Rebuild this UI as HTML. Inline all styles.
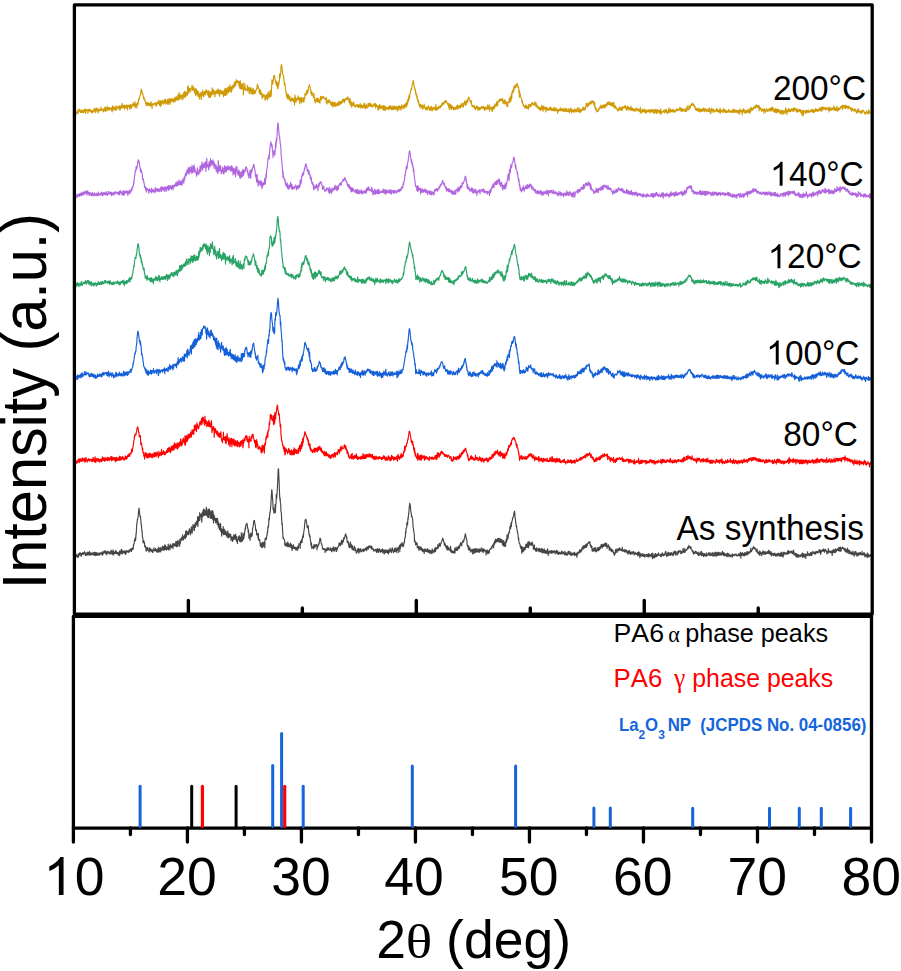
<!DOCTYPE html>
<html><head><meta charset="utf-8">
<style>
html,body{margin:0;padding:0;background:#fff;width:901px;height:971px;overflow:hidden;}
svg{display:block;}
text{font-family:"Liberation Sans",sans-serif;font-kerning:none;}
.serif{font-family:"Liberation Serif",serif;}
</style></head><body>
<svg width="901" height="971" viewBox="0 0 901 971">

<path d="M75.5 554.5 75.7 556.0 76.0 556.5 76.2 556.2 76.4 554.5 76.7 556.7 76.9 556.2 77.1 556.1 77.3 556.1 77.6 556.4 77.8 557.6 78.0 554.4 78.3 555.1 78.5 556.9 78.7 553.5 79.0 555.2 79.2 554.0 79.4 554.7 79.6 555.2 79.9 552.5 80.1 553.5 80.3 552.9 80.6 554.2 80.8 553.6 81.0 556.0 81.3 553.6 81.5 556.1 81.7 553.7 81.9 554.4 82.2 554.0 82.4 553.9 82.6 552.6 82.9 554.2 83.1 554.2 83.3 553.9 83.6 554.3 83.8 552.7 84.0 553.2 84.2 552.7 84.5 551.6 84.7 553.7 84.9 552.6 85.2 553.1 85.4 555.5 85.6 553.5 85.9 553.4 86.1 554.4 86.3 554.6 86.5 555.2 86.8 552.8 87.0 555.3 87.2 553.3 87.5 552.2 87.7 552.5 87.9 554.7 88.2 554.3 88.4 554.9 88.6 552.5 88.8 553.2 89.1 552.3 89.3 551.4 89.5 553.6 89.8 555.4 90.0 554.9 90.2 552.9 90.5 555.0 90.7 553.1 90.9 554.1 91.1 554.7 91.4 553.4 91.6 552.9 91.8 554.6 92.1 553.7 92.3 553.3 92.5 554.6 92.8 553.7 93.0 554.4 93.2 552.9 93.4 554.8 93.7 553.0 93.9 553.6 94.1 552.0 94.4 555.4 94.6 554.2 94.8 554.7 95.1 552.3 95.3 554.4 95.5 553.8 95.7 555.6 96.0 552.5 96.2 554.7 96.4 555.4 96.7 552.9 96.9 554.3 97.1 552.9 97.4 554.1 97.6 554.4 97.8 555.4 98.0 554.1 98.3 553.1 98.5 554.5 98.7 553.8 99.0 554.9 99.2 553.0 99.4 555.1 99.7 553.8 99.9 553.8 100.1 554.6 100.3 552.9 100.6 552.9 100.8 553.9 101.0 553.3 101.3 553.3 101.5 552.8 101.7 552.9 102.0 554.1 102.2 555.3 102.4 551.6 102.6 554.7 102.9 553.8 103.1 554.3 103.3 553.1 103.6 552.0 103.8 552.6 104.0 551.7 104.3 550.9 104.5 552.6 104.7 552.9 104.9 552.3 105.2 552.7 105.4 550.8 105.6 553.6 105.9 552.2 106.1 552.4 106.3 553.1 106.6 551.6 106.8 555.0 107.0 553.5 107.2 553.4 107.5 552.3 107.7 551.4 107.9 552.7 108.2 551.4 108.4 552.4 108.6 552.4 108.9 553.6 109.1 552.7 109.3 552.4 109.5 553.8 109.8 552.1 110.0 551.7 110.2 551.7 110.5 554.0 110.7 552.4 110.9 551.7 111.2 550.1 111.4 551.2 111.6 552.7 111.8 553.1 112.1 554.3 112.3 551.6 112.5 553.0 112.8 553.9 113.0 549.8 113.2 555.1 113.5 551.2 113.7 551.2 113.9 553.6 114.1 553.0 114.4 553.9 114.6 553.3 114.8 552.9 115.1 552.4 115.3 551.7 115.5 553.3 115.8 550.4 116.0 552.4 116.2 553.6 116.4 551.3 116.7 553.7 116.9 553.8 117.1 552.8 117.4 552.6 117.6 553.4 117.8 553.5 118.1 552.5 118.3 555.2 118.5 554.5 118.7 553.9 119.0 554.3 119.2 554.2 119.4 551.1 119.7 555.6 119.9 551.0 120.1 552.8 120.4 551.3 120.6 553.3 120.8 553.0 121.0 552.8 121.3 549.2 121.5 553.4 121.7 552.7 122.0 550.0 122.2 554.1 122.4 552.2 122.7 551.4 122.9 552.8 123.1 551.6 123.3 552.7 123.6 551.8 123.8 551.1 124.0 550.8 124.3 553.1 124.5 552.2 124.7 551.2 125.0 551.4 125.2 551.0 125.4 554.5 125.6 552.4 125.9 552.1 126.1 553.7 126.3 551.1 126.6 550.6 126.8 551.2 127.0 552.0 127.3 551.5 127.5 551.3 127.7 551.9 127.9 551.2 128.2 550.3 128.4 552.5 128.6 551.3 128.9 551.2 129.1 552.1 129.3 552.0 129.6 550.1 129.8 550.4 130.0 549.4 130.2 549.4 130.5 551.0 130.7 549.9 130.9 549.1 131.2 548.5 131.4 551.5 131.6 549.2 131.9 549.8 132.1 549.2 132.3 548.0 132.5 549.5 132.8 548.9 133.0 549.6 133.2 547.9 133.5 544.6 133.7 545.2 133.9 544.3 134.2 543.5 134.4 541.1 134.6 539.6 134.8 540.7 135.1 540.5 135.3 537.6 135.5 540.8 135.8 537.8 136.0 533.7 136.2 534.6 136.5 527.2 136.7 525.3 136.9 522.8 137.1 522.6 137.4 519.2 137.6 519.5 137.8 518.2 138.1 516.4 138.3 514.8 138.5 511.9 138.8 510.0 139.0 508.1 139.2 509.0 139.4 511.7 139.7 513.4 139.9 516.0 140.1 517.0 140.4 516.3 140.6 517.7 140.8 519.8 141.1 524.2 141.3 523.7 141.5 526.0 141.7 528.9 142.0 531.2 142.2 532.5 142.4 536.5 142.7 537.7 142.9 538.9 143.1 542.8 143.4 541.6 143.6 540.5 143.8 540.7 144.0 542.7 144.3 542.1 144.5 542.7 144.7 546.6 145.0 545.5 145.2 545.5 145.4 547.2 145.7 546.8 145.9 548.3 146.1 551.2 146.3 548.8 146.6 548.2 146.8 547.6 147.0 550.1 147.3 549.2 147.5 550.0 147.7 547.5 148.0 549.2 148.2 550.0 148.4 550.7 148.6 550.5 148.9 549.9 149.1 552.1 149.3 550.4 149.6 547.8 149.8 548.8 150.0 550.5 150.3 550.8 150.5 548.7 150.7 548.8 150.9 550.9 151.2 550.8 151.4 550.9 151.6 551.4 151.9 550.5 152.1 549.3 152.3 552.1 152.6 551.7 152.8 552.6 153.0 551.0 153.2 550.5 153.5 550.6 153.7 550.7 153.9 547.9 154.2 550.1 154.4 549.8 154.6 550.8 154.9 550.7 155.1 549.8 155.3 549.6 155.5 548.4 155.8 550.6 156.0 549.5 156.2 549.7 156.5 551.6 156.7 551.5 156.9 549.7 157.2 552.4 157.4 551.0 157.6 550.1 157.8 548.8 158.1 548.8 158.3 551.2 158.5 547.2 158.8 552.1 159.0 550.7 159.2 549.2 159.5 551.8 159.7 549.9 159.9 547.8 160.1 548.5 160.4 547.9 160.6 547.7 160.8 551.9 161.1 549.3 161.3 548.9 161.5 550.1 161.8 549.8 162.0 548.0 162.2 547.5 162.4 546.1 162.7 550.0 162.9 548.3 163.1 549.9 163.4 548.6 163.6 546.6 163.8 547.6 164.1 550.5 164.3 547.5 164.5 549.0 164.7 544.9 165.0 547.0 165.2 549.5 165.4 545.4 165.7 549.5 165.9 547.3 166.1 547.0 166.4 549.9 166.6 547.1 166.8 549.4 167.0 547.2 167.3 548.2 167.5 549.1 167.7 549.1 168.0 547.1 168.2 544.0 168.4 549.9 168.7 546.4 168.9 549.0 169.1 545.9 169.3 546.3 169.6 547.1 169.8 546.8 170.0 549.7 170.3 544.0 170.5 545.7 170.7 546.9 171.0 547.1 171.2 546.4 171.4 546.5 171.6 547.7 171.9 545.2 172.1 545.1 172.3 545.7 172.6 546.9 172.8 543.5 173.0 548.6 173.3 545.0 173.5 544.4 173.7 544.8 173.9 543.5 174.2 543.7 174.4 544.6 174.6 545.8 174.9 546.1 175.1 544.2 175.3 544.3 175.6 545.4 175.8 541.5 176.0 544.2 176.2 546.0 176.5 546.8 176.7 543.6 176.9 541.4 177.2 542.5 177.4 545.4 177.6 546.5 177.9 542.6 178.1 540.2 178.3 542.8 178.5 543.6 178.8 543.6 179.0 542.5 179.2 545.9 179.5 541.5 179.7 546.2 179.9 539.2 180.2 543.5 180.4 542.7 180.6 541.9 180.8 538.9 181.1 539.8 181.3 537.8 181.5 539.8 181.8 540.0 182.0 540.3 182.2 536.9 182.5 537.5 182.7 534.7 182.9 538.6 183.1 536.3 183.4 540.0 183.6 536.8 183.8 538.6 184.1 536.7 184.3 537.2 184.5 536.6 184.8 534.5 185.0 538.3 185.2 534.6 185.4 538.6 185.7 531.0 185.9 534.6 186.1 537.0 186.4 536.8 186.6 530.9 186.8 534.9 187.1 534.6 187.3 534.5 187.5 533.0 187.7 531.8 188.0 533.6 188.2 534.1 188.4 534.8 188.7 532.2 188.9 530.4 189.1 533.5 189.4 528.7 189.6 529.9 189.8 529.7 190.0 530.8 190.3 531.0 190.5 534.7 190.7 531.5 191.0 532.0 191.2 528.7 191.4 526.9 191.7 528.3 191.9 527.7 192.1 533.3 192.3 531.7 192.6 530.1 192.8 527.7 193.0 524.6 193.3 526.6 193.5 525.6 193.7 525.0 194.0 527.6 194.2 530.3 194.4 530.7 194.6 525.0 194.9 525.3 195.1 525.4 195.3 522.7 195.6 527.1 195.8 524.8 196.0 523.4 196.3 524.1 196.5 521.2 196.7 521.4 196.9 524.8 197.2 523.8 197.4 521.3 197.6 516.8 197.9 526.5 198.1 520.9 198.3 521.9 198.6 516.5 198.8 520.2 199.0 519.8 199.2 518.8 199.5 520.7 199.7 512.5 199.9 520.0 200.2 515.4 200.4 514.7 200.6 515.6 200.9 516.6 201.1 515.7 201.3 513.8 201.5 516.3 201.8 522.3 202.0 516.0 202.2 512.8 202.5 517.0 202.7 515.7 202.9 511.0 203.2 515.7 203.4 509.2 203.6 513.2 203.8 515.7 204.1 509.3 204.3 510.9 204.5 510.3 204.8 515.2 205.0 510.6 205.2 512.2 205.5 513.5 205.7 515.0 205.9 514.5 206.1 510.3 206.4 507.4 206.6 515.6 206.8 513.2 207.1 515.0 207.3 511.4 207.5 513.3 207.8 517.5 208.0 509.2 208.2 513.1 208.4 509.2 208.7 517.6 208.9 514.3 209.1 511.0 209.4 509.1 209.6 514.2 209.8 514.4 210.1 513.5 210.3 517.8 210.5 511.2 210.7 516.3 211.0 518.4 211.2 512.5 211.4 516.6 211.7 518.5 211.9 510.5 212.1 512.6 212.4 510.9 212.6 515.8 212.8 519.7 213.0 511.2 213.3 515.5 213.5 522.9 213.7 514.6 214.0 518.3 214.2 518.6 214.4 516.1 214.7 520.2 214.9 519.2 215.1 518.3 215.3 518.3 215.6 522.7 215.8 520.2 216.0 518.3 216.3 519.3 216.5 521.7 216.7 522.5 217.0 518.4 217.2 524.4 217.4 519.7 217.6 518.7 217.9 522.8 218.1 524.8 218.3 526.8 218.6 522.2 218.8 524.5 219.0 528.3 219.3 526.2 219.5 529.4 219.7 528.8 219.9 524.2 220.2 526.3 220.4 530.7 220.6 523.5 220.9 531.5 221.1 529.6 221.3 528.5 221.6 536.1 221.8 529.1 222.0 529.8 222.2 530.7 222.5 530.8 222.7 532.9 222.9 532.7 223.2 526.6 223.4 534.7 223.6 534.6 223.9 534.4 224.1 533.6 224.3 529.2 224.5 534.4 224.8 531.9 225.0 530.6 225.2 533.2 225.5 534.7 225.7 531.2 225.9 531.2 226.2 534.9 226.4 536.0 226.6 532.7 226.8 534.5 227.1 534.2 227.3 537.2 227.5 535.0 227.8 530.7 228.0 532.9 228.2 537.4 228.5 537.8 228.7 537.9 228.9 534.8 229.1 533.5 229.4 537.0 229.6 535.3 229.8 535.2 230.1 534.4 230.3 536.7 230.5 534.2 230.8 535.3 231.0 540.3 231.2 536.2 231.4 539.1 231.7 537.1 231.9 537.6 232.1 537.2 232.4 541.5 232.6 537.8 232.8 537.8 233.1 537.7 233.3 536.4 233.5 540.0 233.7 536.0 234.0 534.7 234.2 538.4 234.4 538.9 234.7 535.7 234.9 538.8 235.1 538.3 235.4 535.2 235.6 534.2 235.8 539.4 236.0 538.8 236.3 540.6 236.5 536.3 236.7 541.5 237.0 539.5 237.2 540.3 237.4 543.4 237.7 539.5 237.9 539.3 238.1 538.9 238.3 536.9 238.6 539.6 238.8 536.7 239.0 537.3 239.3 535.7 239.5 540.9 239.7 539.0 240.0 541.6 240.2 537.8 240.4 538.1 240.6 537.3 240.9 536.7 241.1 542.0 241.3 532.7 241.6 540.9 241.8 540.6 242.0 537.1 242.3 538.2 242.5 541.0 242.7 537.7 242.9 533.2 243.2 535.6 243.4 539.3 243.6 534.2 243.9 538.2 244.1 534.1 244.3 535.8 244.6 532.4 244.8 531.4 245.0 531.0 245.2 527.8 245.5 529.4 245.7 525.6 245.9 525.9 246.2 524.0 246.4 524.0 246.6 524.1 246.9 523.4 247.1 523.9 247.3 525.3 247.5 526.8 247.8 528.6 248.0 528.6 248.2 532.1 248.5 529.7 248.7 532.2 248.9 538.1 249.2 534.5 249.4 536.3 249.6 536.1 249.8 536.3 250.1 540.3 250.3 536.5 250.5 533.3 250.8 535.8 251.0 536.2 251.2 534.1 251.5 533.4 251.7 536.7 251.9 534.4 252.1 535.6 252.4 531.6 252.6 528.2 252.8 528.0 253.1 526.4 253.3 524.6 253.5 523.7 253.8 520.7 254.0 520.7 254.2 521.2 254.4 520.3 254.7 522.6 254.9 523.9 255.1 524.4 255.4 526.4 255.6 530.1 255.8 529.0 256.1 530.9 256.3 531.4 256.5 530.0 256.7 534.9 257.0 534.9 257.2 534.4 257.4 534.1 257.7 533.6 257.9 534.2 258.1 538.4 258.4 533.6 258.6 540.0 258.8 539.5 259.0 540.5 259.3 540.4 259.5 539.3 259.7 540.3 260.0 542.4 260.2 544.2 260.4 546.4 260.7 544.9 260.9 545.4 261.1 543.0 261.3 546.0 261.6 545.4 261.8 547.7 262.0 546.2 262.3 544.5 262.5 542.4 262.7 547.3 263.0 542.8 263.2 545.0 263.4 546.3 263.6 545.9 263.9 542.3 264.1 542.0 264.3 545.3 264.6 544.0 264.8 547.8 265.0 540.2 265.3 538.1 265.5 538.4 265.7 538.4 265.9 538.8 266.2 539.5 266.4 539.0 266.6 537.4 266.9 535.1 267.1 535.2 267.3 531.9 267.6 532.7 267.8 528.5 268.0 526.2 268.2 527.8 268.5 526.0 268.7 525.0 268.9 518.3 269.2 520.2 269.4 519.2 269.6 515.5 269.9 512.1 270.1 512.3 270.3 511.4 270.5 508.5 270.8 505.4 271.0 502.1 271.2 498.1 271.5 493.6 271.7 490.0 271.9 489.7 272.2 493.2 272.4 496.6 272.6 499.5 272.8 500.9 273.1 509.6 273.3 507.1 273.5 508.2 273.8 511.1 274.0 513.1 274.2 509.7 274.5 510.7 274.7 512.1 274.9 510.5 275.1 504.5 275.4 512.7 275.6 507.8 275.8 504.4 276.1 502.8 276.3 494.3 276.5 498.3 276.8 496.9 277.0 494.1 277.2 491.1 277.4 487.1 277.7 482.4 277.9 476.5 278.1 470.9 278.4 468.7 278.6 469.8 278.8 475.1 279.1 481.6 279.3 487.5 279.5 492.4 279.7 496.6 280.0 499.7 280.2 498.0 280.4 503.2 280.7 503.7 280.9 511.2 281.1 511.7 281.4 513.2 281.6 518.5 281.8 521.0 282.0 524.8 282.3 523.4 282.5 529.5 282.7 531.5 283.0 538.2 283.2 538.0 283.4 537.2 283.7 538.4 283.9 539.3 284.1 539.5 284.3 539.7 284.6 540.1 284.8 545.1 285.0 542.4 285.3 545.1 285.5 545.9 285.7 545.4 286.0 544.5 286.2 545.6 286.4 543.7 286.6 543.1 286.9 546.2 287.1 545.8 287.3 546.7 287.6 544.9 287.8 541.8 288.0 544.2 288.3 543.9 288.5 546.7 288.7 543.8 288.9 546.7 289.2 545.6 289.4 545.7 289.6 545.7 289.9 546.3 290.1 543.7 290.3 547.3 290.6 543.0 290.8 544.5 291.0 544.6 291.2 547.0 291.5 544.6 291.7 548.8 291.9 544.7 292.2 550.4 292.4 547.4 292.6 547.9 292.9 547.2 293.1 548.2 293.3 545.7 293.5 544.8 293.8 548.5 294.0 548.3 294.2 547.1 294.5 547.0 294.7 547.3 294.9 547.9 295.2 549.2 295.4 547.4 295.6 548.5 295.8 550.0 296.1 548.0 296.3 549.3 296.5 547.5 296.8 548.7 297.0 548.3 297.2 550.7 297.5 548.0 297.7 546.3 297.9 548.0 298.1 546.3 298.4 548.8 298.6 546.9 298.8 545.1 299.1 543.6 299.3 544.9 299.5 544.0 299.8 543.7 300.0 543.6 300.2 548.3 300.4 541.3 300.7 542.4 300.9 542.9 301.1 543.0 301.4 540.4 301.6 540.6 301.8 539.3 302.1 542.5 302.3 537.8 302.5 538.6 302.7 536.2 303.0 537.7 303.2 534.5 303.4 536.9 303.7 532.2 303.9 531.4 304.1 529.8 304.4 528.3 304.6 525.4 304.8 522.7 305.0 520.8 305.3 520.1 305.5 519.6 305.7 519.3 306.0 519.5 306.2 521.0 306.4 521.9 306.7 523.3 306.9 525.0 307.1 526.8 307.3 527.8 307.6 527.7 307.8 526.4 308.0 527.6 308.3 525.7 308.5 530.8 308.7 530.5 309.0 533.9 309.2 535.2 309.4 534.0 309.6 536.6 309.9 536.7 310.1 535.7 310.3 540.0 310.6 540.8 310.8 542.1 311.0 545.6 311.3 542.7 311.5 543.0 311.7 548.1 311.9 548.6 312.2 547.7 312.4 546.8 312.6 547.1 312.9 547.1 313.1 546.9 313.3 546.2 313.6 548.6 313.8 545.8 314.0 544.6 314.2 546.7 314.5 545.5 314.7 545.2 314.9 547.6 315.2 544.8 315.4 545.1 315.6 545.7 315.9 545.2 316.1 546.0 316.3 546.1 316.5 544.7 316.8 544.5 317.0 549.8 317.2 546.9 317.5 545.8 317.7 547.0 317.9 546.2 318.2 545.7 318.4 544.6 318.6 544.1 318.8 543.3 319.1 544.2 319.3 541.6 319.5 541.0 319.8 540.0 320.0 538.1 320.2 539.4 320.5 539.3 320.7 539.0 320.9 542.0 321.1 542.9 321.4 543.7 321.6 543.8 321.8 544.3 322.1 545.9 322.3 546.2 322.5 548.7 322.8 548.7 323.0 549.7 323.2 548.8 323.4 548.5 323.7 548.5 323.9 548.5 324.1 548.7 324.4 549.5 324.6 549.3 324.8 549.1 325.1 552.5 325.3 549.4 325.5 549.7 325.7 549.0 326.0 550.7 326.2 550.6 326.4 549.6 326.7 551.0 326.9 550.4 327.1 547.8 327.4 547.9 327.6 548.4 327.8 549.9 328.0 548.8 328.3 547.6 328.5 549.0 328.7 549.8 329.0 549.7 329.2 550.0 329.4 549.5 329.7 550.0 329.9 549.4 330.1 548.5 330.3 547.8 330.6 549.5 330.8 550.3 331.0 548.7 331.3 548.7 331.5 550.6 331.7 551.8 332.0 551.4 332.2 548.6 332.4 548.3 332.6 548.9 332.9 549.5 333.1 549.7 333.3 546.7 333.6 550.9 333.8 550.4 334.0 548.5 334.3 549.8 334.5 548.2 334.7 549.0 334.9 551.1 335.2 547.2 335.4 548.2 335.6 548.3 335.9 548.5 336.1 549.3 336.3 548.7 336.6 551.4 336.8 547.6 337.0 549.9 337.2 548.2 337.5 549.0 337.7 547.9 337.9 547.4 338.2 546.6 338.4 546.7 338.6 545.3 338.9 545.5 339.1 542.8 339.3 545.3 339.5 544.1 339.8 544.6 340.0 543.4 340.2 545.8 340.5 543.7 340.7 543.4 340.9 545.0 341.2 541.4 341.4 542.8 341.6 540.2 341.8 540.7 342.1 540.6 342.3 544.2 342.5 540.3 342.8 542.2 343.0 541.5 343.2 542.1 343.5 539.6 343.7 538.0 343.9 537.6 344.1 539.3 344.4 537.7 344.6 537.5 344.8 536.7 345.1 535.2 345.3 534.6 345.5 534.8 345.8 533.9 346.0 535.1 346.2 536.2 346.4 537.9 346.7 536.8 346.9 537.5 347.1 542.0 347.4 542.2 347.6 541.5 347.8 542.0 348.1 543.3 348.3 541.5 348.5 543.0 348.7 546.1 349.0 546.4 349.2 547.6 349.4 546.1 349.7 547.4 349.9 543.7 350.1 544.0 350.4 542.0 350.6 544.2 350.8 543.8 351.0 547.5 351.3 547.8 351.5 545.0 351.7 544.8 352.0 548.6 352.2 549.2 352.4 545.9 352.7 548.1 352.9 549.8 353.1 548.5 353.3 550.3 353.6 548.5 353.8 548.9 354.0 548.2 354.3 546.0 354.5 548.3 354.7 547.9 355.0 550.8 355.2 547.7 355.4 549.5 355.6 549.9 355.9 550.8 356.1 550.3 356.3 553.2 356.6 551.2 356.8 551.0 357.0 551.2 357.3 552.3 357.5 548.9 357.7 549.9 357.9 550.9 358.2 549.8 358.4 551.0 358.6 548.3 358.9 553.3 359.1 551.1 359.3 550.8 359.6 549.3 359.8 551.7 360.0 551.8 360.2 549.8 360.5 550.4 360.7 548.5 360.9 550.7 361.2 550.5 361.4 551.7 361.6 551.0 361.9 551.9 362.1 550.0 362.3 550.5 362.5 549.9 362.8 550.1 363.0 549.2 363.2 549.9 363.5 549.2 363.7 551.4 363.9 550.4 364.2 550.0 364.4 549.1 364.6 550.9 364.8 549.5 365.1 549.9 365.3 548.4 365.5 549.3 365.8 547.9 366.0 547.8 366.2 547.8 366.5 550.6 366.7 548.4 366.9 550.0 367.1 546.8 367.4 548.3 367.6 547.0 367.8 547.9 368.1 549.2 368.3 548.9 368.5 546.2 368.8 547.8 369.0 547.7 369.2 546.6 369.4 546.2 369.7 545.9 369.9 547.1 370.1 545.7 370.4 547.0 370.6 547.6 370.8 546.7 371.1 546.3 371.3 548.9 371.5 547.9 371.7 546.2 372.0 548.1 372.2 549.0 372.4 548.0 372.7 549.5 372.9 549.4 373.1 549.8 373.4 549.0 373.6 548.9 373.8 551.1 374.0 550.2 374.3 550.5 374.5 550.7 374.7 550.4 375.0 550.5 375.2 550.4 375.4 550.1 375.7 549.3 375.9 551.1 376.1 550.5 376.3 549.7 376.6 551.2 376.8 552.6 377.0 549.0 377.3 550.5 377.5 551.9 377.7 548.5 378.0 550.3 378.2 550.2 378.4 549.6 378.6 552.4 378.9 551.4 379.1 550.3 379.3 548.7 379.6 550.6 379.8 549.4 380.0 551.1 380.3 550.1 380.5 550.9 380.7 552.4 380.9 551.6 381.2 550.3 381.4 550.5 381.6 549.6 381.9 551.6 382.1 549.6 382.3 550.0 382.6 548.9 382.8 550.9 383.0 553.2 383.2 550.2 383.5 550.3 383.7 550.2 383.9 551.0 384.2 551.4 384.4 554.0 384.6 552.5 384.9 551.2 385.1 549.7 385.3 552.7 385.5 551.6 385.8 550.1 386.0 551.5 386.2 551.2 386.5 552.5 386.7 551.6 386.9 550.1 387.2 551.4 387.4 553.0 387.6 551.5 387.8 550.4 388.1 550.2 388.3 553.9 388.5 552.5 388.8 549.7 389.0 551.5 389.2 552.4 389.5 551.8 389.7 550.1 389.9 550.6 390.1 548.2 390.4 550.3 390.6 550.4 390.8 551.7 391.1 550.2 391.3 549.8 391.5 552.5 391.8 551.7 392.0 549.7 392.2 547.7 392.4 548.1 392.7 550.1 392.9 550.3 393.1 550.1 393.4 551.4 393.6 552.6 393.8 551.2 394.1 550.6 394.3 550.5 394.5 548.3 394.7 551.4 395.0 549.8 395.2 551.4 395.4 548.5 395.7 549.7 395.9 547.9 396.1 549.6 396.4 552.3 396.6 549.0 396.8 549.3 397.0 549.3 397.3 550.3 397.5 548.3 397.7 548.8 398.0 547.4 398.2 552.7 398.4 548.0 398.7 548.4 398.9 546.8 399.1 548.3 399.3 547.7 399.6 545.2 399.8 551.6 400.0 546.9 400.3 546.7 400.5 548.2 400.7 544.0 401.0 546.5 401.2 544.7 401.4 545.3 401.6 545.5 401.9 542.5 402.1 545.0 402.3 545.9 402.6 543.9 402.8 545.4 403.0 544.6 403.3 546.8 403.5 544.4 403.7 544.9 403.9 543.6 404.2 541.5 404.4 542.9 404.6 539.6 404.9 538.0 405.1 537.1 405.3 537.8 405.6 531.6 405.8 533.7 406.0 528.3 406.2 528.3 406.5 528.2 406.7 527.5 406.9 522.6 407.2 524.4 407.4 522.8 407.6 524.8 407.9 517.9 408.1 519.7 408.3 516.9 408.5 515.2 408.8 513.2 409.0 510.3 409.2 507.9 409.5 505.1 409.7 503.2 409.9 504.3 410.2 504.9 410.4 506.2 410.6 509.1 410.8 511.3 411.1 512.8 411.3 514.2 411.5 516.6 411.8 515.8 412.0 516.5 412.2 516.9 412.5 518.5 412.7 520.2 412.9 523.6 413.1 527.4 413.4 528.0 413.6 530.2 413.8 531.3 414.1 533.4 414.3 534.1 414.5 541.4 414.8 540.3 415.0 540.8 415.2 542.6 415.4 542.6 415.7 545.0 415.9 544.2 416.1 542.4 416.4 543.5 416.6 543.3 416.8 544.7 417.1 543.1 417.3 548.0 417.5 546.5 417.7 546.6 418.0 547.1 418.2 547.9 418.4 546.2 418.7 547.9 418.9 550.3 419.1 550.4 419.4 547.2 419.6 548.2 419.8 548.5 420.0 546.5 420.3 548.2 420.5 549.0 420.7 549.8 421.0 549.0 421.2 547.3 421.4 549.0 421.7 548.3 421.9 550.7 422.1 550.6 422.3 548.9 422.6 551.3 422.8 549.2 423.0 550.1 423.3 551.7 423.5 550.7 423.7 549.6 424.0 550.2 424.2 553.5 424.4 549.8 424.6 550.7 424.9 548.9 425.1 551.0 425.3 549.8 425.6 551.5 425.8 549.4 426.0 551.4 426.3 550.7 426.5 551.1 426.7 551.4 426.9 551.8 427.2 549.7 427.4 548.5 427.6 550.8 427.9 551.9 428.1 549.6 428.3 552.4 428.6 550.0 428.8 551.4 429.0 551.3 429.2 551.4 429.5 553.1 429.7 550.0 429.9 550.3 430.2 550.9 430.4 551.9 430.6 550.6 430.9 553.4 431.1 551.8 431.3 551.8 431.5 551.3 431.8 553.1 432.0 553.7 432.2 548.9 432.5 552.8 432.7 550.8 432.9 552.4 433.2 551.9 433.4 551.9 433.6 551.1 433.8 550.4 434.1 551.8 434.3 549.4 434.5 552.2 434.8 551.0 435.0 548.3 435.2 547.6 435.5 551.5 435.7 549.1 435.9 547.6 436.1 549.9 436.4 548.7 436.6 548.9 436.8 548.1 437.1 548.0 437.3 548.4 437.5 548.5 437.8 544.7 438.0 546.8 438.2 547.6 438.4 547.8 438.7 545.8 438.9 545.9 439.1 544.7 439.4 543.2 439.6 544.6 439.8 545.9 440.1 544.8 440.3 546.2 440.5 543.6 440.7 544.4 441.0 543.2 441.2 543.3 441.4 541.6 441.7 541.3 441.9 540.6 442.1 540.0 442.4 540.4 442.6 538.1 442.8 539.3 443.0 538.7 443.3 539.7 443.5 540.1 443.7 541.1 444.0 543.1 444.2 542.4 444.4 545.3 444.7 542.8 444.9 544.8 445.1 544.6 445.3 544.1 445.6 546.5 445.8 545.5 446.0 547.8 446.3 545.9 446.5 547.5 446.7 547.8 447.0 550.0 447.2 548.3 447.4 547.1 447.6 545.9 447.9 548.0 448.1 550.0 448.3 549.2 448.6 547.6 448.8 549.0 449.0 549.7 449.3 548.8 449.5 549.3 449.7 549.3 449.9 549.7 450.2 551.0 450.4 546.6 450.6 546.4 450.9 551.6 451.1 549.7 451.3 552.0 451.6 552.6 451.8 550.2 452.0 550.7 452.2 552.5 452.5 552.7 452.7 551.9 452.9 552.6 453.2 551.3 453.4 552.4 453.6 551.4 453.9 553.1 454.1 550.9 454.3 551.6 454.5 551.7 454.8 548.1 455.0 553.0 455.2 548.6 455.5 550.1 455.7 549.7 455.9 549.8 456.2 547.1 456.4 550.5 456.6 549.9 456.8 549.5 457.1 549.5 457.3 550.5 457.5 548.1 457.8 547.4 458.0 549.3 458.2 546.3 458.5 547.1 458.7 546.2 458.9 548.7 459.1 546.9 459.4 548.1 459.6 547.3 459.8 544.8 460.1 545.8 460.3 544.2 460.5 542.8 460.8 545.0 461.0 543.2 461.2 544.1 461.4 543.7 461.7 545.8 461.9 542.9 462.1 542.3 462.4 542.6 462.6 541.1 462.8 542.3 463.1 542.5 463.3 541.0 463.5 540.0 463.7 540.1 464.0 540.9 464.2 538.9 464.4 538.6 464.7 537.1 464.9 535.9 465.1 535.6 465.4 533.7 465.6 535.0 465.8 535.3 466.0 537.1 466.3 538.1 466.5 539.3 466.7 539.1 467.0 542.4 467.2 545.2 467.4 545.6 467.7 546.5 467.9 545.3 468.1 546.3 468.3 548.9 468.6 546.0 468.8 546.5 469.0 550.4 469.3 549.3 469.5 549.9 469.7 548.5 470.0 547.8 470.2 549.2 470.4 550.0 470.6 551.5 470.9 552.3 471.1 549.8 471.3 551.3 471.6 549.9 471.8 550.3 472.0 550.5 472.3 549.3 472.5 549.5 472.7 554.0 472.9 549.6 473.2 553.0 473.4 550.1 473.6 551.4 473.9 548.8 474.1 553.4 474.3 551.5 474.6 548.9 474.8 550.7 475.0 551.7 475.2 548.9 475.5 552.5 475.7 550.3 475.9 550.5 476.2 548.6 476.4 550.1 476.6 552.1 476.9 550.5 477.1 549.7 477.3 549.1 477.5 549.5 477.8 551.8 478.0 550.1 478.2 549.0 478.5 551.8 478.7 550.3 478.9 552.4 479.2 552.5 479.4 550.6 479.6 548.9 479.8 549.4 480.1 551.3 480.3 551.1 480.5 550.0 480.8 551.1 481.0 550.1 481.2 547.9 481.5 550.7 481.7 549.8 481.9 550.0 482.1 549.4 482.4 552.0 482.6 550.1 482.8 548.5 483.1 549.7 483.3 552.3 483.5 549.6 483.8 549.0 484.0 550.4 484.2 550.8 484.4 550.9 484.7 549.7 484.9 550.2 485.1 550.2 485.4 551.6 485.6 550.5 485.8 551.5 486.1 555.0 486.3 551.3 486.5 551.3 486.7 551.2 487.0 549.8 487.2 552.5 487.4 550.4 487.7 553.7 487.9 550.7 488.1 553.7 488.4 551.0 488.6 552.5 488.8 550.8 489.0 552.7 489.3 553.0 489.5 550.1 489.7 549.7 490.0 549.1 490.2 549.1 490.4 549.0 490.7 549.1 490.9 549.1 491.1 547.5 491.3 547.7 491.6 547.0 491.8 546.3 492.0 548.3 492.3 545.7 492.5 545.8 492.7 545.5 493.0 545.1 493.2 544.2 493.4 544.7 493.6 547.6 493.9 543.1 494.1 542.7 494.3 544.6 494.6 541.0 494.8 543.4 495.0 541.3 495.3 540.6 495.5 539.4 495.7 542.6 495.9 539.4 496.2 541.1 496.4 540.1 496.6 541.4 496.9 539.5 497.1 541.8 497.3 540.4 497.6 541.3 497.8 538.3 498.0 540.4 498.2 541.6 498.5 541.1 498.7 538.5 498.9 538.4 499.2 539.4 499.4 539.5 499.6 542.1 499.9 541.5 500.1 538.3 500.3 541.8 500.5 542.1 500.8 542.5 501.0 540.9 501.2 540.0 501.5 539.7 501.7 542.5 501.9 539.3 502.2 540.6 502.4 544.5 502.6 544.8 502.8 544.3 503.1 542.3 503.3 546.0 503.5 540.5 503.8 542.0 504.0 543.8 504.2 545.5 504.5 542.0 504.7 546.4 504.9 544.7 505.1 544.8 505.4 543.5 505.6 546.1 505.8 541.6 506.1 539.5 506.3 542.3 506.5 542.1 506.8 540.6 507.0 534.9 507.2 539.7 507.4 537.2 507.7 535.4 507.9 537.9 508.1 538.4 508.4 533.2 508.6 534.4 508.8 532.2 509.1 533.2 509.3 531.8 509.5 532.3 509.7 529.3 510.0 526.4 510.2 529.0 510.4 527.7 510.7 528.5 510.9 523.2 511.1 524.4 511.4 526.5 511.6 522.2 511.8 522.5 512.0 521.0 512.3 520.3 512.5 518.8 512.7 518.0 513.0 517.2 513.2 517.0 513.4 516.8 513.7 515.9 513.9 513.4 514.1 512.4 514.3 511.9 514.6 511.2 514.8 513.5 515.0 516.8 515.3 518.8 515.5 520.7 515.7 522.7 516.0 523.5 516.2 526.7 516.4 526.3 516.6 525.9 516.9 528.8 517.1 530.6 517.3 530.9 517.6 532.8 517.8 533.0 518.0 534.5 518.3 537.7 518.5 539.8 518.7 538.0 518.9 541.9 519.2 542.5 519.4 543.7 519.6 543.9 519.9 544.0 520.1 544.6 520.3 546.8 520.6 547.4 520.8 548.4 521.0 546.5 521.2 546.0 521.5 547.7 521.7 553.2 521.9 548.1 522.2 547.3 522.4 547.0 522.6 549.9 522.9 551.9 523.1 549.0 523.3 551.8 523.5 548.1 523.8 547.5 524.0 548.2 524.2 550.3 524.5 547.6 524.7 547.2 524.9 547.7 525.2 549.6 525.4 548.0 525.6 547.6 525.8 544.2 526.1 546.3 526.3 547.0 526.5 547.3 526.8 547.2 527.0 543.8 527.2 547.3 527.5 544.2 527.7 547.2 527.9 542.0 528.1 545.9 528.4 544.9 528.6 547.6 528.8 544.3 529.1 541.4 529.3 544.7 529.5 543.4 529.8 542.9 530.0 545.1 530.2 544.2 530.4 543.5 530.7 543.2 530.9 543.3 531.1 544.5 531.4 545.4 531.6 542.9 531.8 542.5 532.1 542.0 532.3 543.1 532.5 545.0 532.7 543.5 533.0 545.4 533.2 545.5 533.4 549.1 533.7 546.6 533.9 547.7 534.1 548.8 534.4 545.1 534.6 549.5 534.8 548.8 535.0 549.7 535.3 548.6 535.5 550.7 535.7 548.7 536.0 549.5 536.2 551.5 536.4 551.2 536.7 547.7 536.9 548.6 537.1 549.4 537.3 549.1 537.6 549.6 537.8 550.9 538.0 550.6 538.3 550.6 538.5 551.1 538.7 548.4 539.0 549.3 539.2 551.7 539.4 548.8 539.6 548.5 539.9 549.6 540.1 548.8 540.3 549.8 540.6 551.9 540.8 550.6 541.0 550.5 541.3 549.3 541.5 548.9 541.7 552.2 541.9 548.3 542.2 549.4 542.4 553.0 542.6 550.9 542.9 549.5 543.1 552.7 543.3 550.6 543.6 551.2 543.8 552.5 544.0 550.4 544.2 548.8 544.5 551.2 544.7 553.0 544.9 551.7 545.2 551.8 545.4 550.3 545.6 551.7 545.9 553.4 546.1 553.0 546.3 551.2 546.5 552.8 546.8 551.1 547.0 553.3 547.2 549.9 547.5 551.7 547.7 548.7 547.9 551.2 548.2 555.4 548.4 551.3 548.6 553.5 548.8 552.3 549.1 553.5 549.3 551.1 549.5 551.1 549.8 551.6 550.0 551.8 550.2 551.8 550.5 552.4 550.7 550.8 550.9 552.6 551.1 553.4 551.4 550.9 551.6 550.7 551.8 552.9 552.1 552.2 552.3 553.0 552.5 550.8 552.8 551.5 553.0 552.6 553.2 551.3 553.4 552.4 553.7 552.2 553.9 551.2 554.1 551.8 554.4 551.1 554.6 550.8 554.8 551.4 555.1 554.0 555.3 552.2 555.5 552.7 555.7 551.6 556.0 551.8 556.2 552.4 556.4 550.3 556.7 550.7 556.9 551.1 557.1 553.9 557.4 553.2 557.6 551.0 557.8 551.7 558.0 553.2 558.3 552.2 558.5 554.5 558.7 553.1 559.0 552.3 559.2 553.0 559.4 553.7 559.7 553.1 559.9 552.2 560.1 553.9 560.3 554.0 560.6 553.1 560.8 554.0 561.0 554.0 561.3 553.7 561.5 551.4 561.7 551.1 562.0 553.1 562.2 553.8 562.4 552.9 562.6 552.0 562.9 553.4 563.1 552.0 563.3 552.2 563.6 553.1 563.8 553.9 564.0 553.9 564.3 552.9 564.5 553.1 564.7 554.9 564.9 551.2 565.2 553.5 565.4 554.0 565.6 554.4 565.9 553.4 566.1 552.9 566.3 555.0 566.6 553.1 566.8 553.4 567.0 555.4 567.2 553.8 567.5 553.2 567.7 552.9 567.9 554.4 568.2 551.2 568.4 553.0 568.6 553.6 568.9 553.8 569.1 551.3 569.3 553.1 569.5 554.1 569.8 552.5 570.0 552.7 570.2 551.9 570.5 555.1 570.7 555.2 570.9 555.2 571.2 553.0 571.4 553.9 571.6 554.4 571.8 555.3 572.1 552.9 572.3 554.9 572.5 554.4 572.8 555.0 573.0 554.9 573.2 553.5 573.5 554.4 573.7 553.5 573.9 552.5 574.1 554.3 574.4 552.2 574.6 555.7 574.8 554.9 575.1 553.7 575.3 554.8 575.5 553.8 575.8 554.4 576.0 553.1 576.2 555.4 576.4 553.0 576.7 553.4 576.9 557.3 577.1 555.2 577.4 553.3 577.6 554.7 577.8 552.2 578.1 553.2 578.3 552.1 578.5 552.0 578.7 552.5 579.0 552.8 579.2 553.1 579.4 551.4 579.7 549.5 579.9 551.4 580.1 551.0 580.4 552.0 580.6 550.7 580.8 552.2 581.0 550.9 581.3 549.3 581.5 549.7 581.7 548.9 582.0 550.8 582.2 547.3 582.4 547.9 582.7 548.6 582.9 546.5 583.1 548.7 583.3 545.7 583.6 548.9 583.8 547.8 584.0 547.0 584.3 547.1 584.5 545.5 584.7 548.0 585.0 547.7 585.2 545.1 585.4 546.8 585.6 546.0 585.9 545.9 586.1 544.0 586.3 547.5 586.6 546.3 586.8 544.1 587.0 544.4 587.3 545.8 587.5 543.7 587.7 543.2 587.9 543.4 588.2 543.2 588.4 542.4 588.6 542.3 588.9 542.9 589.1 541.8 589.3 541.9 589.6 542.8 589.8 541.6 590.0 543.0 590.2 545.2 590.5 544.3 590.7 546.6 590.9 546.4 591.2 547.4 591.4 545.8 591.6 546.2 591.9 546.5 592.1 550.9 592.3 549.0 592.5 550.1 592.8 551.1 593.0 551.5 593.2 549.7 593.5 548.4 593.7 549.8 593.9 550.5 594.2 550.2 594.4 550.5 594.6 547.9 594.8 549.5 595.1 548.7 595.3 551.7 595.5 548.8 595.8 547.5 596.0 550.5 596.2 551.8 596.5 551.1 596.7 550.9 596.9 550.5 597.1 549.7 597.4 549.3 597.6 547.9 597.8 549.8 598.1 550.8 598.3 550.5 598.5 547.3 598.8 550.5 599.0 548.6 599.2 549.4 599.4 549.7 599.7 547.2 599.9 548.0 600.1 548.9 600.4 546.5 600.6 546.9 600.8 547.9 601.1 544.5 601.3 544.8 601.5 546.0 601.7 544.6 602.0 545.4 602.2 547.9 602.4 546.5 602.7 547.0 602.9 544.2 603.1 546.4 603.4 545.0 603.6 546.4 603.8 544.2 604.0 544.9 604.3 544.9 604.5 546.0 604.7 544.5 605.0 543.1 605.2 544.3 605.4 546.2 605.7 543.8 605.9 543.1 606.1 544.2 606.3 546.0 606.6 543.3 606.8 544.1 607.0 548.5 607.3 545.4 607.5 545.7 607.7 546.5 608.0 546.6 608.2 545.7 608.4 546.4 608.6 544.8 608.9 547.8 609.1 547.6 609.3 550.3 609.6 546.9 609.8 547.4 610.0 547.5 610.3 548.3 610.5 549.8 610.7 550.6 610.9 549.0 611.2 549.7 611.4 549.2 611.6 551.6 611.9 549.3 612.1 550.0 612.3 551.1 612.6 551.6 612.8 550.1 613.0 551.4 613.2 552.0 613.5 553.4 613.7 552.1 613.9 552.2 614.2 555.2 614.4 553.9 614.6 555.1 614.9 554.5 615.1 552.9 615.3 553.2 615.5 549.5 615.8 550.0 616.0 551.0 616.2 552.3 616.5 551.2 616.7 550.0 616.9 549.1 617.2 552.1 617.4 548.9 617.6 550.3 617.8 550.0 618.1 549.3 618.3 549.7 618.5 549.6 618.8 550.9 619.0 548.1 619.2 548.6 619.5 547.8 619.7 550.1 619.9 549.7 620.1 549.3 620.4 549.2 620.6 549.0 620.8 549.7 621.1 550.4 621.3 550.3 621.5 549.6 621.8 550.7 622.0 549.7 622.2 547.2 622.4 551.3 622.7 549.5 622.9 549.5 623.1 550.9 623.4 550.3 623.6 550.0 623.8 550.4 624.1 551.4 624.3 550.8 624.5 550.7 624.7 549.6 625.0 552.1 625.2 549.7 625.4 550.3 625.7 551.7 625.9 550.8 626.1 551.7 626.4 550.0 626.6 551.2 626.8 552.3 627.0 552.9 627.3 551.3 627.5 551.9 627.7 552.2 628.0 554.2 628.2 550.8 628.4 553.7 628.7 551.0 628.9 552.4 629.1 553.3 629.3 550.8 629.6 552.9 629.8 550.5 630.0 553.1 630.3 552.6 630.5 554.5 630.7 552.9 631.0 553.2 631.2 552.4 631.4 554.0 631.6 552.2 631.9 551.8 632.1 552.9 632.3 553.6 632.6 553.6 632.8 553.0 633.0 552.6 633.3 551.5 633.5 551.6 633.7 553.1 633.9 554.0 634.2 555.0 634.4 554.5 634.6 554.2 634.9 553.1 635.1 552.1 635.3 553.3 635.6 552.9 635.8 553.1 636.0 554.4 636.2 553.2 636.5 553.4 636.7 554.0 636.9 554.2 637.2 554.2 637.4 555.2 637.6 552.4 637.9 555.9 638.1 553.7 638.3 553.0 638.5 555.4 638.8 551.9 639.0 554.5 639.2 552.0 639.5 555.6 639.7 553.7 639.9 557.8 640.2 553.2 640.4 556.3 640.6 554.4 640.8 554.5 641.1 554.0 641.3 554.0 641.5 554.4 641.8 556.4 642.0 555.7 642.2 555.6 642.5 553.8 642.7 555.1 642.9 555.8 643.1 553.8 643.4 555.9 643.6 556.5 643.8 555.4 644.1 555.2 644.3 555.7 644.5 554.3 644.8 556.3 645.0 557.3 645.2 555.1 645.4 555.5 645.7 554.8 645.9 554.8 646.1 554.7 646.4 554.4 646.6 556.5 646.8 555.0 647.1 555.2 647.3 555.5 647.5 554.3 647.7 556.5 648.0 556.4 648.2 557.0 648.4 553.9 648.7 555.7 648.9 557.0 649.1 553.7 649.4 555.0 649.6 554.2 649.8 555.7 650.0 556.0 650.3 555.8 650.5 555.2 650.7 556.2 651.0 554.6 651.2 556.9 651.4 555.7 651.7 553.6 651.9 555.6 652.1 556.2 652.3 553.0 652.6 558.6 652.8 555.1 653.0 553.8 653.3 557.1 653.5 557.6 653.7 557.1 654.0 556.2 654.2 555.6 654.4 557.8 654.6 556.6 654.9 553.8 655.1 556.9 655.3 557.0 655.6 553.6 655.8 553.7 656.0 556.9 656.3 555.4 656.5 554.8 656.7 554.8 656.9 556.5 657.2 555.0 657.4 554.0 657.6 555.8 657.9 555.0 658.1 555.2 658.3 555.2 658.6 552.8 658.8 555.0 659.0 554.9 659.2 555.2 659.5 555.2 659.7 555.1 659.9 554.9 660.2 555.7 660.4 554.9 660.6 556.5 660.9 554.3 661.1 554.2 661.3 556.6 661.5 555.1 661.8 554.5 662.0 553.1 662.2 555.1 662.5 553.0 662.7 553.8 662.9 554.3 663.2 555.9 663.4 555.6 663.6 554.8 663.8 555.2 664.1 554.3 664.3 555.3 664.5 554.4 664.8 555.0 665.0 555.0 665.2 552.0 665.5 552.5 665.7 551.4 665.9 551.6 666.1 553.8 666.4 554.1 666.6 555.5 666.8 556.7 667.1 553.7 667.3 555.6 667.5 555.7 667.8 554.9 668.0 552.1 668.2 552.8 668.4 553.0 668.7 554.5 668.9 555.6 669.1 552.7 669.4 553.3 669.6 553.9 669.8 554.4 670.1 553.1 670.3 555.3 670.5 554.4 670.7 555.3 671.0 552.8 671.2 554.8 671.4 552.6 671.7 554.7 671.9 554.4 672.1 554.7 672.4 554.7 672.6 554.5 672.8 553.3 673.0 555.8 673.3 551.9 673.5 555.2 673.7 553.9 674.0 553.3 674.2 552.4 674.4 553.0 674.7 553.0 674.9 550.8 675.1 553.9 675.3 551.6 675.6 552.4 675.8 551.5 676.0 555.5 676.3 553.2 676.5 553.7 676.7 553.2 677.0 553.2 677.2 552.9 677.4 551.9 677.6 554.7 677.9 553.5 678.1 551.4 678.3 553.1 678.6 551.8 678.8 551.1 679.0 550.8 679.3 552.0 679.5 550.7 679.7 551.3 679.9 552.1 680.2 550.7 680.4 551.7 680.6 551.1 680.9 553.8 681.1 551.8 681.3 553.5 681.6 553.1 681.8 552.9 682.0 551.1 682.2 551.4 682.5 553.0 682.7 552.7 682.9 550.5 683.2 548.3 683.4 551.5 683.6 550.6 683.9 551.7 684.1 552.4 684.3 552.0 684.5 550.7 684.8 548.6 685.0 552.3 685.2 551.6 685.5 550.2 685.7 550.8 685.9 550.6 686.2 550.2 686.4 550.0 686.6 550.3 686.8 549.1 687.1 549.3 687.3 549.3 687.5 547.9 687.8 547.8 688.0 546.8 688.2 548.6 688.5 546.8 688.7 547.8 688.9 545.3 689.1 546.7 689.4 546.7 689.6 546.5 689.8 546.8 690.1 547.9 690.3 548.6 690.5 547.0 690.8 546.8 691.0 547.1 691.2 548.9 691.4 549.2 691.7 549.7 691.9 550.0 692.1 551.0 692.4 551.2 692.6 552.0 692.8 550.3 693.1 551.6 693.3 552.5 693.5 554.1 693.7 552.9 694.0 552.0 694.2 552.9 694.4 553.4 694.7 552.7 694.9 552.4 695.1 552.0 695.4 551.2 695.6 553.1 695.8 551.3 696.0 553.0 696.3 551.8 696.5 552.1 696.7 553.3 697.0 553.8 697.2 553.2 697.4 552.9 697.7 553.3 697.9 554.7 698.1 552.0 698.3 555.4 698.6 554.7 698.8 553.3 699.0 554.8 699.3 553.7 699.5 553.7 699.7 555.2 700.0 554.7 700.2 552.2 700.4 553.7 700.6 554.8 700.9 551.9 701.1 553.7 701.3 551.2 701.6 555.6 701.8 554.3 702.0 554.7 702.3 554.8 702.5 555.1 702.7 552.9 702.9 555.5 703.2 553.5 703.4 554.2 703.6 556.7 703.9 553.6 704.1 555.2 704.3 555.8 704.6 553.7 704.8 554.9 705.0 554.8 705.2 555.3 705.5 556.1 705.7 555.6 705.9 555.5 706.2 552.8 706.4 554.7 706.6 556.1 706.9 554.5 707.1 554.6 707.3 555.5 707.5 554.6 707.8 554.6 708.0 554.9 708.2 553.2 708.5 554.9 708.7 552.8 708.9 554.0 709.2 552.7 709.4 553.4 709.6 553.6 709.8 555.7 710.1 555.6 710.3 554.2 710.5 554.1 710.8 555.2 711.0 552.7 711.2 555.0 711.5 553.7 711.7 555.5 711.9 555.2 712.1 554.0 712.4 554.6 712.6 553.7 712.8 552.3 713.1 556.5 713.3 555.1 713.5 554.9 713.8 553.7 714.0 553.8 714.2 553.1 714.4 555.6 714.7 553.0 714.9 553.7 715.1 553.4 715.4 552.1 715.6 552.6 715.8 556.4 716.1 554.8 716.3 553.0 716.5 553.3 716.7 555.8 717.0 554.0 717.2 552.4 717.4 552.4 717.7 555.3 717.9 554.4 718.1 555.5 718.4 553.6 718.6 552.2 718.8 553.4 719.0 554.6 719.3 555.1 719.5 555.0 719.7 554.8 720.0 552.6 720.2 554.8 720.4 553.7 720.7 553.4 720.9 553.4 721.1 555.1 721.3 555.2 721.6 553.7 721.8 554.7 722.0 552.0 722.3 553.6 722.5 551.4 722.7 554.2 723.0 555.0 723.2 555.1 723.4 554.9 723.6 555.1 723.9 552.4 724.1 553.6 724.3 555.9 724.6 553.8 724.8 553.7 725.0 555.4 725.3 555.5 725.5 554.3 725.7 554.1 725.9 554.9 726.2 555.6 726.4 553.8 726.6 556.5 726.9 554.5 727.1 554.2 727.3 555.5 727.6 553.1 727.8 556.0 728.0 556.8 728.2 555.8 728.5 554.8 728.7 555.1 728.9 553.7 729.2 554.9 729.4 555.9 729.6 556.5 729.9 555.3 730.1 556.3 730.3 556.6 730.5 556.6 730.8 554.9 731.0 555.8 731.2 555.0 731.5 555.4 731.7 555.4 731.9 555.8 732.2 557.5 732.4 553.8 732.6 555.6 732.8 555.6 733.1 554.7 733.3 554.9 733.5 555.1 733.8 555.7 734.0 555.0 734.2 554.9 734.5 555.7 734.7 554.5 734.9 554.0 735.1 555.0 735.4 554.4 735.6 554.7 735.8 554.9 736.1 554.1 736.3 555.5 736.5 554.6 736.8 555.6 737.0 556.1 737.2 555.5 737.4 555.1 737.7 555.2 737.9 555.3 738.1 555.2 738.4 554.4 738.6 553.8 738.8 554.7 739.1 556.0 739.3 556.2 739.5 555.5 739.7 555.5 740.0 553.4 740.2 554.6 740.4 552.2 740.7 552.7 740.9 558.2 741.1 554.9 741.4 554.5 741.6 553.4 741.8 555.4 742.0 554.8 742.3 554.6 742.5 552.5 742.7 553.5 743.0 555.4 743.2 553.8 743.4 555.7 743.7 553.7 743.9 554.1 744.1 553.7 744.3 555.9 744.6 552.5 744.8 555.2 745.0 555.2 745.3 553.7 745.5 555.2 745.7 554.2 746.0 552.6 746.2 552.6 746.4 552.3 746.6 552.7 746.9 555.1 747.1 551.5 747.3 551.9 747.6 552.0 747.8 553.2 748.0 554.2 748.3 553.4 748.5 553.9 748.7 551.8 748.9 552.4 749.2 552.9 749.4 551.9 749.6 551.8 749.9 553.0 750.1 551.0 750.3 551.6 750.6 549.8 750.8 548.1 751.0 551.7 751.2 550.2 751.5 551.6 751.7 550.5 751.9 550.3 752.2 550.0 752.4 548.7 752.6 549.5 752.9 547.6 753.1 548.6 753.3 547.0 753.5 546.7 753.8 547.8 754.0 548.1 754.2 547.3 754.5 547.6 754.7 548.9 754.9 548.0 755.2 548.9 755.4 549.2 755.6 548.6 755.8 548.9 756.1 551.2 756.3 550.1 756.5 550.8 756.8 551.7 757.0 551.5 757.2 549.2 757.5 552.9 757.7 552.7 757.9 552.1 758.1 552.9 758.4 553.5 758.6 554.2 758.8 552.8 759.1 551.8 759.3 553.8 759.5 551.1 759.8 555.4 760.0 553.1 760.2 551.9 760.4 553.2 760.7 552.0 760.9 553.8 761.1 552.6 761.4 553.3 761.6 555.1 761.8 555.7 762.1 553.6 762.3 552.5 762.5 553.5 762.7 553.6 763.0 550.7 763.2 551.8 763.4 552.6 763.7 554.4 763.9 553.6 764.1 554.2 764.4 551.5 764.6 552.7 764.8 552.3 765.0 552.9 765.3 554.3 765.5 553.4 765.7 551.9 766.0 552.8 766.2 553.8 766.4 553.1 766.7 552.3 766.9 553.5 767.1 551.6 767.3 551.8 767.6 553.4 767.8 552.9 768.0 551.6 768.3 552.9 768.5 553.1 768.7 550.4 769.0 553.7 769.2 552.2 769.4 550.8 769.6 552.4 769.9 553.0 770.1 554.4 770.3 552.0 770.6 552.0 770.8 553.8 771.0 551.6 771.3 555.9 771.5 552.9 771.7 554.3 771.9 553.5 772.2 554.5 772.4 553.5 772.6 553.3 772.9 553.4 773.1 555.7 773.3 554.6 773.6 553.8 773.8 554.2 774.0 555.3 774.2 555.4 774.5 553.7 774.7 553.0 774.9 555.2 775.2 555.2 775.4 555.2 775.6 556.1 775.9 553.8 776.1 554.8 776.3 555.1 776.5 555.0 776.8 553.8 777.0 556.2 777.2 556.0 777.5 555.4 777.7 555.3 777.9 554.9 778.2 553.2 778.4 554.2 778.6 553.4 778.8 555.6 779.1 553.6 779.3 553.6 779.5 556.0 779.8 553.9 780.0 555.6 780.2 553.5 780.5 556.4 780.7 555.6 780.9 553.6 781.1 552.0 781.4 555.6 781.6 554.6 781.8 552.9 782.1 556.1 782.3 554.2 782.5 554.8 782.8 555.9 783.0 557.2 783.2 552.2 783.4 555.9 783.7 553.5 783.9 555.1 784.1 552.4 784.4 552.4 784.6 553.3 784.8 553.2 785.1 552.7 785.3 553.8 785.5 553.5 785.7 553.5 786.0 554.3 786.2 554.0 786.4 552.8 786.7 552.9 786.9 553.6 787.1 554.0 787.4 551.8 787.6 551.1 787.8 554.2 788.0 551.6 788.3 550.6 788.5 553.3 788.7 552.8 789.0 551.2 789.2 552.1 789.4 553.3 789.7 552.0 789.9 552.5 790.1 551.6 790.3 552.3 790.6 551.6 790.8 552.1 791.0 551.3 791.3 553.1 791.5 552.0 791.7 552.2 792.0 550.9 792.2 552.1 792.4 551.9 792.6 553.6 792.9 552.7 793.1 553.3 793.3 553.0 793.6 550.1 793.8 553.4 794.0 555.0 794.3 552.7 794.5 553.8 794.7 554.1 794.9 553.6 795.2 555.3 795.4 554.8 795.6 555.9 795.9 553.4 796.1 554.9 796.3 557.1 796.6 553.8 796.8 555.4 797.0 555.7 797.2 555.6 797.5 556.9 797.7 554.8 797.9 554.4 798.2 557.4 798.4 556.0 798.6 554.6 798.9 555.6 799.1 555.0 799.3 555.5 799.5 555.4 799.8 556.9 800.0 556.2 800.2 556.8 800.5 555.9 800.7 554.9 800.9 555.9 801.2 555.2 801.4 556.2 801.6 555.4 801.8 554.0 802.1 554.9 802.3 552.9 802.5 557.3 802.8 556.7 803.0 554.3 803.2 553.7 803.5 556.6 803.7 553.8 803.9 555.5 804.1 557.5 804.4 555.0 804.6 555.5 804.8 556.1 805.1 555.2 805.3 553.8 805.5 554.8 805.8 558.5 806.0 555.1 806.2 555.0 806.4 554.7 806.7 554.8 806.9 553.9 807.1 554.7 807.4 555.7 807.6 551.7 807.8 554.5 808.1 554.5 808.3 554.1 808.5 553.9 808.7 554.0 809.0 556.0 809.2 553.9 809.4 554.5 809.7 554.2 809.9 553.3 810.1 555.4 810.4 552.8 810.6 555.1 810.8 555.1 811.0 554.1 811.3 552.2 811.5 555.4 811.7 554.2 812.0 554.6 812.2 554.6 812.4 553.0 812.7 553.1 812.9 551.3 813.1 552.5 813.3 553.3 813.6 552.9 813.8 552.2 814.0 552.2 814.3 553.3 814.5 553.5 814.7 553.3 815.0 554.2 815.2 551.5 815.4 554.1 815.6 552.2 815.9 553.1 816.1 553.1 816.3 552.9 816.6 551.4 816.8 551.6 817.0 552.0 817.3 552.7 817.5 551.6 817.7 551.7 817.9 553.0 818.2 551.8 818.4 551.9 818.6 551.2 818.9 552.0 819.1 549.6 819.3 552.4 819.6 551.1 819.8 551.0 820.0 551.9 820.2 550.0 820.5 552.8 820.7 554.3 820.9 550.2 821.2 552.4 821.4 551.0 821.6 551.7 821.9 550.8 822.1 550.9 822.3 550.2 822.5 549.6 822.8 550.4 823.0 550.5 823.2 551.4 823.5 549.7 823.7 548.9 823.9 550.0 824.2 549.6 824.4 551.1 824.6 552.3 824.8 549.8 825.1 550.4 825.3 550.6 825.5 549.4 825.8 550.3 826.0 550.8 826.2 551.1 826.5 552.1 826.7 550.9 826.9 554.0 827.1 552.7 827.4 551.7 827.6 552.7 827.8 552.8 828.1 553.1 828.3 548.6 828.5 552.2 828.8 551.0 829.0 551.2 829.2 551.9 829.4 551.8 829.7 552.1 829.9 550.9 830.1 552.3 830.4 552.8 830.6 552.8 830.8 551.4 831.1 552.0 831.3 552.4 831.5 551.3 831.7 551.0 832.0 553.1 832.2 555.4 832.4 550.5 832.7 552.9 832.9 552.5 833.1 552.7 833.4 549.4 833.6 551.8 833.8 552.1 834.0 551.9 834.3 550.2 834.5 552.2 834.7 552.4 835.0 550.0 835.2 552.6 835.4 548.9 835.7 551.3 835.9 550.9 836.1 552.0 836.3 550.8 836.6 549.7 836.8 550.8 837.0 549.5 837.3 548.6 837.5 549.3 837.7 549.5 838.0 550.0 838.2 550.7 838.4 550.7 838.6 548.8 838.9 547.0 839.1 549.7 839.3 549.9 839.6 551.1 839.8 549.3 840.0 547.7 840.3 548.1 840.5 547.1 840.7 548.1 840.9 551.5 841.2 550.1 841.4 548.6 841.6 549.0 841.9 548.5 842.1 547.5 842.3 547.3 842.6 547.9 842.8 547.0 843.0 548.4 843.2 548.1 843.5 548.4 843.7 548.2 843.9 549.6 844.2 549.4 844.4 549.4 844.6 548.3 844.9 550.9 845.1 548.5 845.3 550.4 845.5 551.8 845.8 550.0 846.0 549.8 846.2 549.4 846.5 551.9 846.7 550.9 846.9 550.3 847.2 553.0 847.4 549.9 847.6 548.0 847.8 551.2 848.1 550.1 848.3 550.7 848.5 551.2 848.8 553.3 849.0 552.6 849.2 550.1 849.5 550.5 849.7 553.8 849.9 551.0 850.1 552.4 850.4 553.6 850.6 552.2 850.8 552.0 851.1 552.8 851.3 552.3 851.5 553.4 851.8 554.6 852.0 553.5 852.2 552.7 852.4 551.9 852.7 552.3 852.9 551.1 853.1 554.8 853.4 553.7 853.6 554.7 853.8 553.1 854.1 556.1 854.3 554.8 854.5 553.1 854.7 552.6 855.0 551.7 855.2 552.4 855.4 553.8 855.7 551.4 855.9 554.5 856.1 554.9 856.4 554.0 856.6 553.6 856.8 552.8 857.0 556.2 857.3 553.4 857.5 555.4 857.7 554.4 858.0 555.5 858.2 555.1 858.4 552.9 858.7 554.4 858.9 553.7 859.1 555.0 859.3 552.8 859.6 553.8 859.8 553.4 860.0 554.3 860.3 552.4 860.5 554.3 860.7 553.4 861.0 554.7 861.2 553.6 861.4 553.7 861.6 554.1 861.9 554.1 862.1 551.4 862.3 555.1 862.6 554.4 862.8 554.1 863.0 554.6 863.3 553.7 863.5 554.8 863.7 552.8 863.9 553.5 864.2 554.8 864.4 552.9 864.6 554.9 864.9 556.9 865.1 556.4 865.3 556.0 865.6 554.3 865.8 554.1 866.0 555.2 866.2 556.2 866.5 555.6 866.7 555.1 866.9 555.2 867.2 557.6 867.4 552.9 867.6 553.9 867.9 556.5 868.1 556.0 868.3 554.2 868.5 557.0 868.8 554.5 869.0 555.7 869.2 555.7 869.5 556.1 869.7 555.7 869.9 556.9 870.2 555.7 870.4 555.3 870.6 555.3 870.8 554.2" fill="none" stroke="#454545" stroke-width="1.15" stroke-linejoin="round"/>
<path d="M75.5 461.1 75.7 459.7 76.0 462.5 76.2 462.6 76.4 461.3 76.7 462.0 76.9 463.4 77.1 462.6 77.3 462.1 77.6 462.0 77.8 460.3 78.0 462.2 78.3 459.2 78.5 460.6 78.7 460.4 79.0 458.9 79.2 460.6 79.4 462.5 79.6 460.2 79.9 459.2 80.1 460.3 80.3 461.3 80.6 460.5 80.8 460.2 81.0 458.6 81.3 460.6 81.5 460.5 81.7 461.4 81.9 461.5 82.2 460.5 82.4 457.9 82.6 458.1 82.9 458.4 83.1 459.8 83.3 458.7 83.6 460.9 83.8 459.8 84.0 460.0 84.2 460.4 84.5 460.0 84.7 458.1 84.9 462.3 85.2 461.2 85.4 461.3 85.6 458.9 85.9 457.7 86.1 458.1 86.3 458.6 86.5 460.7 86.8 460.8 87.0 461.4 87.2 462.2 87.5 460.4 87.7 460.2 87.9 459.4 88.2 459.5 88.4 458.6 88.6 460.5 88.8 460.3 89.1 459.5 89.3 459.0 89.5 460.5 89.8 461.4 90.0 460.1 90.2 460.3 90.5 459.4 90.7 459.7 90.9 459.7 91.1 459.7 91.4 459.4 91.6 460.5 91.8 461.6 92.1 459.1 92.3 461.7 92.5 459.7 92.8 459.8 93.0 457.8 93.2 457.5 93.4 461.0 93.7 459.0 93.9 461.1 94.1 460.3 94.4 460.6 94.6 461.8 94.8 460.2 95.1 456.7 95.3 458.4 95.5 461.4 95.7 462.6 96.0 460.3 96.2 459.6 96.4 458.8 96.7 461.0 96.9 458.3 97.1 458.9 97.4 460.4 97.6 460.3 97.8 459.9 98.0 461.4 98.3 458.7 98.5 458.8 98.7 459.6 99.0 460.1 99.2 459.6 99.4 462.2 99.7 459.3 99.9 460.6 100.1 459.3 100.3 460.2 100.6 459.4 100.8 459.4 101.0 461.6 101.3 459.4 101.5 461.7 101.7 458.9 102.0 459.1 102.2 460.9 102.4 456.8 102.6 457.7 102.9 459.6 103.1 460.1 103.3 460.1 103.6 459.1 103.8 457.8 104.0 460.4 104.3 459.9 104.5 458.1 104.7 459.4 104.9 461.4 105.2 459.4 105.4 457.9 105.6 458.7 105.9 458.7 106.1 459.6 106.3 460.2 106.6 458.0 106.8 458.3 107.0 460.2 107.2 459.9 107.5 460.6 107.7 457.3 107.9 457.9 108.2 460.2 108.4 457.9 108.6 459.4 108.9 458.9 109.1 458.1 109.3 460.8 109.5 459.0 109.8 458.4 110.0 458.8 110.2 459.3 110.5 457.1 110.7 457.9 110.9 457.4 111.2 456.4 111.4 460.2 111.6 460.8 111.8 460.5 112.1 456.8 112.3 459.5 112.5 459.8 112.8 458.3 113.0 460.0 113.2 457.6 113.5 457.7 113.7 458.0 113.9 458.1 114.1 457.7 114.4 460.2 114.6 457.7 114.8 458.4 115.1 458.2 115.3 461.7 115.5 457.9 115.8 459.6 116.0 461.2 116.2 457.5 116.4 458.0 116.7 458.6 116.9 457.4 117.1 460.5 117.4 458.4 117.6 460.3 117.8 459.7 118.1 459.0 118.3 460.2 118.5 458.6 118.7 460.2 119.0 457.3 119.2 458.0 119.4 460.3 119.7 456.2 119.9 459.4 120.1 458.2 120.4 458.0 120.6 457.8 120.8 460.2 121.0 456.7 121.3 459.6 121.5 459.1 121.7 458.0 122.0 458.4 122.2 459.3 122.4 457.7 122.7 456.5 122.9 458.7 123.1 457.3 123.3 457.8 123.6 458.3 123.8 459.1 124.0 460.4 124.3 458.6 124.5 458.3 124.7 459.1 125.0 458.4 125.2 455.9 125.4 457.2 125.6 456.4 125.9 458.8 126.1 459.5 126.3 458.3 126.6 456.5 126.8 458.8 127.0 456.5 127.3 458.0 127.5 455.9 127.7 455.4 127.9 455.0 128.2 456.5 128.4 455.3 128.6 456.4 128.9 453.9 129.1 455.9 129.3 454.1 129.6 456.3 129.8 455.6 130.0 453.7 130.2 453.8 130.5 453.7 130.7 453.7 130.9 452.4 131.2 453.9 131.4 451.4 131.6 449.1 131.9 451.8 132.1 451.0 132.3 451.6 132.5 450.0 132.8 448.0 133.0 446.7 133.2 445.5 133.5 443.1 133.7 441.0 133.9 440.3 134.2 440.1 134.4 435.5 134.6 437.0 134.8 434.9 135.1 435.3 135.3 434.1 135.5 434.8 135.8 434.0 136.0 435.0 136.2 432.7 136.5 431.9 136.7 431.0 136.9 428.7 137.1 427.9 137.4 428.0 137.6 426.9 137.8 426.8 138.1 428.5 138.3 429.6 138.5 431.3 138.8 432.8 139.0 432.5 139.2 436.6 139.4 435.9 139.7 436.7 139.9 436.8 140.1 436.9 140.4 435.5 140.6 440.2 140.8 444.4 141.1 443.6 141.3 442.8 141.5 442.9 141.7 445.4 142.0 447.0 142.2 447.4 142.4 449.9 142.7 448.3 142.9 452.4 143.1 452.1 143.4 452.1 143.6 453.6 143.8 455.6 144.0 456.6 144.3 455.6 144.5 456.4 144.7 459.1 145.0 453.1 145.2 452.5 145.4 455.6 145.7 454.1 145.9 455.7 146.1 453.1 146.3 455.7 146.6 457.4 146.8 457.1 147.0 453.9 147.3 455.0 147.5 456.8 147.7 458.2 148.0 454.1 148.2 454.2 148.4 457.2 148.6 455.0 148.9 454.0 149.1 457.1 149.3 453.0 149.6 454.5 149.8 456.9 150.0 454.5 150.3 456.5 150.5 453.5 150.7 456.4 150.9 456.0 151.2 457.6 151.4 454.8 151.6 454.6 151.9 455.0 152.1 456.6 152.3 453.9 152.6 454.8 152.8 457.9 153.0 456.1 153.2 456.0 153.5 454.1 153.7 456.1 153.9 453.0 154.2 452.5 154.4 453.3 154.6 456.8 154.9 454.9 155.1 453.2 155.3 454.0 155.5 455.2 155.8 456.2 156.0 452.0 156.2 456.4 156.5 455.8 156.7 453.3 156.9 453.7 157.2 455.0 157.4 453.8 157.6 454.4 157.8 452.5 158.1 451.3 158.3 457.8 158.5 454.3 158.8 454.3 159.0 454.7 159.2 455.9 159.5 455.3 159.7 452.2 159.9 453.6 160.1 453.8 160.4 454.9 160.6 452.7 160.8 454.2 161.1 453.9 161.3 455.7 161.5 449.4 161.8 453.6 162.0 454.0 162.2 454.5 162.4 453.3 162.7 452.0 162.9 454.3 163.1 453.7 163.4 451.7 163.6 450.7 163.8 453.7 164.1 451.3 164.3 453.6 164.5 454.9 164.7 452.7 165.0 452.6 165.2 452.3 165.4 454.2 165.7 454.1 165.9 451.9 166.1 452.8 166.4 451.6 166.6 450.6 166.8 452.5 167.0 451.0 167.3 449.7 167.5 448.5 167.7 452.4 168.0 449.1 168.2 448.7 168.4 450.0 168.7 451.6 168.9 447.3 169.1 451.2 169.3 450.7 169.6 447.8 169.8 447.8 170.0 449.4 170.3 452.8 170.5 449.0 170.7 451.2 171.0 450.8 171.2 446.3 171.4 449.0 171.6 450.6 171.9 447.8 172.1 450.8 172.3 446.6 172.6 445.8 172.8 447.5 173.0 449.3 173.3 447.3 173.5 449.6 173.7 445.0 173.9 446.6 174.2 450.0 174.4 442.9 174.6 447.8 174.9 445.4 175.1 445.5 175.3 446.1 175.6 443.8 175.8 448.1 176.0 447.3 176.2 448.4 176.5 446.2 176.7 444.0 176.9 446.8 177.2 442.9 177.4 443.5 177.6 449.1 177.9 447.0 178.1 445.6 178.3 447.5 178.5 443.9 178.8 445.4 179.0 442.5 179.2 443.3 179.5 444.0 179.7 446.6 179.9 442.1 180.2 445.4 180.4 443.1 180.6 439.4 180.8 438.9 181.1 441.3 181.3 444.7 181.5 442.9 181.8 446.0 182.0 442.4 182.2 444.8 182.5 442.2 182.7 439.6 182.9 442.9 183.1 439.7 183.4 438.1 183.6 439.3 183.8 439.9 184.1 441.1 184.3 442.3 184.5 441.6 184.8 444.6 185.0 435.7 185.2 439.3 185.4 445.2 185.7 438.6 185.9 436.3 186.1 437.2 186.4 436.4 186.6 437.3 186.8 442.0 187.1 434.8 187.3 436.1 187.5 440.7 187.7 437.9 188.0 437.8 188.2 435.9 188.4 438.7 188.7 434.0 188.9 438.3 189.1 436.2 189.4 435.2 189.6 434.2 189.8 437.4 190.0 435.8 190.3 433.8 190.5 434.8 190.7 431.8 191.0 437.1 191.2 437.1 191.4 436.3 191.7 434.1 191.9 434.4 192.1 429.6 192.3 431.8 192.6 431.9 192.8 431.9 193.0 433.6 193.3 430.7 193.5 429.8 193.7 434.4 194.0 430.3 194.2 429.2 194.4 425.4 194.6 426.8 194.9 429.3 195.1 430.3 195.3 424.8 195.6 429.0 195.8 429.6 196.0 427.1 196.3 428.3 196.5 431.5 196.7 425.6 196.9 422.8 197.2 425.9 197.4 424.3 197.6 426.2 197.9 427.9 198.1 428.1 198.3 426.3 198.6 428.9 198.8 425.8 199.0 427.3 199.2 425.2 199.5 424.7 199.7 422.2 199.9 423.3 200.2 421.4 200.4 421.9 200.6 422.6 200.9 425.1 201.1 421.2 201.3 422.9 201.5 418.6 201.8 420.6 202.0 424.1 202.2 422.1 202.5 417.4 202.7 421.5 202.9 421.1 203.2 418.9 203.4 417.5 203.6 419.5 203.8 419.3 204.1 424.0 204.3 423.7 204.5 424.0 204.8 425.4 205.0 416.2 205.2 421.8 205.5 423.6 205.7 420.8 205.9 421.0 206.1 420.6 206.4 423.5 206.6 422.9 206.8 426.7 207.1 424.4 207.3 424.0 207.5 423.5 207.8 421.5 208.0 424.2 208.2 426.2 208.4 425.4 208.7 421.3 208.9 420.2 209.1 426.4 209.4 425.2 209.6 425.6 209.8 422.6 210.1 427.1 210.3 427.2 210.5 424.7 210.7 427.0 211.0 423.2 211.2 425.5 211.4 420.6 211.7 425.3 211.9 432.6 212.1 428.2 212.4 430.9 212.6 428.1 212.8 427.5 213.0 427.8 213.3 426.6 213.5 429.8 213.7 426.5 214.0 428.9 214.2 437.3 214.4 430.7 214.7 428.7 214.9 432.9 215.1 431.7 215.3 430.3 215.6 428.6 215.8 431.3 216.0 431.0 216.3 432.5 216.5 433.7 216.7 433.8 217.0 431.2 217.2 435.1 217.4 435.2 217.6 431.0 217.9 435.7 218.1 435.1 218.3 436.5 218.6 433.1 218.8 435.1 219.0 435.4 219.3 433.1 219.5 437.4 219.7 435.6 219.9 437.3 220.2 434.1 220.4 433.3 220.6 434.0 220.9 431.7 221.1 435.1 221.3 438.0 221.6 440.6 221.8 440.0 222.0 440.5 222.2 440.6 222.5 442.7 222.7 438.2 222.9 440.1 223.2 439.5 223.4 432.2 223.6 438.6 223.9 438.5 224.1 439.4 224.3 437.4 224.5 437.0 224.8 437.6 225.0 440.6 225.2 440.1 225.5 442.6 225.7 436.4 225.9 442.0 226.2 443.8 226.4 437.5 226.6 439.9 226.8 436.2 227.1 433.6 227.3 436.9 227.5 440.2 227.8 440.7 228.0 439.4 228.2 441.9 228.5 441.3 228.7 444.9 228.9 437.6 229.1 438.9 229.4 439.6 229.6 439.6 229.8 440.1 230.1 446.6 230.3 440.5 230.5 442.9 230.8 438.3 231.0 440.0 231.2 443.6 231.4 444.0 231.7 438.3 231.9 446.6 232.1 443.0 232.4 440.4 232.6 443.3 232.8 440.9 233.1 439.1 233.3 442.9 233.5 444.4 233.7 445.0 234.0 439.0 234.2 440.7 234.4 442.5 234.7 445.4 234.9 446.0 235.1 442.3 235.4 440.6 235.6 444.6 235.8 442.4 236.0 444.5 236.3 446.0 236.5 445.1 236.7 441.5 237.0 441.1 237.2 440.6 237.4 445.7 237.7 446.7 237.9 441.9 238.1 443.1 238.3 442.2 238.6 444.0 238.8 442.3 239.0 442.2 239.3 446.9 239.5 446.1 239.7 444.0 240.0 446.5 240.2 442.5 240.4 444.8 240.6 441.6 240.9 442.0 241.1 445.8 241.3 440.8 241.6 442.5 241.8 440.8 242.0 440.5 242.3 443.3 242.5 443.3 242.7 439.7 242.9 447.8 243.2 446.1 243.4 440.4 243.6 443.1 243.9 442.2 244.1 440.0 244.3 438.3 244.6 440.4 244.8 439.4 245.0 440.6 245.2 438.3 245.5 436.3 245.7 436.1 245.9 436.5 246.2 437.6 246.4 435.6 246.6 437.7 246.9 439.8 247.1 436.4 247.3 441.6 247.5 438.6 247.8 440.0 248.0 439.3 248.2 441.6 248.5 442.2 248.7 442.5 248.9 447.8 249.2 436.1 249.4 440.7 249.6 438.7 249.8 441.0 250.1 439.6 250.3 440.3 250.5 440.5 250.8 438.9 251.0 441.5 251.2 436.6 251.5 437.7 251.7 437.7 251.9 438.3 252.1 434.7 252.4 434.3 252.6 435.4 252.8 435.1 253.1 434.4 253.3 437.6 253.5 437.9 253.8 438.3 254.0 439.3 254.2 440.8 254.4 440.7 254.7 442.8 254.9 443.4 255.1 440.9 255.4 440.4 255.6 447.1 255.8 443.1 256.1 447.8 256.3 445.0 256.5 439.6 256.7 445.8 257.0 443.8 257.2 441.3 257.4 446.0 257.7 444.1 257.9 446.1 258.1 449.1 258.4 448.6 258.6 447.5 258.8 447.8 259.0 448.1 259.3 446.8 259.5 446.4 259.7 447.8 260.0 449.2 260.2 447.6 260.4 449.0 260.7 449.7 260.9 448.1 261.1 452.3 261.3 453.0 261.6 451.1 261.8 448.7 262.0 446.4 262.3 445.0 262.5 451.9 262.7 449.7 263.0 447.8 263.2 445.8 263.4 448.0 263.6 449.9 263.9 448.4 264.1 445.4 264.3 453.1 264.6 447.9 264.8 443.4 265.0 445.4 265.3 444.3 265.5 443.8 265.7 441.9 265.9 437.6 266.2 439.6 266.4 436.1 266.6 436.8 266.9 435.3 267.1 435.5 267.3 433.6 267.6 432.0 267.8 437.6 268.0 430.8 268.2 430.0 268.5 430.9 268.7 429.9 268.9 429.7 269.2 423.0 269.4 423.2 269.6 425.0 269.9 420.9 270.1 418.8 270.3 415.3 270.5 414.3 270.8 414.7 271.0 416.2 271.2 417.7 271.5 419.1 271.7 415.4 271.9 419.4 272.2 420.4 272.4 419.7 272.6 420.1 272.8 418.7 273.1 420.8 273.3 415.8 273.5 424.7 273.8 421.3 274.0 424.1 274.2 417.5 274.5 414.6 274.7 423.2 274.9 412.4 275.1 414.2 275.4 418.8 275.6 419.2 275.8 414.2 276.1 413.9 276.3 412.4 276.5 411.2 276.8 407.8 277.0 406.7 277.2 405.5 277.4 405.0 277.7 406.5 277.9 409.8 278.1 410.3 278.4 411.3 278.6 413.9 278.8 415.1 279.1 413.6 279.3 413.8 279.5 417.5 279.7 420.6 280.0 423.4 280.2 426.7 280.4 424.0 280.7 425.8 280.9 433.4 281.1 436.0 281.4 437.2 281.6 440.9 281.8 440.8 282.0 440.9 282.3 443.2 282.5 444.7 282.7 445.7 283.0 445.0 283.2 446.9 283.4 448.6 283.7 447.9 283.9 446.8 284.1 451.2 284.3 446.9 284.6 449.9 284.8 453.4 285.0 455.0 285.3 453.8 285.5 450.3 285.7 448.0 286.0 450.3 286.2 451.1 286.4 451.4 286.6 449.5 286.9 450.4 287.1 451.7 287.3 451.5 287.6 453.7 287.8 452.5 288.0 452.6 288.3 450.7 288.5 451.8 288.7 448.4 288.9 451.1 289.2 449.1 289.4 452.1 289.6 452.8 289.9 452.2 290.1 454.6 290.3 450.9 290.6 451.9 290.8 451.1 291.0 451.5 291.2 454.3 291.5 449.7 291.7 454.9 291.9 454.4 292.2 453.1 292.4 451.5 292.6 452.5 292.9 451.4 293.1 454.6 293.3 450.2 293.5 450.4 293.8 452.2 294.0 447.8 294.2 454.6 294.5 451.5 294.7 453.4 294.9 452.4 295.2 449.1 295.4 452.2 295.6 452.8 295.8 450.1 296.1 450.4 296.3 450.3 296.5 453.4 296.8 449.9 297.0 450.5 297.2 451.9 297.5 452.0 297.7 450.4 297.9 453.7 298.1 453.4 298.4 448.0 298.6 452.9 298.8 450.2 299.1 450.1 299.3 449.9 299.5 445.8 299.8 445.6 300.0 448.2 300.2 445.7 300.4 451.3 300.7 445.4 300.9 447.4 301.1 443.7 301.4 448.7 301.6 447.8 301.8 441.6 302.1 444.5 302.3 443.7 302.5 445.8 302.7 438.3 303.0 441.3 303.2 442.6 303.4 439.5 303.7 438.1 303.9 436.1 304.1 436.7 304.4 434.8 304.6 432.7 304.8 432.7 305.0 431.7 305.3 432.5 305.5 433.5 305.7 434.8 306.0 435.3 306.2 434.9 306.4 436.1 306.7 436.4 306.9 438.2 307.1 436.7 307.3 439.5 307.6 438.4 307.8 440.2 308.0 439.1 308.3 442.9 308.5 440.4 308.7 445.1 309.0 443.7 309.2 445.1 309.4 445.5 309.6 443.8 309.9 448.5 310.1 444.0 310.3 447.7 310.6 449.6 310.8 450.8 311.0 448.6 311.3 449.6 311.5 450.8 311.7 450.1 311.9 451.4 312.2 450.2 312.4 452.6 312.6 451.4 312.9 450.2 313.1 450.3 313.3 451.8 313.6 450.0 313.8 449.0 314.0 449.4 314.2 451.7 314.5 448.1 314.7 451.3 314.9 452.6 315.2 450.0 315.4 450.5 315.6 448.4 315.9 449.2 316.1 449.8 316.3 451.2 316.5 449.7 316.8 448.2 317.0 449.0 317.2 447.8 317.5 451.8 317.7 448.3 317.9 450.8 318.2 446.8 318.4 447.3 318.6 449.7 318.8 447.6 319.1 449.8 319.3 448.2 319.5 448.5 319.8 446.1 320.0 448.3 320.2 448.1 320.5 450.8 320.7 448.7 320.9 449.7 321.1 448.9 321.4 447.9 321.6 451.9 321.8 450.8 322.1 452.3 322.3 450.7 322.5 452.5 322.8 451.7 323.0 452.4 323.2 453.5 323.4 452.5 323.7 454.3 323.9 451.8 324.1 453.0 324.4 455.7 324.6 452.7 324.8 451.2 325.1 455.9 325.3 453.9 325.5 452.7 325.7 452.6 326.0 455.2 326.2 452.8 326.4 452.0 326.7 455.6 326.9 455.1 327.1 455.8 327.4 454.1 327.6 455.6 327.8 453.7 328.0 454.7 328.3 455.6 328.5 455.8 328.7 457.2 329.0 456.9 329.2 454.5 329.4 455.1 329.7 457.1 329.9 458.1 330.1 457.1 330.3 455.9 330.6 456.9 330.8 458.2 331.0 458.4 331.3 455.4 331.5 454.7 331.7 456.1 332.0 455.0 332.2 455.8 332.4 454.4 332.6 456.1 332.9 456.3 333.1 457.6 333.3 457.1 333.6 455.5 333.8 453.7 334.0 456.2 334.3 453.9 334.5 452.6 334.7 454.1 334.9 452.5 335.2 457.1 335.4 455.8 335.6 456.0 335.9 453.3 336.1 453.6 336.3 453.9 336.6 452.9 336.8 453.5 337.0 453.9 337.2 452.1 337.5 452.9 337.7 454.6 337.9 452.7 338.2 449.6 338.4 450.6 338.6 450.8 338.9 450.9 339.1 451.6 339.3 449.7 339.5 453.3 339.8 450.3 340.0 451.2 340.2 448.8 340.5 446.8 340.7 450.4 340.9 450.7 341.2 450.8 341.4 448.8 341.6 449.1 341.8 447.4 342.1 446.2 342.3 448.3 342.5 448.7 342.8 448.4 343.0 448.7 343.2 448.6 343.5 448.2 343.7 447.9 343.9 447.2 344.1 446.2 344.4 444.7 344.6 446.6 344.8 447.4 345.1 446.6 345.3 448.6 345.5 448.0 345.8 445.6 346.0 449.8 346.2 447.8 346.4 449.5 346.7 449.6 346.9 450.6 347.1 453.5 347.4 453.5 347.6 450.5 347.8 453.5 348.1 452.5 348.3 455.8 348.5 456.7 348.7 454.6 349.0 457.0 349.2 457.7 349.4 457.9 349.7 458.6 349.9 456.9 350.1 457.6 350.4 457.1 350.6 457.4 350.8 457.3 351.0 454.5 351.3 457.1 351.5 458.8 351.7 455.6 352.0 456.7 352.2 453.4 352.4 457.8 352.7 457.5 352.9 458.5 353.1 459.4 353.3 456.3 353.6 456.5 353.8 458.2 354.0 456.8 354.3 458.4 354.5 455.3 354.7 457.2 355.0 456.1 355.2 455.5 355.4 457.8 355.6 456.1 355.9 456.8 356.1 456.9 356.3 453.8 356.6 458.5 356.8 458.1 357.0 457.9 357.3 457.3 357.5 459.5 357.7 458.1 357.9 456.2 358.2 458.2 358.4 459.2 358.6 457.5 358.9 457.5 359.1 458.2 359.3 458.6 359.6 458.2 359.8 457.1 360.0 458.4 360.2 457.2 360.5 457.1 360.7 459.1 360.9 457.0 361.2 456.3 361.4 458.1 361.6 456.1 361.9 458.9 362.1 457.5 362.3 458.7 362.5 457.3 362.8 455.9 363.0 453.5 363.2 456.0 363.5 458.7 363.7 456.6 363.9 458.4 364.2 458.5 364.4 454.7 364.6 456.3 364.8 456.5 365.1 458.5 365.3 458.6 365.5 455.4 365.8 457.1 366.0 456.6 366.2 454.6 366.5 457.3 366.7 457.8 366.9 454.4 367.1 456.3 367.4 454.7 367.6 456.5 367.8 456.4 368.1 454.7 368.3 454.8 368.5 456.8 368.8 455.0 369.0 456.6 369.2 453.5 369.4 453.9 369.7 457.1 369.9 456.2 370.1 455.6 370.4 454.7 370.6 456.6 370.8 454.6 371.1 456.3 371.3 457.5 371.5 456.4 371.7 454.9 372.0 454.9 372.2 456.6 372.4 454.4 372.7 458.5 372.9 456.6 373.1 456.7 373.4 457.1 373.6 456.5 373.8 459.3 374.0 456.7 374.3 456.0 374.5 459.0 374.7 456.7 375.0 459.6 375.2 458.6 375.4 457.0 375.7 457.8 375.9 456.3 376.1 456.2 376.3 459.1 376.6 457.2 376.8 457.5 377.0 457.1 377.3 457.9 377.5 457.3 377.7 457.8 378.0 457.8 378.2 459.5 378.4 457.2 378.6 457.7 378.9 458.0 379.1 456.6 379.3 458.5 379.6 457.7 379.8 457.1 380.0 456.9 380.3 457.8 380.5 458.2 380.7 458.4 380.9 458.8 381.2 457.5 381.4 459.6 381.6 458.1 381.9 459.4 382.1 457.5 382.3 459.4 382.6 458.1 382.8 457.1 383.0 457.5 383.2 458.3 383.5 455.9 383.7 458.3 383.9 455.5 384.2 458.3 384.4 457.0 384.6 456.5 384.9 457.3 385.1 459.7 385.3 460.3 385.5 457.6 385.8 459.9 386.0 458.5 386.2 460.3 386.5 458.2 386.7 459.1 386.9 456.8 387.2 459.7 387.4 459.3 387.6 459.7 387.8 460.2 388.1 457.8 388.3 458.8 388.5 455.8 388.8 457.0 389.0 456.6 389.2 459.2 389.5 459.0 389.7 458.7 389.9 458.4 390.1 460.9 390.4 459.4 390.6 457.6 390.8 460.5 391.1 460.5 391.3 459.4 391.5 455.4 391.8 457.1 392.0 458.9 392.2 457.8 392.4 456.2 392.7 458.4 392.9 457.3 393.1 458.6 393.4 458.6 393.6 460.2 393.8 457.1 394.1 459.7 394.3 457.0 394.5 459.6 394.7 458.9 395.0 458.8 395.2 458.4 395.4 457.4 395.7 458.8 395.9 459.0 396.1 459.8 396.4 458.7 396.6 458.8 396.8 456.8 397.0 455.9 397.3 458.4 397.5 461.1 397.7 457.7 398.0 456.6 398.2 454.3 398.4 458.3 398.7 456.2 398.9 456.5 399.1 457.6 399.3 458.0 399.6 459.5 399.8 458.5 400.0 457.7 400.3 456.6 400.5 455.0 400.7 456.1 401.0 457.6 401.2 453.3 401.4 456.0 401.6 458.0 401.9 457.1 402.1 455.4 402.3 455.2 402.6 456.4 402.8 454.9 403.0 455.2 403.3 456.1 403.5 452.6 403.7 451.4 403.9 452.9 404.2 451.2 404.4 448.8 404.6 446.4 404.9 450.9 405.1 450.4 405.3 446.8 405.6 447.0 405.8 445.8 406.0 445.4 406.2 446.7 406.5 444.6 406.7 443.3 406.9 443.5 407.2 442.6 407.4 442.6 407.6 440.3 407.9 438.9 408.1 439.8 408.3 437.3 408.5 435.7 408.8 434.7 409.0 432.2 409.2 431.3 409.5 431.3 409.7 431.3 409.9 432.5 410.2 433.9 410.4 436.3 410.6 436.2 410.8 438.5 411.1 439.3 411.3 441.9 411.5 440.4 411.8 442.7 412.0 443.0 412.2 443.3 412.5 445.0 412.7 441.2 412.9 445.2 413.1 445.0 413.4 445.9 413.6 449.1 413.8 447.3 414.1 448.1 414.3 451.6 414.5 448.0 414.8 453.5 415.0 451.0 415.2 455.9 415.4 453.2 415.7 455.9 415.9 456.4 416.1 456.9 416.4 457.5 416.6 456.8 416.8 458.4 417.1 457.8 417.3 454.5 417.5 453.3 417.7 460.1 418.0 453.9 418.2 457.1 418.4 456.2 418.7 456.2 418.9 455.9 419.1 460.0 419.4 458.5 419.6 455.7 419.8 458.2 420.0 457.5 420.3 460.0 420.5 457.5 420.7 455.1 421.0 459.7 421.2 459.8 421.4 460.0 421.7 458.5 421.9 455.0 422.1 456.0 422.3 457.1 422.6 457.7 422.8 456.9 423.0 458.3 423.3 456.0 423.5 456.8 423.7 456.5 424.0 457.3 424.2 455.5 424.4 460.3 424.6 456.3 424.9 456.8 425.1 458.3 425.3 456.7 425.6 459.0 425.8 459.0 426.0 459.2 426.3 456.8 426.5 456.7 426.7 457.4 426.9 457.3 427.2 457.9 427.4 458.3 427.6 458.0 427.9 457.4 428.1 459.6 428.3 459.7 428.6 459.3 428.8 459.0 429.0 458.8 429.2 460.4 429.5 457.6 429.7 456.7 429.9 458.1 430.2 458.3 430.4 458.0 430.6 458.1 430.9 458.2 431.1 458.9 431.3 457.6 431.5 457.2 431.8 458.5 432.0 459.3 432.2 458.4 432.5 457.0 432.7 458.7 432.9 457.9 433.2 459.1 433.4 457.7 433.6 458.2 433.8 459.3 434.1 458.1 434.3 457.7 434.5 457.4 434.8 456.5 435.0 458.2 435.2 455.5 435.5 456.3 435.7 455.7 435.9 457.5 436.1 459.7 436.4 455.0 436.6 457.4 436.8 456.3 437.1 458.9 437.3 452.8 437.5 454.8 437.8 456.6 438.0 455.7 438.2 456.1 438.4 452.9 438.7 454.7 438.9 454.0 439.1 457.5 439.4 455.0 439.6 454.8 439.8 453.6 440.1 455.6 440.3 453.7 440.5 453.7 440.7 452.0 441.0 453.8 441.2 453.5 441.4 451.3 441.7 451.4 441.9 452.7 442.1 452.3 442.4 451.8 442.6 453.1 442.8 453.8 443.0 453.2 443.3 452.9 443.5 454.1 443.7 453.5 444.0 453.5 444.2 454.7 444.4 456.2 444.7 456.3 444.9 455.0 445.1 454.5 445.3 455.1 445.6 455.6 445.8 456.3 446.0 455.3 446.3 455.7 446.5 456.3 446.7 454.7 447.0 456.1 447.2 456.6 447.4 457.4 447.6 456.9 447.9 455.9 448.1 455.2 448.3 455.9 448.6 455.2 448.8 455.7 449.0 456.3 449.3 456.7 449.5 458.2 449.7 457.3 449.9 457.5 450.2 458.1 450.4 457.0 450.6 456.5 450.9 457.5 451.1 457.1 451.3 460.5 451.6 460.7 451.8 458.8 452.0 459.5 452.2 461.1 452.5 461.2 452.7 460.8 452.9 460.4 453.2 460.8 453.4 457.8 453.6 456.5 453.9 457.9 454.1 459.5 454.3 457.6 454.5 458.1 454.8 458.6 455.0 458.4 455.2 457.0 455.5 458.0 455.7 459.4 455.9 458.9 456.2 458.0 456.4 457.6 456.6 459.7 456.8 459.8 457.1 456.3 457.3 456.7 457.5 456.7 457.8 458.1 458.0 457.2 458.2 456.7 458.5 459.1 458.7 457.5 458.9 455.7 459.1 456.7 459.4 456.4 459.6 458.3 459.8 453.8 460.1 455.9 460.3 456.0 460.5 457.1 460.8 455.3 461.0 456.1 461.2 455.9 461.4 452.5 461.7 453.7 461.9 453.4 462.1 454.1 462.4 452.1 462.6 454.0 462.8 452.9 463.1 453.2 463.3 450.3 463.5 452.4 463.7 451.9 464.0 450.1 464.2 450.6 464.4 450.7 464.7 451.3 464.9 449.1 465.1 449.1 465.4 448.2 465.6 448.9 465.8 448.6 466.0 449.8 466.3 451.1 466.5 451.9 466.7 452.3 467.0 453.0 467.2 453.4 467.4 456.2 467.7 455.9 467.9 455.1 468.1 458.2 468.3 459.1 468.6 460.3 468.8 460.8 469.0 458.7 469.3 460.4 469.5 459.1 469.7 459.5 470.0 458.2 470.2 458.7 470.4 458.3 470.6 456.2 470.9 458.4 471.1 456.8 471.3 459.1 471.6 455.7 471.8 458.9 472.0 456.6 472.3 457.6 472.5 458.4 472.7 459.2 472.9 457.4 473.2 458.6 473.4 459.9 473.6 458.6 473.9 459.3 474.1 458.7 474.3 460.1 474.6 459.7 474.8 460.2 475.0 458.6 475.2 458.5 475.5 455.2 475.7 457.4 475.9 457.4 476.2 459.8 476.4 458.2 476.6 457.5 476.9 458.5 477.1 458.0 477.3 457.5 477.5 457.4 477.8 460.0 478.0 460.7 478.2 458.8 478.5 459.4 478.7 460.1 478.9 458.6 479.2 459.5 479.4 457.7 479.6 456.9 479.8 458.3 480.1 460.5 480.3 459.1 480.5 457.8 480.8 459.8 481.0 460.8 481.2 458.3 481.5 460.1 481.7 462.0 481.9 459.1 482.1 459.7 482.4 458.8 482.6 458.0 482.8 458.1 483.1 460.8 483.3 460.3 483.5 459.5 483.8 462.1 484.0 459.5 484.2 460.1 484.4 460.8 484.7 459.2 484.9 458.9 485.1 459.4 485.4 458.8 485.6 460.3 485.8 460.4 486.1 459.5 486.3 457.8 486.5 459.6 486.7 458.7 487.0 459.7 487.2 460.7 487.4 461.9 487.7 461.6 487.9 458.3 488.1 459.8 488.4 458.7 488.6 459.4 488.8 461.1 489.0 459.6 489.3 459.1 489.5 457.9 489.7 457.4 490.0 457.7 490.2 458.5 490.4 459.5 490.7 458.1 490.9 457.0 491.1 457.0 491.3 457.7 491.6 458.7 491.8 458.9 492.0 455.1 492.3 454.3 492.5 457.0 492.7 456.7 493.0 456.7 493.2 457.3 493.4 454.7 493.6 455.7 493.9 453.1 494.1 455.8 494.3 453.8 494.6 453.5 494.8 452.0 495.0 454.9 495.3 454.1 495.5 453.4 495.7 451.0 495.9 451.4 496.2 453.1 496.4 451.6 496.6 451.7 496.9 452.0 497.1 451.4 497.3 453.2 497.6 450.0 497.8 454.2 498.0 454.4 498.2 453.3 498.5 453.8 498.7 452.9 498.9 455.8 499.2 452.5 499.4 452.1 499.6 454.3 499.9 453.1 500.1 453.5 500.3 456.6 500.5 451.3 500.8 455.5 501.0 453.0 501.2 454.9 501.5 455.5 501.7 455.4 501.9 452.7 502.2 455.2 502.4 456.1 502.6 458.3 502.8 456.0 503.1 453.7 503.3 454.5 503.5 454.4 503.8 457.9 504.0 457.3 504.2 453.6 504.5 455.4 504.7 458.5 504.9 455.1 505.1 457.3 505.4 455.5 505.6 455.8 505.8 454.2 506.1 452.3 506.3 452.4 506.5 454.0 506.8 455.0 507.0 452.0 507.2 452.5 507.4 452.1 507.7 449.0 507.9 448.7 508.1 450.7 508.4 449.9 508.6 447.4 508.8 445.3 509.1 446.6 509.3 446.1 509.5 447.2 509.7 445.3 510.0 445.2 510.2 446.2 510.4 445.0 510.7 442.9 510.9 444.7 511.1 443.2 511.4 444.5 511.6 440.6 511.8 441.0 512.0 439.8 512.3 438.7 512.5 438.5 512.7 439.2 513.0 439.2 513.2 438.0 513.4 437.9 513.7 438.5 513.9 437.2 514.1 437.5 514.3 439.1 514.6 438.6 514.8 440.1 515.0 439.8 515.3 440.9 515.5 441.1 515.7 441.3 516.0 442.8 516.2 445.7 516.4 444.8 516.6 444.5 516.9 447.4 517.1 444.2 517.3 447.9 517.6 447.8 517.8 448.3 518.0 450.2 518.3 451.7 518.5 451.6 518.7 454.2 518.9 453.0 519.2 456.9 519.4 457.9 519.6 460.4 519.9 458.6 520.1 457.2 520.3 456.9 520.6 458.2 520.8 458.2 521.0 455.8 521.2 455.4 521.5 458.7 521.7 458.2 521.9 456.1 522.2 459.5 522.4 458.0 522.6 457.2 522.9 457.4 523.1 458.4 523.3 457.5 523.5 457.4 523.8 458.8 524.0 456.3 524.2 458.0 524.5 458.0 524.7 459.2 524.9 458.2 525.2 458.8 525.4 458.8 525.6 459.0 525.8 456.3 526.1 456.8 526.3 456.8 526.5 459.4 526.8 458.2 527.0 457.3 527.2 457.3 527.5 456.4 527.7 458.0 527.9 455.9 528.1 456.9 528.4 456.2 528.6 454.7 528.8 456.9 529.1 456.1 529.3 455.3 529.5 454.2 529.8 455.7 530.0 454.2 530.2 453.6 530.4 455.6 530.7 454.5 530.9 455.1 531.1 455.7 531.4 456.6 531.6 454.3 531.8 453.8 532.1 457.2 532.3 455.7 532.5 456.7 532.7 457.6 533.0 458.6 533.2 456.2 533.4 456.7 533.7 455.1 533.9 458.1 534.1 458.0 534.4 458.3 534.6 460.6 534.8 457.3 535.0 457.0 535.3 457.7 535.5 459.7 535.7 457.1 536.0 457.7 536.2 459.5 536.4 457.7 536.7 458.2 536.9 457.7 537.1 459.7 537.3 458.2 537.6 460.0 537.8 458.4 538.0 459.4 538.3 458.2 538.5 460.1 538.7 456.4 539.0 461.8 539.2 459.7 539.4 457.9 539.6 458.5 539.9 459.3 540.1 459.6 540.3 458.7 540.6 460.9 540.8 459.4 541.0 458.8 541.3 459.7 541.5 460.8 541.7 458.1 541.9 458.8 542.2 461.1 542.4 460.3 542.6 460.0 542.9 462.2 543.1 461.8 543.3 458.5 543.6 458.3 543.8 460.4 544.0 461.0 544.2 459.6 544.5 460.5 544.7 459.1 544.9 460.9 545.2 458.5 545.4 460.2 545.6 460.7 545.9 459.7 546.1 460.0 546.3 460.0 546.5 461.0 546.8 459.1 547.0 461.3 547.2 458.1 547.5 461.4 547.7 460.3 547.9 460.9 548.2 461.3 548.4 460.5 548.6 461.5 548.8 460.7 549.1 460.0 549.3 461.1 549.5 461.5 549.8 458.0 550.0 460.2 550.2 457.6 550.5 460.1 550.7 460.0 550.9 459.9 551.1 461.3 551.4 461.2 551.6 460.9 551.8 456.9 552.1 461.6 552.3 459.3 552.5 456.9 552.8 460.1 553.0 459.7 553.2 459.6 553.4 461.6 553.7 459.7 553.9 458.9 554.1 461.0 554.4 458.9 554.6 461.2 554.8 459.0 555.1 460.9 555.3 462.3 555.5 461.3 555.7 459.5 556.0 458.5 556.2 459.8 556.4 458.6 556.7 462.0 556.9 461.6 557.1 458.0 557.4 460.0 557.6 461.1 557.8 461.7 558.0 459.3 558.3 460.7 558.5 459.4 558.7 460.3 559.0 461.7 559.2 458.6 559.4 460.9 559.7 461.8 559.9 459.1 560.1 460.0 560.3 462.7 560.6 461.0 560.8 462.1 561.0 461.8 561.3 462.6 561.5 462.3 561.7 461.3 562.0 460.5 562.2 462.1 562.4 460.3 562.6 460.7 562.9 460.9 563.1 461.1 563.3 460.2 563.6 461.4 563.8 462.4 564.0 459.7 564.3 459.3 564.5 461.0 564.7 461.8 564.9 462.2 565.2 462.1 565.4 461.6 565.6 463.9 565.9 462.5 566.1 461.8 566.3 462.4 566.6 462.0 566.8 461.4 567.0 462.0 567.2 461.2 567.5 461.1 567.7 463.0 567.9 459.7 568.2 460.9 568.4 460.8 568.6 462.2 568.9 460.3 569.1 461.7 569.3 461.8 569.5 462.2 569.8 462.4 570.0 461.5 570.2 460.7 570.5 461.4 570.7 459.6 570.9 462.5 571.2 460.3 571.4 461.0 571.6 460.9 571.8 463.4 572.1 460.7 572.3 461.0 572.5 462.7 572.8 461.7 573.0 460.5 573.2 462.3 573.5 460.9 573.7 462.0 573.9 462.6 574.1 460.4 574.4 460.0 574.6 460.5 574.8 461.7 575.1 463.3 575.3 461.7 575.5 461.9 575.8 460.6 576.0 461.1 576.2 461.3 576.4 458.9 576.7 460.3 576.9 460.1 577.1 460.6 577.4 461.5 577.6 460.5 577.8 461.2 578.1 460.7 578.3 460.6 578.5 459.4 578.7 459.6 579.0 459.7 579.2 459.1 579.4 459.8 579.7 458.4 579.9 460.1 580.1 459.1 580.4 457.5 580.6 460.1 580.8 460.2 581.0 459.9 581.3 457.7 581.5 457.5 581.7 458.1 582.0 457.4 582.2 458.9 582.4 457.2 582.7 457.4 582.9 458.2 583.1 457.5 583.3 456.3 583.6 457.7 583.8 456.7 584.0 457.5 584.3 457.3 584.5 457.1 584.7 455.7 585.0 456.0 585.2 456.9 585.4 454.9 585.6 457.9 585.9 456.3 586.1 456.2 586.3 454.7 586.6 455.2 586.8 455.0 587.0 453.6 587.3 454.1 587.5 456.3 587.7 453.9 587.9 454.9 588.2 455.5 588.4 454.1 588.6 454.6 588.9 454.0 589.1 453.7 589.3 454.7 589.6 453.8 589.8 452.6 590.0 453.7 590.2 454.9 590.5 456.2 590.7 454.9 590.9 457.5 591.2 454.3 591.4 456.0 591.6 457.0 591.9 456.9 592.1 456.9 592.3 458.9 592.5 456.9 592.8 457.9 593.0 458.7 593.2 457.4 593.5 459.6 593.7 460.2 593.9 460.6 594.2 461.9 594.4 460.1 594.6 461.7 594.8 460.9 595.1 459.9 595.3 459.1 595.5 461.4 595.8 458.0 596.0 460.8 596.2 460.0 596.5 461.0 596.7 458.6 596.9 457.6 597.1 459.7 597.4 459.9 597.6 460.0 597.8 459.1 598.1 458.6 598.3 458.4 598.5 459.1 598.8 457.1 599.0 458.3 599.2 458.6 599.4 460.0 599.7 457.6 599.9 456.7 600.1 459.7 600.4 458.0 600.6 458.6 600.8 456.5 601.1 455.4 601.3 456.7 601.5 457.5 601.7 457.6 602.0 457.7 602.2 455.6 602.4 456.4 602.7 454.3 602.9 454.8 603.1 455.4 603.4 455.6 603.6 456.8 603.8 456.1 604.0 456.6 604.3 453.6 604.5 455.3 604.7 453.9 605.0 455.6 605.2 454.7 605.4 455.4 605.7 456.0 605.9 455.5 606.1 454.6 606.3 455.0 606.6 454.8 606.8 455.2 607.0 455.6 607.3 457.1 607.5 454.1 607.7 459.6 608.0 456.7 608.2 457.1 608.4 456.4 608.6 456.9 608.9 457.1 609.1 456.7 609.3 459.1 609.6 457.7 609.8 458.2 610.0 457.8 610.3 461.8 610.5 458.0 610.7 459.4 610.9 460.3 611.2 457.8 611.4 458.2 611.6 458.1 611.9 459.8 612.1 460.1 612.3 460.8 612.6 458.8 612.8 460.0 613.0 459.5 613.2 460.7 613.5 457.2 613.7 462.5 613.9 459.7 614.2 461.5 614.4 459.7 614.6 461.1 614.9 460.3 615.1 460.2 615.3 462.4 615.5 462.5 615.8 459.2 616.0 459.8 616.2 458.4 616.5 461.3 616.7 460.6 616.9 460.3 617.2 458.1 617.4 459.4 617.6 458.6 617.8 458.3 618.1 458.7 618.3 459.3 618.5 459.4 618.8 458.6 619.0 459.0 619.2 458.0 619.5 457.7 619.7 458.2 619.9 458.1 620.1 458.2 620.4 459.5 620.6 459.3 620.8 458.6 621.1 458.4 621.3 459.2 621.5 459.6 621.8 458.7 622.0 458.1 622.2 457.1 622.4 461.2 622.7 459.5 622.9 459.4 623.1 460.6 623.4 461.5 623.6 458.8 623.8 461.7 624.1 461.4 624.3 461.3 624.5 459.9 624.7 460.3 625.0 461.1 625.2 460.8 625.4 460.6 625.7 461.5 625.9 461.2 626.1 459.9 626.4 459.0 626.6 460.6 626.8 460.6 627.0 459.5 627.3 459.7 627.5 459.3 627.7 460.5 628.0 459.0 628.2 461.7 628.4 460.5 628.7 461.0 628.9 463.1 629.1 461.1 629.3 459.4 629.6 462.2 629.8 460.9 630.0 459.5 630.3 459.6 630.5 460.9 630.7 460.7 631.0 462.6 631.2 460.3 631.4 461.7 631.6 461.6 631.9 460.2 632.1 461.7 632.3 461.1 632.6 461.1 632.8 461.3 633.0 462.4 633.3 461.9 633.5 463.6 633.7 461.3 633.9 460.7 634.2 462.3 634.4 459.4 634.6 463.5 634.9 464.1 635.1 463.3 635.3 462.4 635.6 461.6 635.8 462.5 636.0 461.0 636.2 462.3 636.5 462.0 636.7 462.5 636.9 460.7 637.2 462.3 637.4 461.5 637.6 460.9 637.9 461.1 638.1 462.0 638.3 462.2 638.5 458.4 638.8 461.1 639.0 463.4 639.2 463.8 639.5 462.3 639.7 461.6 639.9 461.1 640.2 463.7 640.4 461.7 640.6 462.6 640.8 460.2 641.1 461.0 641.3 463.5 641.5 462.6 641.8 462.0 642.0 460.1 642.2 462.3 642.5 462.4 642.7 463.0 642.9 460.4 643.1 460.6 643.4 461.9 643.6 461.8 643.8 461.5 644.1 461.2 644.3 460.7 644.5 461.8 644.8 460.6 645.0 461.4 645.2 462.4 645.4 460.9 645.7 461.5 645.9 464.0 646.1 460.4 646.4 461.2 646.6 461.9 646.8 463.2 647.1 462.6 647.3 463.1 647.5 462.6 647.7 461.0 648.0 461.1 648.2 461.7 648.4 462.0 648.7 462.9 648.9 461.3 649.1 462.1 649.4 462.6 649.6 460.0 649.8 462.0 650.0 461.8 650.3 461.3 650.5 461.1 650.7 459.3 651.0 460.0 651.2 461.6 651.4 460.9 651.7 462.8 651.9 460.6 652.1 460.7 652.3 462.6 652.6 461.5 652.8 462.6 653.0 460.8 653.3 460.5 653.5 462.9 653.7 462.4 654.0 460.3 654.2 460.7 654.4 464.0 654.6 461.8 654.9 464.2 655.1 461.8 655.3 461.6 655.6 462.1 655.8 463.1 656.0 461.6 656.3 461.4 656.5 461.3 656.7 461.2 656.9 462.0 657.2 463.2 657.4 462.2 657.6 460.9 657.9 461.3 658.1 460.8 658.3 461.5 658.6 460.0 658.8 462.4 659.0 461.7 659.2 461.0 659.5 461.4 659.7 461.5 659.9 461.7 660.2 461.6 660.4 462.5 660.6 462.3 660.9 459.3 661.1 461.8 661.3 463.8 661.5 460.8 661.8 461.9 662.0 461.0 662.2 459.7 662.5 462.7 662.7 462.2 662.9 459.1 663.2 461.1 663.4 462.0 663.6 462.1 663.8 459.8 664.1 462.1 664.3 461.6 664.5 459.9 664.8 461.1 665.0 462.1 665.2 462.4 665.5 461.1 665.7 462.8 665.9 461.3 666.1 461.7 666.4 462.2 666.6 460.3 666.8 461.3 667.1 460.0 667.3 459.6 667.5 460.5 667.8 460.4 668.0 461.1 668.2 461.7 668.4 461.1 668.7 460.4 668.9 461.4 669.1 460.1 669.4 461.1 669.6 462.4 669.8 460.9 670.1 458.8 670.3 458.4 670.5 462.0 670.7 461.8 671.0 461.0 671.2 462.2 671.4 461.4 671.7 461.6 671.9 460.0 672.1 462.2 672.4 463.0 672.6 462.6 672.8 461.1 673.0 461.3 673.3 462.2 673.5 460.6 673.7 461.9 674.0 460.1 674.2 462.4 674.4 462.3 674.7 462.4 674.9 461.4 675.1 459.6 675.3 461.1 675.6 461.1 675.8 460.6 676.0 460.7 676.3 463.0 676.5 461.2 676.7 461.9 677.0 461.4 677.2 460.1 677.4 461.1 677.6 460.4 677.9 461.7 678.1 459.8 678.3 459.4 678.6 460.6 678.8 460.8 679.0 460.1 679.3 460.1 679.5 460.7 679.7 460.5 679.9 460.2 680.2 461.5 680.4 460.7 680.6 461.5 680.9 461.0 681.1 459.6 681.3 460.3 681.6 461.5 681.8 460.7 682.0 462.3 682.2 460.4 682.5 460.0 682.7 459.1 682.9 458.0 683.2 458.9 683.4 461.6 683.6 457.9 683.9 461.3 684.1 460.4 684.3 457.1 684.5 458.5 684.8 460.5 685.0 460.4 685.2 459.8 685.5 459.3 685.7 460.0 685.9 459.2 686.2 456.5 686.4 457.6 686.6 456.6 686.8 457.9 687.1 459.9 687.3 456.9 687.5 456.0 687.8 458.2 688.0 455.3 688.2 457.3 688.5 457.6 688.7 458.7 688.9 457.6 689.1 458.8 689.4 456.6 689.6 457.7 689.8 456.4 690.1 457.9 690.3 458.5 690.5 457.0 690.8 457.8 691.0 458.0 691.2 459.8 691.4 458.3 691.7 458.0 691.9 458.2 692.1 455.7 692.4 458.3 692.6 459.4 692.8 458.5 693.1 458.8 693.3 459.4 693.5 460.4 693.7 459.8 694.0 459.8 694.2 460.1 694.4 458.8 694.7 458.8 694.9 458.9 695.1 460.6 695.4 459.1 695.6 460.9 695.8 459.3 696.0 460.1 696.3 461.4 696.5 462.9 696.7 460.8 697.0 458.0 697.2 460.0 697.4 460.9 697.7 461.1 697.9 459.5 698.1 458.1 698.3 460.3 698.6 459.6 698.8 459.5 699.0 458.5 699.3 460.4 699.5 458.2 699.7 459.7 700.0 460.1 700.2 459.9 700.4 460.3 700.6 461.9 700.9 462.1 701.1 460.2 701.3 459.5 701.6 459.1 701.8 459.2 702.0 459.4 702.3 461.2 702.5 460.9 702.7 459.3 702.9 459.7 703.2 461.8 703.4 458.5 703.6 461.0 703.9 461.7 704.1 459.9 704.3 461.2 704.6 461.1 704.8 460.7 705.0 459.3 705.2 460.5 705.5 459.2 705.7 459.5 705.9 462.0 706.2 460.1 706.4 458.8 706.6 461.5 706.9 462.0 707.1 462.1 707.3 461.4 707.5 461.1 707.8 458.1 708.0 461.6 708.2 459.9 708.5 460.6 708.7 461.6 708.9 461.4 709.2 461.0 709.4 462.2 709.6 462.7 709.8 460.4 710.1 460.2 710.3 463.4 710.5 462.1 710.8 461.0 711.0 460.2 711.2 461.6 711.5 463.2 711.7 460.5 711.9 461.9 712.1 460.0 712.4 462.3 712.6 461.4 712.8 463.1 713.1 461.9 713.3 461.5 713.5 460.5 713.8 460.4 714.0 460.9 714.2 462.0 714.4 461.5 714.7 461.7 714.9 461.6 715.1 462.4 715.4 463.3 715.6 461.7 715.8 462.3 716.1 459.8 716.3 459.3 716.5 460.4 716.7 462.0 717.0 460.2 717.2 460.1 717.4 462.2 717.7 461.4 717.9 461.3 718.1 460.7 718.4 462.2 718.6 461.7 718.8 461.4 719.0 460.3 719.3 460.1 719.5 463.2 719.7 460.8 720.0 461.0 720.2 460.8 720.4 460.1 720.7 460.2 720.9 461.8 721.1 459.3 721.3 462.6 721.6 459.9 721.8 459.4 722.0 459.1 722.3 461.4 722.5 463.8 722.7 462.5 723.0 462.1 723.2 461.2 723.4 462.3 723.6 461.8 723.9 461.7 724.1 461.9 724.3 463.4 724.6 462.8 724.8 463.4 725.0 461.6 725.3 462.9 725.5 462.4 725.7 460.2 725.9 460.7 726.2 462.5 726.4 461.7 726.6 462.7 726.9 461.8 727.1 461.6 727.3 460.8 727.6 459.5 727.8 462.6 728.0 461.0 728.2 461.4 728.5 460.9 728.7 462.2 728.9 461.2 729.2 460.9 729.4 460.9 729.6 461.0 729.9 461.5 730.1 462.0 730.3 458.6 730.5 460.6 730.8 461.3 731.0 462.7 731.2 462.4 731.5 460.9 731.7 460.5 731.9 461.5 732.2 460.5 732.4 462.2 732.6 463.4 732.8 462.8 733.1 462.6 733.3 460.8 733.5 459.4 733.8 460.4 734.0 462.1 734.2 463.7 734.5 462.9 734.7 462.1 734.9 460.8 735.1 462.2 735.4 460.9 735.6 460.2 735.8 460.8 736.1 460.6 736.3 463.4 736.5 460.9 736.8 462.8 737.0 461.9 737.2 461.7 737.4 462.1 737.7 462.1 737.9 464.0 738.1 460.6 738.4 461.3 738.6 462.2 738.8 462.6 739.1 460.4 739.3 461.4 739.5 463.2 739.7 461.6 740.0 461.5 740.2 461.4 740.4 461.0 740.7 462.7 740.9 460.6 741.1 462.3 741.4 462.1 741.6 460.1 741.8 462.1 742.0 462.4 742.3 463.4 742.5 462.0 742.7 461.4 743.0 461.7 743.2 459.9 743.4 462.1 743.7 462.1 743.9 459.9 744.1 459.0 744.3 459.5 744.6 460.6 744.8 460.3 745.0 462.2 745.3 461.1 745.5 460.3 745.7 461.4 746.0 460.8 746.2 459.8 746.4 459.6 746.6 460.1 746.9 461.9 747.1 461.3 747.3 462.6 747.6 459.9 747.8 460.8 748.0 459.5 748.3 459.5 748.5 459.1 748.7 458.5 748.9 461.2 749.2 459.7 749.4 458.4 749.6 458.3 749.9 459.6 750.1 459.9 750.3 459.9 750.6 458.3 750.8 458.1 751.0 457.5 751.2 459.9 751.5 459.3 751.7 460.9 751.9 458.9 752.2 459.5 752.4 458.6 752.6 457.5 752.9 460.2 753.1 457.4 753.3 459.8 753.5 460.1 753.8 457.9 754.0 458.4 754.2 458.7 754.5 458.3 754.7 459.7 754.9 457.3 755.2 457.6 755.4 459.2 755.6 458.2 755.8 459.9 756.1 458.2 756.3 458.5 756.5 460.9 756.8 458.7 757.0 458.4 757.2 459.4 757.5 459.7 757.7 459.7 757.9 459.6 758.1 461.7 758.4 458.9 758.6 459.9 758.8 460.7 759.1 458.8 759.3 461.1 759.5 460.8 759.8 459.1 760.0 461.7 760.2 461.8 760.4 459.2 760.7 461.4 760.9 459.9 761.1 460.6 761.4 461.3 761.6 461.3 761.8 460.5 762.1 459.9 762.3 462.0 762.5 460.1 762.7 460.7 763.0 460.2 763.2 460.9 763.4 459.9 763.7 461.0 763.9 461.0 764.1 461.4 764.4 461.6 764.6 463.1 764.8 460.9 765.0 461.0 765.3 460.5 765.5 460.1 765.7 462.6 766.0 460.5 766.2 459.4 766.4 460.3 766.7 462.0 766.9 459.8 767.1 462.7 767.3 462.0 767.6 461.3 767.8 460.4 768.0 460.4 768.3 462.0 768.5 461.5 768.7 460.7 769.0 459.4 769.2 461.7 769.4 459.7 769.6 461.7 769.9 460.9 770.1 460.9 770.3 461.0 770.6 460.4 770.8 461.1 771.0 461.9 771.3 461.5 771.5 461.9 771.7 461.2 771.9 461.3 772.2 460.4 772.4 460.0 772.6 463.5 772.9 461.8 773.1 462.7 773.3 461.0 773.6 463.4 773.8 463.6 774.0 460.9 774.2 462.5 774.5 459.5 774.7 461.1 774.9 461.5 775.2 462.1 775.4 462.5 775.6 461.3 775.9 462.2 776.1 461.6 776.3 464.0 776.5 459.9 776.8 461.2 777.0 461.8 777.2 461.9 777.5 459.1 777.7 460.7 777.9 462.4 778.2 462.1 778.4 459.2 778.6 461.3 778.8 462.1 779.1 461.7 779.3 461.4 779.5 459.3 779.8 460.4 780.0 461.3 780.2 463.2 780.5 461.1 780.7 461.9 780.9 460.8 781.1 461.9 781.4 463.3 781.6 461.7 781.8 461.7 782.1 463.2 782.3 460.9 782.5 462.0 782.8 461.1 783.0 463.0 783.2 461.7 783.4 463.2 783.7 464.0 783.9 461.2 784.1 463.5 784.4 463.6 784.6 461.8 784.8 461.1 785.1 463.2 785.3 461.9 785.5 461.4 785.7 462.1 786.0 461.5 786.2 462.0 786.4 462.7 786.7 462.1 786.9 460.8 787.1 461.7 787.4 460.4 787.6 459.9 787.8 461.5 788.0 462.2 788.3 459.1 788.5 462.5 788.7 463.7 789.0 463.0 789.2 457.4 789.4 461.7 789.7 461.1 789.9 461.8 790.1 462.3 790.3 461.0 790.6 459.0 790.8 459.9 791.0 460.7 791.3 460.7 791.5 461.2 791.7 460.5 792.0 461.9 792.2 459.4 792.4 459.8 792.6 461.4 792.9 460.9 793.1 462.7 793.3 459.6 793.6 458.6 793.8 460.4 794.0 462.1 794.3 460.0 794.5 459.8 794.7 461.7 794.9 461.1 795.2 461.3 795.4 460.9 795.6 459.6 795.9 463.9 796.1 460.5 796.3 462.6 796.6 459.5 796.8 460.7 797.0 459.6 797.2 460.0 797.5 459.8 797.7 462.3 797.9 461.5 798.2 462.2 798.4 462.2 798.6 460.2 798.9 461.5 799.1 460.1 799.3 463.8 799.5 462.8 799.8 461.9 800.0 460.0 800.2 463.3 800.5 461.2 800.7 460.5 800.9 459.9 801.2 463.8 801.4 463.1 801.6 461.4 801.8 462.9 802.1 459.8 802.3 463.4 802.5 462.1 802.8 463.8 803.0 462.5 803.2 461.0 803.5 460.0 803.7 463.1 803.9 460.4 804.1 462.7 804.4 463.0 804.6 460.6 804.8 462.4 805.1 463.0 805.3 461.9 805.5 460.9 805.8 459.5 806.0 462.2 806.2 461.2 806.4 460.5 806.7 460.8 806.9 461.2 807.1 464.1 807.4 461.4 807.6 462.7 807.8 460.5 808.1 463.2 808.3 461.4 808.5 461.9 808.7 460.7 809.0 460.8 809.2 460.1 809.4 462.3 809.7 462.6 809.9 462.2 810.1 461.3 810.4 461.5 810.6 462.7 810.8 461.2 811.0 460.8 811.3 461.5 811.5 460.8 811.7 462.1 812.0 461.0 812.2 459.8 812.4 459.5 812.7 459.4 812.9 462.8 813.1 461.1 813.3 462.5 813.6 462.7 813.8 460.7 814.0 463.7 814.3 460.8 814.5 461.5 814.7 460.1 815.0 461.4 815.2 460.4 815.4 461.6 815.6 462.9 815.9 461.6 816.1 459.4 816.3 459.2 816.6 459.6 816.8 462.9 817.0 460.2 817.3 458.2 817.5 459.9 817.7 461.1 817.9 459.9 818.2 461.8 818.4 462.1 818.6 459.9 818.9 462.1 819.1 459.7 819.3 462.6 819.6 460.0 819.8 462.2 820.0 460.5 820.2 459.6 820.5 460.4 820.7 460.7 820.9 459.3 821.2 461.0 821.4 459.1 821.6 459.1 821.9 460.4 822.1 461.1 822.3 459.2 822.5 460.7 822.8 461.8 823.0 460.4 823.2 459.7 823.5 461.6 823.7 462.2 823.9 460.1 824.2 460.7 824.4 460.0 824.6 461.0 824.8 461.7 825.1 459.6 825.3 462.5 825.5 460.5 825.8 460.2 826.0 461.0 826.2 460.6 826.5 460.7 826.7 457.8 826.9 462.8 827.1 461.1 827.4 460.6 827.6 461.8 827.8 460.3 828.1 460.3 828.3 462.1 828.5 459.7 828.8 460.5 829.0 461.7 829.2 460.8 829.4 461.2 829.7 459.3 829.9 458.5 830.1 461.5 830.4 461.5 830.6 462.2 830.8 462.7 831.1 460.8 831.3 461.2 831.5 462.0 831.7 459.0 832.0 460.7 832.2 460.3 832.4 461.1 832.7 462.5 832.9 460.7 833.1 460.0 833.4 459.8 833.6 459.6 833.8 460.8 834.0 458.1 834.3 461.9 834.5 460.8 834.7 460.4 835.0 460.6 835.2 460.2 835.4 462.0 835.7 458.8 835.9 458.3 836.1 460.8 836.3 458.7 836.6 460.5 836.8 460.7 837.0 458.0 837.3 460.0 837.5 460.8 837.7 459.3 838.0 458.7 838.2 461.3 838.4 458.5 838.6 459.8 838.9 460.5 839.1 458.4 839.3 460.2 839.6 458.5 839.8 459.9 840.0 459.3 840.3 460.7 840.5 460.4 840.7 460.4 840.9 458.1 841.2 459.3 841.4 458.3 841.6 461.6 841.9 458.7 842.1 458.7 842.3 457.9 842.6 458.6 842.8 457.6 843.0 459.0 843.2 459.2 843.5 457.4 843.7 457.6 843.9 459.1 844.2 457.8 844.4 458.7 844.6 457.3 844.9 461.2 845.1 455.9 845.3 458.8 845.5 459.0 845.8 459.7 846.0 457.7 846.2 458.7 846.5 459.1 846.7 458.7 846.9 460.0 847.2 459.1 847.4 460.9 847.6 459.0 847.8 458.1 848.1 460.8 848.3 459.7 848.5 459.2 848.8 460.8 849.0 460.3 849.2 461.0 849.5 458.8 849.7 460.9 849.9 461.6 850.1 461.0 850.4 459.7 850.6 462.0 850.8 462.1 851.1 459.7 851.3 459.7 851.5 460.5 851.8 461.7 852.0 460.9 852.2 460.9 852.4 460.0 852.7 462.1 852.9 463.4 853.1 461.8 853.4 463.7 853.6 461.6 853.8 464.9 854.1 460.4 854.3 462.8 854.5 461.6 854.7 462.9 855.0 459.9 855.2 461.9 855.4 463.5 855.7 463.2 855.9 463.2 856.1 463.3 856.4 461.5 856.6 462.4 856.8 463.8 857.0 460.2 857.3 464.0 857.5 463.9 857.7 462.1 858.0 462.6 858.2 462.9 858.4 461.8 858.7 461.5 858.9 462.4 859.1 464.4 859.3 460.4 859.6 463.4 859.8 465.3 860.0 462.9 860.3 462.7 860.5 461.7 860.7 461.4 861.0 462.0 861.2 463.4 861.4 461.7 861.6 463.7 861.9 462.0 862.1 463.1 862.3 463.9 862.6 462.4 862.8 463.6 863.0 462.0 863.3 462.3 863.5 463.5 863.7 464.8 863.9 461.3 864.2 463.8 864.4 460.4 864.6 462.5 864.9 461.8 865.1 462.5 865.3 462.6 865.6 461.3 865.8 464.6 866.0 463.8 866.2 462.7 866.5 465.2 866.7 464.4 866.9 463.8 867.2 463.9 867.4 462.8 867.6 463.8 867.9 461.5 868.1 463.7 868.3 463.7 868.5 464.0 868.8 463.2 869.0 463.0 869.2 463.0 869.5 466.9 869.7 465.1 869.9 464.7 870.2 463.0 870.4 464.5 870.6 463.6 870.8 462.1" fill="none" stroke="#ff0000" stroke-width="1.15" stroke-linejoin="round"/>
<path d="M75.5 378.8 75.7 380.4 76.0 378.9 76.2 376.6 76.4 377.0 76.7 378.5 76.9 377.4 77.1 378.6 77.3 375.0 77.6 379.4 77.8 379.0 78.0 375.2 78.3 376.4 78.5 375.9 78.7 376.1 79.0 377.5 79.2 375.7 79.4 375.2 79.6 376.9 79.9 377.5 80.1 375.4 80.3 376.1 80.6 374.0 80.8 376.7 81.0 378.0 81.3 376.1 81.5 375.3 81.7 373.0 81.9 374.9 82.2 372.8 82.4 376.0 82.6 377.0 82.9 376.5 83.1 375.1 83.3 375.4 83.6 374.0 83.8 374.9 84.0 374.9 84.2 374.5 84.5 371.6 84.7 374.7 84.9 374.8 85.2 373.5 85.4 374.6 85.6 374.9 85.9 371.9 86.1 374.8 86.3 373.4 86.5 372.8 86.8 374.2 87.0 373.3 87.2 373.7 87.5 373.2 87.7 373.6 87.9 373.0 88.2 373.8 88.4 373.3 88.6 373.0 88.8 375.9 89.1 374.8 89.3 375.3 89.5 376.9 89.8 375.7 90.0 375.1 90.2 373.9 90.5 376.1 90.7 375.8 90.9 376.5 91.1 375.3 91.4 375.1 91.6 373.2 91.8 376.2 92.1 373.9 92.3 375.2 92.5 376.4 92.8 376.0 93.0 375.8 93.2 376.5 93.4 374.1 93.7 376.2 93.9 377.7 94.1 377.6 94.4 374.7 94.6 377.5 94.8 377.0 95.1 375.5 95.3 375.1 95.5 376.5 95.7 378.4 96.0 377.4 96.2 375.9 96.4 377.0 96.7 377.9 96.9 376.5 97.1 376.0 97.4 377.0 97.6 374.0 97.8 376.7 98.0 374.6 98.3 375.9 98.5 376.4 98.7 375.7 99.0 374.9 99.2 375.2 99.4 376.5 99.7 373.9 99.9 374.3 100.1 375.6 100.3 376.1 100.6 375.0 100.8 374.4 101.0 375.7 101.3 374.3 101.5 377.0 101.7 376.1 102.0 376.6 102.2 373.3 102.4 373.7 102.6 373.9 102.9 372.7 103.1 373.4 103.3 375.0 103.6 372.6 103.8 373.4 104.0 375.2 104.3 373.8 104.5 373.9 104.7 373.3 104.9 372.6 105.2 372.8 105.4 373.5 105.6 372.7 105.9 373.4 106.1 372.9 106.3 373.4 106.6 375.2 106.8 374.3 107.0 372.2 107.2 373.5 107.5 375.9 107.7 376.0 107.9 372.5 108.2 374.5 108.4 374.0 108.6 371.0 108.9 374.5 109.1 376.6 109.3 373.4 109.5 373.9 109.8 375.5 110.0 373.9 110.2 373.9 110.5 374.9 110.7 372.8 110.9 375.3 111.2 373.1 111.4 374.8 111.6 375.8 111.8 376.9 112.1 374.0 112.3 375.3 112.5 375.4 112.8 372.9 113.0 375.1 113.2 375.5 113.5 376.0 113.7 377.8 113.9 375.6 114.1 375.4 114.4 375.3 114.6 375.4 114.8 376.0 115.1 377.3 115.3 374.0 115.5 375.3 115.8 372.4 116.0 373.2 116.2 375.4 116.4 372.6 116.7 375.5 116.9 376.7 117.1 374.0 117.4 374.2 117.6 375.0 117.8 374.4 118.1 374.9 118.3 374.1 118.5 375.9 118.7 375.2 119.0 374.8 119.2 372.1 119.4 373.9 119.7 374.8 119.9 375.6 120.1 373.9 120.4 375.4 120.6 375.7 120.8 373.9 121.0 375.5 121.3 374.3 121.5 373.2 121.7 374.5 122.0 376.1 122.2 374.9 122.4 374.5 122.7 375.4 122.9 375.2 123.1 374.6 123.3 372.1 123.6 371.2 123.8 372.3 124.0 376.2 124.3 375.0 124.5 372.2 124.7 375.1 125.0 372.3 125.2 374.3 125.4 375.1 125.6 373.8 125.9 374.9 126.1 375.0 126.3 371.8 126.6 373.7 126.8 374.4 127.0 373.1 127.3 372.0 127.5 375.4 127.7 373.7 127.9 372.4 128.2 371.8 128.4 372.7 128.6 374.1 128.9 371.8 129.1 372.9 129.3 372.4 129.6 371.6 129.8 371.7 130.0 371.6 130.2 370.1 130.5 369.3 130.7 371.8 130.9 372.6 131.2 371.3 131.4 369.3 131.6 370.2 131.9 369.3 132.1 368.0 132.3 367.7 132.5 366.8 132.8 366.9 133.0 363.1 133.2 364.8 133.5 361.8 133.7 362.0 133.9 360.3 134.2 357.7 134.4 356.2 134.6 355.0 134.8 353.5 135.1 352.9 135.3 353.9 135.5 351.4 135.8 351.8 136.0 349.7 136.2 346.3 136.5 345.8 136.7 343.5 136.9 340.9 137.1 337.3 137.4 335.1 137.6 332.1 137.8 331.1 138.1 331.6 138.3 332.5 138.5 333.8 138.8 335.3 139.0 337.3 139.2 338.5 139.4 341.5 139.7 340.2 139.9 340.6 140.1 344.3 140.4 341.2 140.6 342.6 140.8 345.5 141.1 346.5 141.3 348.7 141.5 352.2 141.7 355.0 142.0 353.6 142.2 355.6 142.4 356.3 142.7 357.6 142.9 359.5 143.1 362.1 143.4 362.8 143.6 365.6 143.8 366.2 144.0 366.2 144.3 367.6 144.5 368.1 144.7 368.1 145.0 368.6 145.2 370.3 145.4 368.1 145.7 371.6 145.9 369.8 146.1 370.9 146.3 373.2 146.6 373.1 146.8 369.6 147.0 373.0 147.3 374.8 147.5 371.6 147.7 372.3 148.0 374.7 148.2 371.0 148.4 375.2 148.6 370.9 148.9 371.7 149.1 371.9 149.3 372.0 149.6 373.6 149.8 373.1 150.0 372.7 150.3 372.7 150.5 370.1 150.7 371.4 150.9 373.8 151.2 370.5 151.4 374.1 151.6 371.9 151.9 370.6 152.1 373.1 152.3 373.0 152.6 371.0 152.8 371.1 153.0 370.6 153.2 370.9 153.5 368.5 153.7 370.7 153.9 373.4 154.2 370.9 154.4 372.1 154.6 372.7 154.9 371.7 155.1 370.8 155.3 370.6 155.5 370.6 155.8 371.8 156.0 370.7 156.2 372.3 156.5 373.7 156.7 371.9 156.9 369.1 157.2 371.5 157.4 370.7 157.6 370.4 157.8 369.9 158.1 370.5 158.3 375.4 158.5 375.3 158.8 373.3 159.0 369.4 159.2 370.9 159.5 372.2 159.7 370.1 159.9 371.5 160.1 372.2 160.4 372.8 160.6 371.1 160.8 370.9 161.1 370.0 161.3 369.9 161.5 370.5 161.8 370.1 162.0 371.4 162.2 370.7 162.4 369.8 162.7 372.3 162.9 369.6 163.1 370.9 163.4 370.7 163.6 369.1 163.8 369.9 164.1 370.2 164.3 369.0 164.5 367.8 164.7 373.7 165.0 368.7 165.2 369.2 165.4 369.2 165.7 369.5 165.9 370.8 166.1 370.7 166.4 368.5 166.6 370.0 166.8 370.4 167.0 369.0 167.3 371.0 167.5 369.5 167.7 370.4 168.0 367.3 168.2 371.5 168.4 368.4 168.7 367.0 168.9 367.1 169.1 367.1 169.3 368.7 169.6 364.6 169.8 366.4 170.0 369.6 170.3 369.7 170.5 365.9 170.7 367.7 171.0 367.7 171.2 366.9 171.4 366.2 171.6 368.3 171.9 366.5 172.1 367.1 172.3 367.9 172.6 365.0 172.8 364.9 173.0 369.9 173.3 364.5 173.5 367.9 173.7 367.9 173.9 365.9 174.2 365.1 174.4 365.4 174.6 364.1 174.9 365.3 175.1 364.8 175.3 364.1 175.6 364.2 175.8 366.2 176.0 364.6 176.2 364.0 176.5 367.6 176.7 364.0 176.9 364.9 177.2 362.1 177.4 361.6 177.6 364.1 177.9 364.7 178.1 357.5 178.3 363.8 178.5 363.8 178.8 362.2 179.0 363.1 179.2 359.8 179.5 362.3 179.7 359.3 179.9 360.7 180.2 360.2 180.4 361.0 180.6 358.0 180.8 360.8 181.1 360.8 181.3 362.1 181.5 358.5 181.8 360.4 182.0 358.0 182.2 360.0 182.5 357.6 182.7 356.5 182.9 357.3 183.1 361.3 183.4 360.9 183.6 358.0 183.8 357.9 184.1 358.2 184.3 354.2 184.5 361.1 184.8 354.9 185.0 354.2 185.2 356.0 185.4 354.1 185.7 356.4 185.9 356.8 186.1 354.5 186.4 355.2 186.6 353.3 186.8 350.7 187.1 351.3 187.3 358.0 187.5 353.2 187.7 349.1 188.0 350.4 188.2 350.7 188.4 353.9 188.7 352.2 188.9 354.8 189.1 355.6 189.4 352.4 189.6 352.0 189.8 353.3 190.0 349.3 190.3 349.3 190.5 345.8 190.7 351.1 191.0 347.0 191.2 349.4 191.4 354.1 191.7 345.0 191.9 346.6 192.1 345.1 192.3 344.4 192.6 348.5 192.8 342.6 193.0 346.9 193.3 346.0 193.5 348.1 193.7 340.8 194.0 341.7 194.2 347.0 194.4 339.6 194.6 344.3 194.9 346.4 195.1 339.3 195.3 340.1 195.6 344.8 195.8 338.9 196.0 344.0 196.3 344.6 196.5 341.3 196.7 340.6 196.9 340.4 197.2 338.4 197.4 342.0 197.6 341.5 197.9 339.2 198.1 339.7 198.3 334.8 198.6 335.8 198.8 332.3 199.0 336.3 199.2 340.1 199.5 338.2 199.7 335.7 199.9 335.7 200.2 335.3 200.4 339.0 200.6 332.3 200.9 338.5 201.1 336.0 201.3 329.7 201.5 335.0 201.8 334.6 202.0 330.7 202.2 334.9 202.5 328.6 202.7 328.6 202.9 328.8 203.2 328.4 203.4 326.9 203.6 327.9 203.8 325.8 204.1 327.2 204.3 326.7 204.5 327.4 204.8 326.6 205.0 328.5 205.2 326.7 205.5 327.2 205.7 330.3 205.9 333.2 206.1 328.9 206.4 333.5 206.6 339.1 206.8 334.5 207.1 334.9 207.3 332.9 207.5 327.9 207.8 332.5 208.0 334.2 208.2 330.8 208.4 334.7 208.7 331.9 208.9 336.5 209.1 334.2 209.4 334.6 209.6 334.9 209.8 333.3 210.1 338.0 210.3 330.6 210.5 331.3 210.7 333.3 211.0 333.7 211.2 330.1 211.4 335.5 211.7 332.8 211.9 335.4 212.1 332.7 212.4 333.4 212.6 336.1 212.8 334.6 213.0 334.5 213.3 337.7 213.5 339.5 213.7 337.3 214.0 339.6 214.2 336.8 214.4 340.5 214.7 337.7 214.9 341.3 215.1 338.3 215.3 342.1 215.6 344.5 215.8 342.7 216.0 338.7 216.3 347.1 216.5 341.9 216.7 338.1 217.0 348.7 217.2 342.6 217.4 346.1 217.6 345.2 217.9 349.7 218.1 349.1 218.3 340.9 218.6 346.7 218.8 343.1 219.0 345.8 219.3 345.7 219.5 346.0 219.7 343.6 219.9 348.5 220.2 349.1 220.4 349.3 220.6 352.2 220.9 347.4 221.1 345.8 221.3 348.5 221.6 342.3 221.8 348.1 222.0 346.0 222.2 346.4 222.5 346.2 222.7 346.6 222.9 350.3 223.2 345.8 223.4 347.6 223.6 350.2 223.9 349.6 224.1 353.5 224.3 350.7 224.5 355.4 224.8 352.8 225.0 348.5 225.2 350.8 225.5 354.9 225.7 348.4 225.9 349.4 226.2 347.5 226.4 351.7 226.6 354.3 226.8 354.8 227.1 352.0 227.3 349.5 227.5 353.3 227.8 352.5 228.0 354.9 228.2 353.7 228.5 356.1 228.7 352.3 228.9 353.8 229.1 353.7 229.4 353.1 229.6 355.2 229.8 350.6 230.1 351.2 230.3 349.2 230.5 354.9 230.8 356.7 231.0 356.0 231.2 358.7 231.4 355.7 231.7 353.6 231.9 356.5 232.1 356.3 232.4 356.4 232.6 358.6 232.8 354.5 233.1 354.8 233.3 356.5 233.5 359.4 233.7 355.3 234.0 360.0 234.2 360.2 234.4 356.6 234.7 356.2 234.9 357.5 235.1 354.5 235.4 361.3 235.6 358.5 235.8 360.7 236.0 357.1 236.3 359.0 236.5 358.4 236.7 362.4 237.0 356.7 237.2 361.7 237.4 359.4 237.7 359.4 237.9 355.8 238.1 359.4 238.3 358.9 238.6 360.9 238.8 358.5 239.0 358.1 239.3 361.3 239.5 359.7 239.7 358.1 240.0 359.4 240.2 360.0 240.4 358.4 240.6 358.4 240.9 361.8 241.1 358.3 241.3 353.6 241.6 360.0 241.8 360.9 242.0 360.2 242.3 359.9 242.5 353.3 242.7 355.6 242.9 357.5 243.2 357.3 243.4 356.5 243.6 353.3 243.9 354.1 244.1 354.1 244.3 355.8 244.6 356.5 244.8 350.2 245.0 351.1 245.2 348.9 245.5 349.4 245.7 347.9 245.9 347.6 246.2 347.4 246.4 347.2 246.6 347.9 246.9 349.1 247.1 351.4 247.3 353.8 247.5 353.8 247.8 352.5 248.0 357.0 248.2 354.9 248.5 354.7 248.7 355.2 248.9 353.4 249.2 352.5 249.4 354.4 249.6 355.7 249.8 356.7 250.1 353.3 250.3 355.2 250.5 351.4 250.8 357.5 251.0 352.9 251.2 351.2 251.5 353.9 251.7 351.7 251.9 349.3 252.1 351.0 252.4 347.2 252.6 346.7 252.8 344.7 253.1 344.4 253.3 343.8 253.5 343.0 253.8 343.7 254.0 346.0 254.2 347.0 254.4 349.2 254.7 350.5 254.9 352.9 255.1 353.8 255.4 353.2 255.6 358.1 255.8 355.9 256.1 356.9 256.3 357.8 256.5 360.1 256.7 356.8 257.0 358.7 257.2 358.8 257.4 359.0 257.7 358.0 257.9 355.4 258.1 359.5 258.4 363.1 258.6 361.6 258.8 361.5 259.0 362.4 259.3 364.8 259.5 363.5 259.7 363.6 260.0 365.6 260.2 367.1 260.4 366.3 260.7 366.4 260.9 363.5 261.1 364.0 261.3 367.5 261.6 366.9 261.8 366.9 262.0 368.2 262.3 368.9 262.5 372.6 262.7 365.7 263.0 367.6 263.2 371.4 263.4 365.6 263.6 367.9 263.9 364.8 264.1 368.9 264.3 365.0 264.6 365.8 264.8 364.6 265.0 360.6 265.3 357.2 265.5 356.7 265.7 356.9 265.9 356.0 266.2 354.8 266.4 350.1 266.6 352.6 266.9 349.4 267.1 346.9 267.3 344.2 267.6 342.8 267.8 339.6 268.0 341.7 268.2 341.4 268.5 343.3 268.7 340.2 268.9 334.4 269.2 336.0 269.4 329.8 269.6 332.0 269.9 328.6 270.1 323.0 270.3 318.9 270.5 316.8 270.8 313.9 271.0 312.6 271.2 312.6 271.5 313.5 271.7 316.8 271.9 320.2 272.2 322.0 272.4 323.3 272.6 325.1 272.8 329.6 273.1 331.7 273.3 329.3 273.5 327.6 273.8 332.8 274.0 331.4 274.2 330.9 274.5 333.7 274.7 330.1 274.9 318.8 275.1 319.6 275.4 320.2 275.6 314.1 275.8 312.6 276.1 316.0 276.3 314.9 276.5 313.7 276.8 312.4 277.0 309.1 277.2 306.7 277.4 303.5 277.7 301.2 277.9 298.2 278.1 299.5 278.4 300.9 278.6 304.4 278.8 308.7 279.1 311.3 279.3 313.3 279.5 314.4 279.7 315.6 280.0 315.3 280.2 319.4 280.4 324.9 280.7 321.5 280.9 328.1 281.1 330.4 281.4 332.2 281.6 337.6 281.8 341.1 282.0 339.7 282.3 343.8 282.5 350.8 282.7 353.7 283.0 359.0 283.2 357.2 283.4 361.0 283.7 359.5 283.9 359.5 284.1 363.0 284.3 363.2 284.6 364.7 284.8 362.0 285.0 367.9 285.3 367.4 285.5 368.1 285.7 368.4 286.0 370.5 286.2 367.7 286.4 367.7 286.6 369.5 286.9 369.8 287.1 368.6 287.3 367.6 287.6 367.4 287.8 367.2 288.0 367.1 288.3 369.6 288.5 367.5 288.7 369.3 288.9 367.1 289.2 370.0 289.4 368.4 289.6 370.7 289.9 369.5 290.1 369.2 290.3 367.7 290.6 368.0 290.8 368.3 291.0 368.6 291.2 367.8 291.5 369.9 291.7 370.1 291.9 368.8 292.2 371.8 292.4 369.4 292.6 367.2 292.9 369.2 293.1 369.7 293.3 369.1 293.5 370.1 293.8 368.4 294.0 369.6 294.2 369.8 294.5 370.5 294.7 369.3 294.9 369.1 295.2 370.1 295.4 370.7 295.6 369.9 295.8 370.1 296.1 368.6 296.3 372.8 296.5 369.0 296.8 374.8 297.0 370.5 297.2 373.0 297.5 369.8 297.7 370.6 297.9 369.5 298.1 368.1 298.4 366.1 298.6 366.6 298.8 364.5 299.1 368.4 299.3 364.0 299.5 367.6 299.8 363.9 300.0 360.8 300.2 365.9 300.4 364.0 300.7 361.1 300.9 360.1 301.1 359.4 301.4 361.4 301.6 356.9 301.8 357.8 302.1 359.8 302.3 360.7 302.5 356.0 302.7 355.4 303.0 354.1 303.2 355.8 303.4 351.7 303.7 351.2 303.9 350.4 304.1 348.6 304.4 346.6 304.6 343.8 304.8 343.0 305.0 342.4 305.3 342.8 305.5 343.8 305.7 344.5 306.0 344.5 306.2 346.2 306.4 346.0 306.7 348.9 306.9 348.1 307.1 348.6 307.3 349.5 307.6 348.9 307.8 350.6 308.0 351.0 308.3 351.6 308.5 352.4 308.7 348.0 309.0 353.8 309.2 356.4 309.4 357.1 309.6 352.0 309.9 359.9 310.1 361.5 310.3 359.9 310.6 360.6 310.8 363.3 311.0 362.6 311.3 363.6 311.5 364.2 311.7 369.5 311.9 368.7 312.2 368.6 312.4 368.9 312.6 371.6 312.9 369.8 313.1 369.8 313.3 370.0 313.6 369.5 313.8 370.6 314.0 371.5 314.2 367.6 314.5 368.0 314.7 370.1 314.9 367.9 315.2 369.1 315.4 371.4 315.6 369.8 315.9 370.6 316.1 370.6 316.3 370.3 316.5 368.9 316.8 370.6 317.0 367.1 317.2 366.9 317.5 368.1 317.7 365.9 317.9 366.5 318.2 365.3 318.4 365.9 318.6 364.7 318.8 364.2 319.1 362.4 319.3 361.2 319.5 362.8 319.8 363.4 320.0 362.5 320.2 363.1 320.5 363.4 320.7 366.8 320.9 365.2 321.1 367.5 321.4 368.1 321.6 367.5 321.8 368.4 322.1 368.4 322.3 370.4 322.5 371.5 322.8 371.6 323.0 367.9 323.2 368.4 323.4 369.6 323.7 371.0 323.9 371.6 324.1 367.9 324.4 371.1 324.6 372.3 324.8 371.3 325.1 371.3 325.3 369.1 325.5 373.8 325.7 372.6 326.0 371.6 326.2 371.6 326.4 373.6 326.7 374.3 326.9 372.5 327.1 371.2 327.4 373.8 327.6 372.1 327.8 372.9 328.0 372.6 328.3 371.5 328.5 374.7 328.7 371.3 329.0 374.8 329.2 371.7 329.4 372.6 329.7 372.9 329.9 373.4 330.1 371.5 330.3 375.3 330.6 372.6 330.8 375.1 331.0 374.0 331.3 372.8 331.5 371.8 331.7 373.4 332.0 373.4 332.2 371.7 332.4 372.6 332.6 373.6 332.9 374.2 333.1 372.5 333.3 372.4 333.6 371.5 333.8 370.9 334.0 373.8 334.3 372.8 334.5 372.1 334.7 374.1 334.9 373.6 335.2 370.1 335.4 369.2 335.6 372.4 335.9 371.5 336.1 373.5 336.3 370.6 336.6 373.0 336.8 372.9 337.0 370.6 337.2 375.0 337.5 370.7 337.7 371.5 337.9 370.4 338.2 370.0 338.4 368.9 338.6 368.8 338.9 370.0 339.1 366.7 339.3 368.4 339.5 368.2 339.8 367.8 340.0 367.4 340.2 369.7 340.5 366.6 340.7 366.0 340.9 364.7 341.2 367.3 341.4 366.8 341.6 363.2 341.8 362.8 342.1 362.6 342.3 365.3 342.5 363.9 342.8 364.2 343.0 361.8 343.2 362.4 343.5 361.9 343.7 362.2 343.9 359.9 344.1 357.8 344.4 358.7 344.6 358.9 344.8 358.8 345.1 356.5 345.3 358.3 345.5 359.1 345.8 359.6 346.0 360.1 346.2 362.0 346.4 362.6 346.7 365.8 346.9 363.7 347.1 368.1 347.4 366.2 347.6 366.0 347.8 368.9 348.1 368.0 348.3 369.6 348.5 369.5 348.7 368.5 349.0 369.0 349.2 372.4 349.4 368.4 349.7 370.6 349.9 371.8 350.1 371.2 350.4 372.1 350.6 369.4 350.8 371.8 351.0 372.3 351.3 368.8 351.5 371.7 351.7 370.7 352.0 370.5 352.2 372.6 352.4 372.1 352.7 373.5 352.9 372.5 353.1 369.7 353.3 371.4 353.6 372.8 353.8 373.4 354.0 371.8 354.3 373.4 354.5 372.0 354.7 374.6 355.0 373.4 355.2 373.7 355.4 370.0 355.6 373.6 355.9 373.8 356.1 372.8 356.3 373.1 356.6 374.9 356.8 373.3 357.0 374.5 357.3 371.7 357.5 375.1 357.7 371.8 357.9 371.7 358.2 374.2 358.4 373.1 358.6 372.4 358.9 374.5 359.1 373.5 359.3 375.7 359.6 374.0 359.8 375.3 360.0 372.7 360.2 374.1 360.5 377.5 360.7 374.3 360.9 372.6 361.2 373.0 361.4 373.1 361.6 374.2 361.9 370.9 362.1 374.6 362.3 373.9 362.5 373.0 362.8 374.4 363.0 370.3 363.2 375.5 363.5 373.4 363.7 374.5 363.9 372.0 364.2 373.5 364.4 372.8 364.6 373.9 364.8 370.8 365.1 375.1 365.3 372.5 365.5 374.0 365.8 371.9 366.0 371.6 366.2 371.4 366.5 372.3 366.7 371.7 366.9 369.8 367.1 369.9 367.4 370.9 367.6 369.0 367.8 370.4 368.1 369.1 368.3 370.4 368.5 370.2 368.8 370.4 369.0 369.9 369.2 371.4 369.4 370.2 369.7 372.3 369.9 369.6 370.1 371.5 370.4 370.7 370.6 373.4 370.8 372.7 371.1 372.9 371.3 371.2 371.5 372.2 371.7 371.1 372.0 371.6 372.2 374.6 372.4 371.5 372.7 373.6 372.9 374.5 373.1 374.2 373.4 375.5 373.6 371.2 373.8 374.7 374.0 375.6 374.3 372.0 374.5 373.3 374.7 373.0 375.0 372.4 375.2 374.3 375.4 372.4 375.7 373.8 375.9 374.0 376.1 371.4 376.3 372.3 376.6 373.1 376.8 375.2 377.0 373.4 377.3 373.8 377.5 371.2 377.7 376.4 378.0 373.8 378.2 374.5 378.4 375.3 378.6 374.3 378.9 372.8 379.1 372.5 379.3 375.6 379.6 371.7 379.8 375.1 380.0 376.2 380.3 373.1 380.5 373.2 380.7 374.7 380.9 374.6 381.2 374.2 381.4 377.6 381.6 373.4 381.9 375.7 382.1 377.4 382.3 374.3 382.6 373.1 382.8 377.1 383.0 373.6 383.2 375.7 383.5 372.2 383.7 374.4 383.9 371.2 384.2 372.0 384.4 372.2 384.6 373.7 384.9 374.9 385.1 375.4 385.3 373.3 385.5 371.6 385.8 369.4 386.0 374.2 386.2 373.5 386.5 373.2 386.7 375.1 386.9 375.0 387.2 376.1 387.4 375.9 387.6 376.0 387.8 374.1 388.1 373.0 388.3 372.8 388.5 373.7 388.8 374.4 389.0 371.7 389.2 373.6 389.5 374.4 389.7 375.9 389.9 373.5 390.1 373.5 390.4 373.4 390.6 375.6 390.8 371.6 391.1 374.9 391.3 372.2 391.5 373.6 391.8 375.3 392.0 373.5 392.2 374.0 392.4 372.7 392.7 371.9 392.9 375.9 393.1 373.7 393.4 374.3 393.6 373.4 393.8 373.9 394.1 374.1 394.3 374.6 394.5 372.7 394.7 373.4 395.0 374.4 395.2 373.7 395.4 374.1 395.7 373.4 395.9 374.4 396.1 373.6 396.4 371.3 396.6 372.8 396.8 374.7 397.0 377.6 397.3 373.1 397.5 371.4 397.7 374.7 398.0 376.8 398.2 372.6 398.4 373.2 398.7 373.0 398.9 375.0 399.1 370.5 399.3 374.1 399.6 372.9 399.8 372.7 400.0 372.4 400.3 373.4 400.5 373.7 400.7 370.4 401.0 371.8 401.2 373.1 401.4 370.1 401.6 373.0 401.9 372.8 402.1 371.5 402.3 369.3 402.6 369.9 402.8 370.0 403.0 370.0 403.3 368.1 403.5 366.8 403.7 366.6 403.9 364.2 404.2 362.7 404.4 361.7 404.6 360.7 404.9 358.5 405.1 356.6 405.3 356.1 405.6 355.5 405.8 351.7 406.0 352.2 406.2 351.0 406.5 349.1 406.7 351.9 406.9 348.8 407.2 344.8 407.4 348.8 407.6 346.0 407.9 340.6 408.1 341.6 408.3 338.9 408.5 335.8 408.8 333.4 409.0 330.5 409.2 329.5 409.5 328.6 409.7 329.8 409.9 331.4 410.2 333.8 410.4 335.9 410.6 337.5 410.8 339.9 411.1 340.9 411.3 342.6 411.5 341.9 411.8 344.9 412.0 342.9 412.2 343.2 412.5 345.4 412.7 349.5 412.9 349.7 413.1 351.0 413.4 353.3 413.6 353.5 413.8 356.1 414.1 358.6 414.3 359.2 414.5 359.1 414.8 364.9 415.0 364.3 415.2 363.5 415.4 366.3 415.7 373.8 415.9 371.0 416.1 370.6 416.4 369.7 416.6 370.2 416.8 372.1 417.1 373.5 417.3 373.3 417.5 372.6 417.7 372.9 418.0 372.7 418.2 372.4 418.4 373.6 418.7 372.1 418.9 373.4 419.1 369.2 419.4 370.2 419.6 373.3 419.8 372.4 420.0 370.6 420.3 375.0 420.5 375.5 420.7 372.7 421.0 373.0 421.2 371.6 421.4 370.3 421.7 372.4 421.9 371.6 422.1 372.7 422.3 372.4 422.6 372.2 422.8 372.9 423.0 374.9 423.3 371.5 423.5 373.0 423.7 374.7 424.0 373.7 424.2 373.2 424.4 372.8 424.6 371.9 424.9 372.2 425.1 374.4 425.3 372.8 425.6 375.3 425.8 374.8 426.0 374.2 426.3 374.9 426.5 373.4 426.7 376.1 426.9 373.1 427.2 374.7 427.4 374.0 427.6 373.9 427.9 373.0 428.1 374.2 428.3 372.9 428.6 375.4 428.8 374.1 429.0 374.9 429.2 373.6 429.5 374.0 429.7 374.1 429.9 373.3 430.2 374.0 430.4 372.5 430.6 373.1 430.9 374.9 431.1 372.2 431.3 370.8 431.5 374.3 431.8 376.2 432.0 373.5 432.2 374.0 432.5 374.0 432.7 375.5 432.9 372.5 433.2 373.7 433.4 373.5 433.6 375.6 433.8 373.3 434.1 372.3 434.3 371.4 434.5 371.0 434.8 369.7 435.0 370.2 435.2 370.9 435.5 371.4 435.7 370.0 435.9 371.7 436.1 370.5 436.4 370.7 436.6 373.1 436.8 369.4 437.1 370.3 437.3 371.1 437.5 368.2 437.8 368.4 438.0 368.9 438.2 368.6 438.4 368.8 438.7 368.5 438.9 368.9 439.1 367.1 439.4 366.1 439.6 367.0 439.8 367.2 440.1 364.9 440.3 365.5 440.5 364.4 440.7 363.4 441.0 362.6 441.2 362.3 441.4 361.8 441.7 361.8 441.9 361.5 442.1 362.2 442.4 362.9 442.6 363.5 442.8 363.4 443.0 365.9 443.3 366.6 443.5 366.2 443.7 368.4 444.0 366.0 444.2 367.8 444.4 366.8 444.7 365.8 444.9 368.8 445.1 368.3 445.3 369.1 445.6 370.8 445.8 371.5 446.0 370.1 446.3 370.5 446.5 371.2 446.7 370.6 447.0 369.4 447.2 371.3 447.4 370.9 447.6 374.0 447.9 370.3 448.1 372.7 448.3 372.9 448.6 371.2 448.8 374.1 449.0 373.8 449.3 374.2 449.5 374.2 449.7 372.7 449.9 370.9 450.2 374.2 450.4 373.7 450.6 370.9 450.9 371.1 451.1 372.1 451.3 372.7 451.6 372.4 451.8 372.2 452.0 372.6 452.2 374.2 452.5 374.8 452.7 373.3 452.9 374.8 453.2 372.5 453.4 371.2 453.6 373.9 453.9 373.0 454.1 372.5 454.3 373.1 454.5 374.5 454.8 374.7 455.0 373.1 455.2 372.9 455.5 374.5 455.7 373.2 455.9 372.1 456.2 371.6 456.4 371.7 456.6 371.7 456.8 371.7 457.1 370.6 457.3 373.7 457.5 374.8 457.8 371.6 458.0 370.4 458.2 372.2 458.5 368.2 458.7 369.7 458.9 370.6 459.1 371.9 459.4 372.3 459.6 370.7 459.8 371.4 460.1 368.9 460.3 368.7 460.5 368.8 460.8 369.8 461.0 368.4 461.2 369.6 461.4 366.5 461.7 368.0 461.9 368.3 462.1 365.8 462.4 367.7 462.6 365.9 462.8 365.0 463.1 366.0 463.3 364.7 463.5 365.2 463.7 362.5 464.0 363.2 464.2 362.8 464.4 360.2 464.7 360.7 464.9 358.6 465.1 359.0 465.4 358.7 465.6 360.5 465.8 362.2 466.0 363.9 466.3 363.8 466.5 367.6 466.7 366.0 467.0 369.7 467.2 370.5 467.4 370.7 467.7 371.7 467.9 371.1 468.1 374.3 468.3 373.0 468.6 374.8 468.8 376.0 469.0 374.6 469.3 375.1 469.5 372.3 469.7 372.0 470.0 374.4 470.2 372.1 470.4 375.1 470.6 373.3 470.9 376.1 471.1 374.0 471.3 374.1 471.6 376.6 471.8 375.2 472.0 374.9 472.3 375.3 472.5 373.1 472.7 372.3 472.9 376.3 473.2 373.2 473.4 374.0 473.6 372.5 473.9 375.0 474.1 371.8 474.3 374.1 474.6 375.2 474.8 375.5 475.0 375.6 475.2 373.9 475.5 374.9 475.7 373.4 475.9 375.3 476.2 376.2 476.4 374.4 476.6 375.8 476.9 374.7 477.1 373.9 477.3 374.5 477.5 373.9 477.8 373.8 478.0 373.6 478.2 376.9 478.5 373.1 478.7 373.7 478.9 375.1 479.2 372.7 479.4 373.2 479.6 374.2 479.8 372.7 480.1 373.1 480.3 372.4 480.5 372.4 480.8 372.1 481.0 370.9 481.2 373.5 481.5 372.5 481.7 372.0 481.9 371.4 482.1 372.1 482.4 372.4 482.6 370.3 482.8 374.0 483.1 372.9 483.3 372.0 483.5 373.0 483.8 373.3 484.0 374.2 484.2 373.4 484.4 375.2 484.7 373.2 484.9 375.0 485.1 373.7 485.4 374.0 485.6 375.4 485.8 375.1 486.1 374.6 486.3 375.5 486.5 374.5 486.7 373.9 487.0 376.6 487.2 375.4 487.4 372.6 487.7 375.1 487.9 374.2 488.1 375.3 488.4 374.0 488.6 375.2 488.8 374.3 489.0 370.5 489.3 375.1 489.5 372.9 489.7 372.7 490.0 373.8 490.2 370.6 490.4 371.0 490.7 369.4 490.9 372.1 491.1 371.3 491.3 371.2 491.6 367.1 491.8 366.4 492.0 369.3 492.3 371.2 492.5 369.1 492.7 367.8 493.0 367.6 493.2 365.3 493.4 368.6 493.6 366.4 493.9 365.8 494.1 366.0 494.3 364.9 494.6 363.6 494.8 364.5 495.0 365.5 495.3 363.9 495.5 363.8 495.7 365.9 495.9 365.3 496.2 363.8 496.4 363.8 496.6 366.3 496.9 360.7 497.1 367.3 497.3 364.6 497.6 363.3 497.8 363.1 498.0 362.7 498.2 363.1 498.5 363.9 498.7 366.5 498.9 365.9 499.2 364.7 499.4 367.3 499.6 363.8 499.9 366.6 500.1 365.0 500.3 367.4 500.5 363.4 500.8 364.4 501.0 368.6 501.2 365.7 501.5 367.6 501.7 367.2 501.9 368.0 502.2 363.8 502.4 364.6 502.6 363.3 502.8 367.4 503.1 363.7 503.3 369.2 503.5 365.9 503.8 366.4 504.0 369.3 504.2 371.1 504.5 368.1 504.7 365.9 504.9 368.9 505.1 364.9 505.4 363.8 505.6 362.3 505.8 362.5 506.1 364.3 506.3 360.4 506.5 362.0 506.8 358.9 507.0 361.3 507.2 356.6 507.4 359.4 507.7 359.9 507.9 354.7 508.1 356.2 508.4 354.9 508.6 355.5 508.8 356.4 509.1 352.7 509.3 350.3 509.5 357.4 509.7 350.6 510.0 349.9 510.2 349.7 510.4 350.4 510.7 345.9 510.9 347.0 511.1 345.6 511.4 345.9 511.6 342.6 511.8 342.3 512.0 341.5 512.3 343.5 512.5 342.1 512.7 343.3 513.0 340.3 513.2 342.2 513.4 339.0 513.7 338.8 513.9 338.6 514.1 336.6 514.3 337.0 514.6 337.8 514.8 336.8 515.0 339.4 515.3 342.2 515.5 343.5 515.7 345.6 516.0 347.1 516.2 343.7 516.4 348.5 516.6 348.6 516.9 348.2 517.1 351.9 517.3 354.0 517.6 353.5 517.8 355.0 518.0 358.0 518.3 359.6 518.5 363.3 518.7 360.9 518.9 362.4 519.2 364.7 519.4 369.3 519.6 370.0 519.9 373.4 520.1 370.1 520.3 370.9 520.6 371.8 520.8 373.5 521.0 370.3 521.2 372.0 521.5 371.8 521.7 371.4 521.9 371.4 522.2 372.5 522.4 372.9 522.6 370.5 522.9 372.9 523.1 372.5 523.3 371.9 523.5 369.9 523.8 372.4 524.0 370.1 524.2 370.5 524.5 373.0 524.7 372.7 524.9 372.1 525.2 371.5 525.4 372.5 525.6 371.1 525.8 371.6 526.1 368.3 526.3 367.0 526.5 369.7 526.8 369.2 527.0 368.0 527.2 370.4 527.5 368.0 527.7 370.0 527.9 371.3 528.1 367.9 528.4 368.1 528.6 367.5 528.8 365.3 529.1 367.3 529.3 366.8 529.5 366.8 529.8 366.5 530.0 366.4 530.2 367.8 530.4 366.4 530.7 364.8 530.9 367.8 531.1 368.0 531.4 368.8 531.6 367.9 531.8 368.0 532.1 369.3 532.3 369.5 532.5 368.7 532.7 369.9 533.0 370.6 533.2 372.7 533.4 370.5 533.7 371.1 533.9 368.5 534.1 370.2 534.4 370.1 534.6 369.9 534.8 369.1 535.0 373.7 535.3 374.0 535.5 372.9 535.7 372.0 536.0 372.7 536.2 374.2 536.4 373.2 536.7 371.8 536.9 373.1 537.1 372.4 537.3 373.6 537.6 373.5 537.8 374.6 538.0 374.6 538.3 373.3 538.5 374.2 538.7 373.7 539.0 375.9 539.2 375.2 539.4 374.7 539.6 374.5 539.9 373.4 540.1 373.8 540.3 373.2 540.6 376.4 540.8 376.5 541.0 376.3 541.3 374.4 541.5 372.6 541.7 376.8 541.9 375.7 542.2 375.0 542.4 374.8 542.6 376.6 542.9 375.4 543.1 376.2 543.3 372.8 543.6 375.7 543.8 374.4 544.0 375.7 544.2 376.2 544.5 377.0 544.7 374.7 544.9 375.3 545.2 376.2 545.4 374.4 545.6 375.3 545.9 374.2 546.1 373.6 546.3 376.3 546.5 374.2 546.8 374.3 547.0 375.2 547.2 374.5 547.5 373.7 547.7 377.8 547.9 375.8 548.2 374.0 548.4 375.0 548.6 372.5 548.8 372.7 549.1 375.4 549.3 375.1 549.5 374.5 549.8 374.1 550.0 374.5 550.2 373.7 550.5 374.7 550.7 375.0 550.9 373.5 551.1 375.0 551.4 374.2 551.6 374.2 551.8 374.0 552.1 375.2 552.3 374.4 552.5 375.0 552.8 374.8 553.0 373.5 553.2 373.4 553.4 376.4 553.7 374.7 553.9 376.0 554.1 375.1 554.4 376.2 554.6 375.5 554.8 376.1 555.1 376.2 555.3 377.0 555.5 377.3 555.7 378.0 556.0 374.6 556.2 377.3 556.4 374.9 556.7 375.9 556.9 376.0 557.1 377.4 557.4 378.1 557.6 376.8 557.8 378.2 558.0 377.1 558.3 377.8 558.5 376.4 558.7 377.4 559.0 376.8 559.2 374.8 559.4 377.8 559.7 378.2 559.9 374.7 560.1 377.3 560.3 377.7 560.6 378.7 560.8 376.6 561.0 378.5 561.3 377.8 561.5 379.0 561.7 377.0 562.0 375.9 562.2 377.4 562.4 377.1 562.6 375.7 562.9 376.1 563.1 377.6 563.3 377.2 563.6 377.8 563.8 378.5 564.0 376.6 564.3 375.8 564.5 375.6 564.7 377.2 564.9 377.8 565.2 376.8 565.4 377.0 565.6 376.0 565.9 374.3 566.1 375.8 566.3 377.8 566.6 377.8 566.8 376.6 567.0 377.9 567.2 379.3 567.5 378.4 567.7 377.9 567.9 380.2 568.2 376.5 568.4 377.3 568.6 378.2 568.9 374.7 569.1 375.7 569.3 377.2 569.5 379.4 569.8 377.9 570.0 377.2 570.2 377.7 570.5 376.7 570.7 376.5 570.9 376.3 571.2 378.9 571.4 377.1 571.6 377.5 571.8 375.5 572.1 376.5 572.3 376.2 572.5 377.4 572.8 377.6 573.0 376.4 573.2 377.2 573.5 377.1 573.7 375.6 573.9 376.3 574.1 377.2 574.4 378.2 574.6 375.9 574.8 375.2 575.1 377.1 575.3 376.0 575.5 377.4 575.8 375.1 576.0 377.0 576.2 376.1 576.4 374.2 576.7 375.6 576.9 374.8 577.1 374.7 577.4 375.8 577.6 371.7 577.8 372.5 578.1 373.7 578.3 372.2 578.5 373.2 578.7 372.1 579.0 374.0 579.2 371.2 579.4 373.1 579.7 373.2 579.9 372.4 580.1 373.6 580.4 371.0 580.6 370.7 580.8 371.4 581.0 369.5 581.3 373.8 581.5 370.3 581.7 370.6 582.0 369.2 582.2 368.3 582.4 371.3 582.7 369.7 582.9 369.0 583.1 372.2 583.3 370.2 583.6 370.9 583.8 368.0 584.0 371.9 584.3 368.9 584.5 369.4 584.7 369.5 585.0 367.6 585.2 368.4 585.4 369.0 585.6 367.1 585.9 368.6 586.1 368.9 586.3 365.5 586.6 367.0 586.8 365.0 587.0 366.0 587.3 365.5 587.5 366.2 587.7 365.2 587.9 365.2 588.2 365.4 588.4 364.8 588.6 364.5 588.9 366.1 589.1 363.9 589.3 365.6 589.6 367.0 589.8 370.9 590.0 371.7 590.2 369.4 590.5 370.1 590.7 370.2 590.9 372.8 591.2 371.6 591.4 372.9 591.6 372.6 591.9 373.3 592.1 372.0 592.3 375.2 592.5 373.7 592.8 376.6 593.0 376.0 593.2 377.6 593.5 376.5 593.7 375.2 593.9 374.5 594.2 373.3 594.4 374.6 594.6 375.7 594.8 376.1 595.1 375.3 595.3 375.4 595.5 372.6 595.8 373.0 596.0 373.9 596.2 374.0 596.5 374.4 596.7 374.4 596.9 374.1 597.1 373.6 597.4 375.0 597.6 374.4 597.8 371.7 598.1 370.1 598.3 373.8 598.5 369.8 598.8 373.3 599.0 374.3 599.2 373.0 599.4 371.6 599.7 372.1 599.9 372.8 600.1 371.0 600.4 372.7 600.6 370.7 600.8 369.8 601.1 369.0 601.3 369.8 601.5 372.2 601.7 369.9 602.0 371.0 602.2 372.4 602.4 367.8 602.7 368.8 602.9 369.1 603.1 369.6 603.4 369.9 603.6 367.4 603.8 369.0 604.0 367.4 604.3 368.6 604.5 366.6 604.7 367.4 605.0 369.3 605.2 368.5 605.4 369.0 605.7 368.2 605.9 371.0 606.1 368.8 606.3 368.4 606.6 370.1 606.8 372.4 607.0 369.5 607.3 370.0 607.5 368.5 607.7 370.1 608.0 371.9 608.2 369.0 608.4 374.3 608.6 373.1 608.9 370.4 609.1 371.5 609.3 372.9 609.6 372.4 609.8 373.5 610.0 372.6 610.3 371.2 610.5 373.4 610.7 374.1 610.9 373.7 611.2 374.1 611.4 375.7 611.6 374.7 611.9 373.8 612.1 376.1 612.3 376.6 612.6 376.3 612.8 373.1 613.0 373.5 613.2 376.7 613.5 374.7 613.7 377.4 613.9 375.5 614.2 378.3 614.4 375.2 614.6 375.0 614.9 374.4 615.1 374.6 615.3 374.2 615.5 374.9 615.8 374.6 616.0 374.0 616.2 374.8 616.5 374.6 616.7 374.9 616.9 374.5 617.2 374.2 617.4 372.2 617.6 372.6 617.8 370.6 618.1 372.1 618.3 372.0 618.5 372.9 618.8 371.5 619.0 371.4 619.2 371.8 619.5 371.6 619.7 371.4 619.9 370.4 620.1 372.0 620.4 374.1 620.6 373.1 620.8 371.4 621.1 375.0 621.3 372.5 621.5 372.6 621.8 373.1 622.0 374.5 622.2 372.3 622.4 375.6 622.7 375.1 622.9 371.4 623.1 373.6 623.4 374.8 623.6 376.6 623.8 374.8 624.1 373.2 624.3 372.2 624.5 372.0 624.7 376.7 625.0 372.5 625.2 374.8 625.4 374.8 625.7 375.6 625.9 374.1 626.1 374.6 626.4 373.6 626.6 372.9 626.8 373.9 627.0 373.2 627.3 376.0 627.5 375.5 627.7 373.0 628.0 374.5 628.2 376.0 628.4 374.2 628.7 372.7 628.9 374.8 629.1 374.9 629.3 374.7 629.6 375.7 629.8 375.1 630.0 375.1 630.3 374.3 630.5 375.6 630.7 376.4 631.0 376.0 631.2 376.7 631.4 375.4 631.6 375.3 631.9 374.3 632.1 376.6 632.3 375.2 632.6 376.5 632.8 375.1 633.0 376.4 633.3 375.1 633.5 375.6 633.7 375.4 633.9 375.0 634.2 375.4 634.4 375.4 634.6 377.4 634.9 375.7 635.1 375.7 635.3 376.0 635.6 376.8 635.8 375.0 636.0 376.8 636.2 376.1 636.5 378.5 636.7 376.2 636.9 376.2 637.2 374.9 637.4 377.3 637.6 375.8 637.9 375.4 638.1 374.8 638.3 375.5 638.5 377.0 638.8 376.0 639.0 378.0 639.2 378.3 639.5 376.2 639.7 376.3 639.9 378.0 640.2 379.6 640.4 378.1 640.6 378.5 640.8 374.8 641.1 375.8 641.3 377.2 641.5 376.7 641.8 377.1 642.0 378.0 642.2 377.1 642.5 378.2 642.7 379.1 642.9 377.8 643.1 377.0 643.4 376.4 643.6 377.2 643.8 378.1 644.1 377.6 644.3 379.3 644.5 375.2 644.8 376.6 645.0 379.0 645.2 376.5 645.4 376.2 645.7 377.2 645.9 377.8 646.1 377.6 646.4 377.3 646.6 375.8 646.8 379.7 647.1 379.4 647.3 376.5 647.5 378.4 647.7 377.7 648.0 377.2 648.2 378.8 648.4 376.8 648.7 377.4 648.9 379.1 649.1 378.6 649.4 377.2 649.6 378.6 649.8 380.6 650.0 377.4 650.3 377.6 650.5 378.7 650.7 377.9 651.0 378.6 651.2 376.6 651.4 378.5 651.7 377.5 651.9 377.0 652.1 379.1 652.3 377.3 652.6 380.0 652.8 378.3 653.0 377.0 653.3 377.5 653.5 377.3 653.7 377.8 654.0 378.5 654.2 378.2 654.4 378.9 654.6 377.0 654.9 378.7 655.1 378.2 655.3 379.2 655.6 378.7 655.8 380.1 656.0 377.5 656.3 379.6 656.5 377.7 656.7 379.2 656.9 378.7 657.2 376.3 657.4 380.0 657.6 379.0 657.9 376.9 658.1 376.8 658.3 375.3 658.6 379.6 658.8 377.3 659.0 378.2 659.2 376.3 659.5 378.4 659.7 379.1 659.9 379.2 660.2 378.1 660.4 377.3 660.6 377.9 660.9 377.0 661.1 375.9 661.3 375.7 661.5 378.1 661.8 379.4 662.0 378.0 662.2 378.3 662.5 377.9 662.7 376.4 662.9 379.3 663.2 376.8 663.4 379.5 663.6 377.1 663.8 375.8 664.1 378.1 664.3 376.6 664.5 379.6 664.8 377.6 665.0 377.0 665.2 378.3 665.5 379.0 665.7 376.6 665.9 378.2 666.1 376.9 666.4 377.8 666.6 376.9 666.8 376.6 667.1 377.4 667.3 377.8 667.5 376.6 667.8 377.1 668.0 376.5 668.2 376.2 668.4 374.7 668.7 375.9 668.9 378.6 669.1 378.0 669.4 379.3 669.6 376.3 669.8 377.8 670.1 376.9 670.3 377.8 670.5 376.6 670.7 378.6 671.0 378.6 671.2 374.3 671.4 379.2 671.7 379.1 671.9 375.4 672.1 377.3 672.4 375.8 672.6 376.8 672.8 377.7 673.0 377.0 673.3 376.5 673.5 376.9 673.7 378.8 674.0 375.6 674.2 375.6 674.4 377.5 674.7 377.3 674.9 376.9 675.1 378.0 675.3 376.6 675.6 375.2 675.8 375.0 676.0 377.2 676.3 376.7 676.5 375.6 676.7 376.4 677.0 377.1 677.2 377.1 677.4 375.1 677.6 375.3 677.9 376.4 678.1 376.5 678.3 377.7 678.6 376.3 678.8 375.7 679.0 376.4 679.3 375.9 679.5 377.4 679.7 375.8 679.9 377.1 680.2 377.2 680.4 374.9 680.6 377.1 680.9 376.3 681.1 376.0 681.3 378.1 681.6 375.7 681.8 376.2 682.0 374.4 682.2 376.9 682.5 375.7 682.7 375.3 682.9 376.7 683.2 377.7 683.4 375.7 683.6 378.1 683.9 376.1 684.1 375.0 684.3 376.5 684.5 374.7 684.8 376.6 685.0 375.3 685.2 374.1 685.5 374.2 685.7 374.1 685.9 375.0 686.2 373.2 686.4 374.4 686.6 373.7 686.8 372.9 687.1 373.9 687.3 372.2 687.5 372.7 687.8 371.5 688.0 371.7 688.2 370.3 688.5 370.6 688.7 370.7 688.9 370.4 689.1 369.4 689.4 369.8 689.6 370.3 689.8 370.0 690.1 370.9 690.3 369.7 690.5 371.2 690.8 372.6 691.0 372.5 691.2 373.7 691.4 371.9 691.7 373.1 691.9 373.3 692.1 374.2 692.4 373.1 692.6 374.9 692.8 376.1 693.1 376.9 693.3 377.6 693.5 374.3 693.7 375.1 694.0 374.7 694.2 374.9 694.4 376.4 694.7 378.2 694.9 376.7 695.1 376.9 695.4 377.0 695.6 376.8 695.8 376.4 696.0 375.8 696.3 376.2 696.5 375.3 696.7 375.7 697.0 377.3 697.2 375.4 697.4 374.9 697.7 377.0 697.9 375.5 698.1 376.6 698.3 375.8 698.6 376.3 698.8 375.4 699.0 375.2 699.3 375.8 699.5 377.7 699.7 376.8 700.0 375.6 700.2 376.4 700.4 376.2 700.6 375.2 700.9 376.1 701.1 377.0 701.3 375.3 701.6 375.3 701.8 374.6 702.0 374.1 702.3 375.0 702.5 375.0 702.7 375.1 702.9 374.9 703.2 377.2 703.4 376.0 703.6 375.9 703.9 376.1 704.1 377.4 704.3 377.0 704.6 375.4 704.8 377.5 705.0 375.6 705.2 377.3 705.5 377.2 705.7 374.8 705.9 375.5 706.2 378.4 706.4 377.2 706.6 376.9 706.9 378.2 707.1 378.2 707.3 376.9 707.5 378.6 707.8 377.7 708.0 375.7 708.2 378.6 708.5 376.2 708.7 376.6 708.9 378.5 709.2 376.1 709.4 377.8 709.6 378.5 709.8 377.4 710.1 378.5 710.3 377.3 710.5 378.7 710.8 379.1 711.0 378.7 711.2 377.9 711.5 376.6 711.7 377.3 711.9 376.4 712.1 376.5 712.4 376.8 712.6 378.1 712.8 378.1 713.1 375.2 713.3 378.2 713.5 377.4 713.8 377.2 714.0 377.1 714.2 377.9 714.4 376.1 714.7 378.1 714.9 378.6 715.1 376.3 715.4 377.0 715.6 376.4 715.8 376.6 716.1 375.3 716.3 377.9 716.5 378.5 716.7 375.8 717.0 378.3 717.2 375.3 717.4 375.0 717.7 378.2 717.9 377.9 718.1 375.8 718.4 377.2 718.6 375.6 718.8 377.1 719.0 378.5 719.3 376.2 719.5 376.6 719.7 377.5 720.0 375.6 720.2 376.5 720.4 375.6 720.7 377.3 720.9 376.9 721.1 376.6 721.3 377.6 721.6 376.1 721.8 377.4 722.0 375.9 722.3 376.5 722.5 377.7 722.7 378.2 723.0 377.3 723.2 378.1 723.4 376.4 723.6 375.9 723.9 376.6 724.1 377.3 724.3 377.6 724.6 378.4 724.8 375.3 725.0 376.8 725.3 375.6 725.5 376.4 725.7 378.2 725.9 377.6 726.2 377.3 726.4 377.3 726.6 376.2 726.9 378.8 727.1 377.5 727.3 378.3 727.6 375.7 727.8 378.3 728.0 378.1 728.2 377.3 728.5 378.4 728.7 376.7 728.9 378.2 729.2 378.7 729.4 377.7 729.6 377.2 729.9 378.8 730.1 377.9 730.3 378.1 730.5 379.0 730.8 379.0 731.0 376.3 731.2 377.9 731.5 377.9 731.7 377.4 731.9 380.7 732.2 379.4 732.4 378.6 732.6 378.6 732.8 377.4 733.1 375.4 733.3 378.8 733.5 377.9 733.8 377.4 734.0 378.9 734.2 375.6 734.5 378.8 734.7 378.0 734.9 377.4 735.1 378.9 735.4 378.1 735.6 378.1 735.8 378.6 736.1 376.7 736.3 378.8 736.5 379.4 736.8 379.4 737.0 379.9 737.2 379.3 737.4 379.1 737.7 377.8 737.9 378.6 738.1 376.9 738.4 379.7 738.6 378.6 738.8 378.6 739.1 378.1 739.3 378.2 739.5 377.9 739.7 378.0 740.0 378.8 740.2 378.9 740.4 379.0 740.7 380.0 740.9 378.4 741.1 377.2 741.4 378.6 741.6 378.8 741.8 377.5 742.0 378.1 742.3 378.0 742.5 377.6 742.7 376.5 743.0 378.5 743.2 376.6 743.4 378.9 743.7 377.4 743.9 376.2 744.1 377.5 744.3 376.9 744.6 377.4 744.8 377.5 745.0 377.2 745.3 375.6 745.5 375.8 745.7 376.8 746.0 378.4 746.2 374.0 746.4 376.4 746.6 375.4 746.9 377.3 747.1 376.7 747.3 375.7 747.6 373.9 747.8 377.6 748.0 376.4 748.3 375.7 748.5 375.3 748.7 374.0 748.9 374.5 749.2 375.7 749.4 372.8 749.6 374.5 749.9 373.5 750.1 373.9 750.3 374.0 750.6 374.6 750.8 375.9 751.0 371.6 751.2 372.0 751.5 374.3 751.7 372.5 751.9 373.2 752.2 374.0 752.4 371.5 752.6 372.5 752.9 375.3 753.1 372.7 753.3 373.6 753.5 372.5 753.8 371.4 754.0 371.8 754.2 370.7 754.5 370.3 754.7 370.9 754.9 372.3 755.2 371.9 755.4 373.0 755.6 373.0 755.8 372.1 756.1 374.5 756.3 373.8 756.5 373.6 756.8 374.8 757.0 373.5 757.2 374.1 757.5 375.8 757.7 374.9 757.9 372.3 758.1 374.5 758.4 373.5 758.6 373.5 758.8 376.2 759.1 376.7 759.3 376.3 759.5 373.6 759.8 376.5 760.0 374.4 760.2 375.9 760.4 379.0 760.7 375.6 760.9 375.1 761.1 376.9 761.4 378.0 761.6 375.7 761.8 374.6 762.1 376.9 762.3 375.9 762.5 376.9 762.7 376.6 763.0 377.1 763.2 377.9 763.4 376.3 763.7 377.8 763.9 377.8 764.1 375.8 764.4 375.6 764.6 376.9 764.8 375.1 765.0 376.1 765.3 375.6 765.5 376.5 765.7 375.7 766.0 373.7 766.2 377.9 766.4 374.2 766.7 377.5 766.9 377.2 767.1 378.8 767.3 376.0 767.6 375.8 767.8 377.8 768.0 374.9 768.3 376.5 768.5 374.7 768.7 376.0 769.0 375.0 769.2 377.5 769.4 376.2 769.6 376.9 769.9 375.9 770.1 376.6 770.3 375.5 770.6 375.3 770.8 376.5 771.0 374.7 771.3 376.7 771.5 378.2 771.7 376.0 771.9 377.6 772.2 374.7 772.4 377.9 772.6 378.1 772.9 376.8 773.1 377.2 773.3 376.3 773.6 376.8 773.8 377.3 774.0 377.1 774.2 377.7 774.5 376.0 774.7 379.7 774.9 376.9 775.2 374.8 775.4 378.0 775.6 377.8 775.9 375.1 776.1 376.7 776.3 378.0 776.5 377.7 776.8 378.4 777.0 378.7 777.2 380.2 777.5 377.2 777.7 375.0 777.9 377.7 778.2 379.4 778.4 379.7 778.6 377.2 778.8 378.0 779.1 377.1 779.3 376.9 779.5 378.7 779.8 376.6 780.0 377.9 780.2 376.0 780.5 377.5 780.7 377.1 780.9 376.2 781.1 377.4 781.4 377.2 781.6 377.1 781.8 375.9 782.1 376.3 782.3 375.7 782.5 375.9 782.8 374.9 783.0 377.4 783.2 375.8 783.4 377.8 783.7 377.3 783.9 377.2 784.1 374.4 784.4 375.8 784.6 374.6 784.8 375.4 785.1 378.6 785.3 375.6 785.5 377.1 785.7 377.5 786.0 375.9 786.2 375.6 786.4 375.1 786.7 377.0 786.9 376.3 787.1 376.3 787.4 373.8 787.6 375.0 787.8 374.5 788.0 374.5 788.3 374.1 788.5 375.4 788.7 376.1 789.0 376.3 789.2 373.9 789.4 375.0 789.7 374.3 789.9 374.2 790.1 374.6 790.3 374.6 790.6 375.7 790.8 375.0 791.0 374.5 791.3 375.4 791.5 376.6 791.7 372.8 792.0 373.0 792.2 373.5 792.4 375.2 792.6 375.2 792.9 376.2 793.1 376.8 793.3 376.7 793.6 377.4 793.8 377.7 794.0 375.9 794.3 376.8 794.5 374.7 794.7 379.6 794.9 375.3 795.2 378.8 795.4 377.5 795.6 376.2 795.9 377.6 796.1 378.3 796.3 376.6 796.6 377.7 796.8 377.3 797.0 377.9 797.2 377.2 797.5 377.2 797.7 377.6 797.9 378.3 798.2 378.7 798.4 378.3 798.6 379.9 798.9 377.4 799.1 381.4 799.3 376.2 799.5 380.4 799.8 380.5 800.0 378.7 800.2 378.4 800.5 379.0 800.7 375.3 800.9 378.6 801.2 378.0 801.4 380.6 801.6 379.2 801.8 377.2 802.1 379.3 802.3 378.7 802.5 379.4 802.8 378.5 803.0 379.9 803.2 379.4 803.5 378.3 803.7 378.4 803.9 378.1 804.1 378.0 804.4 379.0 804.6 378.1 804.8 376.8 805.1 377.4 805.3 378.0 805.5 379.1 805.8 378.1 806.0 378.7 806.2 377.4 806.4 377.3 806.7 378.8 806.9 376.9 807.1 377.7 807.4 377.9 807.6 377.4 807.8 379.3 808.1 378.5 808.3 376.5 808.5 378.3 808.7 377.5 809.0 378.3 809.2 378.0 809.4 378.3 809.7 378.6 809.9 376.3 810.1 378.0 810.4 377.2 810.6 377.0 810.8 376.3 811.0 376.7 811.3 379.4 811.5 375.3 811.7 377.9 812.0 376.7 812.2 377.1 812.4 374.6 812.7 378.0 812.9 376.1 813.1 375.9 813.3 375.2 813.6 379.0 813.8 374.9 814.0 377.4 814.3 375.7 814.5 375.3 814.7 376.0 815.0 376.0 815.2 378.3 815.4 376.0 815.6 374.4 815.9 376.6 816.1 375.3 816.3 376.1 816.6 374.5 816.8 377.3 817.0 373.5 817.3 375.3 817.5 375.6 817.7 375.0 817.9 374.6 818.2 373.2 818.4 373.5 818.6 372.8 818.9 374.6 819.1 374.9 819.3 374.7 819.6 374.1 819.8 372.2 820.0 372.5 820.2 375.7 820.5 371.8 820.7 374.3 820.9 374.9 821.2 374.8 821.4 375.6 821.6 375.6 821.9 373.8 822.1 373.2 822.3 374.9 822.5 372.1 822.8 374.1 823.0 373.1 823.2 375.1 823.5 373.9 823.7 373.3 823.9 373.0 824.2 374.7 824.4 373.5 824.6 372.0 824.8 372.3 825.1 374.8 825.3 373.3 825.5 372.9 825.8 374.5 826.0 374.2 826.2 374.1 826.5 377.2 826.7 373.7 826.9 373.1 827.1 372.8 827.4 374.3 827.6 374.8 827.8 373.2 828.1 376.8 828.3 373.0 828.5 374.8 828.8 375.4 829.0 374.9 829.2 374.3 829.4 375.7 829.7 375.2 829.9 372.2 830.1 377.2 830.4 374.0 830.6 374.5 830.8 376.3 831.1 377.1 831.3 375.2 831.5 373.3 831.7 376.7 832.0 375.1 832.2 374.4 832.4 375.9 832.7 377.5 832.9 375.0 833.1 375.6 833.4 375.0 833.6 376.8 833.8 378.1 834.0 374.9 834.3 375.5 834.5 376.2 834.7 374.0 835.0 375.4 835.2 376.9 835.4 374.3 835.7 376.4 835.9 375.4 836.1 377.1 836.3 375.7 836.6 375.7 836.8 374.5 837.0 375.4 837.3 375.3 837.5 376.6 837.7 374.9 838.0 373.8 838.2 375.1 838.4 374.8 838.6 373.9 838.9 372.7 839.1 374.4 839.3 373.6 839.6 372.4 839.8 372.9 840.0 373.9 840.3 373.1 840.5 371.2 840.7 373.0 840.9 373.3 841.2 371.5 841.4 369.8 841.6 371.2 841.9 371.0 842.1 369.5 842.3 370.6 842.6 370.2 842.8 370.7 843.0 369.9 843.2 370.7 843.5 370.1 843.7 371.9 843.9 369.8 844.2 369.9 844.4 372.2 844.6 369.3 844.9 372.9 845.1 374.1 845.3 373.9 845.5 371.6 845.8 372.7 846.0 373.0 846.2 373.7 846.5 373.0 846.7 373.5 846.9 375.7 847.2 373.7 847.4 374.6 847.6 374.0 847.8 372.9 848.1 375.6 848.3 376.3 848.5 376.0 848.8 377.1 849.0 375.7 849.2 375.5 849.5 376.3 849.7 374.5 849.9 374.6 850.1 375.8 850.4 375.2 850.6 375.8 850.8 374.3 851.1 373.9 851.3 377.5 851.5 376.4 851.8 376.3 852.0 377.0 852.2 375.4 852.4 377.2 852.7 376.4 852.9 378.7 853.1 378.6 853.4 377.8 853.6 376.5 853.8 376.3 854.1 378.1 854.3 376.5 854.5 376.9 854.7 378.8 855.0 376.0 855.2 376.0 855.4 376.4 855.7 374.7 855.9 375.3 856.1 377.9 856.4 377.5 856.6 376.4 856.8 377.2 857.0 376.3 857.3 378.7 857.5 377.7 857.7 378.1 858.0 377.1 858.2 376.7 858.4 375.9 858.7 377.1 858.9 378.4 859.1 377.1 859.3 377.4 859.6 376.4 859.8 376.4 860.0 377.4 860.3 376.3 860.5 378.7 860.7 376.0 861.0 378.8 861.2 377.9 861.4 378.6 861.6 377.5 861.9 380.4 862.1 378.0 862.3 378.8 862.6 377.8 862.8 379.2 863.0 378.4 863.3 378.4 863.5 378.0 863.7 376.2 863.9 378.4 864.2 377.4 864.4 379.8 864.6 377.5 864.9 378.3 865.1 378.9 865.3 377.5 865.6 381.4 865.8 378.0 866.0 379.2 866.2 378.2 866.5 378.0 866.7 377.2 866.9 378.8 867.2 378.3 867.4 379.2 867.6 379.5 867.9 379.9 868.1 378.1 868.3 377.7 868.5 376.4 868.8 380.5 869.0 377.9 869.2 379.3 869.5 377.5 869.7 379.1 869.9 380.0 870.2 379.9 870.4 378.8 870.6 378.0 870.8 379.9" fill="none" stroke="#1560d8" stroke-width="1.15" stroke-linejoin="round"/>
<path d="M75.5 286.6 75.7 283.9 76.0 286.0 76.2 283.9 76.4 286.3 76.7 283.3 76.9 284.2 77.1 284.3 77.3 282.5 77.6 285.7 77.8 283.0 78.0 283.2 78.3 284.0 78.5 285.4 78.7 283.6 79.0 286.6 79.2 284.3 79.4 284.0 79.6 284.7 79.9 284.0 80.1 282.9 80.3 283.4 80.6 284.1 80.8 285.6 81.0 284.1 81.3 284.3 81.5 281.2 81.7 283.3 81.9 283.5 82.2 285.4 82.4 285.2 82.6 283.5 82.9 283.9 83.1 283.2 83.3 282.4 83.6 283.1 83.8 282.6 84.0 283.4 84.2 283.7 84.5 282.7 84.7 284.0 84.9 281.5 85.2 282.7 85.4 282.8 85.6 280.6 85.9 283.1 86.1 283.2 86.3 284.1 86.5 282.3 86.8 282.8 87.0 282.8 87.2 280.5 87.5 282.4 87.7 280.8 87.9 282.5 88.2 283.1 88.4 282.7 88.6 280.3 88.8 284.0 89.1 282.9 89.3 283.7 89.5 281.9 89.8 282.3 90.0 285.1 90.2 282.6 90.5 282.4 90.7 282.6 90.9 284.1 91.1 281.4 91.4 282.8 91.6 282.2 91.8 286.0 92.1 284.5 92.3 283.5 92.5 283.7 92.8 283.3 93.0 283.1 93.2 283.4 93.4 285.6 93.7 283.4 93.9 283.5 94.1 284.2 94.4 285.6 94.6 284.5 94.8 282.9 95.1 284.2 95.3 284.2 95.5 282.8 95.7 283.5 96.0 284.7 96.2 283.9 96.4 286.2 96.7 284.7 96.9 283.7 97.1 284.0 97.4 283.1 97.6 283.3 97.8 284.8 98.0 283.8 98.3 281.7 98.5 282.2 98.7 284.3 99.0 282.3 99.2 283.2 99.4 284.6 99.7 283.1 99.9 283.0 100.1 282.8 100.3 284.3 100.6 282.3 100.8 281.7 101.0 283.1 101.3 284.7 101.5 283.2 101.7 284.5 102.0 284.1 102.2 281.4 102.4 282.6 102.6 282.4 102.9 282.4 103.1 283.7 103.3 283.9 103.6 283.0 103.8 283.5 104.0 281.5 104.3 282.9 104.5 280.9 104.7 281.5 104.9 280.6 105.2 283.0 105.4 281.4 105.6 282.6 105.9 280.6 106.1 282.2 106.3 282.8 106.6 282.1 106.8 282.3 107.0 282.3 107.2 282.1 107.5 281.8 107.7 281.3 107.9 283.4 108.2 282.3 108.4 282.5 108.6 282.8 108.9 281.1 109.1 281.0 109.3 281.0 109.5 284.5 109.8 282.3 110.0 283.4 110.2 280.7 110.5 282.3 110.7 282.9 110.9 282.2 111.2 284.1 111.4 282.5 111.6 282.8 111.8 284.2 112.1 284.8 112.3 283.4 112.5 282.6 112.8 282.8 113.0 284.5 113.2 282.0 113.5 282.1 113.7 282.2 113.9 284.4 114.1 283.7 114.4 282.3 114.6 282.4 114.8 283.2 115.1 282.6 115.3 282.0 115.5 282.2 115.8 282.9 116.0 282.4 116.2 283.0 116.4 282.6 116.7 282.2 116.9 283.5 117.1 283.5 117.4 280.8 117.6 283.2 117.8 282.4 118.1 281.8 118.3 283.7 118.5 283.1 118.7 283.5 119.0 282.2 119.2 284.8 119.4 283.3 119.7 282.1 119.9 284.8 120.1 281.8 120.4 284.4 120.6 282.3 120.8 282.0 121.0 281.8 121.3 281.5 121.5 281.6 121.7 283.0 122.0 282.4 122.2 280.7 122.4 282.7 122.7 280.8 122.9 283.0 123.1 281.9 123.3 282.2 123.6 283.7 123.8 280.1 124.0 284.8 124.3 285.8 124.5 283.5 124.7 282.9 125.0 281.5 125.2 283.5 125.4 282.0 125.6 281.9 125.9 281.3 126.1 283.8 126.3 283.1 126.6 280.5 126.8 282.0 127.0 280.6 127.3 283.1 127.5 280.9 127.7 281.6 127.9 282.0 128.2 280.9 128.4 279.5 128.6 280.1 128.9 278.8 129.1 281.7 129.3 280.9 129.6 277.5 129.8 278.0 130.0 281.7 130.2 279.6 130.5 278.2 130.7 279.4 130.9 278.4 131.2 278.7 131.4 277.0 131.6 279.2 131.9 277.3 132.1 275.3 132.3 275.9 132.5 274.1 132.8 273.6 133.0 272.1 133.2 270.5 133.5 267.8 133.7 267.8 133.9 265.3 134.2 266.9 134.4 261.7 134.6 261.5 134.8 259.8 135.1 257.7 135.3 258.3 135.5 257.7 135.8 257.0 136.0 258.4 136.2 254.7 136.5 254.9 136.7 253.4 136.9 252.1 137.1 249.4 137.4 247.7 137.6 246.7 137.8 244.1 138.1 243.9 138.3 244.0 138.5 244.4 138.8 246.8 139.0 248.9 139.2 251.8 139.4 254.1 139.7 254.5 139.9 255.7 140.1 257.1 140.4 254.7 140.6 256.5 140.8 259.0 141.1 257.9 141.3 262.2 141.5 259.4 141.7 261.5 142.0 263.0 142.2 264.9 142.4 263.6 142.7 265.4 142.9 267.5 143.1 268.2 143.4 269.9 143.6 268.9 143.8 269.6 144.0 268.1 144.3 271.3 144.5 273.5 144.7 273.1 145.0 275.7 145.2 277.7 145.4 276.0 145.7 278.2 145.9 278.1 146.1 277.3 146.3 278.4 146.6 278.8 146.8 275.9 147.0 280.1 147.3 275.7 147.5 278.6 147.7 277.6 148.0 277.9 148.2 279.1 148.4 278.4 148.6 278.9 148.9 279.3 149.1 278.3 149.3 280.0 149.6 278.3 149.8 280.6 150.0 278.1 150.3 280.1 150.5 279.1 150.7 281.8 150.9 278.4 151.2 281.4 151.4 279.2 151.6 277.5 151.9 281.6 152.1 281.1 152.3 282.0 152.6 279.1 152.8 280.9 153.0 281.7 153.2 279.9 153.5 283.6 153.7 279.3 153.9 281.0 154.2 278.5 154.4 278.6 154.6 279.1 154.9 279.5 155.1 279.9 155.3 280.3 155.5 276.6 155.8 279.7 156.0 278.7 156.2 277.0 156.5 278.4 156.7 280.3 156.9 280.0 157.2 277.2 157.4 278.3 157.6 278.4 157.8 280.9 158.1 278.6 158.3 277.9 158.5 278.8 158.8 275.4 159.0 278.8 159.2 280.0 159.5 279.2 159.7 276.0 159.9 281.9 160.1 279.3 160.4 278.2 160.6 278.2 160.8 279.5 161.1 278.1 161.3 278.1 161.5 279.1 161.8 276.6 162.0 279.2 162.2 276.7 162.4 278.7 162.7 279.5 162.9 278.7 163.1 279.1 163.4 277.3 163.6 276.7 163.8 279.3 164.1 277.6 164.3 276.5 164.5 276.9 164.7 276.6 165.0 278.6 165.2 278.4 165.4 279.6 165.7 275.9 165.9 277.5 166.1 277.3 166.4 274.3 166.6 277.2 166.8 278.1 167.0 276.0 167.3 275.3 167.5 280.5 167.7 275.0 168.0 279.1 168.2 277.2 168.4 277.3 168.7 275.8 168.9 275.0 169.1 278.5 169.3 279.0 169.6 274.9 169.8 277.9 170.0 276.0 170.3 277.0 170.5 275.4 170.7 274.6 171.0 273.2 171.2 272.8 171.4 275.2 171.6 274.9 171.9 273.3 172.1 272.5 172.3 273.7 172.6 275.4 172.8 276.0 173.0 276.1 173.3 274.6 173.5 275.5 173.7 272.3 173.9 276.7 174.2 274.2 174.4 272.7 174.6 272.3 174.9 272.0 175.1 273.1 175.3 274.8 175.6 272.2 175.8 274.8 176.0 273.4 176.2 270.2 176.5 270.9 176.7 271.0 176.9 271.6 177.2 275.1 177.4 275.8 177.6 272.1 177.9 271.9 178.1 269.8 178.3 272.8 178.5 269.3 178.8 269.6 179.0 270.4 179.2 271.5 179.5 270.3 179.7 265.5 179.9 270.0 180.2 268.4 180.4 269.5 180.6 271.0 180.8 265.6 181.1 268.6 181.3 269.6 181.5 265.0 181.8 270.0 182.0 268.4 182.2 267.6 182.5 265.4 182.7 267.4 182.9 267.7 183.1 264.6 183.4 264.7 183.6 264.0 183.8 265.9 184.1 265.8 184.3 266.7 184.5 265.4 184.8 263.7 185.0 264.3 185.2 262.3 185.4 265.8 185.7 261.7 185.9 261.6 186.1 263.3 186.4 259.1 186.6 263.6 186.8 265.2 187.1 263.6 187.3 263.5 187.5 262.8 187.7 261.6 188.0 261.2 188.2 258.7 188.4 261.6 188.7 262.5 188.9 264.5 189.1 259.3 189.4 260.8 189.6 260.9 189.8 259.0 190.0 258.8 190.3 258.8 190.5 259.0 190.7 263.1 191.0 255.7 191.2 256.8 191.4 256.2 191.7 260.0 191.9 260.5 192.1 256.9 192.3 261.2 192.6 256.6 192.8 262.5 193.0 259.1 193.3 261.1 193.5 255.6 193.7 260.8 194.0 259.0 194.2 257.2 194.4 254.8 194.6 260.3 194.9 260.1 195.1 257.5 195.3 260.5 195.6 260.5 195.8 260.8 196.0 255.7 196.3 259.8 196.5 258.4 196.7 256.3 196.9 258.3 197.2 256.6 197.4 260.1 197.6 256.5 197.9 257.2 198.1 257.9 198.3 259.8 198.6 256.4 198.8 251.2 199.0 257.3 199.2 253.6 199.5 255.3 199.7 252.4 199.9 250.6 200.2 247.4 200.4 250.8 200.6 252.0 200.9 248.5 201.1 248.3 201.3 247.8 201.5 249.0 201.8 249.4 202.0 251.0 202.2 247.7 202.5 248.7 202.7 245.6 202.9 249.3 203.2 246.9 203.4 244.0 203.6 244.3 203.8 245.0 204.1 246.4 204.3 244.6 204.5 246.6 204.8 245.2 205.0 243.7 205.2 244.3 205.5 248.9 205.7 245.2 205.9 245.5 206.1 245.5 206.4 244.6 206.6 250.6 206.8 251.3 207.1 246.2 207.3 254.1 207.5 252.2 207.8 248.8 208.0 245.9 208.2 248.8 208.4 248.8 208.7 251.6 208.9 248.3 209.1 251.8 209.4 255.8 209.6 246.8 209.8 247.0 210.1 251.7 210.3 252.6 210.5 243.8 210.7 246.6 211.0 244.4 211.2 248.1 211.4 247.5 211.7 245.7 211.9 247.2 212.1 248.6 212.4 241.8 212.6 244.6 212.8 246.4 213.0 248.4 213.3 249.9 213.5 249.9 213.7 254.6 214.0 250.5 214.2 248.8 214.4 249.1 214.7 246.2 214.9 251.6 215.1 253.9 215.3 250.0 215.6 255.7 215.8 250.4 216.0 256.0 216.3 254.0 216.5 259.0 216.7 255.5 217.0 255.4 217.2 253.9 217.4 252.0 217.6 253.4 217.9 252.5 218.1 251.2 218.3 258.4 218.6 258.0 218.8 256.8 219.0 257.0 219.3 252.0 219.5 248.6 219.7 257.1 219.9 257.1 220.2 257.3 220.4 258.1 220.6 257.8 220.9 254.4 221.1 257.9 221.3 257.8 221.6 260.4 221.8 258.2 222.0 257.1 222.2 257.2 222.5 254.7 222.7 255.9 222.9 259.1 223.2 252.2 223.4 254.7 223.6 259.0 223.9 255.5 224.1 253.1 224.3 258.4 224.5 258.9 224.8 258.4 225.0 258.2 225.2 254.1 225.5 264.2 225.7 255.9 225.9 256.2 226.2 259.7 226.4 259.7 226.6 258.5 226.8 259.0 227.1 260.2 227.3 259.6 227.5 256.8 227.8 259.2 228.0 259.8 228.2 259.9 228.5 259.1 228.7 256.8 228.9 260.5 229.1 261.1 229.4 260.4 229.6 255.7 229.8 260.6 230.1 263.4 230.3 261.0 230.5 258.9 230.8 260.8 231.0 260.0 231.2 259.5 231.4 261.6 231.7 261.1 231.9 258.9 232.1 264.8 232.4 263.0 232.6 257.0 232.8 260.6 233.1 260.9 233.3 255.3 233.5 258.4 233.7 263.7 234.0 261.4 234.2 262.6 234.4 262.2 234.7 262.0 234.9 261.0 235.1 259.4 235.4 258.5 235.6 260.8 235.8 264.6 236.0 265.1 236.3 266.0 236.5 262.9 236.7 261.5 237.0 266.8 237.2 266.0 237.4 265.0 237.7 265.1 237.9 263.2 238.1 267.1 238.3 260.6 238.6 263.9 238.8 266.2 239.0 265.1 239.3 268.8 239.5 266.3 239.7 264.0 240.0 263.9 240.2 261.1 240.4 268.8 240.6 266.6 240.9 267.9 241.1 264.0 241.3 264.5 241.6 268.1 241.8 265.6 242.0 266.4 242.3 269.7 242.5 267.0 242.7 266.6 242.9 266.0 243.2 263.9 243.4 266.2 243.6 264.4 243.9 268.7 244.1 263.8 244.3 259.0 244.6 260.3 244.8 258.7 245.0 260.3 245.2 257.7 245.5 255.9 245.7 256.1 245.9 257.0 246.2 256.8 246.4 256.7 246.6 257.5 246.9 256.8 247.1 258.6 247.3 259.7 247.5 259.4 247.8 261.9 248.0 259.7 248.2 264.8 248.5 261.6 248.7 261.4 248.9 261.3 249.2 263.2 249.4 265.0 249.6 265.0 249.8 262.9 250.1 264.6 250.3 261.6 250.5 263.3 250.8 264.2 251.0 263.0 251.2 260.9 251.5 259.8 251.7 261.1 251.9 259.8 252.1 256.8 252.4 256.9 252.6 256.5 252.8 255.8 253.1 254.8 253.3 255.2 253.5 253.7 253.8 255.9 254.0 255.8 254.2 257.7 254.4 258.5 254.7 260.5 254.9 259.5 255.1 265.1 255.4 262.7 255.6 264.3 255.8 261.1 256.1 265.8 256.3 265.3 256.5 268.3 256.7 268.0 257.0 266.7 257.2 265.4 257.4 271.0 257.7 268.3 257.9 271.3 258.1 271.7 258.4 273.0 258.6 268.4 258.8 269.1 259.0 271.0 259.3 270.9 259.5 273.9 259.7 273.7 260.0 274.8 260.2 274.4 260.4 275.3 260.7 275.5 260.9 274.6 261.1 273.3 261.3 276.3 261.6 273.3 261.8 270.8 262.0 270.0 262.3 274.3 262.5 272.5 262.7 272.2 263.0 270.4 263.2 273.0 263.4 274.2 263.6 272.9 263.9 270.2 264.1 271.6 264.3 271.4 264.6 268.2 264.8 266.6 265.0 265.4 265.3 269.7 265.5 267.7 265.7 263.8 265.9 263.1 266.2 263.7 266.4 262.4 266.6 260.6 266.9 256.4 267.1 255.1 267.3 255.6 267.6 256.7 267.8 255.8 268.0 253.7 268.2 251.6 268.5 255.2 268.7 249.1 268.9 249.7 269.2 248.1 269.4 246.5 269.6 245.2 269.9 239.1 270.1 236.4 270.3 237.0 270.5 236.1 270.8 235.9 271.0 236.6 271.2 237.5 271.5 239.1 271.7 244.0 271.9 240.7 272.2 246.4 272.4 244.0 272.6 245.3 272.8 243.3 273.1 245.4 273.3 244.7 273.5 241.0 273.8 241.3 274.0 237.9 274.2 243.8 274.5 237.6 274.7 238.0 274.9 242.3 275.1 238.7 275.4 235.1 275.6 237.9 275.8 235.1 276.1 234.3 276.3 230.5 276.5 230.6 276.8 227.4 277.0 224.1 277.2 220.8 277.4 218.4 277.7 216.4 277.9 216.7 278.1 218.6 278.4 220.9 278.6 225.0 278.8 227.4 279.1 227.6 279.3 231.7 279.5 230.7 279.7 230.6 280.0 233.1 280.2 237.6 280.4 240.7 280.7 239.2 280.9 243.4 281.1 245.7 281.4 250.5 281.6 252.1 281.8 253.9 282.0 256.1 282.3 258.4 282.5 260.8 282.7 262.5 283.0 263.7 283.2 267.8 283.4 266.3 283.7 267.0 283.9 266.8 284.1 268.5 284.3 267.5 284.6 269.7 284.8 269.4 285.0 272.3 285.3 267.9 285.5 273.8 285.7 272.6 286.0 271.1 286.2 274.3 286.4 273.0 286.6 274.3 286.9 273.4 287.1 274.1 287.3 273.9 287.6 273.5 287.8 273.3 288.0 275.4 288.3 275.7 288.5 275.8 288.7 274.1 288.9 275.0 289.2 275.3 289.4 275.4 289.6 275.2 289.9 276.1 290.1 274.7 290.3 276.4 290.6 274.0 290.8 275.4 291.0 275.2 291.2 275.3 291.5 277.6 291.7 274.1 291.9 275.8 292.2 276.1 292.4 277.2 292.6 275.0 292.9 274.8 293.1 275.6 293.3 276.4 293.5 277.0 293.8 279.0 294.0 279.1 294.2 277.7 294.5 276.9 294.7 277.8 294.9 277.2 295.2 276.1 295.4 275.8 295.6 279.1 295.8 277.1 296.1 275.2 296.3 278.0 296.5 274.9 296.8 275.6 297.0 276.5 297.2 275.9 297.5 275.6 297.7 275.1 297.9 274.9 298.1 274.1 298.4 276.3 298.6 277.6 298.8 274.5 299.1 276.7 299.3 276.9 299.5 273.8 299.8 276.4 300.0 275.4 300.2 273.3 300.4 271.5 300.7 272.7 300.9 271.6 301.1 269.2 301.4 265.7 301.6 270.6 301.8 263.7 302.1 267.0 302.3 262.3 302.5 264.8 302.7 263.8 303.0 264.3 303.2 264.6 303.4 264.5 303.7 261.6 303.9 263.9 304.1 262.7 304.4 260.0 304.6 260.4 304.8 258.3 305.0 257.8 305.3 255.8 305.5 255.9 305.7 256.3 306.0 255.6 306.2 256.8 306.4 259.0 306.7 260.7 306.9 258.4 307.1 259.8 307.3 258.3 307.6 259.3 307.8 263.9 308.0 261.4 308.3 261.5 308.5 261.9 308.7 265.1 309.0 262.0 309.2 263.6 309.4 265.1 309.6 265.2 309.9 267.5 310.1 270.3 310.3 267.7 310.6 269.6 310.8 272.5 311.0 271.0 311.3 269.9 311.5 273.5 311.7 274.3 311.9 276.5 312.2 274.5 312.4 277.1 312.6 278.1 312.9 273.4 313.1 276.3 313.3 279.5 313.6 275.0 313.8 278.4 314.0 275.8 314.2 273.8 314.5 272.1 314.7 274.8 314.9 273.7 315.2 278.6 315.4 272.1 315.6 277.1 315.9 275.1 316.1 277.0 316.3 273.0 316.5 275.4 316.8 273.3 317.0 275.5 317.2 276.1 317.5 274.6 317.7 273.7 317.9 274.3 318.2 273.7 318.4 272.1 318.6 270.5 318.8 271.8 319.1 270.0 319.3 271.0 319.5 273.5 319.8 273.3 320.0 271.8 320.2 273.1 320.5 274.9 320.7 273.6 320.9 271.9 321.1 272.2 321.4 276.9 321.6 277.4 321.8 277.6 322.1 277.0 322.3 277.2 322.5 277.6 322.8 277.2 323.0 278.2 323.2 278.5 323.4 276.5 323.7 280.8 323.9 278.9 324.1 279.4 324.4 277.2 324.6 278.3 324.8 277.8 325.1 276.9 325.3 277.6 325.5 281.7 325.7 279.1 326.0 279.7 326.2 279.0 326.4 279.1 326.7 278.0 326.9 279.7 327.1 278.0 327.4 279.7 327.6 277.3 327.8 278.2 328.0 278.8 328.3 280.0 328.5 277.9 328.7 279.8 329.0 280.1 329.2 280.7 329.4 279.9 329.7 280.0 329.9 279.7 330.1 278.2 330.3 280.5 330.6 279.3 330.8 280.2 331.0 282.0 331.3 280.8 331.5 280.1 331.7 279.3 332.0 278.8 332.2 277.8 332.4 279.5 332.6 281.3 332.9 279.8 333.1 278.0 333.3 280.5 333.6 277.8 333.8 277.8 334.0 280.2 334.3 279.7 334.5 281.0 334.7 277.2 334.9 279.1 335.2 278.8 335.4 278.3 335.6 278.3 335.9 275.8 336.1 278.2 336.3 276.8 336.6 278.2 336.8 276.7 337.0 279.0 337.2 278.2 337.5 277.4 337.7 277.2 337.9 275.9 338.2 278.0 338.4 276.8 338.6 275.9 338.9 275.4 339.1 275.0 339.3 274.9 339.5 273.7 339.8 272.1 340.0 270.8 340.2 271.2 340.5 274.2 340.7 271.5 340.9 273.1 341.2 273.9 341.4 271.8 341.6 270.9 341.8 270.8 342.1 272.0 342.3 269.5 342.5 271.0 342.8 272.4 343.0 270.5 343.2 270.1 343.5 269.7 343.7 268.8 343.9 267.5 344.1 269.2 344.4 269.0 344.6 266.8 344.8 268.0 345.1 269.5 345.3 269.7 345.5 270.1 345.8 269.1 346.0 269.3 346.2 271.0 346.4 273.1 346.7 271.1 346.9 274.9 347.1 271.4 347.4 272.6 347.6 275.5 347.8 272.4 348.1 275.8 348.3 276.1 348.5 276.6 348.7 276.3 349.0 276.6 349.2 275.6 349.4 277.4 349.7 277.2 349.9 276.1 350.1 276.5 350.4 279.2 350.6 277.7 350.8 277.3 351.0 278.3 351.3 276.3 351.5 279.4 351.7 279.9 352.0 281.3 352.2 278.7 352.4 280.2 352.7 278.5 352.9 278.3 353.1 278.6 353.3 279.7 353.6 279.0 353.8 279.8 354.0 278.7 354.3 278.6 354.5 280.8 354.7 278.4 355.0 279.6 355.2 281.7 355.4 280.5 355.6 280.7 355.9 279.9 356.1 279.6 356.3 281.7 356.6 280.5 356.8 280.8 357.0 281.6 357.3 279.9 357.5 281.0 357.7 276.9 357.9 282.7 358.2 282.2 358.4 279.2 358.6 281.3 358.9 281.2 359.1 279.3 359.3 280.6 359.6 280.1 359.8 280.1 360.0 280.6 360.2 281.6 360.5 280.2 360.7 280.4 360.9 280.2 361.2 279.3 361.4 281.2 361.6 283.3 361.9 282.5 362.1 279.8 362.3 281.7 362.5 280.3 362.8 282.5 363.0 279.2 363.2 283.0 363.5 279.6 363.7 282.2 363.9 283.1 364.2 281.5 364.4 283.0 364.6 280.8 364.8 282.8 365.1 280.1 365.3 280.5 365.5 281.0 365.8 283.1 366.0 279.2 366.2 278.8 366.5 281.2 366.7 279.6 366.9 278.4 367.1 278.9 367.4 279.9 367.6 277.9 367.8 277.6 368.1 278.8 368.3 278.8 368.5 277.5 368.8 277.7 369.0 278.9 369.2 276.9 369.4 277.2 369.7 279.7 369.9 279.4 370.1 280.4 370.4 279.2 370.6 279.2 370.8 279.8 371.1 277.5 371.3 278.2 371.5 280.4 371.7 280.6 372.0 281.0 372.2 280.9 372.4 280.4 372.7 279.0 372.9 281.2 373.1 281.0 373.4 278.9 373.6 281.9 373.8 281.5 374.0 282.0 374.3 280.0 374.5 280.5 374.7 284.6 375.0 280.5 375.2 280.7 375.4 282.2 375.7 278.3 375.9 281.3 376.1 281.8 376.3 282.1 376.6 281.8 376.8 279.1 377.0 281.3 377.3 281.6 377.5 278.1 377.7 281.5 378.0 280.4 378.2 281.1 378.4 281.0 378.6 280.8 378.9 281.6 379.1 281.4 379.3 282.1 379.6 281.4 379.8 279.8 380.0 282.9 380.3 281.1 380.5 278.9 380.7 281.5 380.9 281.2 381.2 281.9 381.4 282.5 381.6 281.1 381.9 279.8 382.1 282.0 382.3 280.1 382.6 280.5 382.8 281.4 383.0 280.1 383.2 280.0 383.5 282.4 383.7 280.8 383.9 281.2 384.2 280.3 384.4 280.5 384.6 279.9 384.9 280.8 385.1 280.4 385.3 280.4 385.5 279.9 385.8 283.6 386.0 281.8 386.2 279.7 386.5 278.8 386.7 281.5 386.9 280.6 387.2 279.8 387.4 281.2 387.6 279.8 387.8 282.7 388.1 280.7 388.3 279.4 388.5 278.7 388.8 282.8 389.0 280.1 389.2 280.4 389.5 281.1 389.7 279.8 389.9 279.3 390.1 280.0 390.4 281.3 390.6 281.0 390.8 280.0 391.1 280.6 391.3 282.9 391.5 282.3 391.8 280.7 392.0 281.5 392.2 281.1 392.4 281.8 392.7 283.8 392.9 280.7 393.1 281.9 393.4 281.5 393.6 281.7 393.8 281.3 394.1 280.3 394.3 280.7 394.5 278.9 394.7 280.1 395.0 281.0 395.2 282.5 395.4 282.6 395.7 281.5 395.9 280.8 396.1 280.2 396.4 279.7 396.6 281.8 396.8 282.4 397.0 281.7 397.3 280.4 397.5 280.3 397.7 283.2 398.0 281.7 398.2 280.5 398.4 282.0 398.7 280.9 398.9 278.6 399.1 280.7 399.3 280.5 399.6 281.6 399.8 279.0 400.0 280.6 400.3 280.4 400.5 279.8 400.7 279.2 401.0 279.1 401.2 278.7 401.4 278.9 401.6 279.4 401.9 278.2 402.1 277.4 402.3 277.5 402.6 277.4 402.8 276.9 403.0 276.1 403.3 272.9 403.5 274.1 403.7 275.0 403.9 272.4 404.2 269.3 404.4 266.9 404.6 267.3 404.9 266.0 405.1 265.2 405.3 262.7 405.6 261.5 405.8 262.4 406.0 260.0 406.2 261.1 406.5 257.7 406.7 256.2 406.9 258.6 407.2 255.8 407.4 255.2 407.6 256.2 407.9 253.4 408.1 253.2 408.3 250.2 408.5 248.9 408.8 247.0 409.0 245.3 409.2 243.6 409.5 242.2 409.7 242.1 409.9 243.4 410.2 244.9 410.4 246.6 410.6 246.9 410.8 248.0 411.1 250.2 411.3 250.1 411.5 251.3 411.8 252.4 412.0 252.5 412.2 253.4 412.5 256.6 412.7 254.1 412.9 257.4 413.1 257.7 413.4 259.6 413.6 260.0 413.8 263.7 414.1 264.1 414.3 268.4 414.5 268.9 414.8 266.9 415.0 271.3 415.2 271.6 415.4 273.1 415.7 276.5 415.9 279.5 416.1 276.1 416.4 276.4 416.6 276.7 416.8 278.6 417.1 277.1 417.3 279.2 417.5 274.9 417.7 276.8 418.0 279.3 418.2 279.9 418.4 276.8 418.7 276.6 418.9 277.9 419.1 277.9 419.4 278.0 419.6 277.7 419.8 282.1 420.0 280.1 420.3 277.9 420.5 278.1 420.7 279.0 421.0 279.7 421.2 281.2 421.4 280.8 421.7 279.6 421.9 278.8 422.1 280.7 422.3 280.6 422.6 278.4 422.8 277.6 423.0 279.4 423.3 280.1 423.5 279.6 423.7 279.2 424.0 278.8 424.2 281.8 424.4 279.9 424.6 279.0 424.9 279.0 425.1 280.8 425.3 279.2 425.6 282.2 425.8 278.8 426.0 279.6 426.3 278.8 426.5 281.4 426.7 279.1 426.9 279.2 427.2 281.7 427.4 282.3 427.6 280.5 427.9 282.9 428.1 282.4 428.3 279.3 428.6 282.3 428.8 283.4 429.0 281.9 429.2 280.8 429.5 281.7 429.7 281.1 429.9 282.5 430.2 283.5 430.4 282.7 430.6 282.9 430.9 284.8 431.1 282.8 431.3 284.3 431.5 281.6 431.8 282.2 432.0 283.9 432.2 284.7 432.5 284.5 432.7 284.4 432.9 283.5 433.2 283.9 433.4 284.0 433.6 282.5 433.8 280.2 434.1 281.2 434.3 284.3 434.5 281.8 434.8 281.3 435.0 280.6 435.2 281.5 435.5 280.4 435.7 282.0 435.9 281.2 436.1 278.3 436.4 279.5 436.6 280.0 436.8 279.2 437.1 279.5 437.3 279.9 437.5 278.9 437.8 277.9 438.0 279.2 438.2 278.3 438.4 277.7 438.7 277.6 438.9 280.3 439.1 278.0 439.4 276.5 439.6 276.6 439.8 275.8 440.1 275.4 440.3 274.9 440.5 275.4 440.7 273.9 441.0 272.7 441.2 273.0 441.4 271.7 441.7 271.0 441.9 270.7 442.1 270.5 442.4 271.2 442.6 270.9 442.8 271.5 443.0 272.9 443.3 272.4 443.5 273.2 443.7 274.9 444.0 277.2 444.2 275.6 444.4 276.5 444.7 274.9 444.9 276.0 445.1 279.5 445.3 277.4 445.6 277.7 445.8 276.6 446.0 278.8 446.3 278.5 446.5 279.1 446.7 279.3 447.0 277.9 447.2 277.6 447.4 278.6 447.6 278.9 447.9 279.8 448.1 279.0 448.3 277.4 448.6 281.6 448.8 280.6 449.0 278.3 449.3 282.2 449.5 278.7 449.7 278.2 449.9 278.9 450.2 282.4 450.4 281.1 450.6 280.4 450.9 280.9 451.1 282.7 451.3 280.8 451.6 282.2 451.8 281.9 452.0 282.1 452.2 283.2 452.5 282.5 452.7 283.3 452.9 282.4 453.2 280.6 453.4 281.3 453.6 282.3 453.9 284.7 454.1 280.9 454.3 282.5 454.5 280.1 454.8 281.5 455.0 282.0 455.2 280.7 455.5 280.5 455.7 279.6 455.9 280.3 456.2 280.2 456.4 280.6 456.6 279.3 456.8 278.6 457.1 278.6 457.3 278.6 457.5 279.2 457.8 279.6 458.0 276.9 458.2 279.1 458.5 278.0 458.7 276.4 458.9 276.6 459.1 275.6 459.4 275.3 459.6 276.1 459.8 276.7 460.1 275.7 460.3 276.6 460.5 276.2 460.8 275.9 461.0 275.6 461.2 275.2 461.4 272.0 461.7 274.5 461.9 271.5 462.1 275.1 462.4 272.5 462.6 272.6 462.8 271.9 463.1 273.3 463.3 271.5 463.5 271.9 463.7 271.0 464.0 271.4 464.2 270.0 464.4 270.4 464.7 269.2 464.9 268.0 465.1 267.5 465.4 266.8 465.6 266.5 465.8 267.5 466.0 267.6 466.3 270.4 466.5 272.5 466.7 272.4 467.0 274.9 467.2 276.7 467.4 275.2 467.7 279.1 467.9 276.9 468.1 278.9 468.3 278.7 468.6 280.0 468.8 278.3 469.0 278.9 469.3 280.1 469.5 280.8 469.7 279.7 470.0 280.4 470.2 277.8 470.4 278.4 470.6 279.5 470.9 280.1 471.1 280.4 471.3 281.5 471.6 280.1 471.8 280.8 472.0 280.8 472.3 279.5 472.5 278.3 472.7 280.4 472.9 280.3 473.2 282.2 473.4 281.3 473.6 281.8 473.9 280.6 474.1 280.6 474.3 281.8 474.6 282.9 474.8 280.0 475.0 281.3 475.2 280.1 475.5 280.6 475.7 282.6 475.9 282.3 476.2 281.4 476.4 281.9 476.6 283.3 476.9 280.7 477.1 282.7 477.3 281.6 477.5 278.9 477.8 282.3 478.0 283.4 478.2 280.6 478.5 280.7 478.7 280.2 478.9 281.1 479.2 281.0 479.4 282.0 479.6 281.3 479.8 280.6 480.1 280.2 480.3 281.5 480.5 280.0 480.8 280.0 481.0 280.8 481.2 280.9 481.5 279.5 481.7 279.5 481.9 282.1 482.1 278.8 482.4 280.6 482.6 280.1 482.8 282.4 483.1 280.3 483.3 280.4 483.5 281.0 483.8 280.4 484.0 282.6 484.2 282.5 484.4 282.3 484.7 282.7 484.9 281.2 485.1 281.7 485.4 283.1 485.6 281.9 485.8 282.2 486.1 281.3 486.3 282.3 486.5 282.5 486.7 283.1 487.0 283.3 487.2 282.2 487.4 283.4 487.7 282.4 487.9 282.5 488.1 281.9 488.4 280.9 488.6 281.5 488.8 280.8 489.0 280.3 489.3 279.8 489.5 277.3 489.7 281.7 490.0 280.3 490.2 281.1 490.4 279.2 490.7 279.7 490.9 278.3 491.1 276.6 491.3 279.7 491.6 278.8 491.8 279.6 492.0 278.3 492.3 279.1 492.5 274.4 492.7 278.8 493.0 276.2 493.2 277.0 493.4 274.7 493.6 274.3 493.9 277.6 494.1 272.7 494.3 275.6 494.6 275.1 494.8 274.9 495.0 272.7 495.3 274.1 495.5 272.1 495.7 272.0 495.9 272.2 496.2 273.7 496.4 272.0 496.6 271.8 496.9 272.2 497.1 272.1 497.3 270.3 497.6 272.8 497.8 271.8 498.0 271.7 498.2 269.9 498.5 271.6 498.7 272.3 498.9 273.1 499.2 272.8 499.4 272.2 499.6 272.6 499.9 271.3 500.1 271.7 500.3 274.6 500.5 273.1 500.8 274.6 501.0 274.7 501.2 276.5 501.5 273.1 501.7 274.3 501.9 271.7 502.2 274.1 502.4 274.9 502.6 278.4 502.8 276.4 503.1 275.2 503.3 279.5 503.5 280.8 503.8 279.1 504.0 278.4 504.2 281.0 504.5 276.6 504.7 279.1 504.9 275.6 505.1 279.4 505.4 277.4 505.6 276.9 505.8 276.5 506.1 273.0 506.3 270.8 506.5 270.3 506.8 272.4 507.0 271.4 507.2 265.0 507.4 271.6 507.7 269.3 507.9 268.4 508.1 266.8 508.4 265.4 508.6 264.2 508.8 263.1 509.1 261.8 509.3 259.2 509.5 260.7 509.7 260.9 510.0 258.1 510.2 258.3 510.4 257.8 510.7 256.3 510.9 254.7 511.1 254.8 511.4 253.6 511.6 251.1 511.8 253.9 512.0 254.6 512.3 251.2 512.5 251.5 512.7 249.3 513.0 249.7 513.2 249.2 513.4 248.9 513.7 247.0 513.9 246.4 514.1 244.9 514.3 244.8 514.6 244.5 514.8 245.9 515.0 248.1 515.3 249.9 515.5 252.1 515.7 252.5 516.0 254.8 516.2 255.4 516.4 256.3 516.6 256.4 516.9 257.7 517.1 261.2 517.3 262.2 517.6 262.5 517.8 265.7 518.0 266.1 518.3 264.8 518.5 267.0 518.7 267.8 518.9 269.4 519.2 274.7 519.4 273.6 519.6 274.7 519.9 279.2 520.1 277.1 520.3 277.8 520.6 279.6 520.8 278.9 521.0 279.2 521.2 280.0 521.5 276.5 521.7 276.7 521.9 279.6 522.2 278.7 522.4 278.2 522.6 278.1 522.9 278.7 523.1 279.3 523.3 276.4 523.5 278.5 523.8 281.0 524.0 277.3 524.2 278.7 524.5 280.9 524.7 277.2 524.9 277.4 525.2 275.1 525.4 276.8 525.6 276.2 525.8 278.1 526.1 278.9 526.3 277.0 526.5 277.2 526.8 275.3 527.0 279.3 527.2 277.2 527.5 277.1 527.7 279.1 527.9 275.7 528.1 275.6 528.4 275.0 528.6 273.4 528.8 276.7 529.1 274.7 529.3 273.7 529.5 273.7 529.8 275.0 530.0 275.8 530.2 274.9 530.4 274.0 530.7 274.1 530.9 276.2 531.1 277.3 531.4 276.0 531.6 273.4 531.8 277.4 532.1 275.3 532.3 277.5 532.5 277.8 532.7 278.2 533.0 276.5 533.2 276.9 533.4 278.5 533.7 279.4 533.9 278.5 534.1 278.1 534.4 277.5 534.6 276.7 534.8 279.6 535.0 278.8 535.3 276.8 535.5 281.5 535.7 281.2 536.0 281.6 536.2 279.6 536.4 280.6 536.7 278.6 536.9 280.3 537.1 280.4 537.3 281.3 537.6 279.1 537.8 281.5 538.0 282.1 538.3 281.9 538.5 281.7 538.7 282.3 539.0 281.6 539.2 280.3 539.4 279.3 539.6 279.2 539.9 280.8 540.1 280.0 540.3 280.9 540.6 281.2 540.8 280.1 541.0 282.5 541.3 279.6 541.5 280.2 541.7 281.9 541.9 281.4 542.2 279.8 542.4 282.1 542.6 280.2 542.9 282.6 543.1 280.6 543.3 280.2 543.6 281.0 543.8 281.9 544.0 282.2 544.2 280.5 544.5 280.8 544.7 281.4 544.9 281.7 545.2 280.5 545.4 281.9 545.6 281.3 545.9 280.1 546.1 281.6 546.3 280.8 546.5 283.5 546.8 282.5 547.0 282.0 547.2 281.3 547.5 281.7 547.7 281.7 547.9 279.6 548.2 281.9 548.4 279.4 548.6 279.6 548.8 279.8 549.1 280.8 549.3 281.2 549.5 281.6 549.8 279.2 550.0 280.0 550.2 279.6 550.5 280.7 550.7 280.1 550.9 283.5 551.1 281.9 551.4 280.9 551.6 278.8 551.8 280.9 552.1 280.2 552.3 281.3 552.5 280.6 552.8 280.8 553.0 278.8 553.2 280.6 553.4 282.6 553.7 281.3 553.9 282.0 554.1 281.8 554.4 281.0 554.6 283.3 554.8 280.4 555.1 283.2 555.3 281.9 555.5 282.0 555.7 281.0 556.0 283.7 556.2 281.8 556.4 282.2 556.7 282.8 556.9 284.4 557.1 282.3 557.4 280.6 557.6 280.8 557.8 281.6 558.0 282.7 558.3 282.1 558.5 281.9 558.7 284.2 559.0 285.4 559.2 284.0 559.4 283.6 559.7 282.4 559.9 283.5 560.1 283.9 560.3 283.1 560.6 283.4 560.8 282.4 561.0 284.2 561.3 282.2 561.5 285.2 561.7 283.5 562.0 282.5 562.2 284.1 562.4 282.9 562.6 282.6 562.9 284.3 563.1 284.6 563.3 281.6 563.6 283.1 563.8 285.7 564.0 282.8 564.3 282.7 564.5 282.4 564.7 280.4 564.9 283.8 565.2 283.1 565.4 283.8 565.6 285.2 565.9 284.5 566.1 284.4 566.3 281.5 566.6 280.7 566.8 284.4 567.0 283.8 567.2 284.3 567.5 284.1 567.7 284.6 567.9 285.0 568.2 285.0 568.4 283.3 568.6 284.8 568.9 282.4 569.1 283.6 569.3 282.2 569.5 284.6 569.8 283.8 570.0 283.1 570.2 283.0 570.5 283.8 570.7 285.4 570.9 285.5 571.2 281.6 571.4 283.9 571.6 285.0 571.8 284.9 572.1 284.7 572.3 282.4 572.5 283.5 572.8 285.5 573.0 283.6 573.2 283.1 573.5 282.6 573.7 284.9 573.9 285.9 574.1 284.8 574.4 283.3 574.6 285.2 574.8 282.9 575.1 283.0 575.3 284.4 575.5 284.1 575.8 283.9 576.0 283.6 576.2 282.2 576.4 282.6 576.7 282.4 576.9 281.4 577.1 281.4 577.4 282.7 577.6 281.8 577.8 280.3 578.1 280.6 578.3 280.0 578.5 279.4 578.7 281.3 579.0 281.1 579.2 280.4 579.4 278.6 579.7 279.6 579.9 277.9 580.1 279.9 580.4 279.3 580.6 279.6 580.8 278.0 581.0 281.1 581.3 280.0 581.5 280.6 581.7 278.1 582.0 278.2 582.2 280.2 582.4 279.5 582.7 277.6 582.9 277.5 583.1 276.7 583.3 278.0 583.6 276.1 583.8 278.5 584.0 277.3 584.3 277.3 584.5 276.2 584.7 278.1 585.0 277.8 585.2 275.8 585.4 274.6 585.6 278.0 585.9 273.7 586.1 276.4 586.3 273.2 586.6 277.9 586.8 276.0 587.0 274.0 587.3 274.6 587.5 275.2 587.7 272.0 587.9 272.5 588.2 274.6 588.4 273.8 588.6 274.2 588.9 273.8 589.1 273.6 589.3 275.0 589.6 275.7 589.8 274.3 590.0 276.5 590.2 275.4 590.5 275.3 590.7 277.0 590.9 275.8 591.2 277.6 591.4 276.0 591.6 278.9 591.9 278.9 592.1 280.0 592.3 279.4 592.5 278.4 592.8 280.3 593.0 281.9 593.2 281.5 593.5 283.1 593.7 280.3 593.9 281.4 594.2 282.3 594.4 281.5 594.6 282.9 594.8 280.5 595.1 281.1 595.3 279.8 595.5 281.5 595.8 281.1 596.0 279.1 596.2 280.7 596.5 282.2 596.7 281.1 596.9 280.8 597.1 283.3 597.4 279.0 597.6 280.2 597.8 278.2 598.1 280.0 598.3 278.0 598.5 279.9 598.8 281.5 599.0 280.0 599.2 280.5 599.4 277.9 599.7 277.9 599.9 278.7 600.1 278.5 600.4 282.4 600.6 277.8 600.8 277.7 601.1 277.5 601.3 277.2 601.5 278.2 601.7 276.9 602.0 276.5 602.2 277.2 602.4 278.2 602.7 275.6 602.9 276.7 603.1 277.5 603.4 279.6 603.6 275.7 603.8 276.6 604.0 276.9 604.3 276.7 604.5 276.9 604.7 274.8 605.0 273.5 605.2 275.3 605.4 275.4 605.7 274.3 605.9 275.6 606.1 274.5 606.3 275.2 606.6 274.3 606.8 275.0 607.0 276.6 607.3 276.0 607.5 277.0 607.7 277.0 608.0 277.7 608.2 275.9 608.4 276.7 608.6 278.5 608.9 278.5 609.1 276.5 609.3 275.4 609.6 278.4 609.8 278.5 610.0 278.6 610.3 276.2 610.5 278.5 610.7 279.9 610.9 279.0 611.2 278.7 611.4 280.2 611.6 278.5 611.9 282.6 612.1 280.9 612.3 279.1 612.6 284.4 612.8 281.9 613.0 280.3 613.2 282.2 613.5 281.8 613.7 282.5 613.9 282.4 614.2 281.5 614.4 282.8 614.6 281.5 614.9 281.7 615.1 279.9 615.3 281.9 615.5 280.4 615.8 281.0 616.0 281.8 616.2 280.4 616.5 280.8 616.7 280.4 616.9 280.3 617.2 279.4 617.4 281.3 617.6 279.2 617.8 279.0 618.1 278.7 618.3 279.1 618.5 280.2 618.8 279.4 619.0 279.9 619.2 278.0 619.5 276.4 619.7 279.7 619.9 278.8 620.1 280.1 620.4 281.1 620.6 280.3 620.8 278.8 621.1 279.9 621.3 279.1 621.5 281.6 621.8 280.8 622.0 279.7 622.2 279.9 622.4 279.8 622.7 282.1 622.9 278.4 623.1 280.5 623.4 279.5 623.6 281.4 623.8 281.9 624.1 279.9 624.3 279.4 624.5 280.0 624.7 281.8 625.0 279.1 625.2 281.2 625.4 282.3 625.7 280.8 625.9 281.2 626.1 280.4 626.4 281.0 626.6 280.2 626.8 281.3 627.0 280.4 627.3 281.1 627.5 283.6 627.7 281.7 628.0 282.1 628.2 281.8 628.4 281.5 628.7 280.9 628.9 281.8 629.1 281.3 629.3 282.7 629.6 281.9 629.8 280.7 630.0 282.3 630.3 281.8 630.5 281.4 630.7 282.3 631.0 282.5 631.2 281.9 631.4 283.3 631.6 284.7 631.9 283.7 632.1 282.9 632.3 282.0 632.6 282.0 632.8 281.2 633.0 282.1 633.3 282.1 633.5 282.5 633.7 283.1 633.9 282.9 634.2 284.7 634.4 283.4 634.6 285.5 634.9 282.5 635.1 282.0 635.3 283.0 635.6 284.2 635.8 283.5 636.0 282.7 636.2 282.7 636.5 283.6 636.7 284.9 636.9 283.8 637.2 283.8 637.4 283.5 637.6 283.3 637.9 284.1 638.1 284.0 638.3 284.4 638.5 283.7 638.8 284.3 639.0 283.7 639.2 283.5 639.5 286.0 639.7 284.8 639.9 284.5 640.2 284.9 640.4 284.0 640.6 285.5 640.8 286.0 641.1 284.1 641.3 285.9 641.5 286.2 641.8 284.7 642.0 283.0 642.2 284.8 642.5 283.3 642.7 285.6 642.9 283.8 643.1 284.9 643.4 285.0 643.6 284.2 643.8 283.2 644.1 285.8 644.3 283.8 644.5 283.5 644.8 284.7 645.0 284.4 645.2 283.1 645.4 284.0 645.7 284.6 645.9 284.4 646.1 285.0 646.4 283.9 646.6 285.1 646.8 286.2 647.1 285.9 647.3 284.1 647.5 285.2 647.7 284.9 648.0 283.0 648.2 283.7 648.4 284.5 648.7 285.4 648.9 284.0 649.1 284.2 649.4 282.3 649.6 284.4 649.8 283.7 650.0 284.4 650.3 284.4 650.5 283.6 650.7 286.7 651.0 283.6 651.2 286.7 651.4 284.8 651.7 282.6 651.9 284.4 652.1 284.1 652.3 284.0 652.6 283.4 652.8 286.0 653.0 282.7 653.3 283.0 653.5 283.5 653.7 286.1 654.0 284.8 654.2 283.5 654.4 283.0 654.6 286.2 654.9 285.1 655.1 283.7 655.3 284.8 655.6 285.7 655.8 281.9 656.0 283.7 656.3 283.9 656.5 284.8 656.7 283.4 656.9 284.9 657.2 283.6 657.4 284.9 657.6 282.6 657.9 286.8 658.1 283.6 658.3 282.8 658.6 282.2 658.8 284.7 659.0 284.8 659.2 284.3 659.5 282.6 659.7 284.4 659.9 286.3 660.2 282.2 660.4 284.1 660.6 284.4 660.9 286.4 661.1 283.4 661.3 285.9 661.5 286.1 661.8 284.5 662.0 284.7 662.2 286.2 662.5 283.3 662.7 284.4 662.9 285.2 663.2 283.4 663.4 285.1 663.6 284.3 663.8 285.2 664.1 284.5 664.3 284.5 664.5 286.6 664.8 284.1 665.0 284.1 665.2 285.6 665.5 284.5 665.7 284.2 665.9 286.8 666.1 284.7 666.4 284.1 666.6 283.7 666.8 283.8 667.1 284.2 667.3 285.0 667.5 286.2 667.8 284.6 668.0 284.0 668.2 283.3 668.4 284.5 668.7 284.2 668.9 285.4 669.1 284.5 669.4 285.0 669.6 284.9 669.8 285.0 670.1 284.6 670.3 286.3 670.5 283.4 670.7 284.9 671.0 284.3 671.2 283.5 671.4 283.8 671.7 285.2 671.9 283.0 672.1 283.0 672.4 283.5 672.6 283.6 672.8 282.7 673.0 284.8 673.3 283.8 673.5 282.6 673.7 283.7 674.0 285.3 674.2 284.8 674.4 284.1 674.7 284.2 674.9 285.1 675.1 282.1 675.3 285.5 675.6 282.7 675.8 283.9 676.0 283.3 676.3 284.7 676.5 283.5 676.7 283.6 677.0 284.0 677.2 283.3 677.4 283.4 677.6 283.1 677.9 284.0 678.1 283.9 678.3 282.6 678.6 283.6 678.8 286.3 679.0 284.1 679.3 283.1 679.5 282.8 679.7 283.3 679.9 284.2 680.2 281.0 680.4 283.3 680.6 283.0 680.9 284.7 681.1 283.2 681.3 284.3 681.6 281.5 681.8 282.2 682.0 284.0 682.2 282.5 682.5 283.5 682.7 283.2 682.9 282.0 683.2 282.4 683.4 283.4 683.6 282.7 683.9 281.2 684.1 281.5 684.3 281.5 684.5 281.6 684.8 282.5 685.0 279.9 685.2 280.6 685.5 281.8 685.7 280.4 685.9 280.2 686.2 279.1 686.4 278.5 686.6 280.7 686.8 279.8 687.1 278.9 687.3 278.2 687.5 277.6 687.8 278.1 688.0 276.9 688.2 276.6 688.5 275.1 688.7 276.3 688.9 275.3 689.1 276.0 689.4 275.4 689.6 275.7 689.8 276.7 690.1 275.5 690.3 276.3 690.5 275.9 690.8 277.3 691.0 277.8 691.2 277.3 691.4 277.8 691.7 281.1 691.9 279.0 692.1 280.4 692.4 280.8 692.6 281.3 692.8 280.4 693.1 279.7 693.3 282.4 693.5 282.9 693.7 280.7 694.0 283.1 694.2 281.7 694.4 283.8 694.7 283.6 694.9 281.0 695.1 283.5 695.4 282.1 695.6 280.5 695.8 282.6 696.0 281.5 696.3 280.6 696.5 283.0 696.7 282.5 697.0 281.2 697.2 282.1 697.4 280.3 697.7 282.2 697.9 280.1 698.1 280.8 698.3 281.0 698.6 282.3 698.8 283.0 699.0 280.3 699.3 282.4 699.5 282.0 699.7 283.0 700.0 282.1 700.2 280.6 700.4 281.5 700.6 279.9 700.9 282.5 701.1 282.6 701.3 282.8 701.6 282.0 701.8 282.1 702.0 280.6 702.3 282.1 702.5 280.8 702.7 282.5 702.9 282.0 703.2 282.2 703.4 279.7 703.6 282.1 703.9 280.3 704.1 282.9 704.3 282.0 704.6 281.4 704.8 282.1 705.0 282.1 705.2 282.0 705.5 280.7 705.7 281.6 705.9 280.6 706.2 281.2 706.4 280.6 706.6 283.2 706.9 283.5 707.1 283.1 707.3 282.0 707.5 281.8 707.8 282.5 708.0 283.3 708.2 282.3 708.5 281.4 708.7 280.5 708.9 283.2 709.2 283.3 709.4 282.4 709.6 281.4 709.8 284.2 710.1 283.7 710.3 283.9 710.5 283.8 710.8 282.9 711.0 281.5 711.2 282.1 711.5 282.7 711.7 283.7 711.9 282.2 712.1 283.7 712.4 282.1 712.6 283.3 712.8 283.1 713.1 283.8 713.3 281.0 713.5 282.5 713.8 282.1 714.0 281.9 714.2 285.0 714.4 283.1 714.7 284.0 714.9 281.6 715.1 282.3 715.4 282.6 715.6 283.2 715.8 283.5 716.1 284.6 716.3 282.6 716.5 284.1 716.7 283.4 717.0 283.6 717.2 283.3 717.4 282.6 717.7 284.5 717.9 282.1 718.1 283.5 718.4 282.1 718.6 284.3 718.8 282.7 719.0 281.6 719.3 283.4 719.5 281.7 719.7 283.6 720.0 283.8 720.2 283.3 720.4 281.8 720.7 284.9 720.9 281.3 721.1 282.8 721.3 281.7 721.6 282.8 721.8 283.4 722.0 284.5 722.3 283.4 722.5 283.5 722.7 283.9 723.0 285.8 723.2 283.4 723.4 282.2 723.6 283.9 723.9 283.8 724.1 284.7 724.3 283.6 724.6 282.9 724.8 285.4 725.0 283.3 725.3 281.4 725.5 283.8 725.7 284.1 725.9 284.3 726.2 284.6 726.4 283.9 726.6 283.6 726.9 285.3 727.1 281.6 727.3 284.9 727.6 285.2 727.8 284.0 728.0 284.4 728.2 283.5 728.5 285.9 728.7 284.1 728.9 283.7 729.2 284.3 729.4 282.8 729.6 285.6 729.9 286.0 730.1 284.4 730.3 283.4 730.5 284.8 730.8 284.3 731.0 286.8 731.2 284.8 731.5 285.4 731.7 283.6 731.9 284.8 732.2 285.1 732.4 284.7 732.6 286.0 732.8 284.5 733.1 283.7 733.3 283.6 733.5 285.1 733.8 284.9 734.0 285.7 734.2 284.8 734.5 284.7 734.7 285.0 734.9 285.5 735.1 285.6 735.4 284.4 735.6 285.6 735.8 285.0 736.1 284.4 736.3 284.8 736.5 284.3 736.8 285.3 737.0 285.5 737.2 286.0 737.4 285.5 737.7 284.5 737.9 286.6 738.1 285.9 738.4 285.8 738.6 284.6 738.8 285.1 739.1 285.2 739.3 284.3 739.5 283.7 739.7 285.4 740.0 285.1 740.2 283.0 740.4 285.5 740.7 287.3 740.9 286.0 741.1 285.7 741.4 285.7 741.6 286.3 741.8 285.3 742.0 285.9 742.3 285.4 742.5 285.1 742.7 285.4 743.0 283.7 743.2 282.8 743.4 284.1 743.7 284.4 743.9 283.8 744.1 284.1 744.3 284.5 744.6 284.7 744.8 284.5 745.0 283.0 745.3 283.3 745.5 285.1 745.7 281.8 746.0 283.2 746.2 284.9 746.4 283.8 746.6 283.2 746.9 283.3 747.1 281.2 747.3 280.0 747.6 283.3 747.8 281.7 748.0 280.6 748.3 280.7 748.5 282.2 748.7 282.0 748.9 281.2 749.2 282.8 749.4 282.6 749.6 283.0 749.9 282.3 750.1 282.0 750.3 282.6 750.6 279.6 750.8 280.1 751.0 281.0 751.2 279.5 751.5 280.2 751.7 279.9 751.9 280.2 752.2 278.4 752.4 279.2 752.6 279.7 752.9 278.1 753.1 278.9 753.3 277.8 753.5 279.6 753.8 278.2 754.0 279.7 754.2 278.4 754.5 279.4 754.7 278.5 754.9 278.8 755.2 277.3 755.4 280.8 755.6 279.7 755.8 278.7 756.1 277.8 756.3 278.9 756.5 280.3 756.8 279.5 757.0 277.4 757.2 279.9 757.5 280.3 757.7 281.5 757.9 281.1 758.1 281.0 758.4 281.7 758.6 280.8 758.8 282.4 759.1 282.3 759.3 279.1 759.5 280.8 759.8 283.8 760.0 281.0 760.2 280.7 760.4 282.5 760.7 282.0 760.9 281.2 761.1 284.4 761.4 280.4 761.6 281.5 761.8 282.8 762.1 282.1 762.3 282.0 762.5 282.7 762.7 281.4 763.0 283.0 763.2 281.5 763.4 282.2 763.7 283.1 763.9 281.3 764.1 283.4 764.4 282.4 764.6 283.4 764.8 281.3 765.0 281.4 765.3 279.7 765.5 281.6 765.7 281.6 766.0 281.3 766.2 281.8 766.4 283.3 766.7 282.4 766.9 281.8 767.1 280.8 767.3 279.5 767.6 283.2 767.8 278.0 768.0 282.4 768.3 282.8 768.5 280.2 768.7 280.4 769.0 280.2 769.2 279.9 769.4 281.7 769.6 281.5 769.9 281.6 770.1 281.9 770.3 282.1 770.6 282.2 770.8 282.8 771.0 281.7 771.3 282.7 771.5 282.8 771.7 280.5 771.9 282.9 772.2 284.0 772.4 282.1 772.6 282.9 772.9 281.7 773.1 282.4 773.3 282.7 773.6 281.2 773.8 282.7 774.0 284.1 774.2 284.3 774.5 284.9 774.7 281.9 774.9 282.9 775.2 285.4 775.4 281.7 775.6 285.0 775.9 280.2 776.1 282.4 776.3 284.8 776.5 281.8 776.8 283.2 777.0 285.5 777.2 284.1 777.5 284.0 777.7 282.3 777.9 284.3 778.2 283.5 778.4 283.5 778.6 285.5 778.8 287.7 779.1 285.4 779.3 287.2 779.5 283.0 779.8 282.6 780.0 284.5 780.2 285.4 780.5 283.3 780.7 286.3 780.9 285.6 781.1 283.3 781.4 284.3 781.6 285.1 781.8 283.7 782.1 284.1 782.3 283.2 782.5 283.2 782.8 283.7 783.0 281.8 783.2 283.4 783.4 285.1 783.7 282.4 783.9 285.3 784.1 283.2 784.4 281.3 784.6 283.6 784.8 282.4 785.1 283.6 785.3 280.6 785.5 284.3 785.7 282.5 786.0 283.6 786.2 283.2 786.4 282.0 786.7 282.5 786.9 282.4 787.1 281.0 787.4 282.6 787.6 283.5 787.8 281.6 788.0 281.1 788.3 282.1 788.5 279.6 788.7 279.5 789.0 282.4 789.2 280.4 789.4 280.5 789.7 282.7 789.9 282.6 790.1 281.4 790.3 279.7 790.6 280.8 790.8 280.3 791.0 281.6 791.3 280.8 791.5 279.0 791.7 280.0 792.0 282.2 792.2 282.4 792.4 280.0 792.6 282.4 792.9 281.7 793.1 282.0 793.3 280.8 793.6 284.0 793.8 283.2 794.0 281.8 794.3 279.3 794.5 283.4 794.7 282.0 794.9 282.4 795.2 283.5 795.4 282.9 795.6 282.4 795.9 283.6 796.1 284.6 796.3 282.7 796.6 283.1 796.8 282.1 797.0 283.6 797.2 283.0 797.5 284.1 797.7 284.8 797.9 285.6 798.2 284.0 798.4 283.9 798.6 285.7 798.9 284.6 799.1 285.0 799.3 284.0 799.5 285.5 799.8 284.8 800.0 284.1 800.2 283.8 800.5 287.2 800.7 285.9 800.9 286.4 801.2 283.3 801.4 285.4 801.6 286.1 801.8 283.8 802.1 283.1 802.3 285.2 802.5 285.6 802.8 284.0 803.0 286.0 803.2 286.7 803.5 283.9 803.7 284.1 803.9 284.4 804.1 283.2 804.4 283.7 804.6 284.3 804.8 284.9 805.1 285.7 805.3 284.7 805.5 285.6 805.8 286.2 806.0 285.9 806.2 284.5 806.4 284.1 806.7 284.0 806.9 284.6 807.1 286.0 807.4 284.0 807.6 282.2 807.8 285.3 808.1 282.7 808.3 285.1 808.5 284.1 808.7 286.2 809.0 282.9 809.2 284.0 809.4 283.1 809.7 285.9 809.9 283.7 810.1 283.1 810.4 285.6 810.6 283.3 810.8 285.5 811.0 282.5 811.3 285.8 811.5 285.6 811.7 285.2 812.0 283.5 812.2 285.2 812.4 284.9 812.7 282.2 812.9 283.8 813.1 283.0 813.3 283.2 813.6 284.7 813.8 283.3 814.0 284.3 814.3 282.4 814.5 281.0 814.7 282.5 815.0 281.7 815.2 282.6 815.4 282.6 815.6 282.9 815.9 281.5 816.1 283.2 816.3 284.0 816.6 283.8 816.8 281.4 817.0 282.2 817.3 281.0 817.5 282.3 817.7 280.1 817.9 282.7 818.2 281.1 818.4 281.4 818.6 282.9 818.9 282.3 819.1 281.6 819.3 283.6 819.6 280.8 819.8 281.6 820.0 281.2 820.2 281.3 820.5 282.1 820.7 279.0 820.9 280.1 821.2 281.4 821.4 280.3 821.6 281.5 821.9 280.7 822.1 280.6 822.3 278.7 822.5 282.4 822.8 281.3 823.0 280.8 823.2 278.8 823.5 277.8 823.7 278.6 823.9 279.1 824.2 280.5 824.4 280.2 824.6 280.9 824.8 279.3 825.1 278.7 825.3 279.2 825.5 279.0 825.8 279.4 826.0 280.0 826.2 279.6 826.5 280.3 826.7 279.2 826.9 281.4 827.1 281.0 827.4 280.5 827.6 280.5 827.8 279.2 828.1 280.7 828.3 282.0 828.5 282.8 828.8 279.3 829.0 280.4 829.2 279.8 829.4 280.2 829.7 283.7 829.9 281.8 830.1 279.3 830.4 280.6 830.6 279.9 830.8 279.8 831.1 280.1 831.3 283.0 831.5 281.2 831.7 280.8 832.0 279.3 832.2 282.4 832.4 283.3 832.7 282.2 832.9 282.2 833.1 280.9 833.4 281.1 833.6 280.0 833.8 280.4 834.0 282.8 834.3 281.7 834.5 282.4 834.7 281.2 835.0 279.1 835.2 279.9 835.4 281.7 835.7 281.3 835.9 281.2 836.1 278.7 836.3 283.3 836.6 278.4 836.8 280.4 837.0 278.4 837.3 278.2 837.5 281.4 837.7 279.8 838.0 281.1 838.2 279.6 838.4 279.0 838.6 281.8 838.9 279.9 839.1 278.9 839.3 277.2 839.6 278.1 839.8 277.5 840.0 280.0 840.3 278.8 840.5 279.7 840.7 280.5 840.9 278.5 841.2 278.2 841.4 279.0 841.6 280.6 841.9 278.3 842.1 279.1 842.3 278.8 842.6 280.0 842.8 277.8 843.0 279.6 843.2 279.3 843.5 278.0 843.7 278.2 843.9 278.5 844.2 277.0 844.4 278.4 844.6 278.3 844.9 278.9 845.1 280.4 845.3 279.7 845.5 279.6 845.8 279.4 846.0 279.0 846.2 282.1 846.5 278.3 846.7 278.9 846.9 278.6 847.2 280.0 847.4 281.3 847.6 278.7 847.8 280.5 848.1 280.1 848.3 280.7 848.5 279.9 848.8 281.8 849.0 280.4 849.2 281.0 849.5 281.3 849.7 281.8 849.9 282.4 850.1 283.5 850.4 281.6 850.6 282.2 850.8 284.1 851.1 282.6 851.3 282.7 851.5 282.3 851.8 284.5 852.0 282.8 852.2 282.5 852.4 282.7 852.7 284.0 852.9 283.6 853.1 282.5 853.4 283.7 853.6 283.2 853.8 284.2 854.1 284.1 854.3 283.8 854.5 284.9 854.7 284.1 855.0 283.7 855.2 284.1 855.4 285.2 855.7 283.5 855.9 284.7 856.1 283.4 856.4 286.7 856.6 283.5 856.8 284.4 857.0 284.3 857.3 283.5 857.5 283.7 857.7 282.6 858.0 286.0 858.2 285.3 858.4 285.2 858.7 285.2 858.9 286.7 859.1 282.6 859.3 283.8 859.6 285.0 859.8 285.0 860.0 284.2 860.3 284.2 860.5 283.6 860.7 283.8 861.0 285.6 861.2 284.9 861.4 282.8 861.6 285.2 861.9 285.1 862.1 284.6 862.3 283.6 862.6 284.6 862.8 284.7 863.0 285.9 863.3 284.0 863.5 282.0 863.7 284.9 863.9 286.6 864.2 284.7 864.4 285.0 864.6 285.2 864.9 283.2 865.1 284.8 865.3 284.1 865.6 285.5 865.8 285.8 866.0 285.2 866.2 284.8 866.5 285.0 866.7 285.6 866.9 285.2 867.2 286.4 867.4 285.2 867.6 286.7 867.9 285.6 868.1 286.4 868.3 285.0 868.5 286.0 868.8 284.2 869.0 285.5 869.2 284.6 869.5 285.8 869.7 287.2 869.9 285.8 870.2 285.2 870.4 286.1 870.6 284.4 870.8 288.3" fill="none" stroke="#2aa466" stroke-width="1.15" stroke-linejoin="round"/>
<path d="M75.5 196.6 75.7 196.5 76.0 195.1 76.2 195.7 76.4 195.6 76.7 195.6 76.9 197.8 77.1 195.0 77.3 194.9 77.6 194.6 77.8 196.2 78.0 194.5 78.3 194.8 78.5 195.7 78.7 195.5 79.0 193.5 79.2 196.5 79.4 194.7 79.6 195.4 79.9 194.6 80.1 196.0 80.3 193.7 80.6 193.3 80.8 194.3 81.0 195.4 81.3 193.8 81.5 194.7 81.7 195.4 81.9 192.1 82.2 195.1 82.4 194.8 82.6 193.0 82.9 193.4 83.1 192.9 83.3 194.3 83.6 192.7 83.8 194.0 84.0 194.8 84.2 191.3 84.5 193.7 84.7 193.1 84.9 192.6 85.2 193.5 85.4 192.9 85.6 191.3 85.9 192.3 86.1 192.8 86.3 192.0 86.5 191.4 86.8 195.2 87.0 194.1 87.2 193.9 87.5 192.8 87.7 190.6 87.9 192.5 88.2 193.4 88.4 192.4 88.6 192.3 88.8 193.4 89.1 195.4 89.3 193.5 89.5 193.3 89.8 192.5 90.0 195.0 90.2 193.8 90.5 193.4 90.7 193.2 90.9 193.0 91.1 194.0 91.4 196.0 91.6 193.9 91.8 194.5 92.1 193.1 92.3 194.4 92.5 192.5 92.8 195.8 93.0 193.6 93.2 194.8 93.4 194.5 93.7 196.0 93.9 195.1 94.1 195.2 94.4 192.8 94.6 193.4 94.8 193.4 95.1 193.6 95.3 193.7 95.5 195.7 95.7 194.7 96.0 194.8 96.2 193.8 96.4 193.8 96.7 193.3 96.9 195.9 97.1 194.8 97.4 195.5 97.6 194.9 97.8 193.6 98.0 194.5 98.3 192.1 98.5 195.3 98.7 194.5 99.0 194.7 99.2 194.5 99.4 195.0 99.7 194.0 99.9 194.3 100.1 193.5 100.3 193.9 100.6 194.5 100.8 195.1 101.0 193.7 101.3 192.5 101.5 192.0 101.7 193.7 102.0 193.2 102.2 194.6 102.4 195.7 102.6 193.0 102.9 195.3 103.1 195.2 103.3 192.7 103.6 193.2 103.8 194.5 104.0 192.8 104.3 192.5 104.5 194.5 104.7 192.9 104.9 192.8 105.2 194.3 105.4 193.6 105.6 193.8 105.9 195.1 106.1 194.9 106.3 191.5 106.6 194.4 106.8 193.4 107.0 193.7 107.2 194.3 107.5 195.3 107.7 194.2 107.9 193.2 108.2 193.8 108.4 191.6 108.6 193.9 108.9 193.6 109.1 192.0 109.3 191.8 109.5 191.8 109.8 192.4 110.0 193.9 110.2 193.1 110.5 192.5 110.7 193.0 110.9 194.6 111.2 192.9 111.4 192.4 111.6 195.7 111.8 192.3 112.1 193.8 112.3 194.2 112.5 193.4 112.8 193.0 113.0 194.6 113.2 193.4 113.5 194.0 113.7 193.2 113.9 195.1 114.1 192.3 114.4 191.9 114.6 192.3 114.8 193.1 115.1 193.0 115.3 193.4 115.5 192.5 115.8 193.8 116.0 191.7 116.2 191.9 116.4 193.0 116.7 192.5 116.9 192.4 117.1 192.6 117.4 192.5 117.6 193.5 117.8 194.0 118.1 194.6 118.3 193.4 118.5 192.5 118.7 192.0 119.0 192.0 119.2 191.4 119.4 193.8 119.7 195.0 119.9 193.0 120.1 193.3 120.4 190.6 120.6 192.9 120.8 192.3 121.0 193.0 121.3 192.1 121.5 192.1 121.7 192.0 122.0 192.2 122.2 195.1 122.4 193.6 122.7 191.2 122.9 192.5 123.1 192.4 123.3 195.0 123.6 190.8 123.8 193.4 124.0 193.6 124.3 195.0 124.5 194.5 124.7 192.4 125.0 190.8 125.2 191.5 125.4 191.8 125.6 192.3 125.9 191.7 126.1 191.0 126.3 193.2 126.6 192.6 126.8 192.0 127.0 191.8 127.3 191.6 127.5 191.2 127.7 195.2 127.9 191.9 128.2 191.6 128.4 194.0 128.6 191.8 128.9 192.6 129.1 191.0 129.3 191.7 129.6 190.0 129.8 192.3 130.0 193.8 130.2 191.5 130.5 191.3 130.7 191.9 130.9 191.6 131.2 188.9 131.4 188.8 131.6 188.9 131.9 190.5 132.1 187.3 132.3 187.7 132.5 187.8 132.8 187.8 133.0 186.8 133.2 184.7 133.5 185.2 133.7 181.4 133.9 183.5 134.2 179.7 134.4 178.9 134.6 175.0 134.8 175.7 135.1 172.2 135.3 170.5 135.5 172.0 135.8 169.9 136.0 168.0 136.2 166.4 136.5 169.6 136.7 168.2 136.9 168.2 137.1 167.4 137.4 166.4 137.6 162.9 137.8 161.2 138.1 162.0 138.3 159.7 138.5 160.4 138.8 160.3 139.0 161.2 139.2 162.8 139.4 163.3 139.7 165.8 139.9 166.8 140.1 168.3 140.4 171.1 140.6 168.4 140.8 170.6 141.1 172.7 141.3 170.1 141.5 170.9 141.7 172.0 142.0 172.5 142.2 172.8 142.4 177.1 142.7 179.4 142.9 179.1 143.1 178.5 143.4 179.5 143.6 181.7 143.8 181.3 144.0 183.2 144.3 183.7 144.5 186.7 144.7 187.3 145.0 187.7 145.2 186.3 145.4 187.3 145.7 189.2 145.9 190.7 146.1 187.8 146.3 192.2 146.6 188.3 146.8 188.5 147.0 189.7 147.3 188.5 147.5 189.6 147.7 189.9 148.0 189.3 148.2 189.7 148.4 191.0 148.6 192.0 148.9 193.5 149.1 191.0 149.3 189.0 149.6 190.4 149.8 188.8 150.0 191.1 150.3 190.0 150.5 191.3 150.7 190.5 150.9 190.8 151.2 190.3 151.4 192.8 151.6 188.3 151.9 192.2 152.1 192.2 152.3 191.5 152.6 191.0 152.8 191.2 153.0 190.0 153.2 189.1 153.5 191.6 153.7 191.5 153.9 191.7 154.2 190.3 154.4 191.8 154.6 191.2 154.9 192.9 155.1 190.4 155.3 187.5 155.5 188.9 155.8 190.8 156.0 188.3 156.2 191.1 156.5 189.2 156.7 190.3 156.9 190.5 157.2 188.9 157.4 190.5 157.6 191.5 157.8 189.2 158.1 189.5 158.3 189.1 158.5 190.7 158.8 191.1 159.0 188.8 159.2 189.1 159.5 190.7 159.7 189.6 159.9 191.8 160.1 189.4 160.4 188.5 160.6 187.7 160.8 188.4 161.1 186.9 161.3 189.6 161.5 191.5 161.8 186.9 162.0 187.1 162.2 187.4 162.4 188.7 162.7 187.6 162.9 190.0 163.1 190.3 163.4 187.8 163.6 188.4 163.8 187.7 164.1 189.6 164.3 191.2 164.5 187.2 164.7 187.9 165.0 186.9 165.2 189.1 165.4 189.1 165.7 187.2 165.9 188.0 166.1 191.5 166.4 191.2 166.6 186.9 166.8 188.2 167.0 187.6 167.3 188.7 167.5 186.4 167.7 188.8 168.0 189.4 168.2 189.7 168.4 185.6 168.7 190.5 168.9 186.3 169.1 185.5 169.3 189.3 169.6 188.8 169.8 187.4 170.0 188.7 170.3 188.4 170.5 187.8 170.7 185.6 171.0 186.6 171.2 187.1 171.4 188.8 171.6 189.3 171.9 186.6 172.1 185.9 172.3 185.5 172.6 188.0 172.8 185.6 173.0 189.8 173.3 186.8 173.5 186.6 173.7 187.4 173.9 186.2 174.2 184.8 174.4 186.3 174.6 186.7 174.9 185.2 175.1 185.6 175.3 185.8 175.6 182.9 175.8 184.5 176.0 185.5 176.2 183.8 176.5 186.2 176.7 186.1 176.9 181.6 177.2 184.0 177.4 185.5 177.6 184.1 177.9 185.3 178.1 185.3 178.3 181.7 178.5 184.4 178.8 182.4 179.0 179.9 179.2 184.4 179.5 182.1 179.7 183.1 179.9 184.2 180.2 184.6 180.4 182.4 180.6 181.1 180.8 181.4 181.1 184.2 181.3 181.6 181.5 185.1 181.8 184.6 182.0 180.6 182.2 184.7 182.5 180.4 182.7 181.1 182.9 180.9 183.1 178.6 183.4 180.2 183.6 180.6 183.8 183.2 184.1 181.0 184.3 177.0 184.5 178.1 184.8 179.2 185.0 176.4 185.2 174.6 185.4 175.4 185.7 173.0 185.9 174.8 186.1 173.1 186.4 175.9 186.6 172.7 186.8 170.2 187.1 173.6 187.3 171.3 187.5 169.9 187.7 172.2 188.0 169.9 188.2 167.9 188.4 168.9 188.7 173.6 188.9 174.3 189.1 170.2 189.4 171.8 189.6 167.2 189.8 172.7 190.0 170.4 190.3 171.9 190.5 170.0 190.7 170.5 191.0 167.1 191.2 171.2 191.4 169.2 191.7 170.8 191.9 173.6 192.1 165.2 192.3 172.6 192.6 171.2 192.8 171.2 193.0 172.5 193.3 169.6 193.5 166.3 193.7 169.2 194.0 169.8 194.2 165.1 194.4 172.0 194.6 172.0 194.9 168.0 195.1 171.0 195.3 171.1 195.6 171.0 195.8 171.0 196.0 173.6 196.3 171.7 196.5 176.1 196.7 171.8 196.9 174.5 197.2 174.8 197.4 167.9 197.6 172.2 197.9 172.8 198.1 173.2 198.3 172.9 198.6 174.5 198.8 173.3 199.0 170.2 199.2 173.4 199.5 169.7 199.7 170.7 199.9 168.1 200.2 165.9 200.4 166.0 200.6 172.0 200.9 169.9 201.1 166.2 201.3 169.1 201.5 164.7 201.8 164.7 202.0 162.0 202.2 165.0 202.5 166.8 202.7 170.1 202.9 164.7 203.2 165.9 203.4 166.2 203.6 167.4 203.8 164.0 204.1 163.0 204.3 167.6 204.5 162.7 204.8 167.0 205.0 164.5 205.2 165.9 205.5 167.1 205.7 161.5 205.9 171.5 206.1 162.6 206.4 163.2 206.6 167.6 206.8 158.3 207.1 164.1 207.3 166.9 207.5 165.1 207.8 165.5 208.0 164.7 208.2 164.6 208.4 164.1 208.7 169.9 208.9 166.3 209.1 161.9 209.4 163.6 209.6 166.1 209.8 166.9 210.1 160.9 210.3 163.4 210.5 158.7 210.7 162.0 211.0 166.0 211.2 163.9 211.4 162.0 211.7 160.6 211.9 162.6 212.1 163.0 212.4 163.7 212.6 164.9 212.8 164.0 213.0 159.9 213.3 162.5 213.5 163.3 213.7 161.8 214.0 168.4 214.2 162.4 214.4 166.7 214.7 166.6 214.9 166.5 215.1 166.3 215.3 164.5 215.6 167.3 215.8 169.5 216.0 165.0 216.3 171.2 216.5 166.2 216.7 170.2 217.0 167.3 217.2 172.2 217.4 172.2 217.6 172.5 217.9 173.7 218.1 167.8 218.3 160.6 218.6 164.7 218.8 165.6 219.0 171.0 219.3 171.1 219.5 166.2 219.7 170.5 219.9 167.6 220.2 167.5 220.4 169.5 220.6 165.5 220.9 171.1 221.1 170.7 221.3 173.8 221.6 171.8 221.8 170.6 222.0 172.7 222.2 169.5 222.5 170.4 222.7 167.0 222.9 168.3 223.2 169.9 223.4 172.5 223.6 173.9 223.9 174.0 224.1 168.8 224.3 169.6 224.5 167.5 224.8 165.6 225.0 171.9 225.2 166.0 225.5 171.2 225.7 168.0 225.9 168.8 226.2 172.0 226.4 167.1 226.6 170.6 226.8 166.9 227.1 168.9 227.3 168.7 227.5 169.3 227.8 165.7 228.0 168.1 228.2 169.7 228.5 166.8 228.7 170.0 228.9 169.8 229.1 168.3 229.4 167.4 229.6 168.8 229.8 166.7 230.1 169.2 230.3 168.4 230.5 171.0 230.8 167.9 231.0 165.9 231.2 168.7 231.4 167.2 231.7 170.9 231.9 166.0 232.1 166.8 232.4 167.8 232.6 167.9 232.8 169.1 233.1 174.9 233.3 168.8 233.5 172.6 233.7 168.2 234.0 168.4 234.2 169.8 234.4 173.9 234.7 171.0 234.9 171.5 235.1 169.4 235.4 170.6 235.6 176.6 235.8 168.5 236.0 166.5 236.3 171.1 236.5 169.2 236.7 168.6 237.0 166.9 237.2 173.0 237.4 172.1 237.7 171.6 237.9 174.5 238.1 175.2 238.3 173.2 238.6 175.1 238.8 169.8 239.0 174.2 239.3 171.1 239.5 173.4 239.7 177.3 240.0 173.8 240.2 178.6 240.4 177.2 240.6 176.4 240.9 171.8 241.1 174.9 241.3 176.0 241.6 177.2 241.8 175.0 242.0 171.4 242.3 176.8 242.5 170.8 242.7 172.4 242.9 169.2 243.2 173.7 243.4 175.3 243.6 175.2 243.9 170.1 244.1 173.2 244.3 172.1 244.6 171.9 244.8 171.8 245.0 170.3 245.2 171.4 245.5 167.3 245.7 168.8 245.9 168.4 246.2 166.8 246.4 168.6 246.6 168.5 246.9 168.0 247.1 170.5 247.3 170.1 247.5 172.5 247.8 170.6 248.0 174.9 248.2 173.2 248.5 173.4 248.7 175.3 248.9 178.0 249.2 173.4 249.4 174.1 249.6 173.8 249.8 174.7 250.1 170.1 250.3 177.8 250.5 178.2 250.8 177.4 251.0 174.0 251.2 170.0 251.5 170.9 251.7 172.8 251.9 171.1 252.1 168.8 252.4 169.7 252.6 167.6 252.8 167.1 253.1 167.4 253.3 165.6 253.5 164.5 253.8 164.4 254.0 164.7 254.2 166.2 254.4 167.8 254.7 169.2 254.9 169.7 255.1 171.1 255.4 176.2 255.6 174.7 255.8 174.6 256.1 178.3 256.3 175.5 256.5 181.1 256.7 182.2 257.0 180.9 257.2 174.3 257.4 180.9 257.7 182.1 257.9 181.7 258.1 186.1 258.4 180.1 258.6 180.8 258.8 184.0 259.0 182.3 259.3 184.5 259.5 182.7 259.7 181.7 260.0 181.0 260.2 182.9 260.4 182.6 260.7 185.3 260.9 184.6 261.1 180.7 261.3 186.2 261.6 183.8 261.8 182.4 262.0 188.8 262.3 184.9 262.5 185.6 262.7 186.6 263.0 182.9 263.2 185.0 263.4 184.8 263.6 182.9 263.9 184.2 264.1 184.6 264.3 183.3 264.6 178.6 264.8 181.3 265.0 182.2 265.3 184.1 265.5 181.1 265.7 178.8 265.9 174.1 266.2 175.7 266.4 177.3 266.6 171.0 266.9 168.4 267.1 167.7 267.3 166.9 267.6 163.1 267.8 162.4 268.0 158.3 268.2 158.3 268.5 158.2 268.7 156.5 268.9 154.5 269.2 159.0 269.4 154.0 269.6 153.1 269.9 148.4 270.1 147.2 270.3 144.5 270.5 143.8 270.8 142.1 271.0 141.9 271.2 143.4 271.5 144.7 271.7 146.7 271.9 145.9 272.2 145.1 272.4 150.6 272.6 151.9 272.8 152.9 273.1 157.5 273.3 153.7 273.5 154.9 273.8 153.8 274.0 150.5 274.2 151.1 274.5 151.2 274.7 151.4 274.9 155.2 275.1 150.6 275.4 147.8 275.6 142.3 275.8 148.3 276.1 143.9 276.3 138.9 276.5 142.2 276.8 139.6 277.0 136.7 277.2 132.9 277.4 128.4 277.7 125.2 277.9 122.8 278.1 123.2 278.4 125.7 278.6 128.9 278.8 131.2 279.1 134.9 279.3 135.7 279.5 135.5 279.7 139.1 280.0 139.6 280.2 142.8 280.4 144.1 280.7 146.4 280.9 148.5 281.1 154.0 281.4 157.1 281.6 159.7 281.8 162.7 282.0 162.7 282.3 167.2 282.5 170.7 282.7 172.3 283.0 177.8 283.2 171.9 283.4 177.0 283.7 176.5 283.9 177.8 284.1 178.6 284.3 179.0 284.6 180.3 284.8 180.7 285.0 179.4 285.3 183.5 285.5 184.2 285.7 182.1 286.0 185.5 286.2 185.5 286.4 186.3 286.6 185.7 286.9 184.4 287.1 186.5 287.3 183.1 287.6 188.4 287.8 184.7 288.0 184.9 288.3 187.3 288.5 186.2 288.7 187.6 288.9 189.5 289.2 187.6 289.4 186.4 289.6 185.0 289.9 186.6 290.1 185.1 290.3 187.2 290.6 182.4 290.8 185.8 291.0 186.2 291.2 185.6 291.5 188.3 291.7 188.6 291.9 184.2 292.2 189.5 292.4 186.9 292.6 188.0 292.9 188.5 293.1 187.1 293.3 187.8 293.5 188.6 293.8 186.6 294.0 187.9 294.2 189.0 294.5 187.3 294.7 187.1 294.9 186.7 295.2 186.5 295.4 186.9 295.6 185.1 295.8 187.1 296.1 186.1 296.3 187.7 296.5 189.8 296.8 188.5 297.0 186.3 297.2 187.8 297.5 187.0 297.7 185.7 297.9 187.8 298.1 188.7 298.4 187.9 298.6 186.9 298.8 185.2 299.1 186.3 299.3 187.7 299.5 187.0 299.8 187.0 300.0 184.1 300.2 179.8 300.4 184.7 300.7 183.5 300.9 183.9 301.1 183.0 301.4 181.2 301.6 178.2 301.8 175.7 302.1 176.1 302.3 174.9 302.5 173.2 302.7 173.9 303.0 175.8 303.2 172.8 303.4 173.6 303.7 174.0 303.9 170.8 304.1 171.0 304.4 169.7 304.6 167.8 304.8 168.7 305.0 167.4 305.3 166.1 305.5 164.7 305.7 163.9 306.0 165.6 306.2 164.2 306.4 166.6 306.7 167.1 306.9 167.1 307.1 170.0 307.3 171.2 307.6 169.5 307.8 169.7 308.0 170.8 308.3 170.5 308.5 174.3 308.7 170.2 309.0 171.2 309.2 173.9 309.4 173.0 309.6 173.7 309.9 174.6 310.1 175.8 310.3 178.6 310.6 175.7 310.8 179.6 311.0 177.3 311.3 177.8 311.5 181.7 311.7 181.8 311.9 183.1 312.2 183.9 312.4 182.2 312.6 182.3 312.9 184.9 313.1 183.7 313.3 185.7 313.6 189.4 313.8 185.1 314.0 185.8 314.2 188.8 314.5 189.0 314.7 187.1 314.9 187.7 315.2 186.6 315.4 186.3 315.6 187.3 315.9 188.2 316.1 184.7 316.3 184.3 316.5 187.2 316.8 185.8 317.0 187.8 317.2 186.7 317.5 185.9 317.7 186.4 317.9 190.7 318.2 185.9 318.4 184.8 318.6 183.5 318.8 185.8 319.1 186.3 319.3 184.3 319.5 183.7 319.8 182.9 320.0 182.6 320.2 181.7 320.5 181.8 320.7 181.8 320.9 182.0 321.1 183.8 321.4 182.9 321.6 184.0 321.8 184.2 322.1 185.6 322.3 186.6 322.5 189.4 322.8 187.1 323.0 187.5 323.2 188.3 323.4 187.1 323.7 188.4 323.9 186.0 324.1 189.8 324.4 189.9 324.6 190.1 324.8 191.4 325.1 190.2 325.3 191.0 325.5 190.4 325.7 189.7 326.0 190.1 326.2 190.6 326.4 190.6 326.7 187.9 326.9 188.3 327.1 188.9 327.4 188.2 327.6 189.1 327.8 188.9 328.0 188.6 328.3 190.1 328.5 191.9 328.7 192.2 329.0 192.6 329.2 192.4 329.4 187.2 329.7 193.1 329.9 191.1 330.1 188.8 330.3 189.7 330.6 190.3 330.8 189.7 331.0 192.2 331.3 190.3 331.5 193.2 331.7 192.7 332.0 187.9 332.2 189.5 332.4 191.3 332.6 190.6 332.9 189.8 333.1 189.7 333.3 189.1 333.6 188.7 333.8 190.3 334.0 189.4 334.3 188.1 334.5 186.6 334.7 189.4 334.9 188.6 335.2 185.2 335.4 188.8 335.6 186.8 335.9 188.6 336.1 188.0 336.3 189.7 336.6 186.4 336.8 190.2 337.0 188.0 337.2 190.6 337.5 188.2 337.7 187.4 337.9 185.8 338.2 189.3 338.4 188.5 338.6 186.5 338.9 185.4 339.1 185.0 339.3 184.9 339.5 185.2 339.8 183.4 340.0 183.6 340.2 184.6 340.5 183.2 340.7 182.7 340.9 184.8 341.2 185.1 341.4 183.3 341.6 182.9 341.8 182.5 342.1 181.8 342.3 181.8 342.5 182.0 342.8 180.0 343.0 179.3 343.2 179.8 343.5 179.6 343.7 180.8 343.9 180.8 344.1 179.8 344.4 178.4 344.6 178.1 344.8 177.4 345.1 178.9 345.3 180.0 345.5 179.2 345.8 179.9 346.0 180.9 346.2 181.2 346.4 182.5 346.7 181.6 346.9 182.2 347.1 182.8 347.4 185.4 347.6 184.0 347.8 185.9 348.1 184.6 348.3 186.7 348.5 185.9 348.7 184.8 349.0 184.6 349.2 188.5 349.4 186.5 349.7 187.8 349.9 186.1 350.1 188.4 350.4 187.2 350.6 190.6 350.8 187.6 351.0 189.5 351.3 192.0 351.5 190.7 351.7 190.0 352.0 187.6 352.2 191.0 352.4 191.5 352.7 189.0 352.9 189.6 353.1 189.1 353.3 188.7 353.6 190.0 353.8 190.6 354.0 190.6 354.3 191.7 354.5 191.1 354.7 190.8 355.0 192.3 355.2 189.7 355.4 190.9 355.6 191.6 355.9 192.2 356.1 189.9 356.3 192.9 356.6 189.9 356.8 190.8 357.0 193.3 357.3 189.4 357.5 191.5 357.7 193.7 357.9 193.0 358.2 192.1 358.4 191.7 358.6 192.5 358.9 189.9 359.1 193.8 359.3 191.4 359.6 191.1 359.8 193.3 360.0 192.9 360.2 192.4 360.5 192.6 360.7 192.1 360.9 190.3 361.2 189.7 361.4 193.2 361.6 192.9 361.9 192.1 362.1 194.1 362.3 191.5 362.5 191.4 362.8 193.1 363.0 191.1 363.2 191.1 363.5 192.1 363.7 191.4 363.9 192.5 364.2 193.2 364.4 191.0 364.6 191.9 364.8 192.5 365.1 190.9 365.3 191.4 365.5 192.4 365.8 189.8 366.0 191.3 366.2 193.4 366.5 189.9 366.7 188.2 366.9 188.8 367.1 189.1 367.4 190.6 367.6 189.8 367.8 188.7 368.1 186.8 368.3 188.4 368.5 190.3 368.8 187.0 369.0 188.6 369.2 189.0 369.4 189.6 369.7 189.7 369.9 190.2 370.1 190.8 370.4 190.2 370.6 190.4 370.8 189.6 371.1 189.8 371.3 189.1 371.5 191.6 371.7 187.2 372.0 191.8 372.2 188.7 372.4 191.4 372.7 190.5 372.9 194.9 373.1 192.0 373.4 191.2 373.6 193.6 373.8 193.1 374.0 191.2 374.3 192.1 374.5 194.0 374.7 189.3 375.0 190.4 375.2 191.9 375.4 194.1 375.7 190.4 375.9 191.7 376.1 191.5 376.3 193.3 376.6 192.6 376.8 192.0 377.0 190.8 377.3 189.7 377.5 192.8 377.7 194.1 378.0 191.6 378.2 190.9 378.4 193.5 378.6 190.0 378.9 189.2 379.1 192.8 379.3 192.7 379.6 193.5 379.8 191.2 380.0 192.0 380.3 191.6 380.5 192.7 380.7 192.0 380.9 192.1 381.2 192.2 381.4 192.0 381.6 190.9 381.9 192.7 382.1 192.5 382.3 192.4 382.6 190.9 382.8 191.6 383.0 191.9 383.2 189.1 383.5 192.6 383.7 190.9 383.9 189.7 384.2 193.1 384.4 190.4 384.6 191.6 384.9 191.2 385.1 189.6 385.3 190.7 385.5 194.3 385.8 193.7 386.0 190.6 386.2 192.6 386.5 191.3 386.7 192.9 386.9 189.9 387.2 190.3 387.4 191.8 387.6 191.4 387.8 192.7 388.1 192.8 388.3 192.2 388.5 191.2 388.8 192.0 389.0 191.2 389.2 189.7 389.5 192.9 389.7 189.7 389.9 190.2 390.1 192.0 390.4 192.8 390.6 192.0 390.8 190.6 391.1 194.2 391.3 190.2 391.5 193.6 391.8 190.2 392.0 191.9 392.2 192.3 392.4 192.0 392.7 191.2 392.9 192.2 393.1 192.0 393.4 190.3 393.6 193.4 393.8 191.7 394.1 191.9 394.3 190.4 394.5 192.2 394.7 193.2 395.0 192.2 395.2 191.8 395.4 192.3 395.7 191.1 395.9 192.2 396.1 190.7 396.4 192.8 396.6 192.7 396.8 192.3 397.0 192.4 397.3 192.0 397.5 190.3 397.7 190.4 398.0 191.5 398.2 190.1 398.4 189.9 398.7 189.5 398.9 191.1 399.1 190.5 399.3 190.9 399.6 191.8 399.8 190.2 400.0 189.0 400.3 189.8 400.5 190.2 400.7 190.7 401.0 188.9 401.2 189.6 401.4 187.5 401.6 187.5 401.9 186.7 402.1 188.7 402.3 186.5 402.6 187.5 402.8 187.4 403.0 184.6 403.3 182.9 403.5 184.9 403.7 183.1 403.9 182.5 404.2 180.3 404.4 180.6 404.6 178.3 404.9 174.7 405.1 175.9 405.3 174.3 405.6 171.2 405.8 170.5 406.0 170.8 406.2 166.6 406.5 169.0 406.7 166.2 406.9 168.7 407.2 168.0 407.4 164.0 407.6 163.2 407.9 162.6 408.1 161.5 408.3 159.3 408.5 158.5 408.8 155.9 409.0 153.3 409.2 152.3 409.5 150.9 409.7 151.1 409.9 152.4 410.2 153.1 410.4 155.4 410.6 156.8 410.8 158.5 411.1 160.8 411.3 161.9 411.5 159.6 411.8 163.9 412.0 164.2 412.2 162.1 412.5 165.5 412.7 165.0 412.9 167.8 413.1 165.8 413.4 171.7 413.6 168.9 413.8 170.4 414.1 174.8 414.3 177.5 414.5 177.3 414.8 180.2 415.0 182.3 415.2 182.4 415.4 185.6 415.7 186.7 415.9 185.8 416.1 186.3 416.4 187.0 416.6 187.8 416.8 190.3 417.1 190.8 417.3 186.1 417.5 191.3 417.7 185.5 418.0 186.4 418.2 187.0 418.4 190.7 418.7 187.5 418.9 189.8 419.1 189.4 419.4 188.6 419.6 189.7 419.8 188.5 420.0 189.8 420.3 189.2 420.5 193.9 420.7 188.0 421.0 190.5 421.2 189.3 421.4 192.3 421.7 191.7 421.9 190.4 422.1 191.7 422.3 189.2 422.6 190.1 422.8 192.2 423.0 189.4 423.3 192.0 423.5 192.2 423.7 192.0 424.0 191.5 424.2 191.5 424.4 189.6 424.6 191.5 424.9 188.8 425.1 189.7 425.3 191.6 425.6 192.3 425.8 190.0 426.0 192.6 426.3 191.2 426.5 190.1 426.7 192.1 426.9 192.3 427.2 191.4 427.4 191.9 427.6 194.5 427.9 191.1 428.1 190.6 428.3 191.6 428.6 192.6 428.8 192.1 429.0 193.4 429.2 192.7 429.5 192.8 429.7 191.4 429.9 194.1 430.2 190.9 430.4 194.4 430.6 191.1 430.9 191.5 431.1 192.4 431.3 194.9 431.5 192.0 431.8 194.3 432.0 192.9 432.2 191.8 432.5 194.1 432.7 192.8 432.9 192.3 433.2 194.0 433.4 193.1 433.6 192.9 433.8 192.4 434.1 195.0 434.3 190.4 434.5 191.3 434.8 190.8 435.0 190.7 435.2 189.2 435.5 190.6 435.7 191.0 435.9 190.4 436.1 189.4 436.4 188.7 436.6 190.2 436.8 188.9 437.1 190.0 437.3 189.5 437.5 191.2 437.8 188.8 438.0 190.0 438.2 188.5 438.4 189.4 438.7 189.1 438.9 189.2 439.1 186.5 439.4 187.7 439.6 186.1 439.8 187.7 440.1 186.2 440.3 186.1 440.5 184.3 440.7 185.3 441.0 185.4 441.2 184.2 441.4 183.9 441.7 183.7 441.9 182.6 442.1 182.5 442.4 180.6 442.6 180.9 442.8 180.9 443.0 182.3 443.3 183.6 443.5 184.3 443.7 184.6 444.0 184.0 444.2 185.0 444.4 183.1 444.7 184.9 444.9 186.5 445.1 186.1 445.3 187.1 445.6 188.7 445.8 187.2 446.0 187.5 446.3 187.2 446.5 191.2 446.7 188.7 447.0 188.9 447.2 190.6 447.4 190.2 447.6 189.0 447.9 188.7 448.1 190.4 448.3 190.9 448.6 191.8 448.8 190.9 449.0 189.4 449.3 188.6 449.5 189.8 449.7 191.4 449.9 191.3 450.2 190.8 450.4 190.6 450.6 191.4 450.9 192.7 451.1 192.2 451.3 190.1 451.6 191.4 451.8 193.6 452.0 191.5 452.2 193.3 452.5 191.8 452.7 190.9 452.9 194.4 453.2 192.4 453.4 193.7 453.6 191.9 453.9 192.5 454.1 194.4 454.3 193.0 454.5 192.1 454.8 192.3 455.0 190.3 455.2 192.6 455.5 193.4 455.7 194.5 455.9 190.1 456.2 190.4 456.4 190.4 456.6 190.2 456.8 189.0 457.1 189.9 457.3 191.0 457.5 189.1 457.8 192.1 458.0 187.0 458.2 188.4 458.5 189.5 458.7 188.9 458.9 188.0 459.1 190.9 459.4 190.8 459.6 189.6 459.8 188.5 460.1 186.6 460.3 185.6 460.5 188.2 460.8 188.3 461.0 187.6 461.2 186.5 461.4 185.9 461.7 185.5 461.9 187.1 462.1 182.6 462.4 183.4 462.6 184.0 462.8 183.9 463.1 183.1 463.3 183.7 463.5 182.9 463.7 182.0 464.0 181.1 464.2 180.0 464.4 180.4 464.7 180.3 464.9 179.1 465.1 176.4 465.4 176.8 465.6 176.3 465.8 177.4 466.0 177.9 466.3 181.9 466.5 180.9 466.7 182.5 467.0 186.5 467.2 187.9 467.4 186.0 467.7 184.7 467.9 189.0 468.1 188.5 468.3 188.3 468.6 188.5 468.8 187.3 469.0 189.1 469.3 188.1 469.5 190.0 469.7 188.8 470.0 191.1 470.2 190.1 470.4 190.3 470.6 189.3 470.9 191.1 471.1 190.2 471.3 189.3 471.6 187.9 471.8 190.4 472.0 190.0 472.3 192.2 472.5 191.6 472.7 190.3 472.9 188.3 473.2 191.7 473.4 193.5 473.6 191.5 473.9 190.8 474.1 191.9 474.3 190.4 474.6 192.3 474.8 189.8 475.0 189.1 475.2 190.5 475.5 192.7 475.7 190.9 475.9 189.7 476.2 192.5 476.4 191.7 476.6 193.1 476.9 195.3 477.1 193.5 477.3 193.5 477.5 192.5 477.8 190.5 478.0 190.9 478.2 190.5 478.5 192.2 478.7 191.3 478.9 191.1 479.2 191.5 479.4 190.3 479.6 191.8 479.8 189.3 480.1 193.9 480.3 191.8 480.5 191.2 480.8 191.1 481.0 191.1 481.2 191.1 481.5 189.3 481.7 189.9 481.9 190.7 482.1 190.0 482.4 190.3 482.6 190.0 482.8 191.8 483.1 191.1 483.3 189.7 483.5 188.7 483.8 190.7 484.0 192.5 484.2 189.7 484.4 191.3 484.7 191.4 484.9 192.7 485.1 192.1 485.4 192.5 485.6 191.6 485.8 191.2 486.1 191.8 486.3 192.0 486.5 191.7 486.7 192.5 487.0 191.3 487.2 194.3 487.4 192.3 487.7 191.6 487.9 193.1 488.1 191.5 488.4 191.7 488.6 192.5 488.8 192.8 489.0 193.0 489.3 192.2 489.5 195.5 489.7 190.2 490.0 191.6 490.2 193.2 490.4 191.0 490.7 190.2 490.9 188.8 491.1 191.2 491.3 188.5 491.6 189.0 491.8 188.7 492.0 186.2 492.3 187.7 492.5 187.2 492.7 187.3 493.0 184.2 493.2 185.6 493.4 184.4 493.6 183.9 493.9 187.7 494.1 185.4 494.3 184.5 494.6 183.5 494.8 182.4 495.0 183.7 495.3 181.9 495.5 183.0 495.7 184.7 495.9 183.2 496.2 184.7 496.4 181.1 496.6 182.3 496.9 184.5 497.1 180.3 497.3 181.2 497.6 183.2 497.8 180.7 498.0 180.3 498.2 180.7 498.5 179.5 498.7 181.4 498.9 178.7 499.2 184.3 499.4 182.4 499.6 180.1 499.9 182.8 500.1 182.5 500.3 183.1 500.5 186.4 500.8 183.5 501.0 183.1 501.2 184.1 501.5 182.3 501.7 182.8 501.9 185.5 502.2 188.2 502.4 185.1 502.6 187.5 502.8 190.0 503.1 186.3 503.3 185.5 503.5 188.5 503.8 185.3 504.0 186.5 504.2 186.5 504.5 187.2 504.7 189.0 504.9 183.8 505.1 185.8 505.4 188.4 505.6 187.0 505.8 188.2 506.1 182.8 506.3 186.0 506.5 184.4 506.8 182.4 507.0 182.6 507.2 179.6 507.4 179.0 507.7 178.6 507.9 175.1 508.1 177.2 508.4 173.8 508.6 178.8 508.8 175.7 509.1 180.7 509.3 174.1 509.5 169.3 509.7 173.0 510.0 169.5 510.2 171.8 510.4 172.6 510.7 164.9 510.9 168.5 511.1 165.9 511.4 166.0 511.6 167.4 511.8 165.6 512.0 164.4 512.3 162.5 512.5 162.3 512.7 162.2 513.0 162.0 513.2 160.7 513.4 158.3 513.7 157.1 513.9 157.2 514.1 158.2 514.3 158.7 514.6 159.8 514.8 162.2 515.0 163.1 515.3 165.2 515.5 168.1 515.7 164.9 516.0 167.8 516.2 169.1 516.4 169.7 516.6 170.0 516.9 170.9 517.1 171.7 517.3 174.3 517.6 172.6 517.8 175.2 518.0 177.2 518.3 179.1 518.5 180.8 518.7 182.0 518.9 179.0 519.2 183.4 519.4 185.9 519.6 184.9 519.9 185.2 520.1 189.8 520.3 187.3 520.6 189.9 520.8 191.0 521.0 190.2 521.2 189.5 521.5 189.0 521.7 192.0 521.9 190.0 522.2 189.2 522.4 188.0 522.6 187.7 522.9 189.3 523.1 189.8 523.3 185.8 523.5 187.3 523.8 189.0 524.0 189.8 524.2 191.2 524.5 189.6 524.7 188.1 524.9 188.4 525.2 186.8 525.4 188.2 525.6 188.4 525.8 185.9 526.1 187.5 526.3 187.8 526.5 187.8 526.8 188.3 527.0 188.8 527.2 184.4 527.5 186.4 527.7 188.5 527.9 187.1 528.1 185.8 528.4 185.6 528.6 185.4 528.8 186.4 529.1 187.7 529.3 188.0 529.5 184.1 529.8 185.5 530.0 184.9 530.2 184.4 530.4 186.2 530.7 184.4 530.9 185.7 531.1 185.8 531.4 185.4 531.6 188.7 531.8 186.9 532.1 188.9 532.3 186.8 532.5 186.6 532.7 188.6 533.0 187.3 533.2 190.2 533.4 189.6 533.7 190.0 533.9 189.0 534.1 190.4 534.4 190.1 534.6 190.9 534.8 189.6 535.0 191.7 535.3 189.3 535.5 192.3 535.7 192.8 536.0 191.5 536.2 192.4 536.4 192.9 536.7 192.4 536.9 191.8 537.1 190.5 537.3 193.8 537.6 191.2 537.8 191.2 538.0 193.4 538.3 192.5 538.5 190.9 538.7 191.9 539.0 193.2 539.2 193.9 539.4 192.5 539.6 192.2 539.9 192.7 540.1 190.8 540.3 192.8 540.6 191.9 540.8 193.9 541.0 190.6 541.3 191.9 541.5 191.5 541.7 192.8 541.9 195.4 542.2 192.2 542.4 192.4 542.6 193.2 542.9 193.9 543.1 192.2 543.3 194.9 543.6 192.9 543.8 192.0 544.0 191.5 544.2 191.5 544.5 191.9 544.7 193.6 544.9 192.9 545.2 193.6 545.4 192.6 545.6 192.0 545.9 190.9 546.1 191.8 546.3 193.2 546.5 194.0 546.8 191.1 547.0 192.5 547.2 192.8 547.5 190.0 547.7 193.6 547.9 193.5 548.2 193.6 548.4 195.8 548.6 191.1 548.8 190.8 549.1 191.0 549.3 192.9 549.5 191.9 549.8 192.7 550.0 190.5 550.2 190.6 550.5 192.4 550.7 192.3 550.9 190.8 551.1 191.5 551.4 190.6 551.6 191.0 551.8 190.0 552.1 193.7 552.3 192.5 552.5 192.7 552.8 192.4 553.0 193.1 553.2 192.9 553.4 190.4 553.7 190.4 553.9 192.0 554.1 192.1 554.4 193.6 554.6 192.7 554.8 193.8 555.1 192.9 555.3 192.8 555.5 191.5 555.7 192.2 556.0 192.3 556.2 193.7 556.4 193.5 556.7 192.7 556.9 194.4 557.1 194.6 557.4 193.0 557.6 194.2 557.8 195.3 558.0 195.9 558.3 193.5 558.5 194.8 558.7 195.0 559.0 191.4 559.2 192.6 559.4 194.8 559.7 194.5 559.9 193.8 560.1 193.6 560.3 193.5 560.6 192.0 560.8 193.3 561.0 195.9 561.3 194.2 561.5 195.4 561.7 192.8 562.0 194.2 562.2 194.5 562.4 194.7 562.6 194.1 562.9 193.9 563.1 195.4 563.3 193.3 563.6 196.6 563.8 194.9 564.0 194.0 564.3 194.9 564.5 194.3 564.7 194.6 564.9 192.9 565.2 194.6 565.4 194.4 565.6 195.5 565.9 194.2 566.1 192.8 566.3 194.8 566.6 195.1 566.8 190.8 567.0 193.9 567.2 194.5 567.5 192.3 567.7 194.5 567.9 193.8 568.2 195.7 568.4 192.8 568.6 194.8 568.9 195.4 569.1 193.2 569.3 191.8 569.5 193.2 569.8 193.5 570.0 193.9 570.2 191.8 570.5 193.3 570.7 193.5 570.9 194.8 571.2 196.2 571.4 193.9 571.6 194.2 571.8 194.2 572.1 192.8 572.3 196.5 572.5 193.8 572.8 195.0 573.0 197.2 573.2 193.3 573.5 195.0 573.7 191.9 573.9 194.8 574.1 195.1 574.4 194.0 574.6 193.4 574.8 197.1 575.1 194.4 575.3 193.2 575.5 192.0 575.8 191.7 576.0 191.7 576.2 191.9 576.4 191.8 576.7 192.0 576.9 190.8 577.1 192.2 577.4 192.4 577.6 193.5 577.8 189.7 578.1 189.2 578.3 190.7 578.5 191.0 578.7 191.8 579.0 189.5 579.2 192.2 579.4 190.2 579.7 190.1 579.9 189.5 580.1 191.2 580.4 189.8 580.6 190.0 580.8 189.2 581.0 187.5 581.3 189.0 581.5 188.3 581.7 187.4 582.0 188.9 582.2 187.3 582.4 189.1 582.7 188.3 582.9 189.2 583.1 185.7 583.3 187.2 583.6 184.3 583.8 189.0 584.0 186.0 584.3 187.6 584.5 187.2 584.7 187.8 585.0 184.5 585.2 184.9 585.4 183.3 585.6 184.9 585.9 184.8 586.1 184.9 586.3 184.7 586.6 182.8 586.8 185.2 587.0 184.8 587.3 186.0 587.5 183.7 587.7 184.0 587.9 184.2 588.2 184.6 588.4 181.7 588.6 184.0 588.9 182.3 589.1 185.3 589.3 184.5 589.6 185.4 589.8 184.5 590.0 183.2 590.2 186.7 590.5 189.4 590.7 189.0 590.9 184.9 591.2 187.8 591.4 187.5 591.6 188.8 591.9 188.4 592.1 190.7 592.3 189.9 592.5 190.4 592.8 190.6 593.0 190.5 593.2 190.2 593.5 191.2 593.7 193.0 593.9 193.6 594.2 191.5 594.4 192.6 594.6 191.3 594.8 191.6 595.1 192.6 595.3 191.6 595.5 190.1 595.8 191.5 596.0 190.7 596.2 188.2 596.5 192.2 596.7 191.1 596.9 189.6 597.1 190.0 597.4 192.0 597.6 190.5 597.8 188.7 598.1 189.5 598.3 192.7 598.5 190.8 598.8 188.3 599.0 188.9 599.2 188.5 599.4 189.5 599.7 188.3 599.9 190.0 600.1 190.1 600.4 188.0 600.6 190.1 600.8 187.2 601.1 189.2 601.3 189.0 601.5 189.7 601.7 186.4 602.0 187.3 602.2 187.7 602.4 186.5 602.7 189.9 602.9 186.0 603.1 185.3 603.4 188.6 603.6 186.1 603.8 186.1 604.0 187.2 604.3 185.2 604.5 185.5 604.7 185.7 605.0 186.7 605.2 186.9 605.4 185.4 605.7 186.1 605.9 185.8 606.1 187.5 606.3 185.6 606.6 187.7 606.8 187.6 607.0 189.0 607.3 189.0 607.5 188.5 607.7 187.1 608.0 185.4 608.2 189.4 608.4 189.1 608.6 187.8 608.9 187.6 609.1 189.3 609.3 189.0 609.6 188.4 609.8 188.8 610.0 187.8 610.3 188.7 610.5 189.8 610.7 188.7 610.9 188.7 611.2 189.0 611.4 190.4 611.6 191.1 611.9 191.9 612.1 191.5 612.3 192.2 612.6 194.2 612.8 193.9 613.0 192.5 613.2 191.0 613.5 191.7 613.7 192.2 613.9 191.2 614.2 190.2 614.4 193.4 614.6 191.9 614.9 191.8 615.1 191.5 615.3 192.1 615.5 191.3 615.8 192.4 616.0 189.0 616.2 189.8 616.5 192.2 616.7 191.0 616.9 191.9 617.2 189.0 617.4 191.8 617.6 190.1 617.8 191.1 618.1 189.3 618.3 189.7 618.5 187.7 618.8 188.6 619.0 189.1 619.2 188.6 619.5 189.3 619.7 189.8 619.9 190.4 620.1 188.9 620.4 190.5 620.6 190.2 620.8 190.1 621.1 190.2 621.3 189.0 621.5 190.9 621.8 188.3 622.0 189.1 622.2 191.0 622.4 191.1 622.7 188.7 622.9 191.9 623.1 190.5 623.4 192.6 623.6 190.2 623.8 190.8 624.1 190.9 624.3 191.1 624.5 193.0 624.7 192.9 625.0 191.6 625.2 191.8 625.4 192.8 625.7 192.1 625.9 192.3 626.1 192.5 626.4 192.4 626.6 189.4 626.8 190.3 627.0 194.0 627.3 193.2 627.5 192.6 627.7 193.5 628.0 190.2 628.2 192.3 628.4 193.7 628.7 192.7 628.9 193.6 629.1 191.5 629.3 191.7 629.6 193.6 629.8 192.0 630.0 194.4 630.3 194.6 630.5 191.3 630.7 192.5 631.0 193.4 631.2 193.9 631.4 190.4 631.6 192.8 631.9 194.6 632.1 193.6 632.3 192.2 632.6 195.3 632.8 194.1 633.0 193.6 633.3 192.6 633.5 193.9 633.7 192.8 633.9 194.1 634.2 192.3 634.4 193.4 634.6 195.1 634.9 192.9 635.1 194.7 635.3 193.8 635.6 192.6 635.8 194.7 636.0 192.1 636.2 193.5 636.5 192.4 636.7 195.2 636.9 194.5 637.2 193.8 637.4 196.1 637.6 193.3 637.9 194.9 638.1 194.2 638.3 195.0 638.5 194.5 638.8 195.4 639.0 193.4 639.2 194.8 639.5 194.4 639.7 193.8 639.9 195.0 640.2 195.5 640.4 194.0 640.6 195.8 640.8 193.7 641.1 195.1 641.3 195.5 641.5 196.2 641.8 195.1 642.0 195.0 642.2 194.8 642.5 195.0 642.7 195.4 642.9 197.2 643.1 193.6 643.4 196.9 643.6 195.9 643.8 195.8 644.1 195.2 644.3 195.8 644.5 194.7 644.8 195.9 645.0 196.1 645.2 195.2 645.4 195.8 645.7 195.9 645.9 195.2 646.1 197.2 646.4 196.0 646.6 194.2 646.8 196.8 647.1 194.7 647.3 193.8 647.5 194.5 647.7 195.4 648.0 196.0 648.2 195.8 648.4 194.7 648.7 196.3 648.9 196.1 649.1 195.8 649.4 195.9 649.6 195.8 649.8 196.3 650.0 196.6 650.3 195.5 650.5 195.4 650.7 194.0 651.0 195.5 651.2 195.7 651.4 195.6 651.7 193.5 651.9 196.4 652.1 193.9 652.3 194.3 652.6 197.1 652.8 193.3 653.0 195.1 653.3 195.1 653.5 196.7 653.7 197.2 654.0 193.9 654.2 194.5 654.4 195.1 654.6 194.3 654.9 196.4 655.1 196.1 655.3 193.0 655.6 194.0 655.8 195.9 656.0 195.0 656.3 194.4 656.5 192.4 656.7 194.7 656.9 192.9 657.2 194.2 657.4 195.2 657.6 196.0 657.9 194.2 658.1 194.9 658.3 195.7 658.6 195.4 658.8 196.7 659.0 194.7 659.2 195.2 659.5 194.0 659.7 194.5 659.9 194.7 660.2 195.4 660.4 195.4 660.6 197.0 660.9 195.6 661.1 196.1 661.3 195.8 661.5 194.2 661.8 192.7 662.0 196.3 662.2 195.9 662.5 195.3 662.7 195.3 662.9 193.6 663.2 198.3 663.4 192.7 663.6 196.0 663.8 194.9 664.1 194.4 664.3 195.8 664.5 195.6 664.8 196.0 665.0 196.3 665.2 194.0 665.5 193.8 665.7 195.8 665.9 194.1 666.1 195.0 666.4 196.1 666.6 195.6 666.8 193.0 667.1 195.9 667.3 195.7 667.5 195.0 667.8 194.5 668.0 194.6 668.2 195.6 668.4 195.0 668.7 194.3 668.9 194.5 669.1 197.5 669.4 193.8 669.6 195.2 669.8 195.9 670.1 196.0 670.3 194.7 670.5 192.8 670.7 194.8 671.0 195.9 671.2 191.7 671.4 194.5 671.7 194.4 671.9 195.4 672.1 194.2 672.4 193.4 672.6 194.8 672.8 192.8 673.0 193.6 673.3 193.3 673.5 195.1 673.7 195.0 674.0 195.1 674.2 192.6 674.4 193.9 674.7 196.5 674.9 192.7 675.1 195.4 675.3 194.8 675.6 194.6 675.8 191.5 676.0 195.0 676.3 194.4 676.5 195.5 676.7 192.8 677.0 193.9 677.2 194.9 677.4 194.8 677.6 195.3 677.9 194.6 678.1 193.0 678.3 192.7 678.6 194.4 678.8 193.9 679.0 194.6 679.3 193.6 679.5 192.7 679.7 193.6 679.9 193.4 680.2 193.3 680.4 192.2 680.6 191.9 680.9 193.8 681.1 193.5 681.3 193.9 681.6 193.6 681.8 193.2 682.0 191.2 682.2 195.1 682.5 195.7 682.7 193.2 682.9 192.4 683.2 193.4 683.4 192.8 683.6 194.7 683.9 192.0 684.1 193.5 684.3 191.6 684.5 190.6 684.8 191.7 685.0 194.6 685.2 192.6 685.5 191.5 685.7 190.6 685.9 190.2 686.2 190.3 686.4 192.6 686.6 190.7 686.8 187.5 687.1 188.9 687.3 189.2 687.5 187.5 687.8 187.6 688.0 188.6 688.2 186.8 688.5 187.0 688.7 186.9 688.9 187.3 689.1 186.9 689.4 187.6 689.6 185.9 689.8 186.8 690.1 187.1 690.3 188.0 690.5 186.1 690.8 187.7 691.0 188.7 691.2 188.6 691.4 185.9 691.7 188.3 691.9 190.6 692.1 191.9 692.4 189.8 692.6 191.6 692.8 190.4 693.1 191.1 693.3 190.5 693.5 190.8 693.7 193.9 694.0 192.3 694.2 191.7 694.4 193.5 694.7 192.2 694.9 193.6 695.1 192.9 695.4 193.3 695.6 191.8 695.8 193.2 696.0 193.3 696.3 193.9 696.5 194.2 696.7 192.3 697.0 194.0 697.2 192.1 697.4 192.8 697.7 193.8 697.9 192.6 698.1 193.1 698.3 193.2 698.6 193.3 698.8 192.2 699.0 194.0 699.3 191.6 699.5 191.4 699.7 194.3 700.0 192.8 700.2 192.3 700.4 190.3 700.6 194.2 700.9 191.2 701.1 191.9 701.3 194.4 701.6 195.0 701.8 191.8 702.0 193.1 702.3 194.3 702.5 191.5 702.7 194.5 702.9 191.0 703.2 193.1 703.4 193.1 703.6 193.5 703.9 194.5 704.1 191.8 704.3 191.5 704.6 193.8 704.8 195.2 705.0 192.2 705.2 191.0 705.5 192.9 705.7 195.5 705.9 191.4 706.2 193.7 706.4 194.4 706.6 192.0 706.9 193.5 707.1 192.6 707.3 191.4 707.5 192.4 707.8 194.5 708.0 193.3 708.2 194.2 708.5 193.6 708.7 191.9 708.9 193.1 709.2 192.1 709.4 192.1 709.6 192.1 709.8 193.2 710.1 192.9 710.3 192.8 710.5 195.0 710.8 192.6 711.0 194.2 711.2 193.9 711.5 194.1 711.7 193.8 711.9 195.8 712.1 192.6 712.4 192.3 712.6 193.4 712.8 191.7 713.1 194.9 713.3 193.2 713.5 194.4 713.8 193.8 714.0 195.3 714.2 192.2 714.4 192.6 714.7 194.1 714.9 193.4 715.1 193.2 715.4 192.2 715.6 192.6 715.8 194.1 716.1 192.2 716.3 192.4 716.5 192.8 716.7 195.5 717.0 193.5 717.2 194.4 717.4 193.5 717.7 194.8 717.9 195.6 718.1 193.2 718.4 192.3 718.6 193.2 718.8 194.3 719.0 192.7 719.3 194.5 719.5 193.6 719.7 194.3 720.0 194.5 720.2 192.4 720.4 194.8 720.7 195.5 720.9 195.1 721.1 193.3 721.3 193.3 721.6 194.1 721.8 193.8 722.0 193.3 722.3 194.4 722.5 194.0 722.7 192.5 723.0 194.2 723.2 194.7 723.4 194.3 723.6 192.7 723.9 194.0 724.1 193.2 724.3 194.2 724.6 193.3 724.8 195.8 725.0 194.7 725.3 194.6 725.5 194.5 725.7 193.0 725.9 195.0 726.2 194.2 726.4 193.9 726.6 194.0 726.9 193.7 727.1 194.8 727.3 195.0 727.6 194.4 727.8 192.2 728.0 194.2 728.2 193.9 728.5 195.7 728.7 193.9 728.9 192.7 729.2 195.3 729.4 193.7 729.6 193.3 729.9 193.0 730.1 195.8 730.3 194.7 730.5 194.3 730.8 194.2 731.0 196.7 731.2 195.4 731.5 195.1 731.7 195.1 731.9 195.5 732.2 196.5 732.4 195.1 732.6 197.1 732.8 193.8 733.1 195.4 733.3 195.6 733.5 194.8 733.8 196.9 734.0 196.3 734.2 196.1 734.5 194.7 734.7 194.6 734.9 194.8 735.1 197.6 735.4 195.5 735.6 196.0 735.8 195.9 736.1 195.5 736.3 194.6 736.5 194.7 736.8 198.1 737.0 194.9 737.2 195.8 737.4 195.4 737.7 195.9 737.9 196.0 738.1 193.9 738.4 195.0 738.6 194.0 738.8 193.5 739.1 195.2 739.3 194.4 739.5 195.9 739.7 197.4 740.0 194.8 740.2 195.2 740.4 195.3 740.7 193.0 740.9 195.0 741.1 196.8 741.4 195.7 741.6 197.1 741.8 195.9 742.0 196.3 742.3 196.7 742.5 195.1 742.7 193.8 743.0 196.0 743.2 195.7 743.4 195.3 743.7 197.3 743.9 193.9 744.1 196.8 744.3 193.5 744.6 193.7 744.8 194.7 745.0 195.1 745.3 194.7 745.5 195.1 745.7 193.8 746.0 194.0 746.2 192.1 746.4 194.5 746.6 193.0 746.9 192.0 747.1 191.7 747.3 191.9 747.6 196.6 747.8 193.0 748.0 193.7 748.3 191.8 748.5 193.4 748.7 191.6 748.9 192.8 749.2 193.9 749.4 192.6 749.6 193.9 749.9 191.2 750.1 192.1 750.3 192.0 750.6 193.6 750.8 193.6 751.0 190.9 751.2 191.1 751.5 192.0 751.7 190.6 751.9 192.1 752.2 190.2 752.4 191.2 752.6 190.0 752.9 188.9 753.1 192.3 753.3 189.6 753.5 190.7 753.8 188.5 754.0 191.4 754.2 190.7 754.5 189.9 754.7 191.1 754.9 189.3 755.2 190.9 755.4 190.1 755.6 191.2 755.8 190.9 756.1 188.8 756.3 190.8 756.5 191.6 756.8 190.6 757.0 193.3 757.2 192.6 757.5 191.8 757.7 192.7 757.9 191.3 758.1 192.7 758.4 191.4 758.6 192.7 758.8 192.8 759.1 192.2 759.3 193.0 759.5 193.9 759.8 193.1 760.0 193.6 760.2 192.0 760.4 192.4 760.7 193.2 760.9 192.5 761.1 194.1 761.4 194.1 761.6 193.7 761.8 194.1 762.1 193.9 762.3 194.1 762.5 192.9 762.7 191.8 763.0 193.7 763.2 193.2 763.4 192.9 763.7 193.6 763.9 193.4 764.1 192.0 764.4 194.2 764.6 193.1 764.8 193.0 765.0 195.1 765.3 192.4 765.5 192.7 765.7 193.3 766.0 194.4 766.2 193.8 766.4 193.4 766.7 192.3 766.9 191.9 767.1 194.9 767.3 192.2 767.6 194.1 767.8 194.4 768.0 193.9 768.3 194.2 768.5 194.1 768.7 191.7 769.0 193.5 769.2 193.4 769.4 194.1 769.6 193.1 769.9 194.9 770.1 193.8 770.3 192.9 770.6 192.4 770.8 195.6 771.0 192.0 771.3 194.4 771.5 196.0 771.7 193.2 771.9 195.0 772.2 194.5 772.4 195.1 772.6 193.0 772.9 193.8 773.1 193.4 773.3 194.5 773.6 195.5 773.8 194.3 774.0 192.6 774.2 194.9 774.5 195.6 774.7 192.4 774.9 194.5 775.2 194.6 775.4 192.6 775.6 194.8 775.9 196.3 776.1 194.2 776.3 195.0 776.5 195.3 776.8 195.9 777.0 194.9 777.2 193.4 777.5 195.4 777.7 197.0 777.9 196.0 778.2 195.6 778.4 195.4 778.6 194.7 778.8 195.3 779.1 195.4 779.3 196.0 779.5 196.3 779.8 196.8 780.0 194.8 780.2 195.0 780.5 194.9 780.7 194.4 780.9 193.6 781.1 193.7 781.4 194.5 781.6 194.2 781.8 193.7 782.1 196.4 782.3 195.4 782.5 194.2 782.8 193.6 783.0 193.8 783.2 192.8 783.4 194.3 783.7 193.3 783.9 196.6 784.1 194.9 784.4 192.9 784.6 194.1 784.8 193.6 785.1 194.6 785.3 194.0 785.5 195.9 785.7 192.0 786.0 193.9 786.2 192.4 786.4 192.5 786.7 193.7 786.9 194.7 787.1 192.5 787.4 192.2 787.6 193.6 787.8 191.6 788.0 192.4 788.3 195.6 788.5 194.3 788.7 191.1 789.0 194.4 789.2 191.7 789.4 192.6 789.7 191.7 789.9 192.4 790.1 192.2 790.3 194.3 790.6 192.4 790.8 191.6 791.0 191.6 791.3 192.6 791.5 192.0 791.7 192.3 792.0 193.0 792.2 191.4 792.4 192.9 792.6 193.0 792.9 193.6 793.1 191.5 793.3 191.9 793.6 192.7 793.8 193.4 794.0 191.8 794.3 190.8 794.5 193.8 794.7 194.5 794.9 195.1 795.2 192.8 795.4 194.5 795.6 194.6 795.9 194.7 796.1 195.9 796.3 194.4 796.6 194.3 796.8 194.5 797.0 194.7 797.2 194.4 797.5 193.3 797.7 195.4 797.9 195.2 798.2 194.8 798.4 195.9 798.6 195.4 798.9 192.3 799.1 193.3 799.3 195.2 799.5 196.9 799.8 194.7 800.0 197.5 800.2 196.6 800.5 194.3 800.7 195.5 800.9 195.4 801.2 197.2 801.4 195.8 801.6 196.3 801.8 195.4 802.1 194.3 802.3 197.7 802.5 194.6 802.8 195.3 803.0 195.9 803.2 193.0 803.5 196.0 803.7 194.4 803.9 197.4 804.1 194.7 804.4 195.0 804.6 194.7 804.8 196.2 805.1 193.8 805.3 195.3 805.5 195.9 805.8 195.3 806.0 195.9 806.2 193.9 806.4 191.9 806.7 194.5 806.9 194.2 807.1 194.6 807.4 195.5 807.6 198.0 807.8 195.6 808.1 196.7 808.3 195.4 808.5 195.8 808.7 195.0 809.0 195.9 809.2 194.1 809.4 195.1 809.7 194.2 809.9 196.0 810.1 195.9 810.4 193.8 810.6 194.5 810.8 195.0 811.0 194.6 811.3 194.3 811.5 195.0 811.7 197.3 812.0 193.2 812.2 195.1 812.4 195.7 812.7 194.6 812.9 192.0 813.1 195.5 813.3 192.2 813.6 193.8 813.8 195.9 814.0 195.8 814.3 194.7 814.5 194.3 814.7 193.2 815.0 192.9 815.2 193.1 815.4 194.6 815.6 194.6 815.9 194.9 816.1 193.3 816.3 192.4 816.6 193.0 816.8 192.4 817.0 192.3 817.3 191.5 817.5 192.5 817.7 196.0 817.9 193.1 818.2 193.3 818.4 190.8 818.6 191.3 818.9 192.6 819.1 192.2 819.3 193.1 819.6 190.3 819.8 193.8 820.0 191.7 820.2 192.9 820.5 192.5 820.7 193.7 820.9 191.2 821.2 191.3 821.4 192.6 821.6 192.8 821.9 191.3 822.1 189.9 822.3 191.1 822.5 189.5 822.8 190.1 823.0 190.7 823.2 189.8 823.5 191.7 823.7 190.6 823.9 192.4 824.2 190.4 824.4 192.5 824.6 192.9 824.8 189.9 825.1 188.0 825.3 192.7 825.5 192.3 825.8 192.9 826.0 191.1 826.2 189.7 826.5 191.2 826.7 192.0 826.9 191.7 827.1 191.1 827.4 190.7 827.6 190.5 827.8 190.7 828.1 191.4 828.3 189.6 828.5 189.1 828.8 193.7 829.0 192.6 829.2 192.3 829.4 190.9 829.7 189.8 829.9 191.9 830.1 193.6 830.4 193.3 830.6 190.9 830.8 191.4 831.1 193.0 831.3 193.2 831.5 191.6 831.7 190.4 832.0 191.3 832.2 190.5 832.4 190.7 832.7 193.7 832.9 193.8 833.1 192.8 833.4 193.5 833.6 191.4 833.8 191.8 834.0 190.6 834.3 193.2 834.5 188.6 834.7 191.7 835.0 191.0 835.2 190.8 835.4 191.5 835.7 189.7 835.9 190.8 836.1 190.3 836.3 191.8 836.6 191.2 836.8 189.2 837.0 186.5 837.3 189.0 837.5 188.5 837.7 190.6 838.0 189.0 838.2 188.1 838.4 190.1 838.6 189.2 838.9 189.7 839.1 190.3 839.3 190.1 839.6 187.6 839.8 187.2 840.0 192.2 840.3 191.0 840.5 186.8 840.7 188.4 840.9 189.0 841.2 189.6 841.4 188.6 841.6 187.5 841.9 188.6 842.1 187.9 842.3 188.6 842.6 187.6 842.8 186.9 843.0 188.3 843.2 187.9 843.5 187.0 843.7 188.0 843.9 187.3 844.2 189.5 844.4 189.2 844.6 188.2 844.9 187.6 845.1 188.4 845.3 188.2 845.5 189.7 845.8 188.5 846.0 191.3 846.2 190.1 846.5 190.0 846.7 189.8 846.9 189.8 847.2 189.0 847.4 190.6 847.6 189.1 847.8 191.6 848.1 192.2 848.3 190.6 848.5 191.7 848.8 191.1 849.0 193.2 849.2 193.0 849.5 192.9 849.7 191.4 849.9 193.6 850.1 194.2 850.4 193.6 850.6 194.7 850.8 193.6 851.1 193.6 851.3 194.9 851.5 194.6 851.8 193.0 852.0 195.1 852.2 195.3 852.4 192.4 852.7 192.8 852.9 193.6 853.1 193.8 853.4 194.8 853.6 193.8 853.8 193.3 854.1 193.5 854.3 194.8 854.5 194.7 854.7 194.5 855.0 194.2 855.2 192.8 855.4 195.1 855.7 194.9 855.9 195.1 856.1 193.7 856.4 197.1 856.6 195.6 856.8 195.3 857.0 194.1 857.3 194.1 857.5 195.5 857.7 195.1 858.0 196.8 858.2 196.1 858.4 191.8 858.7 194.2 858.9 194.0 859.1 194.2 859.3 194.0 859.6 193.7 859.8 193.1 860.0 192.6 860.3 194.7 860.5 196.4 860.7 194.6 861.0 194.7 861.2 194.1 861.4 195.2 861.6 194.5 861.9 196.4 862.1 195.1 862.3 195.5 862.6 195.7 862.8 195.3 863.0 195.8 863.3 195.6 863.5 197.2 863.7 194.2 863.9 195.6 864.2 195.8 864.4 194.4 864.6 195.5 864.9 197.1 865.1 193.6 865.3 195.5 865.6 195.0 865.8 194.6 866.0 195.1 866.2 195.8 866.5 196.8 866.7 195.5 866.9 195.9 867.2 195.8 867.4 196.6 867.6 195.5 867.9 195.6 868.1 196.2 868.3 196.4 868.5 196.1 868.8 196.6 869.0 196.6 869.2 194.2 869.5 198.2 869.7 196.7 869.9 193.9 870.2 197.6 870.4 197.0 870.6 195.2 870.8 195.3" fill="none" stroke="#b166e0" stroke-width="1.15" stroke-linejoin="round"/>
<path d="M75.5 112.0 75.7 113.4 76.0 114.2 76.2 111.9 76.4 111.7 76.7 113.1 76.9 112.0 77.1 112.8 77.3 113.6 77.6 112.4 77.8 113.0 78.0 109.2 78.3 112.9 78.5 111.6 78.7 110.7 79.0 111.5 79.2 110.3 79.4 110.3 79.6 109.4 79.9 110.9 80.1 110.0 80.3 110.6 80.6 112.4 80.8 111.5 81.0 110.0 81.3 111.9 81.5 112.5 81.7 111.4 81.9 111.4 82.2 111.2 82.4 110.2 82.6 112.4 82.9 111.7 83.1 111.1 83.3 111.1 83.6 111.0 83.8 112.8 84.0 110.8 84.2 109.2 84.5 111.2 84.7 112.0 84.9 111.7 85.2 110.5 85.4 109.1 85.6 113.2 85.9 109.8 86.1 111.1 86.3 110.7 86.5 110.2 86.8 110.4 87.0 109.6 87.2 109.8 87.5 110.3 87.7 110.7 87.9 113.5 88.2 109.7 88.4 112.0 88.6 110.8 88.8 110.3 89.1 109.2 89.3 110.7 89.5 109.6 89.8 111.0 90.0 111.1 90.2 109.3 90.5 111.9 90.7 110.5 90.9 110.7 91.1 111.0 91.4 110.3 91.6 111.8 91.8 112.5 92.1 110.9 92.3 111.7 92.5 112.8 92.8 111.5 93.0 110.5 93.2 112.1 93.4 110.9 93.7 110.5 93.9 109.1 94.1 110.9 94.4 109.8 94.6 111.0 94.8 108.3 95.1 109.3 95.3 112.3 95.5 112.6 95.7 111.0 96.0 110.9 96.2 108.0 96.4 111.0 96.7 109.7 96.9 108.0 97.1 109.2 97.4 109.1 97.6 111.0 97.8 110.4 98.0 112.9 98.3 111.8 98.5 110.2 98.7 110.7 99.0 108.7 99.2 111.0 99.4 109.7 99.7 110.2 99.9 110.4 100.1 110.0 100.3 109.5 100.6 110.7 100.8 110.7 101.0 107.0 101.3 109.1 101.5 109.5 101.7 109.1 102.0 109.8 102.2 110.6 102.4 109.8 102.6 109.4 102.9 110.7 103.1 109.9 103.3 109.8 103.6 111.8 103.8 110.7 104.0 108.3 104.3 110.9 104.5 108.5 104.7 109.5 104.9 107.2 105.2 110.3 105.4 107.2 105.6 109.6 105.9 111.4 106.1 109.7 106.3 109.0 106.6 107.8 106.8 108.5 107.0 109.8 107.2 106.1 107.5 107.4 107.7 110.1 107.9 108.1 108.2 109.9 108.4 109.3 108.6 107.5 108.9 108.3 109.1 110.1 109.3 108.1 109.5 108.4 109.8 109.1 110.0 107.7 110.2 108.0 110.5 109.0 110.7 108.1 110.9 108.3 111.2 109.1 111.4 110.5 111.6 108.2 111.8 107.6 112.1 111.9 112.3 109.5 112.5 105.9 112.8 107.7 113.0 106.2 113.2 109.2 113.5 106.8 113.7 107.6 113.9 110.2 114.1 107.3 114.4 108.1 114.6 108.6 114.8 109.4 115.1 109.4 115.3 109.9 115.5 107.2 115.8 108.6 116.0 105.8 116.2 107.9 116.4 107.7 116.7 110.1 116.9 108.3 117.1 107.4 117.4 107.3 117.6 106.6 117.8 107.1 118.1 106.8 118.3 107.6 118.5 106.9 118.7 107.6 119.0 108.9 119.2 106.1 119.4 106.5 119.7 105.8 119.9 110.1 120.1 109.6 120.4 108.0 120.6 107.4 120.8 106.1 121.0 108.6 121.3 107.4 121.5 107.8 121.7 107.3 122.0 103.4 122.2 104.9 122.4 106.4 122.7 107.7 122.9 105.7 123.1 107.2 123.3 106.5 123.6 105.4 123.8 107.7 124.0 105.3 124.3 105.1 124.5 109.0 124.7 108.7 125.0 107.1 125.2 108.3 125.4 105.8 125.6 106.3 125.9 107.2 126.1 107.1 126.3 107.4 126.6 104.8 126.8 107.9 127.0 105.0 127.3 106.4 127.5 110.0 127.7 107.8 127.9 105.7 128.2 106.8 128.4 105.3 128.6 105.4 128.9 105.1 129.1 105.8 129.3 106.2 129.6 107.1 129.8 109.2 130.0 106.8 130.2 106.5 130.5 104.4 130.7 107.8 130.9 106.1 131.2 108.1 131.4 106.0 131.6 108.2 131.9 104.9 132.1 105.2 132.3 105.4 132.5 105.2 132.8 106.0 133.0 105.7 133.2 102.5 133.5 103.6 133.7 104.0 133.9 106.0 134.2 104.6 134.4 106.0 134.6 105.9 134.8 105.2 135.1 101.9 135.3 107.7 135.5 105.6 135.8 104.1 136.0 105.3 136.2 104.1 136.5 104.9 136.7 103.6 136.9 107.9 137.1 104.3 137.4 105.1 137.6 102.7 137.8 104.1 138.1 104.2 138.3 101.6 138.5 99.3 138.8 100.1 139.0 98.7 139.2 99.4 139.4 97.6 139.7 97.1 139.9 96.0 140.1 95.3 140.4 94.6 140.6 94.2 140.8 91.7 141.1 90.5 141.3 89.2 141.5 89.7 141.7 90.4 142.0 92.4 142.2 93.3 142.4 92.8 142.7 94.6 142.9 94.3 143.1 96.0 143.4 96.2 143.6 99.0 143.8 98.0 144.0 97.4 144.3 98.2 144.5 98.8 144.7 99.2 145.0 101.2 145.2 100.2 145.4 102.0 145.7 103.7 145.9 102.0 146.1 103.3 146.3 105.9 146.6 104.2 146.8 103.0 147.0 104.5 147.3 103.3 147.5 102.5 147.7 105.2 148.0 102.5 148.2 102.9 148.4 103.8 148.6 105.4 148.9 105.1 149.1 103.3 149.3 104.3 149.6 103.8 149.8 105.7 150.0 105.0 150.3 103.5 150.5 105.9 150.7 102.7 150.9 104.1 151.2 101.7 151.4 106.0 151.6 104.3 151.9 105.4 152.1 108.5 152.3 104.8 152.6 104.7 152.8 103.5 153.0 104.6 153.2 103.5 153.5 105.0 153.7 104.9 153.9 104.5 154.2 103.6 154.4 103.7 154.6 103.8 154.9 103.6 155.1 104.5 155.3 102.6 155.5 103.2 155.8 104.2 156.0 106.1 156.2 103.9 156.5 103.1 156.7 103.0 156.9 105.6 157.2 102.3 157.4 102.3 157.6 102.9 157.8 101.9 158.1 102.5 158.3 103.6 158.5 102.6 158.8 100.1 159.0 103.5 159.2 104.1 159.5 102.0 159.7 105.6 159.9 103.1 160.1 103.2 160.4 100.6 160.6 106.3 160.8 105.7 161.1 104.5 161.3 105.1 161.5 101.3 161.8 101.5 162.0 102.9 162.2 102.3 162.4 100.4 162.7 102.4 162.9 103.4 163.1 101.6 163.4 104.3 163.6 102.4 163.8 101.1 164.1 100.4 164.3 99.9 164.5 103.1 164.7 99.4 165.0 102.6 165.2 102.5 165.4 99.4 165.7 102.4 165.9 101.5 166.1 104.3 166.4 102.1 166.6 101.0 166.8 102.1 167.0 103.3 167.3 99.7 167.5 99.8 167.7 102.4 168.0 104.4 168.2 98.7 168.4 103.5 168.7 101.7 168.9 102.2 169.1 101.8 169.3 100.0 169.6 99.7 169.8 104.4 170.0 98.3 170.3 100.7 170.5 103.0 170.7 100.2 171.0 101.6 171.2 100.4 171.4 98.9 171.6 101.1 171.9 100.1 172.1 98.9 172.3 101.1 172.6 99.3 172.8 100.2 173.0 98.9 173.3 102.3 173.5 101.2 173.7 100.1 173.9 99.2 174.2 99.1 174.4 99.1 174.6 97.7 174.9 101.9 175.1 97.7 175.3 100.7 175.6 100.6 175.8 98.6 176.0 98.7 176.2 96.5 176.5 98.4 176.7 97.6 176.9 100.2 177.2 97.3 177.4 97.4 177.6 99.5 177.9 95.1 178.1 96.9 178.3 100.2 178.5 97.7 178.8 99.4 179.0 92.5 179.2 96.5 179.5 97.3 179.7 95.0 179.9 99.1 180.2 94.7 180.4 96.2 180.6 97.8 180.8 97.3 181.1 96.5 181.3 95.2 181.5 97.1 181.8 95.3 182.0 99.3 182.2 96.0 182.5 94.7 182.7 98.5 182.9 99.6 183.1 96.9 183.4 95.0 183.6 92.8 183.8 94.4 184.1 97.0 184.3 96.3 184.5 91.6 184.8 95.3 185.0 91.4 185.2 95.7 185.4 97.5 185.7 93.6 185.9 95.9 186.1 92.7 186.4 93.1 186.6 94.9 186.8 95.0 187.1 92.1 187.3 95.3 187.5 92.6 187.7 86.3 188.0 93.3 188.2 93.3 188.4 86.0 188.7 91.2 188.9 92.8 189.1 91.3 189.4 89.1 189.6 88.5 189.8 90.1 190.0 89.1 190.3 90.8 190.5 89.7 190.7 91.6 191.0 87.8 191.2 89.1 191.4 88.8 191.7 87.8 191.9 88.4 192.1 85.1 192.3 86.9 192.6 90.2 192.8 88.7 193.0 88.2 193.3 90.0 193.5 88.3 193.7 86.9 194.0 89.4 194.2 90.9 194.4 88.8 194.6 93.0 194.9 90.4 195.1 90.1 195.3 89.1 195.6 94.9 195.8 95.7 196.0 88.6 196.3 91.2 196.5 90.0 196.7 94.2 196.9 91.8 197.2 94.2 197.4 92.2 197.6 90.7 197.9 96.2 198.1 93.5 198.3 93.0 198.6 91.8 198.8 94.5 199.0 96.6 199.2 93.7 199.5 99.2 199.7 98.0 199.9 94.9 200.2 95.8 200.4 93.8 200.6 95.8 200.9 92.3 201.1 92.4 201.3 99.5 201.5 95.1 201.8 96.4 202.0 93.0 202.2 95.5 202.5 94.3 202.7 90.2 202.9 93.9 203.2 94.5 203.4 94.2 203.6 96.8 203.8 95.7 204.1 91.5 204.3 92.9 204.5 94.1 204.8 94.5 205.0 94.3 205.2 91.5 205.5 94.8 205.7 93.6 205.9 89.8 206.1 89.5 206.4 91.1 206.6 92.4 206.8 91.4 207.1 92.1 207.3 91.3 207.5 93.0 207.8 95.2 208.0 95.0 208.2 90.5 208.4 95.7 208.7 96.8 208.9 92.3 209.1 97.5 209.4 93.9 209.6 91.3 209.8 96.8 210.1 93.3 210.3 92.5 210.5 97.5 210.7 96.5 211.0 92.8 211.2 92.0 211.4 93.3 211.7 93.7 211.9 95.0 212.1 87.9 212.4 93.8 212.6 93.5 212.8 92.3 213.0 93.3 213.3 94.3 213.5 89.5 213.7 89.9 214.0 92.3 214.2 92.0 214.4 92.3 214.7 93.2 214.9 96.8 215.1 91.4 215.3 92.8 215.6 94.0 215.8 91.4 216.0 91.2 216.3 92.7 216.5 92.9 216.7 90.3 217.0 93.1 217.2 92.8 217.4 92.6 217.6 94.0 217.9 89.0 218.1 93.7 218.3 90.9 218.6 91.7 218.8 91.3 219.0 89.7 219.3 92.9 219.5 96.3 219.7 92.4 219.9 94.7 220.2 90.3 220.4 90.5 220.6 91.9 220.9 90.8 221.1 90.4 221.3 93.5 221.6 93.1 221.8 93.8 222.0 92.3 222.2 91.6 222.5 91.1 222.7 94.3 222.9 91.9 223.2 94.6 223.4 94.3 223.6 96.8 223.9 91.4 224.1 95.2 224.3 89.8 224.5 95.2 224.8 93.9 225.0 95.1 225.2 88.2 225.5 95.5 225.7 91.5 225.9 91.3 226.2 88.3 226.4 89.8 226.6 94.1 226.8 95.0 227.1 92.3 227.3 89.6 227.5 92.3 227.8 87.5 228.0 90.1 228.2 89.1 228.5 92.8 228.7 86.9 228.9 89.2 229.1 90.9 229.4 91.2 229.6 86.9 229.8 88.4 230.1 84.8 230.3 91.3 230.5 88.2 230.8 88.3 231.0 87.7 231.2 92.3 231.4 88.6 231.7 86.6 231.9 90.6 232.1 89.3 232.4 87.6 232.6 85.3 232.8 87.1 233.1 87.9 233.3 86.1 233.5 85.9 233.7 87.9 234.0 83.6 234.2 86.8 234.4 84.0 234.7 81.8 234.9 86.2 235.1 85.6 235.4 82.1 235.6 81.9 235.8 85.1 236.0 83.0 236.3 79.6 236.5 80.8 236.7 82.3 237.0 80.7 237.2 82.4 237.4 80.9 237.7 82.6 237.9 82.2 238.1 83.0 238.3 83.0 238.6 83.1 238.8 81.1 239.0 86.1 239.3 83.0 239.5 81.8 239.7 88.2 240.0 83.5 240.2 88.6 240.4 80.7 240.6 86.6 240.9 86.0 241.1 84.4 241.3 88.9 241.6 84.1 241.8 86.9 242.0 85.6 242.3 89.0 242.5 84.7 242.7 87.8 242.9 87.8 243.2 82.9 243.4 95.0 243.6 88.5 243.9 89.2 244.1 90.2 244.3 87.7 244.6 87.5 244.8 83.7 245.0 87.6 245.2 88.7 245.5 90.1 245.7 89.1 245.9 89.4 246.2 89.3 246.4 89.7 246.6 89.7 246.9 89.3 247.1 90.9 247.3 85.4 247.5 88.0 247.8 90.5 248.0 88.7 248.2 86.8 248.5 88.3 248.7 88.5 248.9 89.1 249.2 93.4 249.4 92.1 249.6 87.9 249.8 89.4 250.1 93.3 250.3 87.9 250.5 90.7 250.8 88.7 251.0 87.6 251.2 89.6 251.5 90.5 251.7 93.5 251.9 89.4 252.1 94.4 252.4 91.4 252.6 91.8 252.8 90.3 253.1 88.3 253.3 93.3 253.5 91.8 253.8 93.9 254.0 93.5 254.2 90.0 254.4 92.9 254.7 93.7 254.9 93.4 255.1 93.4 255.4 92.6 255.6 90.4 255.8 91.4 256.1 89.8 256.3 89.9 256.5 89.1 256.7 88.0 257.0 88.8 257.2 85.2 257.4 84.2 257.7 85.9 257.9 85.4 258.1 86.8 258.4 87.3 258.6 88.7 258.8 88.6 259.0 89.2 259.3 93.3 259.5 92.9 259.7 89.5 260.0 91.0 260.2 94.3 260.4 92.4 260.7 90.2 260.9 93.5 261.1 94.6 261.3 92.8 261.6 94.2 261.8 93.0 262.0 96.9 262.3 98.6 262.5 95.3 262.7 94.3 263.0 97.2 263.2 96.4 263.4 96.5 263.6 94.8 263.9 95.5 264.1 94.9 264.3 95.4 264.6 96.5 264.8 95.7 265.0 100.3 265.3 96.5 265.5 95.9 265.7 96.9 265.9 98.7 266.2 98.9 266.4 94.6 266.6 94.8 266.9 94.7 267.1 96.3 267.3 96.6 267.6 99.8 267.8 99.5 268.0 95.0 268.2 91.9 268.5 93.6 268.7 94.7 268.9 95.9 269.2 97.0 269.4 93.3 269.6 97.2 269.9 97.1 270.1 90.5 270.3 92.2 270.5 96.7 270.8 91.2 271.0 90.3 271.2 96.1 271.5 87.9 271.7 85.6 271.9 79.9 272.2 83.4 272.4 83.9 272.6 81.3 272.8 84.0 273.1 79.8 273.3 81.0 273.5 78.4 273.8 75.9 274.0 75.4 274.2 75.4 274.5 75.8 274.7 75.7 274.9 79.2 275.1 79.2 275.4 81.7 275.6 82.6 275.8 81.4 276.1 84.2 276.3 81.0 276.5 85.7 276.8 82.5 277.0 85.7 277.2 85.1 277.4 83.7 277.7 88.7 277.9 82.6 278.1 88.7 278.4 85.8 278.6 85.2 278.8 84.0 279.1 80.9 279.3 82.2 279.5 77.3 279.7 73.8 280.0 78.1 280.2 75.0 280.4 76.0 280.7 72.4 280.9 69.4 281.1 65.7 281.4 65.0 281.6 64.6 281.8 66.1 282.0 68.0 282.3 70.3 282.5 73.2 282.7 74.2 283.0 74.6 283.2 74.8 283.4 75.6 283.7 78.6 283.9 79.2 284.1 80.6 284.3 84.8 284.6 83.1 284.8 85.3 285.0 83.7 285.3 87.0 285.5 88.9 285.7 90.8 286.0 92.7 286.2 91.9 286.4 94.9 286.6 96.9 286.9 95.2 287.1 96.4 287.3 97.3 287.6 94.1 287.8 99.1 288.0 96.2 288.3 97.5 288.5 94.5 288.7 98.7 288.9 98.9 289.2 97.9 289.4 96.8 289.6 99.4 289.9 96.0 290.1 100.4 290.3 100.5 290.6 100.7 290.8 101.7 291.0 99.1 291.2 100.0 291.5 100.7 291.7 100.4 291.9 97.7 292.2 99.0 292.4 98.4 292.6 99.7 292.9 99.6 293.1 101.1 293.3 100.7 293.5 101.3 293.8 98.5 294.0 101.8 294.2 100.7 294.5 104.9 294.7 100.2 294.9 95.1 295.2 102.2 295.4 97.1 295.6 99.1 295.8 98.6 296.1 98.7 296.3 101.9 296.5 100.4 296.8 99.8 297.0 98.3 297.2 98.5 297.5 99.3 297.7 99.6 297.9 98.8 298.1 95.8 298.4 99.6 298.6 99.1 298.8 97.6 299.1 100.1 299.3 100.5 299.5 98.7 299.8 103.8 300.0 97.5 300.2 99.1 300.4 99.7 300.7 99.6 300.9 101.4 301.1 98.1 301.4 97.5 301.6 102.7 301.8 99.2 302.1 100.3 302.3 100.7 302.5 101.3 302.7 100.5 303.0 97.7 303.2 99.0 303.4 99.6 303.7 100.7 303.9 102.3 304.1 97.5 304.4 99.4 304.6 98.5 304.8 98.1 305.0 93.4 305.3 94.2 305.5 95.4 305.7 93.8 306.0 93.9 306.2 93.6 306.4 94.6 306.7 90.7 306.9 90.4 307.1 90.7 307.3 93.5 307.6 90.0 307.8 92.6 308.0 91.1 308.3 89.6 308.5 87.2 308.7 87.2 309.0 86.1 309.2 85.3 309.4 84.6 309.6 85.7 309.9 86.5 310.1 87.7 310.3 89.4 310.6 89.2 310.8 89.3 311.0 93.5 311.3 92.4 311.5 95.2 311.7 93.7 311.9 91.7 312.2 94.0 312.4 94.0 312.6 94.7 312.9 95.5 313.1 95.0 313.3 97.1 313.6 97.7 313.8 93.1 314.0 97.8 314.2 98.4 314.5 97.3 314.7 101.2 314.9 99.7 315.2 102.0 315.4 102.8 315.6 102.7 315.9 99.7 316.1 100.5 316.3 100.3 316.5 98.5 316.8 100.1 317.0 101.7 317.2 97.9 317.5 101.5 317.7 98.5 317.9 98.3 318.2 101.2 318.4 98.8 318.6 102.3 318.8 102.2 319.1 101.5 319.3 99.8 319.5 100.8 319.8 102.6 320.0 103.1 320.2 98.7 320.5 96.2 320.7 99.1 320.9 99.4 321.1 99.5 321.4 99.9 321.6 97.1 321.8 96.8 322.1 96.5 322.3 98.4 322.5 97.2 322.8 97.9 323.0 97.4 323.2 97.3 323.4 96.6 323.7 97.4 323.9 96.8 324.1 98.1 324.4 98.2 324.6 98.6 324.8 99.0 325.1 99.4 325.3 99.0 325.5 99.2 325.7 99.2 326.0 97.5 326.2 101.7 326.4 102.9 326.7 98.5 326.9 104.0 327.1 103.2 327.4 102.1 327.6 101.6 327.8 101.8 328.0 100.8 328.3 101.0 328.5 101.7 328.7 102.8 329.0 99.6 329.2 101.6 329.4 101.0 329.7 101.7 329.9 100.9 330.1 102.1 330.3 103.1 330.6 101.8 330.8 104.5 331.0 104.0 331.3 103.1 331.5 105.4 331.7 102.6 332.0 103.6 332.2 102.3 332.4 101.7 332.6 107.0 332.9 103.8 333.1 102.7 333.3 104.3 333.6 104.7 333.8 102.6 334.0 103.8 334.3 106.4 334.5 105.4 334.7 103.8 334.9 102.0 335.2 106.3 335.4 106.0 335.6 103.5 335.9 103.6 336.1 105.2 336.3 105.6 336.6 105.7 336.8 104.3 337.0 103.5 337.2 103.8 337.5 103.1 337.7 104.3 337.9 105.8 338.2 102.8 338.4 102.1 338.6 103.3 338.9 104.6 339.1 101.7 339.3 103.3 339.5 102.1 339.8 101.4 340.0 105.0 340.2 103.0 340.5 101.8 340.7 102.6 340.9 102.1 341.2 102.7 341.4 103.7 341.6 101.0 341.8 103.3 342.1 101.1 342.3 101.9 342.5 99.6 342.8 99.4 343.0 101.4 343.2 101.0 343.5 100.2 343.7 100.9 343.9 98.8 344.1 101.9 344.4 102.7 344.6 100.1 344.8 100.7 345.1 99.3 345.3 100.7 345.5 99.4 345.8 98.9 346.0 99.3 346.2 98.3 346.4 98.8 346.7 99.4 346.9 97.7 347.1 99.3 347.4 98.1 347.6 98.9 347.8 97.1 348.1 97.1 348.3 99.3 348.5 98.5 348.7 99.8 349.0 101.9 349.2 101.3 349.4 99.8 349.7 103.3 349.9 99.7 350.1 98.4 350.4 105.1 350.6 101.2 350.8 103.5 351.0 101.5 351.3 104.0 351.5 103.4 351.7 107.2 352.0 103.0 352.2 105.6 352.4 104.2 352.7 105.2 352.9 104.4 353.1 104.3 353.3 102.2 353.6 105.1 353.8 102.1 354.0 104.6 354.3 105.8 354.5 104.7 354.7 105.8 355.0 106.8 355.2 106.6 355.4 105.4 355.6 105.4 355.9 106.8 356.1 105.9 356.3 105.5 356.6 104.8 356.8 105.8 357.0 106.0 357.3 105.2 357.5 106.7 357.7 106.5 357.9 104.3 358.2 104.5 358.4 107.1 358.6 107.4 358.9 107.6 359.1 106.6 359.3 106.3 359.6 105.2 359.8 106.8 360.0 104.4 360.2 103.6 360.5 106.3 360.7 106.1 360.9 108.2 361.2 105.1 361.4 105.4 361.6 105.4 361.9 105.1 362.1 107.4 362.3 107.0 362.5 107.7 362.8 105.7 363.0 106.7 363.2 108.0 363.5 105.8 363.7 104.9 363.9 103.4 364.2 106.9 364.4 106.1 364.6 103.8 364.8 106.5 365.1 108.0 365.3 108.8 365.5 105.5 365.8 107.5 366.0 106.9 366.2 107.5 366.5 106.7 366.7 103.9 366.9 108.3 367.1 107.2 367.4 106.0 367.6 106.1 367.8 106.1 368.1 106.8 368.3 106.8 368.5 103.3 368.8 105.3 369.0 105.0 369.2 106.1 369.4 104.8 369.7 105.2 369.9 102.9 370.1 104.5 370.4 104.2 370.6 106.3 370.8 106.2 371.1 106.7 371.3 103.8 371.5 104.9 371.7 105.3 372.0 106.6 372.2 105.6 372.4 106.0 372.7 105.3 372.9 106.8 373.1 105.2 373.4 104.7 373.6 105.1 373.8 105.7 374.0 105.7 374.3 103.4 374.5 104.6 374.7 103.9 375.0 104.6 375.2 103.5 375.4 108.0 375.7 105.5 375.9 104.6 376.1 104.9 376.3 106.3 376.6 104.8 376.8 105.7 377.0 106.8 377.3 107.1 377.5 106.5 377.7 105.9 378.0 110.2 378.2 106.2 378.4 106.8 378.6 106.2 378.9 109.4 379.1 105.8 379.3 107.1 379.6 104.2 379.8 106.3 380.0 108.3 380.3 106.5 380.5 105.5 380.7 105.9 380.9 107.8 381.2 108.4 381.4 107.2 381.6 105.9 381.9 107.4 382.1 107.1 382.3 107.3 382.6 108.7 382.8 107.0 383.0 105.8 383.2 110.2 383.5 105.4 383.7 107.3 383.9 107.8 384.2 105.9 384.4 110.3 384.6 109.2 384.9 107.0 385.1 106.4 385.3 108.4 385.5 110.3 385.8 109.4 386.0 107.4 386.2 108.8 386.5 108.1 386.7 107.9 386.9 108.7 387.2 107.7 387.4 107.4 387.6 109.1 387.8 107.7 388.1 108.1 388.3 108.1 388.5 107.2 388.8 109.3 389.0 107.9 389.2 106.4 389.5 107.8 389.7 105.6 389.9 108.9 390.1 105.5 390.4 107.8 390.6 106.9 390.8 108.3 391.1 108.0 391.3 108.0 391.5 109.6 391.8 106.3 392.0 107.8 392.2 105.9 392.4 109.3 392.7 109.1 392.9 109.7 393.1 109.0 393.4 108.4 393.6 106.8 393.8 106.4 394.1 109.3 394.3 108.4 394.5 106.1 394.7 109.1 395.0 107.1 395.2 107.5 395.4 108.4 395.7 106.7 395.9 109.2 396.1 109.1 396.4 107.2 396.6 106.3 396.8 108.3 397.0 108.6 397.3 111.0 397.5 106.8 397.7 109.0 398.0 107.8 398.2 108.1 398.4 106.4 398.7 107.9 398.9 109.9 399.1 107.8 399.3 105.7 399.6 108.0 399.8 106.5 400.0 107.4 400.3 108.1 400.5 106.5 400.7 107.4 401.0 110.1 401.2 109.1 401.4 107.0 401.6 104.9 401.9 107.1 402.1 106.9 402.3 106.6 402.6 106.9 402.8 105.9 403.0 108.4 403.3 106.1 403.5 106.7 403.7 108.7 403.9 106.0 404.2 104.9 404.4 104.4 404.6 106.5 404.9 105.8 405.1 107.7 405.3 103.8 405.6 104.6 405.8 104.9 406.0 105.6 406.2 104.0 406.5 102.8 406.7 106.6 406.9 102.2 407.2 103.3 407.4 100.8 407.6 104.2 407.9 99.3 408.1 101.9 408.3 101.4 408.5 96.8 408.8 100.2 409.0 97.6 409.2 94.8 409.5 98.2 409.7 95.0 409.9 94.5 410.2 93.3 410.4 91.3 410.6 91.2 410.8 90.8 411.1 89.3 411.3 88.3 411.5 89.6 411.8 87.9 412.0 86.3 412.2 85.6 412.5 84.1 412.7 83.7 412.9 81.9 413.1 80.5 413.4 81.4 413.6 82.4 413.8 83.8 414.1 86.2 414.3 86.9 414.5 87.1 414.8 89.3 415.0 88.9 415.2 90.7 415.4 89.7 415.7 94.0 415.9 94.5 416.1 92.9 416.4 96.3 416.6 94.3 416.8 95.7 417.1 99.0 417.3 96.9 417.5 99.5 417.7 99.4 418.0 102.2 418.2 101.1 418.4 100.3 418.7 103.6 418.9 103.7 419.1 104.8 419.4 106.1 419.6 107.0 419.8 104.8 420.0 104.2 420.3 104.9 420.5 104.3 420.7 104.8 421.0 108.3 421.2 105.5 421.4 105.8 421.7 106.6 421.9 106.0 422.1 104.9 422.3 106.7 422.6 106.1 422.8 109.1 423.0 108.3 423.3 106.1 423.5 107.8 423.7 106.1 424.0 107.8 424.2 104.1 424.4 106.1 424.6 107.8 424.9 107.7 425.1 107.8 425.3 108.0 425.6 109.1 425.8 110.0 426.0 107.1 426.3 109.4 426.5 108.6 426.7 107.3 426.9 107.9 427.2 109.9 427.4 108.1 427.6 107.5 427.9 107.6 428.1 107.4 428.3 105.6 428.6 106.0 428.8 107.7 429.0 108.1 429.2 110.3 429.5 108.2 429.7 109.3 429.9 107.6 430.2 108.0 430.4 110.0 430.6 107.1 430.9 108.2 431.1 110.6 431.3 107.2 431.5 106.3 431.8 107.7 432.0 108.9 432.2 108.7 432.5 108.8 432.7 110.7 432.9 108.2 433.2 109.3 433.4 107.4 433.6 107.6 433.8 108.9 434.1 108.4 434.3 108.5 434.5 107.2 434.8 109.0 435.0 109.5 435.2 108.2 435.5 109.8 435.7 110.2 435.9 104.6 436.1 109.2 436.4 110.0 436.6 110.0 436.8 108.0 437.1 107.2 437.3 107.7 437.5 108.8 437.8 109.7 438.0 107.9 438.2 108.7 438.4 108.6 438.7 106.6 438.9 108.2 439.1 107.9 439.4 107.4 439.6 107.5 439.8 106.2 440.1 107.8 440.3 105.6 440.5 107.7 440.7 106.8 441.0 105.9 441.2 105.1 441.4 106.2 441.7 104.5 441.9 104.3 442.1 103.1 442.4 104.3 442.6 105.3 442.8 103.5 443.0 103.7 443.3 102.2 443.5 102.9 443.7 102.6 444.0 104.1 444.2 103.2 444.4 101.8 444.7 102.8 444.9 102.6 445.1 100.6 445.3 101.6 445.6 101.4 445.8 101.3 446.0 100.6 446.3 102.3 446.5 101.4 446.7 102.4 447.0 102.9 447.2 102.8 447.4 103.6 447.6 103.8 447.9 105.0 448.1 103.5 448.3 104.1 448.6 104.9 448.8 107.8 449.0 107.9 449.3 103.6 449.5 106.3 449.7 109.6 449.9 106.0 450.2 107.9 450.4 107.2 450.6 104.5 450.9 106.3 451.1 106.0 451.3 107.6 451.6 109.5 451.8 105.3 452.0 106.1 452.2 107.3 452.5 107.3 452.7 108.5 452.9 108.4 453.2 107.1 453.4 107.2 453.6 109.3 453.9 109.9 454.1 108.0 454.3 109.6 454.5 108.8 454.8 108.5 455.0 107.4 455.2 107.5 455.5 109.1 455.7 109.4 455.9 108.6 456.2 107.7 456.4 106.0 456.6 107.6 456.8 106.2 457.1 106.9 457.3 109.3 457.5 104.9 457.8 105.9 458.0 107.6 458.2 105.9 458.5 106.7 458.7 108.3 458.9 107.5 459.1 108.3 459.4 107.5 459.6 105.5 459.8 107.7 460.1 105.9 460.3 106.3 460.5 107.9 460.8 106.2 461.0 104.4 461.2 106.7 461.4 104.0 461.7 103.1 461.9 105.7 462.1 105.0 462.4 106.5 462.6 105.5 462.8 106.9 463.1 107.3 463.3 103.0 463.5 106.1 463.7 104.6 464.0 105.5 464.2 103.7 464.4 103.3 464.7 101.1 464.9 103.4 465.1 101.0 465.4 102.0 465.6 105.0 465.8 104.0 466.0 102.6 466.3 104.9 466.5 102.7 466.7 101.3 467.0 99.9 467.2 101.6 467.4 101.2 467.7 102.4 467.9 99.5 468.1 98.1 468.3 98.6 468.6 97.0 468.8 97.3 469.0 98.0 469.3 98.3 469.5 98.7 469.7 99.6 470.0 101.3 470.2 100.4 470.4 100.8 470.6 101.6 470.9 102.2 471.1 104.0 471.3 100.8 471.6 104.5 471.8 104.8 472.0 105.8 472.3 106.9 472.5 106.4 472.7 106.0 472.9 105.3 473.2 106.9 473.4 106.9 473.6 106.0 473.9 106.5 474.1 107.1 474.3 106.2 474.6 105.8 474.8 108.9 475.0 106.9 475.2 107.2 475.5 109.5 475.7 109.0 475.9 108.3 476.2 107.4 476.4 106.9 476.6 108.0 476.9 105.8 477.1 108.0 477.3 108.5 477.5 107.4 477.8 106.6 478.0 110.4 478.2 107.0 478.5 107.4 478.7 108.7 478.9 109.5 479.2 108.7 479.4 107.5 479.6 108.4 479.8 109.9 480.1 108.0 480.3 108.3 480.5 109.1 480.8 107.3 481.0 108.2 481.2 106.8 481.5 107.7 481.7 106.5 481.9 107.4 482.1 108.2 482.4 107.9 482.6 108.2 482.8 107.5 483.1 106.4 483.3 106.4 483.5 108.6 483.8 108.5 484.0 107.5 484.2 107.7 484.4 110.4 484.7 109.8 484.9 108.0 485.1 107.0 485.4 108.8 485.6 108.1 485.8 107.5 486.1 107.2 486.3 109.6 486.5 108.8 486.7 108.8 487.0 108.0 487.2 108.7 487.4 108.5 487.7 104.9 487.9 108.8 488.1 108.9 488.4 107.5 488.6 108.7 488.8 107.0 489.0 107.2 489.3 104.8 489.5 111.0 489.7 108.9 490.0 108.4 490.2 107.0 490.4 107.0 490.7 108.1 490.9 108.9 491.1 108.5 491.3 107.4 491.6 109.9 491.8 109.8 492.0 108.2 492.3 111.7 492.5 109.6 492.7 107.3 493.0 107.7 493.2 106.3 493.4 108.1 493.6 106.3 493.9 109.3 494.1 108.3 494.3 108.2 494.6 107.8 494.8 105.0 495.0 103.8 495.3 105.6 495.5 106.5 495.7 105.5 495.9 106.2 496.2 104.4 496.4 104.6 496.6 101.8 496.9 104.2 497.1 103.2 497.3 106.1 497.6 104.0 497.8 104.8 498.0 100.8 498.2 100.8 498.5 100.7 498.7 101.6 498.9 101.4 499.2 100.2 499.4 101.5 499.6 99.2 499.9 100.4 500.1 100.8 500.3 99.9 500.5 98.9 500.8 100.5 501.0 99.5 501.2 99.8 501.5 100.2 501.7 100.0 501.9 100.6 502.2 98.4 502.4 100.6 502.6 98.8 502.8 99.9 503.1 103.6 503.3 101.8 503.5 101.7 503.8 102.6 504.0 100.9 504.2 101.4 504.5 101.5 504.7 104.0 504.9 99.6 505.1 104.0 505.4 101.6 505.6 103.5 505.8 103.2 506.1 102.4 506.3 102.7 506.5 101.8 506.8 106.1 507.0 105.5 507.2 105.1 507.4 104.7 507.7 106.7 507.9 102.8 508.1 101.8 508.4 102.8 508.6 102.4 508.8 102.2 509.1 102.1 509.3 98.3 509.5 100.6 509.7 101.8 510.0 102.6 510.2 100.3 510.4 96.5 510.7 98.2 510.9 96.9 511.1 100.6 511.4 93.9 511.6 95.8 511.8 98.1 512.0 91.8 512.3 93.4 512.5 90.5 512.7 92.8 513.0 92.5 513.2 90.5 513.4 89.2 513.7 91.5 513.9 86.6 514.1 89.3 514.3 86.8 514.6 88.1 514.8 87.6 515.0 85.4 515.3 86.7 515.5 84.9 515.7 87.9 516.0 85.3 516.2 85.8 516.4 85.7 516.6 86.2 516.9 83.5 517.1 84.7 517.3 83.6 517.6 84.9 517.8 86.2 518.0 87.5 518.3 87.0 518.5 87.6 518.7 87.3 518.9 93.1 519.2 89.8 519.4 97.1 519.6 92.3 519.9 94.7 520.1 93.4 520.3 95.0 520.6 96.4 520.8 97.1 521.0 97.3 521.2 97.9 521.5 99.3 521.7 99.8 521.9 102.2 522.2 102.6 522.4 100.7 522.6 103.2 522.9 104.0 523.1 105.3 523.3 104.1 523.5 106.2 523.8 105.5 524.0 105.8 524.2 105.9 524.5 106.1 524.7 107.6 524.9 106.3 525.2 106.9 525.4 107.2 525.6 108.2 525.8 104.7 526.1 105.2 526.3 107.3 526.5 108.3 526.8 105.7 527.0 108.5 527.2 106.8 527.5 108.0 527.7 106.7 527.9 107.0 528.1 108.0 528.4 109.3 528.6 106.2 528.8 104.3 529.1 106.7 529.3 106.8 529.5 105.8 529.8 106.5 530.0 104.7 530.2 104.9 530.4 106.1 530.7 104.7 530.9 106.6 531.1 105.8 531.4 103.2 531.6 103.2 531.8 104.5 532.1 104.4 532.3 102.5 532.5 102.6 532.7 103.6 533.0 103.2 533.2 103.4 533.4 105.0 533.7 104.9 533.9 104.4 534.1 104.2 534.4 104.0 534.6 104.9 534.8 101.8 535.0 104.1 535.3 104.9 535.5 103.9 535.7 106.0 536.0 102.5 536.2 106.6 536.4 104.9 536.7 104.8 536.9 107.0 537.1 105.1 537.3 107.2 537.6 106.7 537.8 107.6 538.0 108.2 538.3 107.5 538.5 106.9 538.7 108.3 539.0 108.1 539.2 107.4 539.4 110.0 539.6 107.8 539.9 107.6 540.1 109.6 540.3 110.5 540.6 109.1 540.8 108.6 541.0 107.5 541.3 109.5 541.5 105.4 541.7 108.5 541.9 108.9 542.2 109.6 542.4 106.9 542.6 109.0 542.9 106.2 543.1 111.1 543.3 107.7 543.6 107.8 543.8 105.9 544.0 108.9 544.2 107.9 544.5 109.0 544.7 107.5 544.9 109.1 545.2 107.4 545.4 108.7 545.6 107.7 545.9 112.0 546.1 109.4 546.3 107.4 546.5 108.8 546.8 107.4 547.0 107.8 547.2 109.2 547.5 110.2 547.7 109.4 547.9 108.8 548.2 109.7 548.4 109.2 548.6 109.6 548.8 110.3 549.1 110.0 549.3 107.9 549.5 107.8 549.8 109.8 550.0 108.4 550.2 108.6 550.5 108.0 550.7 106.8 550.9 109.6 551.1 108.9 551.4 110.4 551.6 108.6 551.8 109.5 552.1 110.5 552.3 108.9 552.5 109.3 552.8 109.0 553.0 110.3 553.2 108.8 553.4 110.7 553.7 107.8 553.9 108.7 554.1 110.8 554.4 110.8 554.6 110.1 554.8 107.3 555.1 109.8 555.3 108.6 555.5 109.2 555.7 110.9 556.0 110.4 556.2 110.3 556.4 108.6 556.7 108.9 556.9 109.4 557.1 110.1 557.4 110.7 557.6 113.2 557.8 110.7 558.0 109.6 558.3 111.6 558.5 110.1 558.7 109.8 559.0 109.2 559.2 110.1 559.4 110.4 559.7 110.5 559.9 110.4 560.1 110.7 560.3 107.8 560.6 110.6 560.8 109.2 561.0 110.5 561.3 109.2 561.5 110.7 561.7 108.7 562.0 110.7 562.2 109.6 562.4 110.7 562.6 110.7 562.9 109.2 563.1 108.4 563.3 109.4 563.6 111.5 563.8 109.5 564.0 110.1 564.3 110.7 564.5 109.3 564.7 109.9 564.9 111.4 565.2 108.6 565.4 110.9 565.6 111.2 565.9 108.2 566.1 111.4 566.3 108.9 566.6 110.9 566.8 111.0 567.0 110.5 567.2 111.5 567.5 111.7 567.7 110.4 567.9 110.3 568.2 108.5 568.4 110.5 568.6 111.6 568.9 110.3 569.1 110.5 569.3 112.8 569.5 110.2 569.8 109.3 570.0 111.0 570.2 111.5 570.5 110.0 570.7 108.0 570.9 109.7 571.2 111.3 571.4 110.1 571.6 112.8 571.8 109.3 572.1 110.5 572.3 109.9 572.5 111.7 572.8 111.4 573.0 110.1 573.2 111.3 573.5 111.4 573.7 112.0 573.9 111.3 574.1 111.2 574.4 109.1 574.6 111.2 574.8 109.0 575.1 112.1 575.3 110.4 575.5 109.8 575.8 110.3 576.0 110.9 576.2 111.2 576.4 110.6 576.7 112.0 576.9 109.1 577.1 110.3 577.4 107.9 577.6 110.8 577.8 110.8 578.1 110.7 578.3 111.7 578.5 110.8 578.7 111.9 579.0 107.5 579.2 110.0 579.4 111.2 579.7 109.3 579.9 109.2 580.1 112.4 580.4 111.9 580.6 112.4 580.8 110.2 581.0 110.7 581.3 110.3 581.5 109.4 581.7 110.9 582.0 109.7 582.2 109.5 582.4 109.2 582.7 108.2 582.9 107.1 583.1 109.9 583.3 107.3 583.6 108.7 583.8 108.7 584.0 109.8 584.3 107.7 584.5 108.9 584.7 109.0 585.0 110.2 585.2 109.0 585.4 108.6 585.6 106.5 585.9 107.3 586.1 104.3 586.3 103.2 586.6 104.7 586.8 106.0 587.0 105.0 587.3 105.8 587.5 107.0 587.7 103.9 587.9 103.3 588.2 105.4 588.4 104.1 588.6 103.3 588.9 105.6 589.1 102.9 589.3 102.8 589.6 103.3 589.8 103.7 590.0 103.7 590.2 102.7 590.5 101.3 590.7 102.1 590.9 104.1 591.2 103.7 591.4 102.9 591.6 102.5 591.9 101.5 592.1 100.6 592.3 101.2 592.5 101.9 592.8 101.0 593.0 103.0 593.2 101.2 593.5 102.7 593.7 103.0 593.9 105.1 594.2 105.3 594.4 103.3 594.6 102.1 594.8 104.0 595.1 107.6 595.3 107.5 595.5 109.7 595.8 107.4 596.0 109.7 596.2 108.6 596.5 109.4 596.7 109.2 596.9 111.9 597.1 110.8 597.4 111.3 597.6 110.7 597.8 111.3 598.1 111.0 598.3 110.4 598.5 111.1 598.8 108.6 599.0 109.4 599.2 108.0 599.4 108.8 599.7 107.6 599.9 107.1 600.1 106.7 600.4 107.8 600.6 108.1 600.8 105.1 601.1 106.7 601.3 107.8 601.5 106.4 601.7 108.1 602.0 106.2 602.2 106.5 602.4 107.8 602.7 105.3 602.9 105.6 603.1 107.7 603.4 106.9 603.6 104.8 603.8 104.8 604.0 107.1 604.3 105.8 604.5 106.1 604.7 108.0 605.0 104.8 605.2 106.0 605.4 107.0 605.7 105.5 605.9 104.3 606.1 105.0 606.3 104.9 606.6 103.6 606.8 106.1 607.0 103.1 607.3 104.2 607.5 102.2 607.7 104.4 608.0 104.0 608.2 103.2 608.4 104.4 608.6 104.5 608.9 104.1 609.1 101.4 609.3 104.4 609.6 102.7 609.8 102.5 610.0 104.3 610.3 105.2 610.5 105.8 610.7 104.2 610.9 103.1 611.2 104.8 611.4 104.6 611.6 103.4 611.9 102.8 612.1 105.6 612.3 104.7 612.6 102.6 612.8 106.5 613.0 104.3 613.2 106.4 613.5 103.5 613.7 105.0 613.9 102.6 614.2 107.8 614.4 106.8 614.6 106.2 614.9 107.3 615.1 107.7 615.3 107.4 615.5 105.9 615.8 108.6 616.0 107.3 616.2 108.5 616.5 107.8 616.7 108.5 616.9 108.9 617.2 109.4 617.4 110.2 617.6 110.8 617.8 109.9 618.1 110.9 618.3 109.4 618.5 110.1 618.8 108.2 619.0 109.2 619.2 109.9 619.5 107.1 619.7 107.7 619.9 107.2 620.1 108.8 620.4 109.6 620.6 110.2 620.8 109.2 621.1 108.7 621.3 108.1 621.5 107.2 621.8 107.4 622.0 110.5 622.2 107.1 622.4 108.0 622.7 109.3 622.9 107.9 623.1 107.0 623.4 107.7 623.6 107.2 623.8 106.8 624.1 107.7 624.3 106.7 624.5 107.8 624.7 106.9 625.0 106.5 625.2 105.2 625.4 106.0 625.7 108.4 625.9 108.6 626.1 108.7 626.4 110.3 626.6 107.1 626.8 108.3 627.0 108.4 627.3 108.2 627.5 106.5 627.7 106.0 628.0 110.0 628.2 107.7 628.4 107.4 628.7 109.4 628.9 107.4 629.1 107.6 629.3 109.1 629.6 108.1 629.8 109.2 630.0 110.0 630.3 107.7 630.5 108.5 630.7 109.0 631.0 106.2 631.2 110.3 631.4 107.7 631.6 110.1 631.9 107.8 632.1 110.3 632.3 108.9 632.6 108.5 632.8 110.6 633.0 109.3 633.3 110.0 633.5 108.9 633.7 110.2 633.9 110.7 634.2 110.2 634.4 110.3 634.6 109.3 634.9 110.7 635.1 111.5 635.3 109.1 635.6 109.4 635.8 108.7 636.0 108.2 636.2 110.0 636.5 108.1 636.7 110.0 636.9 110.3 637.2 110.4 637.4 110.3 637.6 110.7 637.9 108.8 638.1 108.8 638.3 110.7 638.5 111.2 638.8 109.8 639.0 109.1 639.2 110.8 639.5 110.9 639.7 110.3 639.9 110.8 640.2 112.3 640.4 107.6 640.6 110.1 640.8 110.1 641.1 113.4 641.3 111.2 641.5 110.8 641.8 111.9 642.0 111.0 642.2 110.6 642.5 109.2 642.7 111.9 642.9 110.7 643.1 110.7 643.4 109.8 643.6 111.4 643.8 110.9 644.1 111.9 644.3 109.9 644.5 111.3 644.8 109.0 645.0 111.7 645.2 112.6 645.4 110.1 645.7 111.6 645.9 111.4 646.1 110.7 646.4 113.1 646.6 112.2 646.8 110.1 647.1 110.7 647.3 111.4 647.5 111.0 647.7 111.6 648.0 110.1 648.2 111.4 648.4 109.8 648.7 111.7 648.9 110.4 649.1 111.2 649.4 109.9 649.6 112.2 649.8 110.6 650.0 110.6 650.3 112.8 650.5 110.9 650.7 109.7 651.0 110.5 651.2 110.7 651.4 111.7 651.7 111.4 651.9 111.9 652.1 109.4 652.3 111.3 652.6 112.1 652.8 109.7 653.0 111.7 653.3 111.2 653.5 110.5 653.7 112.9 654.0 109.8 654.2 111.4 654.4 112.3 654.6 113.3 654.9 112.7 655.1 110.1 655.3 109.6 655.6 109.3 655.8 112.2 656.0 109.6 656.3 110.5 656.5 113.5 656.7 110.4 656.9 111.1 657.2 110.7 657.4 109.6 657.6 110.6 657.9 111.4 658.1 112.8 658.3 111.6 658.6 110.5 658.8 111.1 659.0 110.6 659.2 111.4 659.5 111.5 659.7 113.1 659.9 110.4 660.2 111.6 660.4 112.4 660.6 108.8 660.9 114.5 661.1 111.1 661.3 111.2 661.5 112.0 661.8 111.8 662.0 112.7 662.2 112.3 662.5 111.8 662.7 112.1 662.9 111.9 663.2 111.4 663.4 110.4 663.6 110.9 663.8 110.6 664.1 110.9 664.3 112.6 664.5 112.8 664.8 111.1 665.0 111.6 665.2 109.4 665.5 112.0 665.7 112.1 665.9 110.6 666.1 111.4 666.4 109.5 666.6 110.2 666.8 111.5 667.1 113.6 667.3 111.6 667.5 111.8 667.8 111.5 668.0 112.9 668.2 112.4 668.4 111.0 668.7 109.2 668.9 110.8 669.1 107.9 669.4 112.4 669.6 110.6 669.8 111.4 670.1 112.2 670.3 112.1 670.5 109.5 670.7 109.3 671.0 110.5 671.2 109.5 671.4 111.7 671.7 111.1 671.9 110.8 672.1 110.3 672.4 111.9 672.6 110.9 672.8 111.8 673.0 109.4 673.3 109.5 673.5 111.4 673.7 111.6 674.0 110.4 674.2 110.2 674.4 110.0 674.7 112.4 674.9 111.5 675.1 110.7 675.3 111.6 675.6 110.7 675.8 110.6 676.0 110.6 676.3 110.0 676.5 108.8 676.7 110.9 677.0 110.5 677.2 109.9 677.4 110.0 677.6 109.1 677.9 110.4 678.1 110.4 678.3 109.5 678.6 109.2 678.8 110.2 679.0 109.7 679.3 109.7 679.5 109.4 679.7 109.5 679.9 107.2 680.2 109.6 680.4 110.3 680.6 107.8 680.9 110.7 681.1 108.7 681.3 111.4 681.6 110.5 681.8 108.6 682.0 110.5 682.2 109.4 682.5 111.3 682.7 109.2 682.9 110.9 683.2 109.9 683.4 109.5 683.6 110.3 683.9 108.8 684.1 110.7 684.3 111.2 684.5 110.1 684.8 110.1 685.0 110.7 685.2 110.8 685.5 110.0 685.7 111.7 685.9 108.1 686.2 108.8 686.4 108.8 686.6 111.3 686.8 110.7 687.1 108.4 687.3 107.1 687.5 107.2 687.8 109.2 688.0 105.3 688.2 108.2 688.5 108.1 688.7 108.2 688.9 109.9 689.1 108.3 689.4 107.4 689.6 106.4 689.8 107.3 690.1 107.2 690.3 108.1 690.5 105.0 690.8 105.4 691.0 105.2 691.2 105.3 691.4 103.9 691.7 104.7 691.9 105.4 692.1 104.8 692.4 104.4 692.6 104.9 692.8 102.8 693.1 105.2 693.3 104.3 693.5 105.9 693.7 105.9 694.0 104.9 694.2 105.4 694.4 106.4 694.7 107.4 694.9 106.2 695.1 107.2 695.4 109.7 695.6 109.2 695.8 108.4 696.0 109.5 696.3 110.4 696.5 108.3 696.7 108.6 697.0 109.9 697.2 109.9 697.4 110.8 697.7 109.4 697.9 109.6 698.1 109.0 698.3 108.5 698.6 108.1 698.8 111.5 699.0 109.4 699.3 110.5 699.5 109.0 699.7 112.1 700.0 110.3 700.2 109.9 700.4 110.8 700.6 109.7 700.9 109.0 701.1 111.2 701.3 109.5 701.6 109.3 701.8 109.4 702.0 111.4 702.3 110.1 702.5 110.6 702.7 108.9 702.9 110.9 703.2 110.0 703.4 109.1 703.6 107.8 703.9 109.4 704.1 109.1 704.3 111.6 704.6 109.1 704.8 108.7 705.0 109.9 705.2 110.1 705.5 109.2 705.7 108.9 705.9 111.1 706.2 111.7 706.4 109.5 706.6 110.4 706.9 110.3 707.1 109.3 707.3 109.7 707.5 111.1 707.8 110.7 708.0 111.3 708.2 111.5 708.5 111.4 708.7 108.6 708.9 111.4 709.2 111.2 709.4 108.1 709.6 109.3 709.8 110.3 710.1 110.8 710.3 113.0 710.5 110.0 710.8 113.6 711.0 109.5 711.2 111.5 711.5 108.2 711.7 109.5 711.9 108.4 712.1 110.2 712.4 110.6 712.6 110.2 712.8 109.9 713.1 112.4 713.3 111.6 713.5 109.1 713.8 110.4 714.0 110.3 714.2 110.9 714.4 110.6 714.7 111.1 714.9 112.0 715.1 111.3 715.4 110.7 715.6 111.0 715.8 111.0 716.1 110.1 716.3 108.5 716.5 110.4 716.7 109.9 717.0 111.7 717.2 109.2 717.4 110.9 717.7 111.1 717.9 109.9 718.1 111.9 718.4 110.7 718.6 111.0 718.8 111.4 719.0 110.5 719.3 111.5 719.5 112.7 719.7 111.6 720.0 108.0 720.2 112.3 720.4 113.3 720.7 109.5 720.9 111.8 721.1 109.9 721.3 111.0 721.6 111.0 721.8 111.1 722.0 111.5 722.3 111.7 722.5 112.3 722.7 111.2 723.0 109.8 723.2 110.6 723.4 111.6 723.6 108.6 723.9 111.8 724.1 112.1 724.3 109.9 724.6 109.8 724.8 111.3 725.0 111.5 725.3 109.9 725.5 112.4 725.7 110.4 725.9 110.7 726.2 111.7 726.4 112.3 726.6 112.5 726.9 110.6 727.1 111.7 727.3 112.1 727.6 112.0 727.8 111.6 728.0 111.0 728.2 111.4 728.5 111.5 728.7 109.4 728.9 112.2 729.2 111.0 729.4 112.0 729.6 111.5 729.9 111.9 730.1 111.9 730.3 110.5 730.5 112.3 730.8 112.1 731.0 111.5 731.2 111.0 731.5 112.1 731.7 111.3 731.9 111.5 732.2 110.9 732.4 110.4 732.6 112.7 732.8 110.7 733.1 109.0 733.3 111.3 733.5 111.8 733.8 112.0 734.0 112.2 734.2 111.4 734.5 109.3 734.7 109.6 734.9 111.2 735.1 112.3 735.4 112.0 735.6 110.6 735.8 112.3 736.1 112.4 736.3 110.2 736.5 111.7 736.8 112.1 737.0 112.1 737.2 110.9 737.4 110.6 737.7 111.3 737.9 112.2 738.1 113.2 738.4 110.3 738.6 111.6 738.8 112.3 739.1 110.9 739.3 114.3 739.5 112.5 739.7 111.4 740.0 109.0 740.2 112.2 740.4 110.6 740.7 111.1 740.9 110.4 741.1 110.7 741.4 111.7 741.6 111.0 741.8 112.3 742.0 110.7 742.3 114.7 742.5 111.8 742.7 111.0 743.0 109.1 743.2 110.4 743.4 108.9 743.7 112.0 743.9 111.8 744.1 110.2 744.3 112.1 744.6 109.8 744.8 111.4 745.0 113.1 745.3 111.8 745.5 113.2 745.7 110.9 746.0 111.5 746.2 110.5 746.4 112.2 746.6 112.1 746.9 111.6 747.1 112.7 747.3 110.7 747.6 111.6 747.8 111.2 748.0 109.1 748.3 110.0 748.5 112.1 748.7 112.5 748.9 111.1 749.2 111.0 749.4 109.9 749.6 110.5 749.9 113.5 750.1 108.3 750.3 109.7 750.6 109.5 750.8 111.4 751.0 110.6 751.2 107.2 751.5 109.6 751.7 108.9 751.9 109.7 752.2 108.5 752.4 110.2 752.6 109.2 752.9 109.8 753.1 109.0 753.3 107.5 753.5 107.8 753.8 108.5 754.0 107.0 754.2 107.0 754.5 107.4 754.7 107.6 754.9 105.9 755.2 108.1 755.4 107.5 755.6 105.7 755.8 106.0 756.1 106.9 756.3 106.6 756.5 104.8 756.8 107.5 757.0 105.8 757.2 107.3 757.5 105.7 757.7 106.7 757.9 105.7 758.1 107.4 758.4 105.6 758.6 107.3 758.8 106.9 759.1 110.8 759.3 106.2 759.5 109.3 759.8 108.7 760.0 108.0 760.2 109.1 760.4 107.6 760.7 109.2 760.9 109.2 761.1 109.3 761.4 110.9 761.6 109.0 761.8 111.3 762.1 109.6 762.3 110.1 762.5 109.6 762.7 110.3 763.0 108.9 763.2 110.1 763.4 110.0 763.7 110.4 763.9 113.2 764.1 108.8 764.4 110.6 764.6 109.2 764.8 110.6 765.0 110.6 765.3 110.2 765.5 112.3 765.7 111.0 766.0 110.9 766.2 111.0 766.4 108.8 766.7 108.7 766.9 109.5 767.1 110.0 767.3 109.7 767.6 111.4 767.8 110.7 768.0 111.2 768.3 110.6 768.5 110.2 768.7 109.3 769.0 110.1 769.2 109.2 769.4 108.9 769.6 108.3 769.9 111.1 770.1 109.3 770.3 108.6 770.6 109.7 770.8 110.0 771.0 108.4 771.3 110.9 771.5 107.2 771.7 109.3 771.9 109.3 772.2 109.6 772.4 108.8 772.6 107.1 772.9 110.5 773.1 111.0 773.3 108.5 773.6 110.7 773.8 109.8 774.0 111.7 774.2 110.4 774.5 109.5 774.7 112.3 774.9 111.0 775.2 108.6 775.4 110.6 775.6 110.6 775.9 112.5 776.1 109.2 776.3 110.5 776.5 109.0 776.8 112.8 777.0 110.3 777.2 109.3 777.5 112.3 777.7 111.2 777.9 110.8 778.2 109.3 778.4 111.5 778.6 109.8 778.8 111.0 779.1 112.2 779.3 109.9 779.5 110.0 779.8 111.8 780.0 113.3 780.2 112.3 780.5 113.6 780.7 112.4 780.9 111.2 781.1 111.9 781.4 110.0 781.6 110.6 781.8 111.2 782.1 114.7 782.3 110.8 782.5 113.1 782.8 111.4 783.0 111.1 783.2 111.4 783.4 112.2 783.7 110.7 783.9 114.3 784.1 110.8 784.4 111.1 784.6 111.6 784.8 110.9 785.1 112.1 785.3 111.5 785.5 112.9 785.7 107.6 786.0 112.3 786.2 110.7 786.4 112.4 786.7 109.7 786.9 114.6 787.1 110.3 787.4 111.0 787.6 110.1 787.8 110.9 788.0 111.6 788.3 111.4 788.5 111.4 788.7 108.4 789.0 111.8 789.2 110.0 789.4 109.5 789.7 110.3 789.9 110.9 790.1 112.0 790.3 110.4 790.6 110.0 790.8 110.2 791.0 111.1 791.3 108.7 791.5 110.6 791.7 109.3 792.0 110.0 792.2 109.0 792.4 110.3 792.6 110.9 792.9 111.2 793.1 108.6 793.3 109.4 793.6 108.4 793.8 111.5 794.0 110.0 794.3 108.9 794.5 107.6 794.7 108.1 794.9 109.1 795.2 109.8 795.4 110.1 795.6 109.5 795.9 108.8 796.1 110.1 796.3 111.2 796.6 111.9 796.8 109.9 797.0 108.9 797.2 111.8 797.5 111.7 797.7 112.1 797.9 110.4 798.2 111.1 798.4 111.1 798.6 109.6 798.9 110.3 799.1 111.2 799.3 110.6 799.5 111.2 799.8 109.4 800.0 110.8 800.2 111.8 800.5 109.5 800.7 112.5 800.9 112.0 801.2 112.0 801.4 112.4 801.6 111.4 801.8 114.6 802.1 110.3 802.3 113.4 802.5 112.2 802.8 110.7 803.0 115.9 803.2 112.5 803.5 110.3 803.7 114.5 803.9 112.9 804.1 111.4 804.4 111.1 804.6 111.0 804.8 111.2 805.1 111.1 805.3 110.8 805.5 112.4 805.8 110.6 806.0 113.3 806.2 110.6 806.4 112.2 806.7 111.4 806.9 111.7 807.1 110.2 807.4 111.1 807.6 112.5 807.8 112.4 808.1 112.5 808.3 111.0 808.5 110.1 808.7 111.9 809.0 111.8 809.2 112.2 809.4 111.5 809.7 111.2 809.9 112.2 810.1 111.6 810.4 111.1 810.6 111.3 810.8 111.6 811.0 109.6 811.3 109.8 811.5 111.0 811.7 109.9 812.0 111.4 812.2 111.6 812.4 111.3 812.7 112.2 812.9 110.9 813.1 109.1 813.3 109.9 813.6 112.8 813.8 110.1 814.0 112.1 814.3 110.4 814.5 111.8 814.7 111.6 815.0 110.6 815.2 111.0 815.4 111.4 815.6 108.5 815.9 110.6 816.1 110.8 816.3 109.7 816.6 110.4 816.8 109.3 817.0 110.4 817.3 111.4 817.5 109.7 817.7 111.6 817.9 111.1 818.2 109.3 818.4 110.8 818.6 110.0 818.9 109.9 819.1 110.6 819.3 108.9 819.6 109.3 819.8 108.5 820.0 110.1 820.2 107.3 820.5 110.1 820.7 108.5 820.9 109.4 821.2 111.4 821.4 107.6 821.6 110.7 821.9 109.9 822.1 107.7 822.3 108.4 822.5 109.2 822.8 106.7 823.0 109.9 823.2 107.1 823.5 108.1 823.7 108.3 823.9 108.2 824.2 108.3 824.4 109.3 824.6 107.5 824.8 108.5 825.1 108.9 825.3 108.2 825.5 107.5 825.8 108.4 826.0 110.1 826.2 108.6 826.5 108.8 826.7 108.6 826.9 108.2 827.1 109.1 827.4 108.5 827.6 109.2 827.8 108.9 828.1 107.0 828.3 109.0 828.5 109.5 828.8 108.1 829.0 111.9 829.2 108.2 829.4 110.2 829.7 110.0 829.9 110.4 830.1 107.2 830.4 109.5 830.6 109.2 830.8 110.0 831.1 109.8 831.3 109.0 831.5 110.1 831.7 108.1 832.0 109.0 832.2 108.2 832.4 109.3 832.7 108.0 832.9 108.3 833.1 109.0 833.4 109.9 833.6 109.4 833.8 105.9 834.0 110.0 834.3 109.6 834.5 107.4 834.7 110.1 835.0 109.6 835.2 110.0 835.4 110.3 835.7 108.1 835.9 110.1 836.1 110.9 836.3 107.9 836.6 110.3 836.8 106.3 837.0 108.0 837.3 109.7 837.5 108.6 837.7 111.2 838.0 108.6 838.2 107.8 838.4 110.3 838.6 108.1 838.9 108.7 839.1 109.1 839.3 109.2 839.6 109.7 839.8 108.7 840.0 108.8 840.3 106.8 840.5 107.5 840.7 107.2 840.9 107.4 841.2 107.2 841.4 106.1 841.6 106.6 841.9 106.0 842.1 107.0 842.3 109.4 842.6 105.4 842.8 108.1 843.0 106.9 843.2 105.2 843.5 106.3 843.7 105.5 843.9 106.2 844.2 106.6 844.4 108.1 844.6 105.5 844.9 105.8 845.1 107.9 845.3 106.8 845.5 106.5 845.8 108.6 846.0 105.1 846.2 105.9 846.5 105.6 846.7 105.9 846.9 107.5 847.2 106.4 847.4 107.3 847.6 106.5 847.8 106.8 848.1 109.0 848.3 107.7 848.5 108.2 848.8 106.0 849.0 106.7 849.2 107.4 849.5 108.1 849.7 108.1 849.9 107.5 850.1 107.7 850.4 109.1 850.6 108.8 850.8 109.7 851.1 107.8 851.3 109.1 851.5 110.8 851.8 111.3 852.0 108.0 852.2 109.0 852.4 109.6 852.7 108.7 852.9 109.4 853.1 109.5 853.4 109.5 853.6 110.6 853.8 110.9 854.1 109.8 854.3 109.6 854.5 110.0 854.7 111.2 855.0 108.8 855.2 109.8 855.4 109.8 855.7 110.6 855.9 111.1 856.1 111.6 856.4 112.8 856.6 111.7 856.8 110.5 857.0 112.9 857.3 110.0 857.5 112.3 857.7 110.4 858.0 108.6 858.2 110.2 858.4 111.2 858.7 112.0 858.9 109.9 859.1 112.5 859.3 111.3 859.6 112.1 859.8 111.5 860.0 111.3 860.3 111.9 860.5 111.2 860.7 112.1 861.0 112.6 861.2 113.8 861.4 113.1 861.6 111.3 861.9 110.3 862.1 111.5 862.3 112.5 862.6 111.2 862.8 110.4 863.0 110.3 863.3 110.5 863.5 110.7 863.7 110.9 863.9 111.3 864.2 112.2 864.4 112.7 864.6 113.4 864.9 112.5 865.1 114.1 865.3 114.1 865.6 113.8 865.8 112.4 866.0 112.7 866.2 113.3 866.5 110.9 866.7 112.4 866.9 112.5 867.2 112.8 867.4 112.9 867.6 113.2 867.9 112.9 868.1 114.2 868.3 112.0 868.5 109.7 868.8 113.2 869.0 112.6 869.2 112.2 869.5 112.5 869.7 112.3 869.9 110.9 870.2 113.0 870.4 112.9 870.6 112.9 870.8 113.5" fill="none" stroke="#cf9a05" stroke-width="1.15" stroke-linejoin="round"/>
<rect x="74.4" y="4.9" width="797.80" height="609.30" fill="none" stroke="#000" stroke-width="3.3" stroke-linejoin="round"/>
<rect x="73.4" y="616.4" width="798.10" height="211.80" fill="none" stroke="#000" stroke-width="3.3" stroke-linejoin="round"/>
<line x1="188.37" y1="615" x2="188.37" y2="600.5" stroke="#000" stroke-width="3.4" stroke-linecap="round"/>
<line x1="416.31" y1="615" x2="416.31" y2="600.5" stroke="#000" stroke-width="3.4" stroke-linecap="round"/>
<line x1="644.26" y1="615" x2="644.26" y2="600.5" stroke="#000" stroke-width="3.4" stroke-linecap="round"/>
<line x1="302.34" y1="615" x2="302.34" y2="608" stroke="#000" stroke-width="3.4" stroke-linecap="round"/>
<line x1="530.29" y1="615" x2="530.29" y2="608" stroke="#000" stroke-width="3.4" stroke-linecap="round"/>
<line x1="758.23" y1="615" x2="758.23" y2="608" stroke="#000" stroke-width="3.4" stroke-linecap="round"/>
<line x1="73.40" y1="828" x2="73.40" y2="842" stroke="#000" stroke-width="3.3" stroke-linecap="round"/>
<line x1="187.41" y1="828" x2="187.41" y2="842" stroke="#000" stroke-width="3.3" stroke-linecap="round"/>
<line x1="301.43" y1="828" x2="301.43" y2="842" stroke="#000" stroke-width="3.3" stroke-linecap="round"/>
<line x1="415.44" y1="828" x2="415.44" y2="842" stroke="#000" stroke-width="3.3" stroke-linecap="round"/>
<line x1="529.46" y1="828" x2="529.46" y2="842" stroke="#000" stroke-width="3.3" stroke-linecap="round"/>
<line x1="643.47" y1="828" x2="643.47" y2="842" stroke="#000" stroke-width="3.3" stroke-linecap="round"/>
<line x1="757.49" y1="828" x2="757.49" y2="842" stroke="#000" stroke-width="3.3" stroke-linecap="round"/>
<line x1="871.50" y1="828" x2="871.50" y2="842" stroke="#000" stroke-width="3.3" stroke-linecap="round"/>
<line x1="130.41" y1="828" x2="130.41" y2="834.5" stroke="#000" stroke-width="3.3" stroke-linecap="round"/>
<line x1="244.42" y1="828" x2="244.42" y2="834.5" stroke="#000" stroke-width="3.3" stroke-linecap="round"/>
<line x1="358.44" y1="828" x2="358.44" y2="834.5" stroke="#000" stroke-width="3.3" stroke-linecap="round"/>
<line x1="472.45" y1="828" x2="472.45" y2="834.5" stroke="#000" stroke-width="3.3" stroke-linecap="round"/>
<line x1="586.46" y1="828" x2="586.46" y2="834.5" stroke="#000" stroke-width="3.3" stroke-linecap="round"/>
<line x1="700.48" y1="828" x2="700.48" y2="834.5" stroke="#000" stroke-width="3.3" stroke-linecap="round"/>
<line x1="814.49" y1="828" x2="814.49" y2="834.5" stroke="#000" stroke-width="3.3" stroke-linecap="round"/>
<line x1="140.1" y1="826.6" x2="140.1" y2="786.3" stroke="#1565dc" stroke-width="3.0" stroke-linecap="round"/>
<line x1="272.7" y1="826.6" x2="272.7" y2="765.5" stroke="#1565dc" stroke-width="3.0" stroke-linecap="round"/>
<line x1="281.6" y1="826.6" x2="281.6" y2="733.4" stroke="#1565dc" stroke-width="3.0" stroke-linecap="round"/>
<line x1="303.2" y1="826.6" x2="303.2" y2="786.3" stroke="#1565dc" stroke-width="3.0" stroke-linecap="round"/>
<line x1="412.3" y1="826.6" x2="412.3" y2="765.9" stroke="#1565dc" stroke-width="3.0" stroke-linecap="round"/>
<line x1="515.6" y1="826.6" x2="515.6" y2="765.9" stroke="#1565dc" stroke-width="3.0" stroke-linecap="round"/>
<line x1="593.9" y1="826.6" x2="593.9" y2="808" stroke="#1565dc" stroke-width="3.0" stroke-linecap="round"/>
<line x1="610.3" y1="826.6" x2="610.3" y2="808" stroke="#1565dc" stroke-width="3.0" stroke-linecap="round"/>
<line x1="692.7" y1="826.6" x2="692.7" y2="808.2" stroke="#1565dc" stroke-width="3.0" stroke-linecap="round"/>
<line x1="769.5" y1="826.6" x2="769.5" y2="808.2" stroke="#1565dc" stroke-width="3.0" stroke-linecap="round"/>
<line x1="799.3" y1="826.6" x2="799.3" y2="808.2" stroke="#1565dc" stroke-width="3.0" stroke-linecap="round"/>
<line x1="821.3" y1="826.6" x2="821.3" y2="808.2" stroke="#1565dc" stroke-width="3.0" stroke-linecap="round"/>
<line x1="850.6" y1="826.6" x2="850.6" y2="808.2" stroke="#1565dc" stroke-width="3.0" stroke-linecap="round"/>
<line x1="191.7" y1="826.6" x2="191.7" y2="786.3" stroke="#000" stroke-width="3.0" stroke-linecap="round"/>
<line x1="236.1" y1="826.6" x2="236.1" y2="786.3" stroke="#000" stroke-width="3.0" stroke-linecap="round"/>
<line x1="202.4" y1="826.6" x2="202.4" y2="786.3" stroke="#ff0000" stroke-width="3.2" stroke-linecap="round"/>
<line x1="284.7" y1="826.6" x2="284.7" y2="786.3" stroke="#ff0000" stroke-width="3.2" stroke-linecap="round"/>
<text x="74.71" y="0" font-size="53.5" transform="translate(0,894.9) scale(1,1.015)">0</text>
<path d="M763 0L583 0L583 1147Q518 1085 412 1023Q306 961 217 928L217 1102Q368 1173 481 1274Q594 1375 641 1470L763 1470Z" fill="#000" transform="translate(43.63,894.9) scale(0.02612,-0.02586)"/>
<text x="187.10" y="0" font-size="53.5" text-anchor="middle" transform="translate(0,894.9) scale(1,1.015)">20</text>
<text x="301.00" y="0" font-size="53.5" text-anchor="middle" transform="translate(0,894.9) scale(1,1.015)">30</text>
<text x="414.10" y="0" font-size="53.5" text-anchor="middle" transform="translate(0,894.9) scale(1,1.015)">40</text>
<text x="528.80" y="0" font-size="53.5" text-anchor="middle" transform="translate(0,894.9) scale(1,1.015)">50</text>
<text x="642.80" y="0" font-size="53.5" text-anchor="middle" transform="translate(0,894.9) scale(1,1.015)">60</text>
<text x="757.20" y="0" font-size="53.5" text-anchor="middle" transform="translate(0,894.9) scale(1,1.015)">70</text>
<text x="871.30" y="0" font-size="53.5" text-anchor="middle" transform="translate(0,894.9) scale(1,1.015)">80</text>
<g transform="translate(0,957.6) scale(1,1.015)"><text x="376.2" y="0" font-size="53.5">2</text><text transform="translate(405.7,0) scale(1.15,1)" x="0" y="0" font-size="48" class="serif">θ</text><text x="446.1" y="0" font-size="53.5">(deg)</text></g>
<g transform="translate(46,583.7) rotate(-90) scale(1,1.045)"><text x="-5.5" y="0" font-size="59.4">Intensity (a.u.)</text></g>
<g transform="translate(0,99.7) scale(1,1.04)"><text x="866.1" y="0" font-size="33.4" text-anchor="end">200°C</text></g>
<g transform="translate(0,185.8) scale(1,1.04)"><text x="863.7" y="0" font-size="33.4" text-anchor="end">40°C</text></g>
<path d="M763 0L583 0L583 1147Q518 1085 412 1023Q306 961 217 928L217 1102Q368 1173 481 1274Q594 1375 641 1470L763 1470Z" fill="#000" transform="translate(770.16,185.8) scale(0.01631,-0.01631)"/>
<g transform="translate(0,268.3) scale(1,1.04)"><text x="861.7" y="0" font-size="33.4" text-anchor="end">20°C</text></g>
<path d="M763 0L583 0L583 1147Q518 1085 412 1023Q306 961 217 928L217 1102Q368 1173 481 1274Q594 1375 641 1470L763 1470Z" fill="#000" transform="translate(767.96,268.3) scale(0.01631,-0.01631)"/>
<g transform="translate(0,364.6) scale(1,1.04)"><text x="859.5" y="0" font-size="33.4" text-anchor="end">00°C</text></g>
<path d="M763 0L583 0L583 1147Q518 1085 412 1023Q306 961 217 928L217 1102Q368 1173 481 1274Q594 1375 641 1470L763 1470Z" fill="#000" transform="translate(766.26,364.6) scale(0.01631,-0.01631)"/>
<g transform="translate(0,446.1) scale(1,1.04)"><text x="857.9" y="0" font-size="33.4" text-anchor="end">80°C</text></g>
<g transform="translate(0,540.3) scale(1,1.04)"><text x="863.9" y="0" font-size="33.4" text-anchor="end">As synthesis</text></g>
<g transform="translate(0,642.3) scale(1,1.04)"><text transform="translate(615.7,0) scale(1.06,1)" x="-2.07" y="0" font-size="25.2">PA6</text><text x="668.3" y="0" font-size="22" class="serif">α</text><text x="685.27" y="0" font-size="25.2">phase peaks</text></g>
<g transform="translate(0,686.5) scale(1,1.04)" fill="#ff0000"><text transform="translate(615.7,0) scale(1.04,1)" x="-2.03" y="0" font-size="24.8">PA6</text><text x="673.9" y="0" font-size="25.5" class="serif">γ</text><text x="692.3" y="0" font-size="24.85">phase peaks</text></g>
<g transform="translate(0,730.5) scale(1,1.04)" fill="#1565dc" font-weight="bold"><text x="619.1" y="0" font-size="16.8">La</text><text x="638.5" y="7.9" font-size="12">2</text><text x="645.0" y="0" font-size="16.8">O</text><text x="658.3" y="7.9" font-size="12">3</text><text x="667.7" y="0" font-size="16.8">NP</text><text x="700.26" y="0" font-size="16.9">(JCPDS No. 04-0856)</text></g>
</svg></body></html>
